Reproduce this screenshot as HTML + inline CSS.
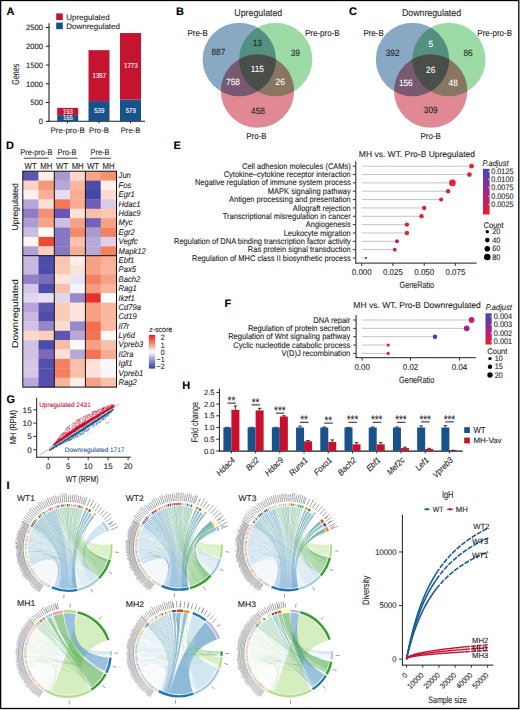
<!DOCTYPE html>
<html><head><meta charset="utf-8"><style>
html,body{margin:0;padding:0;background:#fff;}
svg{display:block;}
text{font-family:"Liberation Sans",sans-serif;text-rendering:geometricPrecision;stroke:currentColor;stroke-width:0.1px;}
</style></head><body>
<svg width="520" height="710" viewBox="0 0 520 710" font-family="Liberation Sans, sans-serif" fill="#1e1e1e" color="#1e1e1e">
<rect x="0" y="0" width="520" height="710" fill="#fff"/>
<text x="6.60" y="14.80" font-size="11" fill="#000" color="#000" font-weight="bold">A</text>
<rect x="56.20" y="13.40" width="6.60" height="6.60" fill="#c41430"/>
<rect x="56.20" y="22.60" width="6.60" height="6.60" fill="#17528a"/>
<text x="66.20" y="19.50" font-size="8" textLength="43.50" lengthAdjust="spacingAndGlyphs">Upregulated</text>
<text x="66.20" y="28.80" font-size="8" textLength="53.80" lengthAdjust="spacingAndGlyphs">Downregulated</text>
<line x1="49.00" y1="23.20" x2="49.00" y2="121.80" stroke="#1e1e1e" stroke-width="1.1"/>
<line x1="48.50" y1="121.30" x2="145.00" y2="121.30" stroke="#1e1e1e" stroke-width="1.1"/>
<line x1="45.80" y1="121.30" x2="49.00" y2="121.30" stroke="#1e1e1e" stroke-width="1"/>
<text x="43.00" y="124.05" font-size="7.8" text-anchor="end" textLength="4.28" lengthAdjust="spacingAndGlyphs">0</text>
<line x1="45.80" y1="102.54" x2="49.00" y2="102.54" stroke="#1e1e1e" stroke-width="1"/>
<text x="43.00" y="105.29" font-size="7.8" text-anchor="end" textLength="12.84" lengthAdjust="spacingAndGlyphs">500</text>
<line x1="45.80" y1="83.78" x2="49.00" y2="83.78" stroke="#1e1e1e" stroke-width="1"/>
<text x="43.00" y="86.53" font-size="7.8" text-anchor="end" textLength="17.12" lengthAdjust="spacingAndGlyphs">1000</text>
<line x1="45.80" y1="65.02" x2="49.00" y2="65.02" stroke="#1e1e1e" stroke-width="1"/>
<text x="43.00" y="67.77" font-size="7.8" text-anchor="end" textLength="17.12" lengthAdjust="spacingAndGlyphs">1500</text>
<line x1="45.80" y1="46.26" x2="49.00" y2="46.26" stroke="#1e1e1e" stroke-width="1"/>
<text x="43.00" y="49.01" font-size="7.8" text-anchor="end" textLength="17.12" lengthAdjust="spacingAndGlyphs">2000</text>
<line x1="45.80" y1="27.50" x2="49.00" y2="27.50" stroke="#1e1e1e" stroke-width="1"/>
<text x="43.00" y="30.25" font-size="7.8" text-anchor="end" textLength="17.12" lengthAdjust="spacingAndGlyphs">2500</text>
<text x="18.90" y="74.30" font-size="10" text-anchor="middle" textLength="21.00" lengthAdjust="spacingAndGlyphs" transform="rotate(-90 18.90 74.30)">Genes</text>
<rect x="57.20" y="115.11" width="21.00" height="6.19" fill="#17528a"/>
<rect x="57.20" y="107.87" width="21.00" height="7.24" fill="#c41430"/>
<line x1="67.60" y1="121.30" x2="67.60" y2="123.30" stroke="#1e1e1e" stroke-width="1"/>
<text x="67.60" y="133.00" font-size="8" text-anchor="middle" textLength="34.10" lengthAdjust="spacingAndGlyphs">Pre-pro-B</text>
<rect x="88.50" y="101.08" width="21.00" height="20.22" fill="#17528a"/>
<rect x="88.50" y="50.16" width="21.00" height="50.91" fill="#c41430"/>
<line x1="99.00" y1="121.30" x2="99.00" y2="123.30" stroke="#1e1e1e" stroke-width="1"/>
<text x="99.00" y="133.00" font-size="8" text-anchor="middle" textLength="19.80" lengthAdjust="spacingAndGlyphs">Pro-B</text>
<rect x="120.00" y="99.58" width="21.00" height="21.72" fill="#17528a"/>
<rect x="120.00" y="33.05" width="21.00" height="66.52" fill="#c41430"/>
<line x1="130.50" y1="121.30" x2="130.50" y2="123.30" stroke="#1e1e1e" stroke-width="1"/>
<text x="130.50" y="133.00" font-size="8" text-anchor="middle" textLength="19.40" lengthAdjust="spacingAndGlyphs">Pre-B</text>
<text x="67.90" y="113.80" font-size="7.2" text-anchor="middle" fill="#fff" color="#fff" textLength="9.80" lengthAdjust="spacingAndGlyphs">193</text>
<text x="67.90" y="120.20" font-size="7.2" text-anchor="middle" fill="#fff" color="#fff" textLength="9.80" lengthAdjust="spacingAndGlyphs">165</text>
<text x="99.30" y="77.50" font-size="7.2" text-anchor="middle" fill="#fff" color="#fff" textLength="13.60" lengthAdjust="spacingAndGlyphs">1357</text>
<text x="99.30" y="112.60" font-size="7.2" text-anchor="middle" fill="#fff" color="#fff" textLength="10.20" lengthAdjust="spacingAndGlyphs">539</text>
<text x="130.80" y="68.30" font-size="7.2" text-anchor="middle" fill="#fff" color="#fff" textLength="13.60" lengthAdjust="spacingAndGlyphs">1773</text>
<text x="130.80" y="112.60" font-size="7.2" text-anchor="middle" fill="#fff" color="#fff" textLength="10.20" lengthAdjust="spacingAndGlyphs">579</text>
<text x="176.00" y="14.50" font-size="11" fill="#000" color="#000" font-weight="bold">B</text>
<g style="isolation:isolate">
<circle cx="239.30" cy="59.50" r="36.70" fill="#88a8c4"/>
<circle cx="275.70" cy="59.50" r="36.70" fill="#9cdba6" style="mix-blend-mode:multiply"/>
<circle cx="257.50" cy="91.00" r="36.70" fill="#e08994" style="mix-blend-mode:multiply"/>
</g>
<text x="258.30" y="16.20" font-size="9.68" text-anchor="middle" textLength="47.95" lengthAdjust="spacingAndGlyphs">Upregulated</text>
<text x="197.70" y="35.80" font-size="8.8" text-anchor="middle" textLength="20.45" lengthAdjust="spacingAndGlyphs">Pre-B</text>
<text x="322.30" y="35.80" font-size="8.8" text-anchor="middle" textLength="34.68" lengthAdjust="spacingAndGlyphs">Pre-pro-B</text>
<text x="256.50" y="139.30" font-size="8.8" text-anchor="middle" textLength="20.45" lengthAdjust="spacingAndGlyphs">Pro-B</text>
<text x="218.40" y="54.80" font-size="9.13" text-anchor="middle" textLength="13.85" lengthAdjust="spacingAndGlyphs">887</text>
<text x="257.30" y="45.60" font-size="9.13" text-anchor="middle" textLength="9.23" lengthAdjust="spacingAndGlyphs">13</text>
<text x="295.30" y="55.50" font-size="9.13" text-anchor="middle" textLength="9.23" lengthAdjust="spacingAndGlyphs">39</text>
<text x="257.30" y="71.60" font-size="9.13" text-anchor="middle" fill="#fff" color="#fff" textLength="13.23" lengthAdjust="spacingAndGlyphs">115</text>
<text x="233.00" y="84.90" font-size="9.13" text-anchor="middle" fill="#fff" color="#fff" textLength="13.85" lengthAdjust="spacingAndGlyphs">758</text>
<text x="280.20" y="84.90" font-size="9.13" text-anchor="middle" fill="#fff" color="#fff" textLength="9.23" lengthAdjust="spacingAndGlyphs">26</text>
<text x="258.00" y="114.40" font-size="9.13" text-anchor="middle" textLength="13.85" lengthAdjust="spacingAndGlyphs">458</text>
<text x="349.00" y="14.50" font-size="11" fill="#000" color="#000" font-weight="bold">C</text>
<g style="isolation:isolate">
<circle cx="412.50" cy="59.50" r="36.70" fill="#88a8c4"/>
<circle cx="448.90" cy="59.50" r="36.70" fill="#9cdba6" style="mix-blend-mode:multiply"/>
<circle cx="430.70" cy="91.00" r="36.70" fill="#e08994" style="mix-blend-mode:multiply"/>
</g>
<text x="431.50" y="16.20" font-size="9.68" text-anchor="middle" textLength="59.20" lengthAdjust="spacingAndGlyphs">Downregulated</text>
<text x="373.60" y="35.80" font-size="8.8" text-anchor="middle" textLength="20.45" lengthAdjust="spacingAndGlyphs">Pre-B</text>
<text x="494.70" y="35.80" font-size="8.8" text-anchor="middle" textLength="34.68" lengthAdjust="spacingAndGlyphs">Pre-pro-B</text>
<text x="430.70" y="139.30" font-size="8.8" text-anchor="middle" textLength="20.45" lengthAdjust="spacingAndGlyphs">Pro-B</text>
<text x="392.60" y="55.50" font-size="9.13" text-anchor="middle" textLength="13.85" lengthAdjust="spacingAndGlyphs">392</text>
<text x="430.70" y="47.20" font-size="9.13" text-anchor="middle" fill="#fff" color="#fff" textLength="4.62" lengthAdjust="spacingAndGlyphs">5</text>
<text x="468.00" y="55.50" font-size="9.13" text-anchor="middle" textLength="9.23" lengthAdjust="spacingAndGlyphs">86</text>
<text x="430.70" y="73.20" font-size="9.13" text-anchor="middle" fill="#fff" color="#fff" textLength="9.23" lengthAdjust="spacingAndGlyphs">26</text>
<text x="405.80" y="85.90" font-size="9.13" text-anchor="middle" fill="#fff" color="#fff" textLength="13.85" lengthAdjust="spacingAndGlyphs">156</text>
<text x="453.20" y="85.90" font-size="9.13" text-anchor="middle" fill="#fff" color="#fff" textLength="9.23" lengthAdjust="spacingAndGlyphs">48</text>
<text x="430.70" y="112.90" font-size="9.13" text-anchor="middle" textLength="13.85" lengthAdjust="spacingAndGlyphs">309</text>
<text x="6.10" y="149.00" font-size="11" fill="#000" color="#000" font-weight="bold">D</text>
<rect x="22.80" y="171.20" width="16.00" height="9.69" fill="#5a55b0"/>
<rect x="38.50" y="171.20" width="16.10" height="9.69" fill="#fdeee8"/>
<rect x="54.30" y="171.20" width="16.00" height="9.69" fill="#a89ad0"/>
<rect x="70.00" y="171.20" width="15.70" height="9.69" fill="#fcd9cc"/>
<rect x="85.40" y="171.20" width="15.60" height="9.69" fill="#f8a68a"/>
<rect x="100.70" y="171.20" width="16.10" height="9.69" fill="#f59072"/>
<rect x="22.80" y="180.59" width="16.00" height="9.69" fill="#fbd3c5"/>
<rect x="38.50" y="180.59" width="16.10" height="9.69" fill="#f59878"/>
<rect x="54.30" y="180.59" width="16.00" height="9.69" fill="#b7a8d8"/>
<rect x="70.00" y="180.59" width="15.70" height="9.69" fill="#f9b6a0"/>
<rect x="85.40" y="180.59" width="15.60" height="9.69" fill="#4d4ca8"/>
<rect x="100.70" y="180.59" width="16.10" height="9.69" fill="#fdf0ea"/>
<rect x="22.80" y="189.97" width="16.00" height="9.69" fill="#fdf0ea"/>
<rect x="38.50" y="189.97" width="16.10" height="9.69" fill="#f8ae98"/>
<rect x="54.30" y="189.97" width="16.00" height="9.69" fill="#e4dcf0"/>
<rect x="70.00" y="189.97" width="15.70" height="9.69" fill="#f8ac92"/>
<rect x="85.40" y="189.97" width="15.60" height="9.69" fill="#4048a8"/>
<rect x="100.70" y="189.97" width="16.10" height="9.69" fill="#fcdcd0"/>
<rect x="22.80" y="199.36" width="16.00" height="9.69" fill="#b9a6d8"/>
<rect x="38.50" y="199.36" width="16.10" height="9.69" fill="#fde0d4"/>
<rect x="54.30" y="199.36" width="16.00" height="9.69" fill="#f27858"/>
<rect x="70.00" y="199.36" width="15.70" height="9.69" fill="#f8ac92"/>
<rect x="85.40" y="199.36" width="15.60" height="9.69" fill="#6e5cb8"/>
<rect x="100.70" y="199.36" width="16.10" height="9.69" fill="#d8cce8"/>
<rect x="22.80" y="208.75" width="16.00" height="9.69" fill="#8e7cc4"/>
<rect x="38.50" y="208.75" width="16.10" height="9.69" fill="#f59072"/>
<rect x="54.30" y="208.75" width="16.00" height="9.69" fill="#6858b4"/>
<rect x="70.00" y="208.75" width="15.70" height="9.69" fill="#fde2d6"/>
<rect x="85.40" y="208.75" width="15.60" height="9.69" fill="#f9c0a8"/>
<rect x="100.70" y="208.75" width="16.10" height="9.69" fill="#fcc8b4"/>
<rect x="22.80" y="218.13" width="16.00" height="9.69" fill="#ae9cd4"/>
<rect x="38.50" y="218.13" width="16.10" height="9.69" fill="#f6a488"/>
<rect x="54.30" y="218.13" width="16.00" height="9.69" fill="#cdbfe2"/>
<rect x="70.00" y="218.13" width="15.70" height="9.69" fill="#f6a084"/>
<rect x="85.40" y="218.13" width="15.60" height="9.69" fill="#7460b8"/>
<rect x="100.70" y="218.13" width="16.10" height="9.69" fill="#f6a084"/>
<rect x="22.80" y="227.52" width="16.00" height="9.69" fill="#cabde4"/>
<rect x="38.50" y="227.52" width="16.10" height="9.69" fill="#fff8f4"/>
<rect x="54.30" y="227.52" width="16.00" height="9.69" fill="#8878c4"/>
<rect x="70.00" y="227.52" width="15.70" height="9.69" fill="#f48a6c"/>
<rect x="85.40" y="227.52" width="15.60" height="9.69" fill="#ab9ad0"/>
<rect x="100.70" y="227.52" width="16.10" height="9.69" fill="#f4825e"/>
<rect x="22.80" y="236.91" width="16.00" height="9.69" fill="#fff6f2"/>
<rect x="38.50" y="236.91" width="16.10" height="9.69" fill="#ee4a30"/>
<rect x="54.30" y="236.91" width="16.00" height="9.69" fill="#8878c4"/>
<rect x="70.00" y="236.91" width="15.70" height="9.69" fill="#f9c2ac"/>
<rect x="85.40" y="236.91" width="15.60" height="9.69" fill="#b8a8d8"/>
<rect x="100.70" y="236.91" width="16.10" height="9.69" fill="#dcd0ec"/>
<rect x="22.80" y="246.30" width="16.00" height="9.69" fill="#b0a0d4"/>
<rect x="38.50" y="246.30" width="16.10" height="9.69" fill="#fcd0bc"/>
<rect x="54.30" y="246.30" width="16.00" height="9.69" fill="#8878c4"/>
<rect x="70.00" y="246.30" width="15.70" height="9.69" fill="#f8ae94"/>
<rect x="85.40" y="246.30" width="15.60" height="9.69" fill="#b8a8d8"/>
<rect x="100.70" y="246.30" width="16.10" height="9.69" fill="#f4805c"/>
<rect x="22.80" y="255.68" width="16.00" height="9.69" fill="#c8b8e0"/>
<rect x="38.50" y="255.68" width="16.10" height="9.69" fill="#4a4eaa"/>
<rect x="54.30" y="255.68" width="16.00" height="9.69" fill="#f9c4b0"/>
<rect x="70.00" y="255.68" width="15.70" height="9.69" fill="#fdf0ea"/>
<rect x="85.40" y="255.68" width="15.60" height="9.69" fill="#f6a084"/>
<rect x="100.70" y="255.68" width="16.10" height="9.69" fill="#f8b098"/>
<rect x="22.80" y="265.07" width="16.00" height="9.69" fill="#c8b8e0"/>
<rect x="38.50" y="265.07" width="16.10" height="9.69" fill="#4a4eaa"/>
<rect x="54.30" y="265.07" width="16.00" height="9.69" fill="#fbcab6"/>
<rect x="70.00" y="265.07" width="15.70" height="9.69" fill="#fde2d8"/>
<rect x="85.40" y="265.07" width="15.60" height="9.69" fill="#f6a084"/>
<rect x="100.70" y="265.07" width="16.10" height="9.69" fill="#f9b49c"/>
<rect x="22.80" y="274.46" width="16.00" height="9.69" fill="#9480c8"/>
<rect x="38.50" y="274.46" width="16.10" height="9.69" fill="#7c6cbc"/>
<rect x="54.30" y="274.46" width="16.00" height="9.69" fill="#fde4dc"/>
<rect x="70.00" y="274.46" width="15.70" height="9.69" fill="#e8e4f4"/>
<rect x="85.40" y="274.46" width="15.60" height="9.69" fill="#f48060"/>
<rect x="100.70" y="274.46" width="16.10" height="9.69" fill="#f6a084"/>
<rect x="22.80" y="283.84" width="16.00" height="9.69" fill="#d4c8e8"/>
<rect x="38.50" y="283.84" width="16.10" height="9.69" fill="#4e4eaa"/>
<rect x="54.30" y="283.84" width="16.00" height="9.69" fill="#f9c0aa"/>
<rect x="70.00" y="283.84" width="15.70" height="9.69" fill="#f6f4fb"/>
<rect x="85.40" y="283.84" width="15.60" height="9.69" fill="#f59c80"/>
<rect x="100.70" y="283.84" width="16.10" height="9.69" fill="#f8b49c"/>
<rect x="22.80" y="293.23" width="16.00" height="9.69" fill="#e0d6ee"/>
<rect x="38.50" y="293.23" width="16.10" height="9.69" fill="#eadff0"/>
<rect x="54.30" y="293.23" width="16.00" height="9.69" fill="#e0d6ee"/>
<rect x="70.00" y="293.23" width="15.70" height="9.69" fill="#9888cc"/>
<rect x="85.40" y="293.23" width="15.60" height="9.69" fill="#e8302a"/>
<rect x="100.70" y="293.23" width="16.10" height="9.69" fill="#ffffff"/>
<rect x="22.80" y="302.62" width="16.00" height="9.69" fill="#b8a4d8"/>
<rect x="38.50" y="302.62" width="16.10" height="9.69" fill="#5a55b0"/>
<rect x="54.30" y="302.62" width="16.00" height="9.69" fill="#fbccb8"/>
<rect x="70.00" y="302.62" width="15.70" height="9.69" fill="#fde4da"/>
<rect x="85.40" y="302.62" width="15.60" height="9.69" fill="#f6a084"/>
<rect x="100.70" y="302.62" width="16.10" height="9.69" fill="#f9b8a0"/>
<rect x="22.80" y="312.00" width="16.00" height="9.69" fill="#c8b8e0"/>
<rect x="38.50" y="312.00" width="16.10" height="9.69" fill="#4e4eaa"/>
<rect x="54.30" y="312.00" width="16.00" height="9.69" fill="#fbccb8"/>
<rect x="70.00" y="312.00" width="15.70" height="9.69" fill="#fde4da"/>
<rect x="85.40" y="312.00" width="15.60" height="9.69" fill="#f6a084"/>
<rect x="100.70" y="312.00" width="16.10" height="9.69" fill="#f9b8a0"/>
<rect x="22.80" y="321.39" width="16.00" height="9.69" fill="#d0c4e6"/>
<rect x="38.50" y="321.39" width="16.10" height="9.69" fill="#9484c8"/>
<rect x="54.30" y="321.39" width="16.00" height="9.69" fill="#fcdcd0"/>
<rect x="70.00" y="321.39" width="15.70" height="9.69" fill="#9888cc"/>
<rect x="85.40" y="321.39" width="15.60" height="9.69" fill="#f27050"/>
<rect x="100.70" y="321.39" width="16.10" height="9.69" fill="#f9b8a0"/>
<rect x="22.80" y="330.78" width="16.00" height="9.69" fill="#fcd8c8"/>
<rect x="38.50" y="330.78" width="16.10" height="9.69" fill="#fcd0bc"/>
<rect x="54.30" y="330.78" width="16.00" height="9.69" fill="#5e56b0"/>
<rect x="70.00" y="330.78" width="15.70" height="9.69" fill="#b8a8d8"/>
<rect x="85.40" y="330.78" width="15.60" height="9.69" fill="#f27456"/>
<rect x="100.70" y="330.78" width="16.10" height="9.69" fill="#fff8f4"/>
<rect x="22.80" y="340.17" width="16.00" height="9.69" fill="#d0c4e6"/>
<rect x="38.50" y="340.17" width="16.10" height="9.69" fill="#4a4eaa"/>
<rect x="54.30" y="340.17" width="16.00" height="9.69" fill="#f9bca6"/>
<rect x="70.00" y="340.17" width="15.70" height="9.69" fill="#fffaf6"/>
<rect x="85.40" y="340.17" width="15.60" height="9.69" fill="#f6a084"/>
<rect x="100.70" y="340.17" width="16.10" height="9.69" fill="#f9c0ac"/>
<rect x="22.80" y="349.55" width="16.00" height="9.69" fill="#d0c4e6"/>
<rect x="38.50" y="349.55" width="16.10" height="9.69" fill="#7c68bc"/>
<rect x="54.30" y="349.55" width="16.00" height="9.69" fill="#fde0d4"/>
<rect x="70.00" y="349.55" width="15.70" height="9.69" fill="#b8a8d8"/>
<rect x="85.40" y="349.55" width="15.60" height="9.69" fill="#f27456"/>
<rect x="100.70" y="349.55" width="16.10" height="9.69" fill="#f8ac92"/>
<rect x="22.80" y="358.94" width="16.00" height="9.69" fill="#d4c8e8"/>
<rect x="38.50" y="358.94" width="16.10" height="9.69" fill="#5650ac"/>
<rect x="54.30" y="358.94" width="16.00" height="9.69" fill="#f48060"/>
<rect x="70.00" y="358.94" width="15.70" height="9.69" fill="#f9c0a8"/>
<rect x="85.40" y="358.94" width="15.60" height="9.69" fill="#fde2d8"/>
<rect x="100.70" y="358.94" width="16.10" height="9.69" fill="#fbf8fc"/>
<rect x="22.80" y="368.33" width="16.00" height="9.69" fill="#d4c8e8"/>
<rect x="38.50" y="368.33" width="16.10" height="9.69" fill="#5650ac"/>
<rect x="54.30" y="368.33" width="16.00" height="9.69" fill="#f48060"/>
<rect x="70.00" y="368.33" width="15.70" height="9.69" fill="#f9c0a8"/>
<rect x="85.40" y="368.33" width="15.60" height="9.69" fill="#fde2d8"/>
<rect x="100.70" y="368.33" width="16.10" height="9.69" fill="#f8f6fc"/>
<rect x="22.80" y="377.71" width="16.00" height="9.69" fill="#bca8d8"/>
<rect x="38.50" y="377.71" width="16.10" height="9.69" fill="#5650ac"/>
<rect x="54.30" y="377.71" width="16.00" height="9.69" fill="#f8b49c"/>
<rect x="70.00" y="377.71" width="15.70" height="9.69" fill="#fdeee8"/>
<rect x="85.40" y="377.71" width="15.60" height="9.69" fill="#f6a084"/>
<rect x="100.70" y="377.71" width="16.10" height="9.69" fill="#f9c0a8"/>
<rect x="22.80" y="171.20" width="93.70" height="215.90" fill="none" stroke="#111" stroke-width="1"/>
<line x1="54.30" y1="171.20" x2="54.30" y2="387.10" stroke="#111" stroke-width="1"/>
<line x1="85.40" y1="171.20" x2="85.40" y2="387.10" stroke="#111" stroke-width="1"/>
<line x1="22.80" y1="255.68" x2="116.50" y2="255.68" stroke="#111" stroke-width="1"/>
<text x="118.60" y="178.49" font-size="8.36" font-style="italic" textLength="12.25" lengthAdjust="spacingAndGlyphs">Jun</text>
<text x="118.60" y="187.88" font-size="8.36" font-style="italic" textLength="12.67" lengthAdjust="spacingAndGlyphs">Fos</text>
<text x="118.60" y="197.27" font-size="8.36" font-style="italic" textLength="16.05" lengthAdjust="spacingAndGlyphs">Egr1</text>
<text x="118.60" y="206.65" font-size="8.36" font-style="italic" textLength="21.97" lengthAdjust="spacingAndGlyphs">Hdac1</text>
<text x="118.60" y="216.04" font-size="8.36" font-style="italic" textLength="21.97" lengthAdjust="spacingAndGlyphs">Hdac9</text>
<text x="118.60" y="225.43" font-size="8.36" font-style="italic" textLength="13.93" lengthAdjust="spacingAndGlyphs">Myc</text>
<text x="118.60" y="234.82" font-size="8.36" font-style="italic" textLength="16.05" lengthAdjust="spacingAndGlyphs">Egr2</text>
<text x="118.60" y="244.20" font-size="8.36" font-style="italic" textLength="19.15" lengthAdjust="spacingAndGlyphs">Vegfc</text>
<text x="118.60" y="253.59" font-size="8.36" font-style="italic" textLength="27.04" lengthAdjust="spacingAndGlyphs">Mapk12</text>
<text x="118.60" y="262.98" font-size="8.36" font-style="italic" textLength="15.63" lengthAdjust="spacingAndGlyphs">Ebf1</text>
<text x="118.60" y="272.36" font-size="8.36" font-style="italic" textLength="17.32" lengthAdjust="spacingAndGlyphs">Pax5</text>
<text x="118.60" y="281.75" font-size="8.36" font-style="italic" textLength="21.55" lengthAdjust="spacingAndGlyphs">Bach2</text>
<text x="118.60" y="291.14" font-size="8.36" font-style="italic" textLength="18.17" lengthAdjust="spacingAndGlyphs">Rag1</text>
<text x="118.60" y="300.52" font-size="8.36" font-style="italic" textLength="16.05" lengthAdjust="spacingAndGlyphs">Ikzf1</text>
<text x="118.60" y="309.91" font-size="8.36" font-style="italic" textLength="22.40" lengthAdjust="spacingAndGlyphs">Cd79a</text>
<text x="118.60" y="319.30" font-size="8.36" font-style="italic" textLength="18.17" lengthAdjust="spacingAndGlyphs">Cd19</text>
<text x="118.60" y="328.68" font-size="8.36" font-style="italic" textLength="10.56" lengthAdjust="spacingAndGlyphs">Il7r</text>
<text x="118.60" y="338.07" font-size="8.36" font-style="italic" textLength="16.34" lengthAdjust="spacingAndGlyphs">Ly6d</text>
<text x="118.60" y="347.46" font-size="8.36" font-style="italic" textLength="24.51" lengthAdjust="spacingAndGlyphs">Vpreb3</text>
<text x="118.60" y="356.85" font-size="8.36" font-style="italic" textLength="14.78" lengthAdjust="spacingAndGlyphs">Il2ra</text>
<text x="118.60" y="366.23" font-size="8.36" font-style="italic" textLength="13.94" lengthAdjust="spacingAndGlyphs">Igll1</text>
<text x="118.60" y="375.62" font-size="8.36" font-style="italic" textLength="24.51" lengthAdjust="spacingAndGlyphs">Vpreb1</text>
<text x="118.60" y="385.01" font-size="8.36" font-style="italic" textLength="18.17" lengthAdjust="spacingAndGlyphs">Rag2</text>
<text x="36.30" y="155.20" font-size="8.14" text-anchor="middle" textLength="32.08" lengthAdjust="spacingAndGlyphs">Pre-pro-B</text>
<text x="67.00" y="155.20" font-size="8.14" text-anchor="middle" textLength="18.92" lengthAdjust="spacingAndGlyphs">Pro-B</text>
<text x="100.00" y="155.20" font-size="8.14" text-anchor="middle" textLength="18.92" lengthAdjust="spacingAndGlyphs">Pre-B</text>
<line x1="23.80" y1="158.20" x2="48.80" y2="158.20" stroke="#555" stroke-width="1.1"/>
<line x1="56.30" y1="158.20" x2="77.50" y2="158.20" stroke="#555" stroke-width="1.1"/>
<line x1="90.00" y1="158.20" x2="111.30" y2="158.20" stroke="#555" stroke-width="1.1"/>
<text x="30.65" y="168.90" font-size="8.58" text-anchor="middle" textLength="12.13" lengthAdjust="spacingAndGlyphs">WT</text>
<text x="46.40" y="168.90" font-size="8.58" text-anchor="middle" textLength="12.13" lengthAdjust="spacingAndGlyphs">MH</text>
<text x="62.15" y="168.90" font-size="8.58" text-anchor="middle" textLength="12.13" lengthAdjust="spacingAndGlyphs">WT</text>
<text x="77.70" y="168.90" font-size="8.58" text-anchor="middle" textLength="12.13" lengthAdjust="spacingAndGlyphs">MH</text>
<text x="93.05" y="168.90" font-size="8.58" text-anchor="middle" textLength="12.13" lengthAdjust="spacingAndGlyphs">WT</text>
<text x="108.60" y="168.90" font-size="8.58" text-anchor="middle" textLength="12.13" lengthAdjust="spacingAndGlyphs">MH</text>
<text x="18.40" y="206.80" font-size="8.5" text-anchor="middle" textLength="47.40" lengthAdjust="spacingAndGlyphs" transform="rotate(-90 18.40 206.80)">Upregulated</text>
<text x="18.40" y="313.50" font-size="8.5" text-anchor="middle" textLength="69.00" lengthAdjust="spacingAndGlyphs" transform="rotate(-90 18.40 313.50)">Downregulated</text>
<defs><linearGradient id="zs" x1="0" y1="0" x2="0" y2="1"><stop offset="0" stop-color="#e8202a"/><stop offset="0.25" stop-color="#f4876a"/><stop offset="0.5" stop-color="#ffffff"/><stop offset="0.75" stop-color="#9b8fcf"/><stop offset="1" stop-color="#2f3f9f"/></linearGradient></defs>
<rect x="148.90" y="335.00" width="6.30" height="33.60" fill="url(#zs)"/>
<text x="160.70" y="332.30" font-size="7.7" text-anchor="middle" textLength="22.95" lengthAdjust="spacingAndGlyphs">z-score</text>
<text x="164.60" y="340.40" font-size="7.7" text-anchor="end" textLength="3.89" lengthAdjust="spacingAndGlyphs">2</text>
<text x="164.60" y="347.50" font-size="7.7" text-anchor="end" textLength="3.89" lengthAdjust="spacingAndGlyphs">1</text>
<text x="164.60" y="354.50" font-size="7.7" text-anchor="end" textLength="3.89" lengthAdjust="spacingAndGlyphs">0</text>
<text x="164.60" y="361.50" font-size="7.7" text-anchor="end" textLength="7.98" lengthAdjust="spacingAndGlyphs">−1</text>
<text x="164.60" y="368.80" font-size="7.7" text-anchor="end" textLength="7.98" lengthAdjust="spacingAndGlyphs">−2</text>
<text x="173.60" y="148.80" font-size="11" fill="#000" color="#000" font-weight="bold">E</text>
<line x1="361.70" y1="166.20" x2="471.50" y2="166.20" stroke="#c4c4c4" stroke-width="1"/>
<circle cx="471.50" cy="166.20" r="2.40" fill="#e8202c"/>
<line x1="352.80" y1="166.20" x2="355.80" y2="166.20" stroke="#1e1e1e" stroke-width="0.9"/>
<text x="350.80" y="168.80" font-size="8.25" text-anchor="end" textLength="108.79" lengthAdjust="spacingAndGlyphs">Cell adhesion molecules (CAMs)</text>
<line x1="361.70" y1="174.55" x2="469.40" y2="174.55" stroke="#c4c4c4" stroke-width="1"/>
<circle cx="469.40" cy="174.55" r="2.40" fill="#e8202c"/>
<line x1="352.80" y1="174.55" x2="355.80" y2="174.55" stroke="#1e1e1e" stroke-width="0.9"/>
<text x="350.80" y="177.15" font-size="8.25" text-anchor="end" textLength="127.15" lengthAdjust="spacingAndGlyphs">Cytokine–cytokine receptor interaction</text>
<line x1="361.70" y1="182.89" x2="452.40" y2="182.89" stroke="#c4c4c4" stroke-width="1"/>
<circle cx="452.40" cy="182.89" r="3.30" fill="#e8202c"/>
<line x1="352.80" y1="182.89" x2="355.80" y2="182.89" stroke="#1e1e1e" stroke-width="0.9"/>
<text x="350.80" y="185.49" font-size="8.25" text-anchor="end" textLength="155.91" lengthAdjust="spacingAndGlyphs">Negative regulation of immune system process</text>
<line x1="361.70" y1="191.24" x2="448.10" y2="191.24" stroke="#c4c4c4" stroke-width="1"/>
<circle cx="448.10" cy="191.24" r="2.20" fill="#e8202c"/>
<line x1="352.80" y1="191.24" x2="355.80" y2="191.24" stroke="#1e1e1e" stroke-width="0.9"/>
<text x="350.80" y="193.84" font-size="8.25" text-anchor="end" textLength="82.96" lengthAdjust="spacingAndGlyphs">MAPK signaling pathway</text>
<line x1="361.70" y1="199.58" x2="441.10" y2="199.58" stroke="#c4c4c4" stroke-width="1"/>
<circle cx="441.10" cy="199.58" r="2.10" fill="#e8202c"/>
<line x1="352.80" y1="199.58" x2="355.80" y2="199.58" stroke="#1e1e1e" stroke-width="0.9"/>
<text x="350.80" y="202.18" font-size="8.25" text-anchor="end" textLength="121.75" lengthAdjust="spacingAndGlyphs">Antigen processing and presentation</text>
<line x1="361.70" y1="207.93" x2="424.20" y2="207.93" stroke="#c4c4c4" stroke-width="1"/>
<circle cx="424.20" cy="207.93" r="2.20" fill="#e8202c"/>
<line x1="352.80" y1="207.93" x2="355.80" y2="207.93" stroke="#1e1e1e" stroke-width="0.9"/>
<text x="350.80" y="210.53" font-size="8.25" text-anchor="end" textLength="57.95" lengthAdjust="spacingAndGlyphs">Allograft rejection</text>
<line x1="361.70" y1="216.27" x2="421.50" y2="216.27" stroke="#c4c4c4" stroke-width="1"/>
<circle cx="421.50" cy="216.27" r="2.20" fill="#e02238"/>
<line x1="352.80" y1="216.27" x2="355.80" y2="216.27" stroke="#1e1e1e" stroke-width="0.9"/>
<text x="350.80" y="218.87" font-size="8.25" text-anchor="end" textLength="128.12" lengthAdjust="spacingAndGlyphs">Transcriptional misregulation in cancer</text>
<line x1="361.70" y1="224.62" x2="406.90" y2="224.62" stroke="#c4c4c4" stroke-width="1"/>
<circle cx="406.90" cy="224.62" r="2.20" fill="#e8202c"/>
<line x1="352.80" y1="224.62" x2="355.80" y2="224.62" stroke="#1e1e1e" stroke-width="0.9"/>
<text x="350.80" y="227.22" font-size="8.25" text-anchor="end" textLength="45.03" lengthAdjust="spacingAndGlyphs">Angiogenesis</text>
<line x1="361.70" y1="232.96" x2="406.90" y2="232.96" stroke="#c4c4c4" stroke-width="1"/>
<circle cx="406.90" cy="232.96" r="2.20" fill="#e8202c"/>
<line x1="352.80" y1="232.96" x2="355.80" y2="232.96" stroke="#1e1e1e" stroke-width="0.9"/>
<text x="350.80" y="235.56" font-size="8.25" text-anchor="end" textLength="67.12" lengthAdjust="spacingAndGlyphs">Leukocyte migration</text>
<line x1="361.70" y1="241.31" x2="397.00" y2="241.31" stroke="#c4c4c4" stroke-width="1"/>
<circle cx="397.00" cy="241.31" r="2.00" fill="#b8207a"/>
<line x1="352.80" y1="241.31" x2="355.80" y2="241.31" stroke="#1e1e1e" stroke-width="0.9"/>
<text x="350.80" y="243.91" font-size="8.25" text-anchor="end" textLength="176.76" lengthAdjust="spacingAndGlyphs">Regulation of DNA binding transcription factor activity</text>
<line x1="361.70" y1="249.65" x2="394.80" y2="249.65" stroke="#c4c4c4" stroke-width="1"/>
<circle cx="394.80" cy="249.65" r="1.90" fill="#d41d4a"/>
<line x1="352.80" y1="249.65" x2="355.80" y2="249.65" stroke="#1e1e1e" stroke-width="0.9"/>
<text x="350.80" y="252.25" font-size="8.25" text-anchor="end" textLength="102.98" lengthAdjust="spacingAndGlyphs">Ras protein signal transduction</text>
<line x1="361.70" y1="258.00" x2="366.00" y2="258.00" stroke="#c4c4c4" stroke-width="1"/>
<circle cx="366.00" cy="258.00" r="1.10" fill="#2a3fa8"/>
<line x1="352.80" y1="258.00" x2="355.80" y2="258.00" stroke="#1e1e1e" stroke-width="0.9"/>
<text x="350.80" y="260.60" font-size="8.25" text-anchor="end" textLength="158.82" lengthAdjust="spacingAndGlyphs">Regulation of MHC class II biosynthetic process</text>
<line x1="355.80" y1="161.30" x2="355.80" y2="263.60" stroke="#1e1e1e" stroke-width="1"/>
<line x1="355.30" y1="263.10" x2="476.70" y2="263.10" stroke="#1e1e1e" stroke-width="1"/>
<line x1="361.70" y1="263.10" x2="361.70" y2="266.00" stroke="#1e1e1e" stroke-width="0.9"/>
<text x="361.70" y="275.20" font-size="8.69" text-anchor="middle" textLength="19.77" lengthAdjust="spacingAndGlyphs">0.000</text>
<line x1="392.90" y1="263.10" x2="392.90" y2="266.00" stroke="#1e1e1e" stroke-width="0.9"/>
<text x="392.90" y="275.20" font-size="8.69" text-anchor="middle" textLength="19.77" lengthAdjust="spacingAndGlyphs">0.025</text>
<line x1="424.20" y1="263.10" x2="424.20" y2="266.00" stroke="#1e1e1e" stroke-width="0.9"/>
<text x="424.20" y="275.20" font-size="8.69" text-anchor="middle" textLength="19.77" lengthAdjust="spacingAndGlyphs">0.050</text>
<line x1="455.40" y1="263.10" x2="455.40" y2="266.00" stroke="#1e1e1e" stroke-width="0.9"/>
<text x="455.40" y="275.20" font-size="8.69" text-anchor="middle" textLength="19.77" lengthAdjust="spacingAndGlyphs">0.075</text>
<text x="416.80" y="287.60" font-size="9.4" text-anchor="middle" textLength="34.60" lengthAdjust="spacingAndGlyphs">GeneRatio</text>
<text x="416.90" y="156.80" font-size="8.5" text-anchor="middle" textLength="116.10" lengthAdjust="spacingAndGlyphs">MH vs. WT. Pro-B Upregulated</text>
<defs><linearGradient id="pa" x1="0" y1="0" x2="0" y2="1"><stop offset="0" stop-color="#3a4ab8"/><stop offset="0.5" stop-color="#a0248e"/><stop offset="1" stop-color="#ee1c25"/></linearGradient></defs>
<text x="482.40" y="165.50" font-size="8.25" font-style="italic" textLength="26.13" lengthAdjust="spacingAndGlyphs">P.adjust</text>
<rect x="483.00" y="168.80" width="6.60" height="45.70" fill="url(#pa)"/>
<line x1="488.20" y1="171.40" x2="489.60" y2="171.40" stroke="#fff" stroke-width="0.8"/>
<text x="491.20" y="174.00" font-size="8.03" textLength="22.33" lengthAdjust="spacingAndGlyphs">0.0125</text>
<line x1="488.20" y1="179.40" x2="489.60" y2="179.40" stroke="#fff" stroke-width="0.8"/>
<text x="491.20" y="182.00" font-size="8.03" textLength="22.33" lengthAdjust="spacingAndGlyphs">0.0100</text>
<line x1="488.20" y1="187.80" x2="489.60" y2="187.80" stroke="#fff" stroke-width="0.8"/>
<text x="491.20" y="190.40" font-size="8.03" textLength="22.33" lengthAdjust="spacingAndGlyphs">0.0075</text>
<line x1="488.20" y1="196.20" x2="489.60" y2="196.20" stroke="#fff" stroke-width="0.8"/>
<text x="491.20" y="198.80" font-size="8.03" textLength="22.33" lengthAdjust="spacingAndGlyphs">0.0050</text>
<line x1="488.20" y1="204.40" x2="489.60" y2="204.40" stroke="#fff" stroke-width="0.8"/>
<text x="491.20" y="207.00" font-size="8.03" textLength="22.33" lengthAdjust="spacingAndGlyphs">0.0025</text>
<text x="483.60" y="228.20" font-size="8.25" textLength="20.01" lengthAdjust="spacingAndGlyphs">Count</text>
<circle cx="487.30" cy="231.80" r="1.70" fill="#000"/>
<text x="492.30" y="234.40" font-size="8.03" textLength="8.12" lengthAdjust="spacingAndGlyphs">20</text>
<circle cx="487.30" cy="240.10" r="2.30" fill="#000"/>
<text x="492.30" y="242.70" font-size="8.03" textLength="8.12" lengthAdjust="spacingAndGlyphs">40</text>
<circle cx="487.30" cy="248.80" r="2.80" fill="#000"/>
<text x="492.30" y="251.40" font-size="8.03" textLength="8.12" lengthAdjust="spacingAndGlyphs">60</text>
<circle cx="487.30" cy="257.00" r="3.30" fill="#000"/>
<text x="492.30" y="259.60" font-size="8.03" textLength="8.12" lengthAdjust="spacingAndGlyphs">80</text>
<text x="224.60" y="307.30" font-size="11" fill="#000" color="#000" font-weight="bold">F</text>
<line x1="362.10" y1="320.00" x2="471.60" y2="320.00" stroke="#c4c4c4" stroke-width="1"/>
<circle cx="471.60" cy="320.00" r="2.90" fill="#c81e78"/>
<line x1="353.20" y1="320.00" x2="356.10" y2="320.00" stroke="#1e1e1e" stroke-width="0.9"/>
<text x="350.30" y="322.60" font-size="8.3" text-anchor="end" textLength="36.93" lengthAdjust="spacingAndGlyphs">DNA repair</text>
<line x1="362.10" y1="328.35" x2="466.70" y2="328.35" stroke="#c4c4c4" stroke-width="1"/>
<circle cx="466.70" cy="328.35" r="2.90" fill="#a02688"/>
<line x1="353.20" y1="328.35" x2="356.10" y2="328.35" stroke="#1e1e1e" stroke-width="0.9"/>
<text x="350.30" y="330.95" font-size="8.3" text-anchor="end" textLength="102.41" lengthAdjust="spacingAndGlyphs">Regulation of protein secretion</text>
<line x1="362.10" y1="336.70" x2="435.00" y2="336.70" stroke="#c4c4c4" stroke-width="1"/>
<circle cx="435.00" cy="336.70" r="2.20" fill="#2f44b0"/>
<line x1="353.20" y1="336.70" x2="356.10" y2="336.70" stroke="#1e1e1e" stroke-width="0.9"/>
<text x="350.30" y="339.30" font-size="8.3" text-anchor="end" textLength="122.13" lengthAdjust="spacingAndGlyphs">Regulation of Wnt signaling pathway</text>
<line x1="362.10" y1="345.05" x2="388.20" y2="345.05" stroke="#c4c4c4" stroke-width="1"/>
<circle cx="388.20" cy="345.05" r="1.60" fill="#ee1c25"/>
<line x1="353.20" y1="345.05" x2="356.10" y2="345.05" stroke="#1e1e1e" stroke-width="0.9"/>
<text x="350.30" y="347.65" font-size="8.3" text-anchor="end" textLength="117.08" lengthAdjust="spacingAndGlyphs">Cyclic nucleotide catabolic process</text>
<line x1="362.10" y1="353.40" x2="388.20" y2="353.40" stroke="#c4c4c4" stroke-width="1"/>
<circle cx="388.20" cy="353.40" r="1.60" fill="#ee1c25"/>
<line x1="353.20" y1="353.40" x2="356.10" y2="353.40" stroke="#1e1e1e" stroke-width="0.9"/>
<text x="350.30" y="356.00" font-size="8.3" text-anchor="end" textLength="68.82" lengthAdjust="spacingAndGlyphs">V(D)J recombination</text>
<line x1="356.10" y1="315.00" x2="356.10" y2="358.20" stroke="#1e1e1e" stroke-width="1"/>
<line x1="355.60" y1="357.70" x2="475.90" y2="357.70" stroke="#1e1e1e" stroke-width="1"/>
<line x1="362.10" y1="357.70" x2="362.10" y2="360.60" stroke="#1e1e1e" stroke-width="0.9"/>
<text x="362.10" y="370.20" font-size="8.69" text-anchor="middle" textLength="15.38" lengthAdjust="spacingAndGlyphs">0.00</text>
<line x1="410.50" y1="357.70" x2="410.50" y2="360.60" stroke="#1e1e1e" stroke-width="0.9"/>
<text x="410.50" y="370.20" font-size="8.69" text-anchor="middle" textLength="15.38" lengthAdjust="spacingAndGlyphs">0.02</text>
<line x1="459.50" y1="357.70" x2="459.50" y2="360.60" stroke="#1e1e1e" stroke-width="0.9"/>
<text x="459.50" y="370.20" font-size="8.69" text-anchor="middle" textLength="15.38" lengthAdjust="spacingAndGlyphs">0.04</text>
<text x="416.70" y="382.80" font-size="9.4" text-anchor="middle" textLength="35.30" lengthAdjust="spacingAndGlyphs">GeneRatio</text>
<text x="417.05" y="307.60" font-size="8.5" text-anchor="middle" textLength="127.50" lengthAdjust="spacingAndGlyphs">MH vs. WT. Pro-B Downregulated</text>
<defs><linearGradient id="pb" x1="0" y1="0" x2="0" y2="1"><stop offset="0" stop-color="#3a4ab8"/><stop offset="0.5" stop-color="#a0248e"/><stop offset="1" stop-color="#ee1c25"/></linearGradient></defs>
<text x="485.70" y="309.80" font-size="8.25" font-style="italic" textLength="26.13" lengthAdjust="spacingAndGlyphs">P.adjust</text>
<rect x="485.50" y="313.30" width="6.20" height="31.20" fill="url(#pb)"/>
<line x1="490.40" y1="316.40" x2="491.70" y2="316.40" stroke="#fff" stroke-width="0.8"/>
<text x="493.80" y="319.00" font-size="8.03" textLength="18.27" lengthAdjust="spacingAndGlyphs">0.004</text>
<line x1="490.40" y1="324.80" x2="491.70" y2="324.80" stroke="#fff" stroke-width="0.8"/>
<text x="493.80" y="327.40" font-size="8.03" textLength="18.27" lengthAdjust="spacingAndGlyphs">0.003</text>
<line x1="490.40" y1="333.00" x2="491.70" y2="333.00" stroke="#fff" stroke-width="0.8"/>
<text x="493.80" y="335.60" font-size="8.03" textLength="18.27" lengthAdjust="spacingAndGlyphs">0.002</text>
<line x1="490.40" y1="341.30" x2="491.70" y2="341.30" stroke="#fff" stroke-width="0.8"/>
<text x="493.80" y="343.90" font-size="8.03" textLength="18.27" lengthAdjust="spacingAndGlyphs">0.001</text>
<text x="487.30" y="353.70" font-size="8.25" textLength="20.01" lengthAdjust="spacingAndGlyphs">Count</text>
<circle cx="490.00" cy="358.60" r="1.70" fill="#000"/>
<text x="494.80" y="361.20" font-size="8.03" textLength="8.12" lengthAdjust="spacingAndGlyphs">10</text>
<circle cx="490.00" cy="366.80" r="2.20" fill="#000"/>
<text x="494.80" y="369.40" font-size="8.03" textLength="8.12" lengthAdjust="spacingAndGlyphs">15</text>
<circle cx="490.00" cy="375.00" r="2.70" fill="#000"/>
<text x="494.80" y="377.60" font-size="8.03" textLength="8.12" lengthAdjust="spacingAndGlyphs">20</text>
<text x="6.60" y="403.00" font-size="11" fill="#000" color="#000" font-weight="bold">G</text>
<line x1="39.5" y1="455.1" x2="119.1" y2="404.1" stroke="#bdbdbd" stroke-width="1.0"/>
<line x1="50" y1="448.37" x2="113" y2="408.01" stroke="#c4c4c4" stroke-width="2.4"/>
<polygon points="53.5,445.0 55.0,444.1 56.5,443.1 58.0,442.1 59.5,441.2 61.0,440.2 62.5,439.3 64.0,438.3 65.5,437.3 67.0,436.4 68.5,435.4 70.0,434.5 71.5,433.5 73.0,432.5 74.5,431.6 76.0,430.6 77.5,429.7 79.0,428.7 80.5,427.7 82.0,426.8 83.5,425.8 85.0,424.8 86.5,423.9 88.0,422.9 89.5,422.0 91.0,421.0 92.5,420.0 94.0,419.1 95.5,418.1 97.0,417.2 98.5,416.2 100.0,415.2 101.5,414.3 103.0,413.3 104.5,412.4 106.0,411.4 107.5,410.4 109.0,409.5 110.5,408.5 112.0,407.5 113.5,406.6 113.5,406.1 112.0,406.7 110.5,407.4 109.0,408.2 107.5,409.0 106.0,409.9 104.5,410.7 103.0,411.6 101.5,412.4 100.0,413.2 98.5,414.1 97.0,414.9 95.5,415.8 94.0,416.6 92.5,417.5 91.0,418.4 89.5,419.2 88.0,420.1 86.5,421.0 85.0,421.9 83.5,422.8 82.0,423.7 80.5,424.6 79.0,425.5 77.5,426.4 76.0,427.3 74.5,428.3 73.0,429.4 71.5,430.4 70.0,431.4 68.5,432.5 67.0,433.6 65.5,434.8 64.0,436.0 62.5,437.3 61.0,438.5 59.5,439.7 58.0,441.0 56.5,442.3 55.0,443.5 53.5,444.8" fill="#c8102e"/>
<polygon points="49.5,449.8 51.1,448.8 52.6,447.8 54.2,446.8 55.8,445.8 57.4,444.7 59.0,443.7 60.5,442.7 62.1,441.7 63.7,440.7 65.2,439.7 66.8,438.7 68.4,437.7 70.0,436.7 71.5,435.7 73.1,434.7 74.7,433.6 76.3,432.6 77.8,431.6 79.4,430.6 81.0,429.6 82.6,428.6 84.2,427.6 85.7,426.6 87.3,425.6 88.9,424.6 90.5,423.6 92.0,422.5 93.6,421.5 95.2,420.5 96.8,419.5 98.3,418.5 99.9,417.5 101.5,416.5 103.0,415.5 104.6,414.5 106.2,413.5 107.8,412.5 109.3,411.4 110.9,410.4 112.5,409.4 112.5,410.0 110.9,411.4 109.3,412.7 107.8,413.9 106.2,415.0 104.6,416.1 103.0,417.2 101.5,418.3 99.9,419.3 98.3,420.4 96.8,421.4 95.2,422.4 93.6,423.4 92.0,424.4 90.5,425.4 88.9,426.5 87.3,427.5 85.7,428.6 84.2,429.6 82.6,430.6 81.0,431.6 79.4,432.5 77.8,433.5 76.3,434.5 74.7,435.4 73.1,436.2 71.5,437.1 70.0,438.0 68.4,438.9 66.8,439.8 65.2,440.6 63.7,441.5 62.1,442.5 60.5,443.4 59.0,444.3 57.4,445.3 55.8,446.2 54.2,447.2 52.6,448.1 51.1,449.1 49.5,450.0" fill="#1d5a93"/>
<path d="M73.1 432.1h.8M92.9 419.7h.8M85.9 422.5h.8M57.0 441.8h.8M55.8 443.0h.8M57.7 442.3h.8M79.2 420.9h.8M61.0 439.8h.8M91.5 412.7h.8M88.4 420.7h.8M112.6 407.2h.8M105.4 411.1h.8M62.2 439.3h.8M72.2 425.7h.8M64.4 434.9h.8M92.2 418.7h.8M86.6 423.7h.8M57.1 442.5h.8M94.7 416.8h.8M72.5 428.6h.8M80.9 426.1h.8M101.6 410.8h.8M68.3 431.7h.8M85.3 416.9h.8M97.6 415.9h.8M112.8 407.0h.8M78.8 422.2h.8M62.7 437.1h.8M55.9 442.3h.8M99.8 412.8h.8M106.5 410.4h.8M95.6 414.9h.8M88.6 420.1h.8M104.3 407.5h.8M82.2 421.6h.8M57.2 440.9h.8M92.7 411.6h.8M103.2 412.5h.8M76.8 424.6h.8M54.9 443.7h.8M63.7 438.3h.8M57.1 440.7h.8M61.3 439.5h.8M77.2 421.3h.8M58.4 440.8h.8M86.7 416.0h.8M103.1 408.7h.8M70.3 432.0h.8M75.2 422.3h.8M111.4 407.8h.8M64.2 437.6h.8M67.6 433.2h.8M89.1 421.3h.8M53.7 444.7h.8M75.8 426.5h.8M111.2 406.2h.8M84.7 420.7h.8M94.4 418.8h.8M107.9 407.2h.8M106.4 407.8h.8M77.2 427.6h.8M59.8 438.7h.8M57.3 442.6h.8M66.1 436.5h.8M74.1 431.8h.8M53.5 445.0h.8M59.6 440.2h.8M55.0 442.6h.8M90.7 420.9h.8M68.8 433.6h.8M75.5 430.6h.8M104.9 406.8h.8M81.7 424.0h.8M58.7 441.6h.8M74.2 430.6h.8M103.6 412.6h.8M54.9 442.5h.8M85.5 424.2h.8M86.4 424.0h.8M85.5 415.2h.8M105.7 408.8h.8M69.3 433.1h.8M63.6 433.9h.8M85.7 418.1h.8M73.4 431.4h.8M102.6 407.8h.8M105.1 408.3h.8M103.0 409.8h.8M67.2 433.2h.8M75.0 431.2h.8M55.2 443.7h.8M69.2 429.6h.8M111.4 407.1h.8M110.2 404.9h.8M111.3 407.4h.8M66.8 435.8h.8M65.4 436.8h.8M91.3 413.5h.8M104.3 410.9h.8M93.0 414.0h.8M58.6 439.6h.8M108.5 406.9h.8M98.9 414.0h.8M64.3 433.0h.8M73.6 424.8h.8M112.3 406.8h.8M77.8 419.7h.8M97.4 416.6h.8M61.2 439.9h.8M108.2 406.9h.8M62.3 434.6h.8M112.8 405.9h.8M74.7 427.5h.8M61.4 439.9h.8M112.2 406.1h.8M85.4 416.0h.8M79.7 419.9h.8M103.5 412.6h.8M68.7 434.0h.8M68.1 431.8h.8M69.2 432.7h.8M61.4 434.8h.8M74.9 428.4h.8M88.8 414.7h.8M78.9 419.6h.8M83.8 422.2h.8M85.2 424.7h.8M80.1 427.4h.8M53.7 444.2h.8M63.9 436.3h.8M97.4 414.2h.8M73.2 428.9h.8M87.1 417.3h.8M59.9 439.0h.8M68.5 434.3h.8M100.2 413.0h.8M87.5 417.4h.8M108.7 408.6h.8M90.6 418.5h.8M84.5 419.9h.8M80.9 423.9h.8M82.4 417.3h.8M95.8 411.8h.8M110.5 408.1h.8M87.4 414.8h.8M104.3 412.3h.8M60.9 438.9h.8M57.9 441.9h.8M57.9 440.3h.8M100.9 409.3h.8M62.8 435.2h.8M93.4 419.1h.8M106.9 406.3h.8M66.8 428.2h.8M77.6 426.4h.8M113.4 405.3h.8M63.3 437.1h.8M84.7 423.5h.8M65.3 436.3h.8M97.2 417.0h.8M87.0 421.2h.8M54.6 444.1h.8M91.2 418.0h.8M57.4 439.2h.8M101.2 408.4h.8M59.8 440.4h.8M55.9 441.9h.8M69.9 434.2h.8M79.0 419.6h.8M103.0 412.7h.8M62.5 433.4h.8M88.0 417.8h.8M58.9 441.5h.8M95.1 416.5h.8M57.9 438.8h.8M91.9 414.5h.8M58.6 438.5h.8M57.5 439.7h.8M81.0 425.8h.8M87.0 415.3h.8M69.7 434.3h.8M85.4 423.8h.8M60.1 440.5h.8M56.5 442.9h.8M72.4 431.5h.8M99.4 414.8h.8M83.8 425.1h.8M74.5 431.6h.8M68.7 435.3h.8M97.9 414.0h.8M65.0 435.4h.8M110.0 408.7h.8M103.0 411.9h.8M83.4 418.5h.8M77.3 426.4h.8M95.1 410.7h.8M74.2 423.9h.8M96.3 414.1h.8M78.0 427.6h.8M56.8 442.8h.8M57.8 440.1h.8M69.0 434.7h.8M58.6 438.6h.8M106.2 408.8h.8M70.6 433.2h.8M71.2 430.9h.8M63.0 437.2h.8M69.4 425.5h.8M112.3 406.4h.8M68.3 426.3h.8M72.2 431.2h.8M53.6 444.8h.8M82.2 423.5h.8M65.7 434.6h.8M53.8 444.7h.8M58.9 440.6h.8M56.0 443.4h.8M71.9 432.4h.8M88.9 419.2h.8M98.9 412.5h.8M96.8 411.3h.8M77.1 428.3h.8M113.1 406.8h.8M97.3 413.5h.8M56.1 441.4h.8M107.5 408.4h.8M97.9 411.5h.8M61.9 437.5h.8M84.0 418.2h.8M102.2 409.4h.8M88.8 414.8h.8M94.8 414.3h.8M67.4 436.1h.8M61.6 438.8h.8M59.8 437.2h.8M87.3 419.1h.8M91.4 416.2h.8M83.1 426.1h.8M101.8 410.3h.8M83.9 422.1h.8M93.4 419.4h.8M98.1 415.8h.8M58.0 441.7h.8M97.6 416.3h.8M98.3 409.5h.8M83.4 423.9h.8M82.5 421.2h.8M99.9 412.4h.8M92.4 420.0h.8M62.4 438.7h.8M98.5 415.3h.8M87.8 423.0h.8M57.2 442.3h.8M94.2 414.6h.8M94.4 417.9h.8M84.8 422.3h.8M81.7 426.7h.8M107.6 410.1h.8M112.7 404.9h.8M54.6 443.9h.8M103.1 407.7h.8M80.7 426.5h.8M66.2 429.0h.8M66.2 433.4h.8M62.1 437.4h.8M111.1 408.0h.8M103.1 411.4h.8M107.2 408.1h.8M67.5 428.2h.8M82.9 426.2h.8M53.7 444.6h.8M80.8 426.2h.8M62.0 438.5h.8M72.6 425.0h.8M53.6 444.4h.8M104.3 412.4h.8M109.5 406.8h.8M108.0 409.5h.8M76.0 428.4h.8M113.9 405.7h.8M75.3 428.5h.8M70.1 434.3h.8M59.7 437.4h.8M70.8 424.8h.8M68.6 434.3h.8M84.4 424.6h.8M76.1 420.4h.8M107.0 407.4h.8M91.7 413.1h.8M110.4 407.2h.8M97.0 417.1h.8M97.8 414.8h.8M99.0 412.6h.8M70.8 433.9h.8M109.6 409.0h.8M82.1 425.1h.8M71.5 427.3h.8M112.6 406.9h.8M93.2 418.5h.8M87.2 421.5h.8M63.6 438.2h.8M66.1 429.6h.8M83.6 425.0h.8M108.3 405.5h.8M80.7 427.2h.8M65.1 437.4h.8M74.2 431.6h.8M68.0 434.8h.8M88.0 415.4h.8M98.9 414.4h.8M78.5 425.4h.8M76.3 428.7h.8M57.3 442.2h.8M112.0 407.4h.8M84.0 421.0h.8M105.7 411.2h.8M69.9 433.6h.8M77.7 426.8h.8M111.2 405.3h.8M106.3 411.2h.8M55.5 442.6h.8M107.7 409.0h.8M89.0 422.3h.8M77.2 420.3h.8M103.4 408.6h.8M112.3 407.1h.8M60.1 440.6h.8M85.1 419.7h.8M110.5 406.4h.8M92.7 414.6h.8M81.2 423.6h.8M55.9 441.9h.8M67.6 427.8h.8M92.6 418.9h.8M61.2 439.5h.8M92.0 415.7h.8M60.3 440.6h.8M85.2 420.8h.8M77.0 429.1h.8M89.9 421.7h.8M71.7 430.6h.8M111.5 406.3h.8M107.0 409.4h.8M67.7 435.0h.8M111.6 406.0h.8M72.1 433.1h.8M83.6 420.6h.8M78.9 427.7h.8M93.9 412.0h.8M67.2 436.2h.8M74.0 429.5h.8M94.8 418.1h.8M101.7 410.4h.8M84.0 424.8h.8M112.2 407.0h.8M103.1 412.8h.8M66.9 430.7h.8M71.3 424.1h.8M83.5 425.2h.8M67.0 434.3h.8M93.8 411.7h.8M62.4 438.0h.8M66.4 428.3h.8M62.1 439.5h.8M57.1 442.0h.8M107.8 406.5h.8M97.8 409.4h.8M109.9 408.3h.8M64.7 430.8h.8M98.7 416.1h.8M93.7 417.7h.8M76.1 428.9h.8M63.7 438.5h.8M70.4 432.5h.8M111.3 407.9h.8M111.8 407.4h.8M75.1 423.4h.8M103.2 411.8h.8M56.5 442.3h.8M76.0 421.1h.8M65.2 436.1h.8M107.8 410.2h.8M78.4 421.6h.8M99.9 415.3h.8M55.6 443.7h.8M109.2 409.0h.8M98.7 410.2h.8M74.0 430.7h.8M111.4 406.4h.8M69.4 429.2h.8M72.6 431.6h.8M53.7 444.3h.8M108.9 407.6h.8M110.6 408.5h.8M67.6 433.3h.8M111.4 404.8h.8M76.9 429.0h.8M79.5 425.2h.8M109.7 408.8h.8M102.1 410.3h.8M103.3 409.4h.8M90.2 420.1h.8M72.8 430.8h.8M100.8 414.6h.8M65.4 432.3h.8M68.5 435.4h.8M55.5 442.9h.8M73.2 422.2h.8M107.0 406.1h.8M69.5 434.6h.8M59.3 439.8h.8M96.4 415.6h.8M67.7 433.8h.8M91.0 416.5h.8M98.8 410.8h.8M93.7 419.0h.8M104.4 411.8h.8M87.8 421.3h.8M98.2 416.0h.8M68.5 434.5h.8M62.8 433.5h.8M88.5 421.2h.8M77.5 419.0h.8M84.2 424.5h.8M102.4 410.8h.8M113.5 406.6h.8M82.2 419.4h.8M104.4 407.7h.8M55.9 443.2h.8M60.7 440.1h.8M112.4 406.2h.8M109.8 408.2h.8M105.9 410.2h.8M69.2 428.4h.8M110.7 408.3h.8M89.6 417.9h.8M66.7 434.9h.8M62.1 439.1h.8M68.9 431.0h.8M92.9 419.2h.8M54.2 444.4h.8M94.5 418.3h.8M72.4 432.2h.8M101.6 412.0h.8M57.3 442.5h.8M77.4 425.8h.8M92.2 420.1h.8M63.4 434.8h.8M78.3 427.9h.8M72.1 423.5h.8M72.4 428.9h.8M75.1 428.7h.8M105.8 406.5h.8M75.5 430.2h.8M97.5 416.3h.8M53.9 443.9h.8M79.1 421.1h.8M78.1 420.6h.8M81.4 426.7h.8M54.4 443.9h.8M92.3 412.9h.8M58.9 439.6h.8M75.9 427.2h.8M62.3 438.6h.8M85.0 416.3h.8M60.1 439.2h.8M102.2 408.1h.8M65.4 437.1h.8M110.6 404.9h.8M82.7 426.2h.8M109.5 408.3h.8M108.2 408.0h.8M103.4 412.8h.8M101.0 414.1h.8M78.0 421.3h.8M103.7 412.6h.8M66.7 434.7h.8M84.8 423.0h.8M60.9 439.7h.8M97.4 410.8h.8M56.0 442.5h.8M99.3 415.6h.8M104.2 412.4h.8M89.8 418.5h.8M91.4 419.6h.8M78.9 424.5h.8M79.3 423.3h.8M80.5 425.2h.8M54.9 443.3h.8M83.1 425.2h.8M99.7 411.0h.8M81.2 426.7h.8M82.1 426.5h.8M61.3 438.6h.8M59.0 440.3h.8M84.4 425.2h.8M92.0 420.2h.8M97.9 411.9h.8M84.4 425.1h.8M84.0 423.6h.8M111.0 408.0h.8M105.4 406.6h.8M97.8 411.5h.8M65.2 429.6h.8M83.3 416.7h.8M108.9 409.3h.8M101.2 408.9h.8M57.5 441.9h.8M99.2 415.4h.8M107.7 409.8h.8M102.8 413.2h.8M83.9 416.9h.8M66.1 436.1h.8M84.1 424.0h.8M55.7 443.5h.8M63.3 432.4h.8M94.6 412.1h.8M63.7 433.6h.8M60.5 438.7h.8M92.0 418.9h.8M106.3 409.4h.8M88.6 415.1h.8M59.8 435.9h.8M91.6 418.8h.8M101.8 413.5h.8M113.4 405.9h.8M75.3 424.1h.8M80.3 427.3h.8M98.5 416.2h.8M103.1 412.7h.8M92.2 411.9h.8M88.9 417.8h.8M72.4 432.9h.8M55.5 443.6h.8M90.8 419.0h.8M84.5 417.0h.8M61.5 439.4h.8M93.0 419.7h.8M53.7 444.8h.8M59.9 440.0h.8M67.1 432.6h.8M89.1 421.6h.8M91.2 418.4h.8M61.7 434.3h.8M68.2 435.2h.8M59.3 439.1h.8M106.2 408.0h.8M77.8 428.3h.8M54.2 444.0h.8M87.5 421.7h.8M92.6 417.9h.8M110.2 406.4h.8M68.5 427.1h.8M56.2 442.4h.8M78.1 428.4h.8M57.0 440.7h.8M54.2 444.1h.8M110.4 408.4h.8M65.6 433.7h.8M84.2 420.7h.8M102.7 413.2h.8M72.2 431.7h.8M56.4 440.9h.8M100.9 411.0h.8M53.9 444.0h.8M98.6 414.2h.8M98.4 414.4h.8M67.2 436.1h.8M67.6 436.0h.8M73.8 425.5h.8M95.6 412.2h.8M96.6 416.7h.8M87.0 421.3h.8M101.2 412.4h.8M69.6 430.0h.8M111.9 407.4h.8M106.7 410.9h.8M69.3 434.1h.8M98.5 409.8h.8M98.6 415.1h.8M106.7 410.2h.8M68.0 427.5h.8M91.7 415.9h.8M93.7 411.3h.8M81.9 419.2h.8M95.7 412.0h.8M80.0 422.0h.8M88.0 421.7h.8M66.3 432.9h.8M58.2 438.6h.8M62.2 439.4h.8M60.0 436.3h.8M74.4 431.3h.8M55.2 443.9h.8M95.4 414.6h.8M95.7 413.4h.8M57.5 441.0h.8M75.5 423.2h.8M103.1 408.5h.8M57.5 439.7h.8M108.8 405.7h.8M60.0 440.5h.8M60.3 440.7h.8M104.8 408.4h.8M91.9 414.2h.8M91.7 419.5h.8M59.5 441.1h.8M99.3 415.2h.8M72.8 430.2h.8M54.8 444.1h.8M70.6 428.3h.8M75.8 429.2h.8M111.8 406.7h.8M105.0 409.7h.8M55.4 443.4h.8M79.9 421.4h.8M74.5 425.6h.8M86.0 423.5h.8M105.7 411.5h.8M103.1 413.0h.8M53.6 444.9h.8M99.6 409.0h.8M53.8 444.6h.8M83.2 419.2h.8M64.7 435.5h.8M74.5 423.7h.8M69.3 425.9h.8M70.7 433.3h.8M95.8 415.6h.8M60.2 438.3h.8M58.4 439.1h.8M95.7 412.9h.8M91.5 419.2h.8M77.8 427.3h.8M107.4 410.4h.8M107.3 410.6h.8M66.0 436.2h.8M108.0 408.7h.8M76.4 421.5h.8M67.6 433.4h.8M85.7 418.4h.8M99.1 412.5h.8M74.6 429.9h.8M62.9 433.9h.8M93.6 414.4h.8M63.8 436.6h.8M100.3 412.4h.8M61.1 438.6h.8M107.1 410.3h.8M65.1 436.5h.8M96.0 412.0h.8M62.9 438.7h.8M68.5 434.0h.8M85.1 424.4h.8M73.3 431.7h.8M112.5 405.7h.8M59.7 436.4h.8M59.6 440.1h.8M113.0 405.4h.8M97.9 414.9h.8M65.4 433.6h.8M60.0 440.5h.8M77.0 429.9h.8M77.6 422.3h.8M95.5 415.7h.8M91.8 418.2h.8M62.1 436.8h.8M78.0 422.9h.8M108.4 408.8h.8M88.2 417.1h.8M79.0 427.8h.8M97.2 411.1h.8M100.3 411.4h.8M105.1 409.2h.8M92.3 417.9h.8M72.4 428.1h.8M59.4 440.1h.8M100.8 411.1h.8M91.6 419.8h.8M79.1 425.8h.8M91.1 419.0h.8M94.4 411.7h.8M64.6 434.1h.8M100.6 413.6h.8M83.1 416.4h.8M55.8 442.7h.8M63.2 434.1h.8M110.4 407.3h.8M59.6 439.2h.8M86.2 418.6h.8M84.5 420.6h.8M103.7 411.0h.8M78.3 419.4h.8M66.2 432.3h.8M77.2 423.0h.8M60.9 434.7h.8M75.0 431.2h.8M70.1 432.3h.8M54.3 444.2h.8M78.9 423.0h.8M74.8 430.2h.8M67.1 430.8h.8M110.4 407.3h.8M66.7 430.3h.8M77.2 429.1h.8M61.3 436.1h.8M102.5 410.9h.8M81.9 423.0h.8M67.2 427.6h.8M74.9 426.3h.8M103.0 409.2h.8M81.8 425.6h.8M86.7 423.5h.8M103.9 411.8h.8M105.0 411.5h.8M76.3 429.4h.8M79.3 427.9h.8M53.7 444.4h.8M70.5 433.2h.8M71.8 430.4h.8M79.4 423.5h.8M93.4 418.0h.8M109.7 406.0h.8M57.0 440.5h.8M108.3 407.0h.8M62.0 434.9h.8M91.8 420.5h.8M54.2 443.4h.8M93.2 418.8h.8M59.6 440.9h.8M67.6 429.8h.8M74.5 431.2h.8M108.2 407.0h.8M63.7 432.5h.8M90.3 415.6h.8M93.9 412.4h.8M101.2 409.8h.8M65.4 432.9h.8M85.6 418.6h.8M80.0 419.6h.8M87.1 422.5h.8M67.7 435.6h.8M83.3 425.8h.8M81.8 426.5h.8M83.2 422.9h.8M86.1 416.7h.8M53.9 444.0h.8M81.8 423.0h.8M93.8 413.1h.8M76.2 428.0h.8M111.6 407.8h.8M92.0 416.4h.8M55.2 443.1h.8M94.8 411.5h.8M73.5 421.9h.8M84.4 422.4h.8M107.8 410.2h.8M97.0 413.8h.8M74.0 423.6h.8M75.7 427.7h.8M85.3 418.4h.8M66.2 434.7h.8M79.1 424.8h.8M103.5 412.3h.8M103.6 411.7h.8M84.0 424.4h.8M84.1 415.9h.8M93.1 414.0h.8M73.5 430.7h.8M71.6 429.3h.8M91.9 414.7h.8M55.9 442.1h.8M107.1 409.0h.8M56.5 442.7h.8M53.9 444.7h.8M109.2 407.5h.8M93.3 414.0h.8M108.5 407.9h.8M90.8 417.1h.8M95.6 414.8h.8M94.7 418.1h.8M93.9 417.0h.8M99.6 415.3h.8M64.5 438.0h.8M100.4 409.4h.8M93.2 418.1h.8M103.3 409.3h.8M87.5 422.3h.8M71.8 430.9h.8M72.8 430.2h.8M92.3 412.6h.8M56.8 441.7h.8M55.9 443.4h.8M102.5 411.3h.8M109.1 408.4h.8M54.4 444.2h.8M89.3 413.9h.8M112.8 406.4h.8M78.5 428.8h.8M92.5 419.4h.8M62.7 439.1h.8M53.8 444.3h.8M60.9 434.9h.8M58.8 438.1h.8M61.3 440.0h.8M97.0 416.5h.8M97.9 416.2h.8M56.5 441.2h.8M96.7 411.6h.8M97.6 416.6h.8M91.5 415.8h.8M81.4 418.1h.8M68.9 425.9h.8M96.9 417.2h.8M54.4 443.8h.8M102.9 413.3h.8M72.3 426.9h.8M63.5 433.0h.8M82.9 426.1h.8M75.7 426.5h.8M80.0 422.6h.8M62.3 435.0h.8M75.5 425.8h.8M91.6 418.6h.8M76.8 422.9h.8M110.7 405.9h.8M87.8 421.9h.8M57.2 439.5h.8M96.0 412.2h.8M73.6 427.6h.8M112.6 405.3h.8M89.9 420.5h.8M79.4 419.8h.8M76.3 424.7h.8M89.9 414.2h.8M102.4 413.0h.8M53.6 444.9h.8M79.1 424.4h.8M102.9 408.6h.8M56.1 441.5h.8M102.6 408.9h.8M88.1 421.8h.8M105.0 408.3h.8M94.9 411.7h.8M74.5 431.4h.8M87.0 417.1h.8M65.6 432.1h.8M109.9 408.6h.8M90.2 416.9h.8M81.7 426.3h.8M68.9 429.1h.8M101.4 412.7h.8M58.8 438.6h.8M100.2 414.5h.8M88.6 414.9h.8M107.0 409.2h.8M82.3 422.4h.8M64.9 437.2h.8M64.4 433.8h.8M75.5 426.8h.8M77.9 425.9h.8M62.5 439.2h.8M113.8 406.1h.8M59.9 438.5h.8M101.1 414.2h.8M89.6 420.4h.8M84.9 424.9h.8M55.5 441.6h.8M105.9 410.0h.8M87.8 422.1h.8M100.6 413.3h.8M110.8 406.0h.8M103.0 407.8h.8M68.9 435.1h.8M65.7 436.8h.8M58.6 441.8h.8M87.2 416.0h.8M81.2 417.9h.8M108.6 409.7h.8M89.7 420.0h.8M60.8 435.1h.8M69.1 431.3h.8M92.3 412.3h.8M94.0 417.4h.8M80.6 427.2h.8M111.9 404.6h.8M66.9 436.4h.8M69.0 433.4h.8M108.1 406.3h.8M104.2 412.5h.8M101.1 411.0h.8M92.6 411.7h.8M56.9 442.8h.8M99.2 409.6h.8M94.5 417.8h.8M89.3 416.4h.8M59.9 440.2h.8M69.0 434.8h.8M82.6 425.9h.8M67.9 435.4h.8M94.5 418.8h.8M96.9 416.8h.8M55.7 441.6h.8M66.8 428.4h.8M105.9 407.3h.8M62.0 438.0h.8M59.4 437.0h.8M104.5 409.9h.8M80.9 425.8h.8M103.3 411.5h.8M91.5 420.4h.8M66.9 436.4h.8M96.7 414.6h.8M62.3 434.3h.8M69.6 432.5h.8M62.9 438.2h.8M104.3 411.6h.8M63.7 436.3h.8M72.7 423.9h.8M60.4 435.3h.8M56.9 440.2h.8M93.9 418.5h.8M82.4 425.3h.8M69.1 434.4h.8M75.5 420.1h.8M113.9 405.0h.8M59.4 440.7h.8M107.7 410.3h.8M97.5 416.0h.8M112.7 407.1h.8M102.3 412.8h.8M62.0 439.6h.8M103.9 410.9h.8M64.7 435.9h.8M108.7 409.4h.8M88.1 422.6h.8M64.4 433.1h.8M96.6 417.0h.8M58.3 441.9h.8M90.3 418.7h.8M70.1 433.7h.8M90.6 416.3h.8M102.6 411.2h.8M65.7 437.1h.8M97.8 415.1h.8M97.2 417.0h.8M102.5 412.7h.8M104.4 408.1h.8M83.3 425.9h.8M108.6 408.5h.8M106.3 410.7h.8M64.8 432.0h.8M75.7 430.3h.8M76.0 426.1h.8M53.8 444.5h.8M80.5 424.4h.8M60.8 437.1h.8M102.9 408.8h.8M72.9 426.7h.8M76.6 423.5h.8M57.2 440.0h.8M111.2 407.0h.8M84.6 421.8h.8M86.0 424.2h.8M112.0 407.3h.8M64.5 437.8h.8M68.7 428.3h.8M55.3 443.8h.8M95.8 417.5h.8M54.6 443.7h.8M88.4 419.6h.8M96.0 417.6h.8M106.1 408.5h.8M56.2 443.2h.8M83.4 422.8h.8M70.4 433.9h.8M78.0 428.9h.8M89.3 415.0h.8M62.4 436.8h.8M98.7 415.8h.8M103.5 407.9h.8M77.0 427.5h.8M104.3 410.6h.8M77.4 420.0h.8M100.5 413.9h.8M68.0 434.2h.8M79.9 418.0h.8M102.2 408.6h.8M102.8 409.0h.8M56.7 442.0h.8M111.5 404.9h.8M68.6 433.1h.8M91.8 418.9h.8M85.6 424.4h.8M79.7 425.0h.8M54.8 444.2h.8M112.2 405.6h.8M110.2 406.9h.8M102.5 408.8h.8M107.0 410.7h.8" stroke="#c8102e" stroke-width=".8" stroke-opacity=".6" fill="none"/>
<path d="M90.1 424.4h.8M92.4 422.9h.8M83.7 432.8h.8M88.8 425.2h.8M82.3 430.2h.8M109.9 411.6h.8M68.5 439.3h.8M56.7 445.8h.8M110.2 411.9h.8M66.2 439.9h.8M83.2 428.5h.8M56.9 445.1h.8M67.8 438.8h.8M67.5 438.6h.8M54.6 447.0h.8M102.7 417.9h.8M85.5 429.5h.8M61.9 443.0h.8M78.5 433.2h.8M88.2 426.6h.8M68.9 437.7h.8M63.2 441.8h.8M73.5 436.3h.8M49.8 449.8h.8M104.2 415.2h.8M84.6 429.1h.8M67.2 441.4h.8M67.9 440.1h.8M59.1 443.6h.8M104.8 415.6h.8M53.0 447.8h.8M77.2 435.2h.8M56.0 445.8h.8M110.4 412.6h.8M58.9 444.1h.8M71.6 437.8h.8M88.4 429.0h.8M101.6 418.2h.8M96.3 423.1h.8M97.6 420.5h.8M99.2 420.9h.8M107.5 412.8h.8M104.7 414.4h.8M98.0 420.9h.8M80.9 434.8h.8M85.6 428.0h.8M99.2 422.1h.8M87.9 426.4h.8M77.9 433.0h.8M95.3 421.2h.8M74.0 435.9h.8M73.6 435.1h.8M99.4 421.8h.8M81.0 431.1h.8M60.8 442.8h.8M58.3 444.8h.8M86.2 426.4h.8M107.9 413.0h.8M103.0 419.1h.8M110.4 411.0h.8M76.3 437.0h.8M49.7 449.7h.8M85.2 428.8h.8M107.9 414.9h.8M83.5 433.6h.8M82.1 430.8h.8M92.9 423.2h.8M71.9 437.2h.8M71.5 439.4h.8M92.3 424.2h.8M55.3 446.3h.8M74.7 435.6h.8M85.7 431.0h.8M110.7 411.4h.8M77.2 434.5h.8M112.8 409.5h.8M82.9 432.4h.8M59.9 443.4h.8M111.6 411.5h.8M81.8 429.3h.8M106.2 415.8h.8M101.5 421.3h.8M105.8 414.8h.8M59.0 443.9h.8M81.7 431.0h.8M61.0 442.5h.8M89.3 426.6h.8M71.6 439.6h.8M89.7 424.0h.8M75.3 436.6h.8M68.6 439.4h.8M49.3 450.0h.8M102.9 417.6h.8M91.8 423.1h.8M80.9 431.8h.8M66.0 440.6h.8M83.0 433.9h.8M85.8 427.9h.8M56.8 445.2h.8M97.6 419.1h.8M55.4 446.1h.8M82.4 432.7h.8M88.2 428.8h.8M53.0 447.6h.8M98.3 419.4h.8M94.8 421.8h.8M59.8 443.4h.8M55.4 447.1h.8M86.3 427.3h.8M77.8 432.8h.8M52.5 448.7h.8M86.3 431.3h.8M77.1 434.5h.8M65.0 439.9h.8M108.6 414.8h.8M69.1 440.1h.8M101.2 417.4h.8M87.6 430.5h.8M80.7 434.7h.8M64.5 440.7h.8M95.0 421.1h.8M68.8 440.2h.8M80.0 433.9h.8M64.6 440.3h.8M71.9 435.7h.8M111.2 410.6h.8M84.9 427.3h.8M83.2 429.4h.8M74.8 433.6h.8M56.9 446.1h.8M71.5 436.1h.8M61.2 442.5h.8M64.2 440.4h.8M91.5 423.8h.8M59.0 444.7h.8M54.9 446.5h.8M102.4 416.1h.8M77.4 435.8h.8M100.5 417.4h.8M71.6 438.0h.8M73.1 438.8h.8M62.3 443.5h.8M81.3 429.9h.8M78.0 431.8h.8M94.2 421.7h.8M106.6 415.0h.8M72.6 435.5h.8M87.9 425.6h.8M104.8 414.5h.8M81.8 431.1h.8M66.3 440.9h.8M73.6 436.6h.8M85.3 427.7h.8M74.0 434.2h.8M60.3 444.3h.8M69.5 438.8h.8M56.0 446.2h.8M72.1 436.7h.8M68.0 438.0h.8M68.9 437.7h.8M57.1 445.8h.8M67.1 439.2h.8M107.2 415.5h.8M105.5 417.4h.8M57.5 444.9h.8M50.9 449.3h.8M91.5 423.9h.8M75.4 435.7h.8M93.8 422.0h.8M103.2 416.3h.8M89.2 424.7h.8M56.4 446.6h.8M96.0 423.0h.8M51.6 448.5h.8M59.4 443.6h.8M68.4 438.4h.8M51.5 448.6h.8M89.9 424.3h.8M102.7 417.7h.8M94.9 421.3h.8M76.8 435.0h.8M71.3 435.8h.8M102.4 419.1h.8M67.3 438.4h.8M103.7 417.2h.8M52.0 448.3h.8M56.1 446.5h.8M62.4 443.3h.8M97.0 419.5h.8M93.5 422.8h.8M96.8 423.3h.8M67.0 438.6h.8M109.6 412.2h.8M108.5 414.0h.8M96.3 423.7h.8M89.2 425.9h.8M52.5 448.4h.8M76.4 434.3h.8M108.4 412.2h.8M97.8 418.9h.8M94.0 425.0h.8M65.7 440.4h.8M111.0 411.6h.8M83.8 428.4h.8M52.8 447.9h.8M75.3 433.6h.8M68.9 437.5h.8M94.2 423.9h.8M64.2 440.6h.8M82.0 430.5h.8M108.9 412.4h.8M68.2 440.5h.8M58.1 444.9h.8M70.3 439.1h.8M84.1 431.2h.8M59.8 444.1h.8M87.3 427.1h.8M98.0 422.6h.8M56.3 445.6h.8M72.1 435.7h.8M52.9 447.8h.8M61.6 443.2h.8M77.7 431.9h.8M69.8 437.9h.8M72.2 435.5h.8M53.6 447.2h.8M112.5 410.4h.8M54.4 447.3h.8M111.7 410.7h.8M56.0 446.1h.8M76.8 432.7h.8M83.8 427.8h.8M107.9 414.3h.8M89.2 429.1h.8M90.8 423.9h.8M64.7 440.1h.8M50.8 449.5h.8M102.7 416.4h.8M60.9 443.4h.8M103.1 419.7h.8M59.8 444.4h.8M102.1 419.1h.8M69.9 437.0h.8M101.8 417.1h.8M72.6 436.6h.8M72.6 438.2h.8M64.3 440.3h.8M85.3 429.5h.8M101.5 419.3h.8M106.9 416.7h.8M80.6 431.6h.8M59.1 443.9h.8M86.2 426.4h.8M93.0 422.2h.8M77.4 436.8h.8M54.7 446.4h.8M77.1 432.5h.8M95.3 420.5h.8M102.8 419.4h.8M99.4 419.2h.8M67.1 440.1h.8M81.9 430.4h.8M70.7 437.3h.8M91.6 426.6h.8M106.9 413.3h.8M67.9 438.9h.8M85.1 428.0h.8M61.5 442.1h.8M69.7 437.9h.8M111.2 412.3h.8M104.4 419.1h.8M110.6 412.0h.8M100.9 416.9h.8M92.3 424.7h.8M68.0 439.3h.8M110.0 412.0h.8M90.4 424.3h.8M71.0 439.2h.8M50.8 449.0h.8M92.4 423.7h.8M54.5 447.2h.8M72.8 436.7h.8M75.6 434.8h.8M85.1 428.2h.8M56.3 445.5h.8M106.0 415.3h.8M56.2 446.6h.8M65.2 439.8h.8M83.0 429.0h.8M80.3 432.1h.8M63.5 441.7h.8M56.2 445.9h.8M86.7 426.1h.8M75.1 433.5h.8M77.1 436.1h.8M84.2 430.8h.8M97.4 419.2h.8M112.4 410.4h.8M55.5 446.9h.8M74.1 434.3h.8M110.4 411.9h.8M98.6 418.6h.8M98.7 418.3h.8M64.2 440.9h.8M50.0 449.8h.8M62.6 441.7h.8M94.3 422.4h.8M105.9 415.7h.8M104.8 416.2h.8M107.7 415.6h.8M59.8 444.3h.8M70.8 438.6h.8M92.6 426.0h.8M56.9 445.4h.8M96.2 424.7h.8M95.2 420.6h.8M87.6 425.5h.8M84.1 431.5h.8M56.2 446.7h.8M92.2 423.0h.8M61.4 442.7h.8M102.6 417.8h.8M56.3 445.5h.8M56.1 446.5h.8M60.9 443.3h.8M67.6 439.9h.8M73.4 434.7h.8M105.0 415.9h.8M93.1 425.5h.8M109.7 411.2h.8M70.9 436.3h.8M81.1 433.9h.8M100.2 417.3h.8M60.7 444.0h.8M92.5 423.4h.8M79.4 430.9h.8M103.1 416.5h.8M104.9 416.4h.8M53.9 447.2h.8M62.8 443.0h.8M86.7 426.0h.8M59.9 443.5h.8M78.9 433.1h.8M73.8 435.1h.8M49.4 450.1h.8M70.4 436.4h.8M78.4 436.4h.8M51.9 448.3h.8M91.9 423.3h.8M66.5 439.9h.8M65.8 440.5h.8M82.8 433.6h.8M112.5 409.4h.8M84.9 430.8h.8M104.8 417.4h.8M89.5 426.7h.8M72.2 435.8h.8M99.9 421.6h.8M109.1 413.5h.8M68.5 439.8h.8M96.3 421.6h.8M89.7 425.1h.8M84.2 428.8h.8M52.9 447.8h.8M69.7 440.4h.8M79.8 431.4h.8M64.6 440.4h.8M71.4 436.0h.8M49.5 450.3h.8M78.0 433.0h.8M85.4 427.6h.8M59.8 443.2h.8M68.3 438.3h.8M95.5 422.3h.8M109.0 412.3h.8M108.0 414.0h.8M54.1 446.9h.8M86.2 431.7h.8M71.8 438.2h.8M76.4 436.6h.8M53.3 447.7h.8M106.5 413.8h.8M65.5 439.6h.8M59.5 443.6h.8M94.1 421.7h.8M74.6 434.1h.8M87.6 429.7h.8M90.5 423.9h.8M96.0 424.9h.8M87.5 425.6h.8M100.8 421.0h.8M70.8 436.3h.8M61.0 443.1h.8M105.0 416.5h.8M108.1 412.6h.8M69.9 439.0h.8M90.5 424.7h.8M92.5 423.2h.8M52.7 448.0h.8M51.9 448.7h.8M70.4 437.6h.8M87.3 426.2h.8M78.7 431.1h.8M108.2 413.7h.8M112.2 409.6h.8M88.3 428.1h.8M70.1 436.7h.8M59.0 443.8h.8M98.1 418.8h.8M101.1 418.0h.8M83.5 430.4h.8M84.5 430.2h.8M87.5 426.4h.8M96.4 420.3h.8M94.5 424.3h.8M98.7 419.1h.8M98.4 423.4h.8M78.0 432.2h.8M82.5 433.7h.8M57.4 444.7h.8M79.4 433.3h.8M98.5 419.4h.8M112.3 409.7h.8M97.4 419.2h.8M50.8 449.0h.8M52.9 448.0h.8M84.5 427.7h.8M109.1 412.3h.8M58.6 444.1h.8M96.2 424.4h.8M59.4 443.5h.8M98.8 418.7h.8M111.9 410.5h.8M89.7 425.0h.8M100.2 418.7h.8M69.7 439.9h.8M55.9 446.5h.8M53.2 447.9h.8M74.7 437.4h.8M52.8 448.0h.8M75.2 437.6h.8M109.5 413.0h.8M63.3 441.2h.8M65.8 440.1h.8M63.8 440.8h.8M97.6 421.5h.8M68.1 441.1h.8M62.9 442.1h.8M59.0 445.0h.8M104.6 415.0h.8M97.1 423.1h.8M67.1 439.0h.8M80.1 434.6h.8M59.3 444.4h.8M87.2 427.1h.8M86.1 430.8h.8M62.4 443.2h.8M72.1 438.1h.8M104.3 415.0h.8M104.3 419.3h.8M68.0 437.9h.8M56.1 446.8h.8M49.6 450.3h.8M58.7 444.9h.8M55.2 446.2h.8M92.7 422.2h.8M70.7 439.5h.8M94.8 425.0h.8M111.7 410.0h.8M64.0 442.1h.8M93.1 421.9h.8M81.3 429.9h.8M76.6 432.6h.8M50.3 450.0h.8M69.3 440.0h.8M56.7 445.6h.8M57.7 444.9h.8M60.5 443.8h.8M58.5 445.0h.8M81.0 429.7h.8M71.6 436.9h.8M107.8 413.2h.8M62.8 443.3h.8M105.5 416.6h.8M66.5 439.1h.8M65.9 439.3h.8M51.8 448.6h.8M75.1 435.3h.8M72.2 435.2h.8M93.0 424.5h.8M83.8 429.9h.8M93.2 426.9h.8M104.9 417.0h.8M74.6 434.5h.8M75.8 437.7h.8M73.8 435.2h.8M75.2 433.5h.8M112.9 409.2h.8M87.9 429.9h.8M65.3 440.9h.8M73.1 435.1h.8M61.7 442.0h.8M103.0 418.8h.8M107.1 412.9h.8M93.4 422.5h.8M90.4 425.6h.8M69.2 440.5h.8M49.1 450.5h.8M103.6 416.7h.8M86.9 431.2h.8M64.0 441.6h.8M96.6 420.7h.8M94.6 422.1h.8M82.7 431.1h.8M92.3 423.2h.8M89.2 426.3h.8M63.3 442.0h.8M66.0 441.6h.8M79.3 433.8h.8M82.4 430.4h.8M63.2 441.1h.8M108.3 413.4h.8M82.5 430.6h.8M101.1 417.3h.8M60.0 444.4h.8M78.5 433.8h.8M102.0 420.3h.8M104.5 414.6h.8M73.4 437.8h.8M101.3 416.8h.8M58.8 444.0h.8M55.6 446.1h.8M100.4 419.0h.8M78.0 431.7h.8M74.3 438.5h.8M93.5 423.1h.8M79.6 434.2h.8M97.6 419.2h.8M92.5 423.3h.8M82.3 429.3h.8M72.7 435.7h.8M73.4 434.5h.8M61.9 442.7h.8M52.7 447.8h.8M95.0 421.3h.8M69.7 437.2h.8M102.4 416.0h.8M89.7 428.2h.8M61.9 442.4h.8M99.7 420.0h.8M72.8 434.9h.8M77.3 433.0h.8M94.6 421.6h.8M75.1 435.8h.8M100.9 417.8h.8M73.7 436.2h.8M108.2 412.5h.8M111.2 411.7h.8M72.8 437.1h.8M70.1 436.7h.8M97.4 420.2h.8M82.7 430.4h.8M106.7 415.8h.8M50.6 449.4h.8M78.6 432.7h.8M102.7 416.9h.8M79.3 435.1h.8M77.1 433.7h.8M81.8 433.1h.8M91.9 425.8h.8M74.7 433.7h.8M92.5 424.3h.8M98.2 422.0h.8M56.6 445.4h.8M53.9 447.7h.8M55.5 446.0h.8M97.2 421.3h.8M52.5 448.4h.8M94.5 422.6h.8M52.5 448.4h.8M75.7 435.1h.8M112.9 410.1h.8M104.8 414.6h.8M70.4 437.7h.8M49.4 450.5h.8M66.6 439.2h.8M69.0 437.7h.8M104.0 416.7h.8M81.7 430.5h.8M52.3 448.2h.8M104.5 417.8h.8M103.8 415.5h.8M61.9 441.8h.8M83.4 429.3h.8M78.7 432.7h.8M86.4 427.3h.8M100.3 417.6h.8M107.8 413.9h.8M52.3 448.2h.8M83.1 429.6h.8M85.2 427.9h.8M66.5 440.9h.8M67.7 440.0h.8M100.4 419.4h.8M78.1 436.1h.8M77.5 436.0h.8M52.7 448.0h.8M89.9 423.9h.8M104.2 414.8h.8M87.2 426.0h.8M108.0 413.8h.8M100.2 418.9h.8M92.1 425.3h.8M67.9 438.3h.8M102.7 416.0h.8M107.7 412.8h.8M55.5 446.0h.8M99.2 422.7h.8M75.5 435.6h.8M65.5 441.8h.8M92.9 422.3h.8M52.6 448.3h.8M51.7 449.1h.8M67.8 438.4h.8M86.3 427.1h.8M84.9 427.4h.8M107.4 413.4h.8M102.8 415.9h.8M100.2 422.2h.8M74.1 434.1h.8M73.3 436.7h.8M63.3 441.8h.8M55.0 446.6h.8M95.6 421.6h.8M92.5 422.4h.8M102.0 416.3h.8M108.1 416.0h.8M109.1 412.9h.8M67.6 438.8h.8M97.0 421.0h.8M108.5 412.1h.8M80.0 434.5h.8M87.3 427.6h.8M54.7 446.5h.8M66.4 441.4h.8M103.1 415.9h.8M108.2 412.2h.8M87.3 430.7h.8M71.0 439.6h.8M91.0 423.2h.8M70.3 437.5h.8M64.8 441.5h.8M60.4 444.0h.8M68.1 437.9h.8M84.8 427.3h.8M84.3 431.3h.8M87.1 427.3h.8M51.2 449.0h.8M55.2 446.7h.8M57.4 445.3h.8M71.6 436.5h.8M91.4 423.2h.8M59.9 444.8h.8M70.2 439.3h.8M104.9 415.7h.8M58.5 444.0h.8M105.3 414.2h.8M80.8 431.8h.8M56.5 445.7h.8M59.5 444.0h.8M81.4 430.4h.8M61.7 442.5h.8M62.0 441.8h.8M64.4 442.2h.8M81.1 434.0h.8M50.0 450.1h.8M80.3 433.8h.8M85.5 429.8h.8M63.7 442.1h.8M58.8 444.0h.8M51.0 449.0h.8M82.2 429.6h.8M106.0 413.7h.8M86.0 426.9h.8M87.1 429.4h.8M94.5 421.0h.8M64.7 441.1h.8M111.9 409.8h.8M88.6 427.7h.8M101.1 417.6h.8M100.9 418.3h.8M107.9 412.4h.8M109.2 412.4h.8M75.1 433.5h.8M64.7 441.6h.8M92.4 422.5h.8M71.0 436.2h.8M61.7 442.2h.8M70.2 440.1h.8M112.8 410.1h.8M98.0 426.6h.8M106.0 423.9h.8M105.3 422.8h.8M90.4 432.3h.8M107.8 422.0h.8M87.5 434.7h.8M94.4 426.9h.8M111.1 419.3h.8M105.1 419.9h.8M107.4 423.2h.8M109.4 420.8h.8M107.5 422.4h.8" stroke="#1d5a93" stroke-width=".8" stroke-opacity=".6" fill="none"/>
<line x1="36.70" y1="397.80" x2="36.70" y2="457.70" stroke="#1e1e1e" stroke-width="1"/>
<line x1="36.20" y1="457.20" x2="130.80" y2="457.20" stroke="#1e1e1e" stroke-width="1"/>
<line x1="33.20" y1="449.70" x2="36.70" y2="449.70" stroke="#1e1e1e" stroke-width="0.9"/>
<text x="31.80" y="452.50" font-size="8.0" text-anchor="end" textLength="4.60" lengthAdjust="spacingAndGlyphs">0</text>
<line x1="33.20" y1="436.40" x2="36.70" y2="436.40" stroke="#1e1e1e" stroke-width="0.9"/>
<text x="31.80" y="439.20" font-size="8.0" text-anchor="end" textLength="4.60" lengthAdjust="spacingAndGlyphs">5</text>
<line x1="33.20" y1="423.10" x2="36.70" y2="423.10" stroke="#1e1e1e" stroke-width="0.9"/>
<text x="31.80" y="425.90" font-size="8.0" text-anchor="end" textLength="9.20" lengthAdjust="spacingAndGlyphs">10</text>
<line x1="33.20" y1="409.80" x2="36.70" y2="409.80" stroke="#1e1e1e" stroke-width="0.9"/>
<text x="31.80" y="412.60" font-size="8.0" text-anchor="end" textLength="9.20" lengthAdjust="spacingAndGlyphs">15</text>
<line x1="48.30" y1="457.20" x2="48.30" y2="460.20" stroke="#1e1e1e" stroke-width="0.9"/>
<text x="48.30" y="469.20" font-size="8.0" text-anchor="middle" textLength="4.40" lengthAdjust="spacingAndGlyphs">0</text>
<line x1="68.25" y1="457.20" x2="68.25" y2="460.20" stroke="#1e1e1e" stroke-width="0.9"/>
<text x="68.25" y="469.20" font-size="8.0" text-anchor="middle" textLength="4.40" lengthAdjust="spacingAndGlyphs">5</text>
<line x1="88.20" y1="457.20" x2="88.20" y2="460.20" stroke="#1e1e1e" stroke-width="0.9"/>
<text x="88.20" y="469.20" font-size="8.0" text-anchor="middle" textLength="8.80" lengthAdjust="spacingAndGlyphs">10</text>
<line x1="108.15" y1="457.20" x2="108.15" y2="460.20" stroke="#1e1e1e" stroke-width="0.9"/>
<text x="108.15" y="469.20" font-size="8.0" text-anchor="middle" textLength="8.80" lengthAdjust="spacingAndGlyphs">15</text>
<line x1="128.10" y1="457.20" x2="128.10" y2="460.20" stroke="#1e1e1e" stroke-width="0.9"/>
<text x="128.10" y="469.20" font-size="8.0" text-anchor="middle" textLength="8.80" lengthAdjust="spacingAndGlyphs">20</text>
<text x="15.80" y="427.00" font-size="8.8" text-anchor="middle" textLength="34.00" lengthAdjust="spacingAndGlyphs" transform="rotate(-90 15.80 427.00)">MH (RPM)</text>
<text x="82.20" y="481.60" font-size="8.8" text-anchor="middle" textLength="32.80" lengthAdjust="spacingAndGlyphs">WT (RPM)</text>
<text x="39.20" y="406.60" font-size="6.6" fill="#c8102e" color="#c8102e" textLength="51.60" lengthAdjust="spacingAndGlyphs">Upregulated 2431</text>
<text x="64.80" y="452.40" font-size="6.6" fill="#1d5a93" color="#1d5a93" textLength="59.60" lengthAdjust="spacingAndGlyphs">Downregulated 1717</text>
<text x="182.30" y="389.10" font-size="11" fill="#000" color="#000" font-weight="bold">H</text>
<line x1="219.40" y1="388.50" x2="219.40" y2="451.50" stroke="#1e1e1e" stroke-width="1"/>
<line x1="218.90" y1="451.10" x2="462.80" y2="451.10" stroke="#1e1e1e" stroke-width="1.1"/>
<line x1="216.20" y1="450.90" x2="219.40" y2="450.90" stroke="#1e1e1e" stroke-width="0.9"/>
<text x="214.60" y="453.50" font-size="7.5" text-anchor="end" textLength="10.60" lengthAdjust="spacingAndGlyphs">0.0</text>
<line x1="216.20" y1="439.20" x2="219.40" y2="439.20" stroke="#1e1e1e" stroke-width="0.9"/>
<text x="214.60" y="441.80" font-size="7.5" text-anchor="end" textLength="10.60" lengthAdjust="spacingAndGlyphs">0.5</text>
<line x1="216.20" y1="427.50" x2="219.40" y2="427.50" stroke="#1e1e1e" stroke-width="0.9"/>
<text x="214.60" y="430.10" font-size="7.5" text-anchor="end" textLength="10.60" lengthAdjust="spacingAndGlyphs">1.0</text>
<line x1="216.20" y1="415.80" x2="219.40" y2="415.80" stroke="#1e1e1e" stroke-width="0.9"/>
<text x="214.60" y="418.40" font-size="7.5" text-anchor="end" textLength="10.60" lengthAdjust="spacingAndGlyphs">1.5</text>
<line x1="216.20" y1="404.10" x2="219.40" y2="404.10" stroke="#1e1e1e" stroke-width="0.9"/>
<text x="214.60" y="406.70" font-size="7.5" text-anchor="end" textLength="10.60" lengthAdjust="spacingAndGlyphs">2.0</text>
<line x1="216.20" y1="392.40" x2="219.40" y2="392.40" stroke="#1e1e1e" stroke-width="0.9"/>
<text x="214.60" y="395.00" font-size="7.5" text-anchor="end" textLength="10.60" lengthAdjust="spacingAndGlyphs">2.5</text>
<text x="198.40" y="422.00" font-size="9.6" text-anchor="middle" textLength="40.40" lengthAdjust="spacingAndGlyphs" transform="rotate(-90 198.40 422.00)">Fold change</text>
<rect x="223.40" y="427.50" width="8.00" height="23.40" fill="#17528a"/>
<line x1="224.90" y1="427.30" x2="229.90" y2="427.30" stroke="#0d2f55" stroke-width="0.8"/>
<rect x="231.40" y="409.81" width="8.00" height="41.09" fill="#c8102e"/>
<line x1="235.40" y1="405.97" x2="235.40" y2="409.81" stroke="#1e1e1e" stroke-width="0.9"/>
<line x1="233.60" y1="405.97" x2="237.20" y2="405.97" stroke="#1e1e1e" stroke-width="0.9"/>
<line x1="231.40" y1="451.10" x2="231.40" y2="453.40" stroke="#1e1e1e" stroke-width="0.9"/>
<line x1="227.40" y1="403.10" x2="235.90" y2="403.10" stroke="#1e1e1e" stroke-width="1.0"/>
<text x="231.40" y="404.00" font-size="10.78" text-anchor="middle" textLength="7.63" lengthAdjust="spacingAndGlyphs">**</text>
<text x="235.70" y="460.60" font-size="8.58" text-anchor="end" font-style="italic" textLength="22.55" lengthAdjust="spacingAndGlyphs" transform="rotate(-45 235.70 460.60)">Hdac4</text>
<rect x="247.62" y="427.50" width="8.00" height="23.40" fill="#17528a"/>
<line x1="249.12" y1="427.30" x2="254.12" y2="427.30" stroke="#0d2f55" stroke-width="0.8"/>
<rect x="255.62" y="410.42" width="8.00" height="40.48" fill="#c8102e"/>
<line x1="259.62" y1="408.31" x2="259.62" y2="410.42" stroke="#1e1e1e" stroke-width="0.9"/>
<line x1="257.82" y1="408.31" x2="261.42" y2="408.31" stroke="#1e1e1e" stroke-width="0.9"/>
<line x1="255.62" y1="451.10" x2="255.62" y2="453.40" stroke="#1e1e1e" stroke-width="0.9"/>
<line x1="251.62" y1="404.90" x2="260.12" y2="404.90" stroke="#1e1e1e" stroke-width="1.0"/>
<text x="255.62" y="405.80" font-size="10.78" text-anchor="middle" textLength="7.63" lengthAdjust="spacingAndGlyphs">**</text>
<text x="259.92" y="460.60" font-size="8.58" text-anchor="end" font-style="italic" textLength="15.17" lengthAdjust="spacingAndGlyphs" transform="rotate(-45 259.92 460.60)">Bcl2</text>
<rect x="271.84" y="427.50" width="8.00" height="23.40" fill="#17528a"/>
<line x1="273.34" y1="427.30" x2="278.34" y2="427.30" stroke="#0d2f55" stroke-width="0.8"/>
<rect x="279.84" y="416.50" width="8.00" height="34.40" fill="#c8102e"/>
<line x1="283.84" y1="415.80" x2="283.84" y2="416.50" stroke="#1e1e1e" stroke-width="0.9"/>
<line x1="282.04" y1="415.80" x2="285.64" y2="415.80" stroke="#1e1e1e" stroke-width="0.9"/>
<line x1="279.84" y1="451.10" x2="279.84" y2="453.40" stroke="#1e1e1e" stroke-width="0.9"/>
<line x1="275.84" y1="413.10" x2="284.34" y2="413.10" stroke="#1e1e1e" stroke-width="1.0"/>
<text x="279.84" y="414.00" font-size="10.78" text-anchor="middle" textLength="11.44" lengthAdjust="spacingAndGlyphs">***</text>
<text x="284.14" y="460.60" font-size="8.58" text-anchor="end" font-style="italic" textLength="22.55" lengthAdjust="spacingAndGlyphs" transform="rotate(-45 284.14 460.60)">Hdac9</text>
<rect x="296.06" y="427.50" width="8.00" height="23.40" fill="#17528a"/>
<line x1="300.06" y1="426.10" x2="300.06" y2="427.50" stroke="#1e1e1e" stroke-width="0.9"/>
<line x1="298.26" y1="426.10" x2="301.86" y2="426.10" stroke="#1e1e1e" stroke-width="0.9"/>
<rect x="304.06" y="441.31" width="8.00" height="9.59" fill="#c8102e"/>
<line x1="308.06" y1="440.60" x2="308.06" y2="441.31" stroke="#1e1e1e" stroke-width="0.9"/>
<line x1="306.26" y1="440.60" x2="309.86" y2="440.60" stroke="#1e1e1e" stroke-width="0.9"/>
<line x1="304.06" y1="451.10" x2="304.06" y2="453.40" stroke="#1e1e1e" stroke-width="0.9"/>
<line x1="300.06" y1="422.30" x2="308.56" y2="422.30" stroke="#1e1e1e" stroke-width="1.0"/>
<text x="304.06" y="423.20" font-size="10.78" text-anchor="middle" textLength="7.63" lengthAdjust="spacingAndGlyphs">**</text>
<text x="308.36" y="460.60" font-size="8.58" text-anchor="end" font-style="italic" textLength="22.55" lengthAdjust="spacingAndGlyphs" transform="rotate(-45 308.36 460.60)">Runx1</text>
<rect x="320.28" y="427.50" width="8.00" height="23.40" fill="#17528a"/>
<line x1="324.28" y1="427.03" x2="324.28" y2="427.50" stroke="#1e1e1e" stroke-width="0.9"/>
<line x1="322.48" y1="427.03" x2="326.08" y2="427.03" stroke="#1e1e1e" stroke-width="0.9"/>
<rect x="328.28" y="442.01" width="8.00" height="8.89" fill="#c8102e"/>
<line x1="332.28" y1="439.90" x2="332.28" y2="442.01" stroke="#1e1e1e" stroke-width="0.9"/>
<line x1="330.48" y1="439.90" x2="334.08" y2="439.90" stroke="#1e1e1e" stroke-width="0.9"/>
<line x1="328.28" y1="451.10" x2="328.28" y2="453.40" stroke="#1e1e1e" stroke-width="0.9"/>
<line x1="324.28" y1="423.10" x2="332.78" y2="423.10" stroke="#1e1e1e" stroke-width="1.0"/>
<text x="328.28" y="424.00" font-size="10.78" text-anchor="middle" textLength="7.63" lengthAdjust="spacingAndGlyphs">**</text>
<text x="332.58" y="460.60" font-size="8.58" text-anchor="end" font-style="italic" textLength="21.68" lengthAdjust="spacingAndGlyphs" transform="rotate(-45 332.58 460.60)">Foxo1</text>
<rect x="344.50" y="427.50" width="8.00" height="23.40" fill="#17528a"/>
<line x1="346.00" y1="427.30" x2="351.00" y2="427.30" stroke="#0d2f55" stroke-width="0.8"/>
<rect x="352.50" y="444.35" width="8.00" height="6.55" fill="#c8102e"/>
<line x1="356.50" y1="442.71" x2="356.50" y2="444.35" stroke="#1e1e1e" stroke-width="0.9"/>
<line x1="354.70" y1="442.71" x2="358.30" y2="442.71" stroke="#1e1e1e" stroke-width="0.9"/>
<line x1="352.50" y1="451.10" x2="352.50" y2="453.40" stroke="#1e1e1e" stroke-width="0.9"/>
<line x1="348.50" y1="422.30" x2="357.00" y2="422.30" stroke="#1e1e1e" stroke-width="1.0"/>
<text x="352.50" y="423.20" font-size="10.78" text-anchor="middle" textLength="11.44" lengthAdjust="spacingAndGlyphs">***</text>
<text x="356.80" y="460.60" font-size="8.58" text-anchor="end" font-style="italic" textLength="22.12" lengthAdjust="spacingAndGlyphs" transform="rotate(-45 356.80 460.60)">Bach2</text>
<rect x="368.72" y="427.50" width="8.00" height="23.40" fill="#17528a"/>
<line x1="372.72" y1="427.03" x2="372.72" y2="427.50" stroke="#1e1e1e" stroke-width="0.9"/>
<line x1="370.92" y1="427.03" x2="374.52" y2="427.03" stroke="#1e1e1e" stroke-width="0.9"/>
<rect x="376.72" y="444.35" width="8.00" height="6.55" fill="#c8102e"/>
<line x1="380.72" y1="442.71" x2="380.72" y2="444.35" stroke="#1e1e1e" stroke-width="0.9"/>
<line x1="378.92" y1="442.71" x2="382.52" y2="442.71" stroke="#1e1e1e" stroke-width="0.9"/>
<line x1="376.72" y1="451.10" x2="376.72" y2="453.40" stroke="#1e1e1e" stroke-width="0.9"/>
<line x1="372.72" y1="422.30" x2="381.22" y2="422.30" stroke="#1e1e1e" stroke-width="1.0"/>
<text x="376.72" y="423.20" font-size="10.78" text-anchor="middle" textLength="11.44" lengthAdjust="spacingAndGlyphs">***</text>
<text x="381.02" y="460.60" font-size="8.58" text-anchor="end" font-style="italic" textLength="16.05" lengthAdjust="spacingAndGlyphs" transform="rotate(-45 381.02 460.60)">Ebf1</text>
<rect x="392.94" y="427.50" width="8.00" height="23.40" fill="#17528a"/>
<line x1="396.94" y1="427.03" x2="396.94" y2="427.50" stroke="#1e1e1e" stroke-width="0.9"/>
<line x1="395.14" y1="427.03" x2="398.74" y2="427.03" stroke="#1e1e1e" stroke-width="0.9"/>
<rect x="400.94" y="448.09" width="8.00" height="2.81" fill="#c8102e"/>
<line x1="404.94" y1="447.16" x2="404.94" y2="448.09" stroke="#1e1e1e" stroke-width="0.9"/>
<line x1="403.14" y1="447.16" x2="406.74" y2="447.16" stroke="#1e1e1e" stroke-width="0.9"/>
<line x1="400.94" y1="451.10" x2="400.94" y2="453.40" stroke="#1e1e1e" stroke-width="0.9"/>
<line x1="396.94" y1="422.30" x2="405.44" y2="422.30" stroke="#1e1e1e" stroke-width="1.0"/>
<text x="400.94" y="423.20" font-size="10.78" text-anchor="middle" textLength="11.44" lengthAdjust="spacingAndGlyphs">***</text>
<text x="405.24" y="460.60" font-size="8.58" text-anchor="end" font-style="italic" textLength="21.24" lengthAdjust="spacingAndGlyphs" transform="rotate(-45 405.24 460.60)">Mef2c</text>
<rect x="417.16" y="427.50" width="8.00" height="23.40" fill="#17528a"/>
<line x1="421.16" y1="425.86" x2="421.16" y2="427.50" stroke="#1e1e1e" stroke-width="0.9"/>
<line x1="419.36" y1="425.86" x2="422.96" y2="425.86" stroke="#1e1e1e" stroke-width="0.9"/>
<rect x="425.16" y="449.03" width="8.00" height="1.87" fill="#c8102e"/>
<line x1="429.16" y1="448.33" x2="429.16" y2="449.03" stroke="#1e1e1e" stroke-width="0.9"/>
<line x1="427.36" y1="448.33" x2="430.96" y2="448.33" stroke="#1e1e1e" stroke-width="0.9"/>
<line x1="425.16" y1="451.10" x2="425.16" y2="453.40" stroke="#1e1e1e" stroke-width="0.9"/>
<line x1="421.16" y1="421.90" x2="429.66" y2="421.90" stroke="#1e1e1e" stroke-width="1.0"/>
<text x="425.16" y="422.80" font-size="10.78" text-anchor="middle" textLength="11.44" lengthAdjust="spacingAndGlyphs">***</text>
<text x="429.46" y="460.60" font-size="8.58" text-anchor="end" font-style="italic" textLength="15.18" lengthAdjust="spacingAndGlyphs" transform="rotate(-45 429.46 460.60)">Lef1</text>
<rect x="441.38" y="427.50" width="8.00" height="23.40" fill="#17528a"/>
<line x1="445.38" y1="425.63" x2="445.38" y2="427.50" stroke="#1e1e1e" stroke-width="0.9"/>
<line x1="443.58" y1="425.63" x2="447.18" y2="425.63" stroke="#1e1e1e" stroke-width="0.9"/>
<rect x="449.38" y="450.43" width="8.00" height="0.47" fill="#c8102e"/>
<line x1="453.38" y1="450.20" x2="453.38" y2="450.43" stroke="#1e1e1e" stroke-width="0.9"/>
<line x1="451.58" y1="450.20" x2="455.18" y2="450.20" stroke="#1e1e1e" stroke-width="0.9"/>
<line x1="449.38" y1="451.10" x2="449.38" y2="453.40" stroke="#1e1e1e" stroke-width="0.9"/>
<line x1="445.38" y1="421.90" x2="453.88" y2="421.90" stroke="#1e1e1e" stroke-width="1.0"/>
<text x="449.38" y="422.80" font-size="10.78" text-anchor="middle" textLength="11.44" lengthAdjust="spacingAndGlyphs">***</text>
<text x="453.68" y="460.60" font-size="8.58" text-anchor="end" font-style="italic" textLength="25.15" lengthAdjust="spacingAndGlyphs" transform="rotate(-45 453.68 460.60)">Vpreb3</text>
<rect x="464.20" y="427.20" width="5.70" height="5.80" fill="#17528a"/>
<rect x="464.20" y="437.60" width="5.70" height="5.80" fill="#c8102e"/>
<text x="473.40" y="432.70" font-size="8.58" textLength="12.13" lengthAdjust="spacingAndGlyphs">WT</text>
<text x="473.40" y="443.10" font-size="7.8" textLength="28.10" lengthAdjust="spacingAndGlyphs">MH-Vav</text>
<text x="6.50" y="489.30" font-size="11" fill="#000" color="#000" font-weight="bold">I</text>
<line x1="402.40" y1="514.50" x2="402.40" y2="665.60" stroke="#1e1e1e" stroke-width="1"/>
<line x1="401.90" y1="665.10" x2="493.30" y2="665.10" stroke="#1e1e1e" stroke-width="1"/>
<line x1="399.00" y1="659.15" x2="402.40" y2="659.15" stroke="#1e1e1e" stroke-width="0.9"/>
<text x="396.60" y="662.05" font-size="8.3" text-anchor="end" textLength="4.28" lengthAdjust="spacingAndGlyphs">0</text>
<line x1="399.00" y1="605.55" x2="402.40" y2="605.55" stroke="#1e1e1e" stroke-width="0.9"/>
<text x="396.60" y="608.45" font-size="8.3" text-anchor="end" textLength="17.12" lengthAdjust="spacingAndGlyphs">5000</text>
<line x1="399.00" y1="551.95" x2="402.40" y2="551.95" stroke="#1e1e1e" stroke-width="0.9"/>
<text x="396.60" y="554.85" font-size="8.3" text-anchor="end" textLength="21.40" lengthAdjust="spacingAndGlyphs">10000</text>
<line x1="406.50" y1="665.10" x2="406.50" y2="667.70" stroke="#1e1e1e" stroke-width="0.9"/>
<text x="408.00" y="675.70" font-size="8.0" text-anchor="end" textLength="3.86" lengthAdjust="spacingAndGlyphs" transform="rotate(-45 408.00 675.70)">0</text>
<line x1="422.72" y1="665.10" x2="422.72" y2="667.70" stroke="#1e1e1e" stroke-width="0.9"/>
<text x="424.22" y="675.70" font-size="8.0" text-anchor="end" textLength="19.30" lengthAdjust="spacingAndGlyphs" transform="rotate(-45 424.22 675.70)">10000</text>
<line x1="438.94" y1="665.10" x2="438.94" y2="667.70" stroke="#1e1e1e" stroke-width="0.9"/>
<text x="440.44" y="675.70" font-size="8.0" text-anchor="end" textLength="19.30" lengthAdjust="spacingAndGlyphs" transform="rotate(-45 440.44 675.70)">20000</text>
<line x1="455.16" y1="665.10" x2="455.16" y2="667.70" stroke="#1e1e1e" stroke-width="0.9"/>
<text x="456.66" y="675.70" font-size="8.0" text-anchor="end" textLength="19.30" lengthAdjust="spacingAndGlyphs" transform="rotate(-45 456.66 675.70)">30000</text>
<line x1="471.38" y1="665.10" x2="471.38" y2="667.70" stroke="#1e1e1e" stroke-width="0.9"/>
<text x="472.88" y="675.70" font-size="8.0" text-anchor="end" textLength="19.30" lengthAdjust="spacingAndGlyphs" transform="rotate(-45 472.88 675.70)">40000</text>
<line x1="487.60" y1="665.10" x2="487.60" y2="667.70" stroke="#1e1e1e" stroke-width="0.9"/>
<text x="489.10" y="675.70" font-size="8.0" text-anchor="end" textLength="19.30" lengthAdjust="spacingAndGlyphs" transform="rotate(-45 489.10 675.70)">50000</text>
<text x="447.50" y="702.90" font-size="9.4" text-anchor="middle" textLength="38.40" lengthAdjust="spacingAndGlyphs">Sample size</text>
<text x="369.30" y="590.40" font-size="9.4" text-anchor="middle" textLength="29.40" lengthAdjust="spacingAndGlyphs" transform="rotate(-90 369.30 590.40)">Diversity</text>
<text x="447.70" y="498.00" font-size="10.2" text-anchor="middle" textLength="11.60" lengthAdjust="spacingAndGlyphs">IgH</text>
<line x1="424.20" y1="509.30" x2="429.70" y2="509.30" stroke="#1a5a96" stroke-width="1.2"/>
<circle cx="427.00" cy="509.30" r="1.20" fill="#1a5a96"/>
<text x="432.70" y="511.80" font-size="7.7" textLength="10.80" lengthAdjust="spacingAndGlyphs">WT</text>
<line x1="447.20" y1="509.30" x2="452.80" y2="509.30" stroke="#c8102e" stroke-width="1.2"/>
<circle cx="450.00" cy="509.30" r="1.20" fill="#c8102e"/>
<text x="455.80" y="511.80" font-size="7.7" textLength="12.00" lengthAdjust="spacingAndGlyphs">MH</text>
<path d="M406.50,659.15 L407.00,656.53 L407.50,653.99 L408.00,651.52 L408.50,649.11 L409.00,646.76 L409.50,644.48 L410.00,642.26 L410.50,640.09 L411.00,637.97 L411.50,635.91 L412.00,633.90 L412.50,631.94 L413.00,630.02 L413.50,628.15 L414.00,626.32 L414.50,624.54 L415.00,622.79 L415.50,621.09 L416.00,619.42 L416.50,617.79 L417.00,616.20 L417.50,614.64 L418.00,613.11 L418.50,611.61 L419.00,610.15 L419.50,608.72 L420.00,607.31 L420.50,605.94 L421.00,604.59 L421.50,603.27 L422.00,601.97 L422.50,600.70 L423.00,599.45 L423.50,598.23 L424.00,597.03 L424.50,595.86 L425.00,594.70 L425.50,593.57 L426.00,592.46 L426.50,591.36 L427.00,590.29 L427.50,589.24 L428.01,588.20 L428.51,587.18 L429.01,586.18 L429.51,585.20 L430.01,584.23 L430.51,583.28 L431.01,582.35 L431.51,581.43 L432.01,580.53 L432.51,579.64 L433.01,578.76 L433.51,577.90 L434.01,577.06 L434.51,576.22 L435.01,575.40 L435.51,574.59 L436.01,573.80 L436.51,573.02" fill="none" stroke="#1a5a96" stroke-width="1.6"/>
<path d="M436.51,573.02 L437.37,571.69 L438.23,570.40 L439.10,569.15 L439.96,567.92 L440.82,566.73 L441.69,565.56 L442.55,564.42 L443.41,563.31 L444.28,562.23 L445.14,561.17 L446.00,560.13 L446.87,559.12 L447.73,558.13 L448.59,557.17 L449.45,556.22 L450.32,555.30 L451.18,554.39 L452.04,553.51 L452.91,552.64 L453.77,551.79 L454.63,550.96 L455.50,550.15 L456.36,549.35 L457.22,548.57 L458.09,547.80 L458.95,547.05 L459.81,546.32 L460.68,545.60 L461.54,544.89 L462.40,544.19 L463.27,543.51 L464.13,542.84 L464.99,542.18 L465.85,541.54 L466.72,540.91 L467.58,540.28 L468.44,539.67 L469.31,539.07 L470.17,538.48 L471.03,537.90 L471.90,537.33 L472.76,536.77 L473.62,536.22 L474.49,535.68 L475.35,535.15 L476.21,534.63 L477.08,534.11 L477.94,533.60 L478.80,533.11 L479.67,532.61 L480.53,532.13 L481.39,531.66 L482.26,531.19 L483.12,530.73 L483.98,530.27 L484.84,529.83 L485.71,529.39 L486.57,528.95 L487.43,528.53 L488.30,528.10" fill="none" stroke="#1a5a96" stroke-width="1.6" stroke-dasharray="5 1.3"/>
<path d="M406.50,659.15 L407.00,656.73 L407.50,654.38 L408.00,652.09 L408.50,649.86 L409.00,647.69 L409.50,645.57 L410.00,643.52 L410.50,641.51 L411.00,639.55 L411.50,637.64 L412.00,635.78 L412.50,633.97 L413.00,632.19 L413.50,630.46 L414.00,628.77 L414.50,627.12 L415.00,625.50 L415.50,623.93 L416.00,622.38 L416.50,620.87 L417.00,619.40 L417.50,617.95 L418.00,616.54 L418.50,615.16 L419.00,613.80 L419.50,612.48 L420.00,611.18 L420.50,609.90 L421.00,608.66 L421.50,607.43 L422.00,606.23 L422.50,605.06 L423.00,603.90 L423.50,602.77 L424.00,601.66 L424.50,600.58 L425.00,599.51 L425.50,598.46 L426.00,597.43 L426.50,596.42 L427.00,595.42 L427.50,594.45 L428.01,593.49 L428.51,592.55 L429.01,591.62 L429.51,590.71 L430.01,589.82 L430.51,588.94 L431.01,588.07 L431.51,587.22 L432.01,586.39 L432.51,585.57 L433.01,584.76 L433.51,583.96 L434.01,583.18 L434.51,582.41 L435.01,581.65 L435.51,580.90 L436.01,580.16 L436.51,579.44" fill="none" stroke="#1a5a96" stroke-width="1.6"/>
<path d="M436.51,579.44 L437.37,578.21 L438.23,577.02 L439.10,575.86 L439.96,574.72 L440.82,573.62 L441.69,572.54 L442.55,571.49 L443.41,570.46 L444.28,569.45 L445.14,568.47 L446.00,567.52 L446.87,566.58 L447.73,565.67 L448.59,564.77 L449.45,563.90 L450.32,563.04 L451.18,562.20 L452.04,561.39 L452.91,560.58 L453.77,559.80 L454.63,559.03 L455.50,558.28 L456.36,557.54 L457.22,556.82 L458.09,556.11 L458.95,555.41 L459.81,554.73 L460.68,554.06 L461.54,553.41 L462.40,552.76 L463.27,552.13 L464.13,551.51 L464.99,550.91 L465.85,550.31 L466.72,549.72 L467.58,549.15 L468.44,548.58 L469.31,548.03 L470.17,547.48 L471.03,546.94 L471.90,546.42 L472.76,545.90 L473.62,545.39 L474.49,544.89 L475.35,544.40 L476.21,543.91 L477.08,543.43 L477.94,542.96 L478.80,542.50 L479.67,542.05 L480.53,541.60 L481.39,541.16 L482.26,540.73 L483.12,540.30 L483.98,539.88 L484.84,539.47 L485.71,539.06 L486.57,538.66 L487.43,538.27 L488.30,537.88" fill="none" stroke="#1a5a96" stroke-width="1.6" stroke-dasharray="5 1.3"/>
<path d="M406.50,659.15 L407.00,657.01 L407.50,654.92 L408.00,652.90 L408.50,650.92 L409.00,649.00 L409.50,647.13 L410.00,645.31 L410.50,643.53 L411.00,641.80 L411.50,640.11 L412.00,638.46 L412.50,636.86 L413.00,635.29 L413.50,633.75 L414.00,632.26 L414.50,630.79 L415.00,629.36 L415.50,627.97 L416.00,626.60 L416.50,625.27 L417.00,623.96 L417.50,622.68 L418.00,621.43 L418.50,620.21 L419.00,619.01 L419.50,617.83 L420.00,616.68 L420.50,615.55 L421.00,614.45 L421.50,613.37 L422.00,612.31 L422.50,611.26 L423.00,610.24 L423.50,609.24 L424.00,608.26 L424.50,607.30 L425.00,606.35 L425.50,605.42 L426.00,604.51 L426.50,603.61 L427.00,602.74 L427.50,601.87 L428.01,601.02 L428.51,600.19 L429.01,599.37 L429.51,598.57 L430.01,597.77 L430.51,597.00 L431.01,596.23 L431.51,595.48 L432.01,594.74 L432.51,594.01 L433.01,593.29 L433.51,592.59 L434.01,591.89 L434.51,591.21 L435.01,590.54 L435.51,589.88 L436.01,589.23 L436.51,588.58" fill="none" stroke="#1a5a96" stroke-width="1.6"/>
<path d="M436.51,588.58 L437.37,587.50 L438.23,586.44 L439.10,585.41 L439.96,584.41 L440.82,583.43 L441.69,582.48 L442.55,581.54 L443.41,580.63 L444.28,579.75 L445.14,578.88 L446.00,578.03 L446.87,577.20 L447.73,576.39 L448.59,575.60 L449.45,574.83 L450.32,574.07 L451.18,573.33 L452.04,572.60 L452.91,571.89 L453.77,571.20 L454.63,570.52 L455.50,569.85 L456.36,569.20 L457.22,568.56 L458.09,567.93 L458.95,567.32 L459.81,566.71 L460.68,566.12 L461.54,565.54 L462.40,564.97 L463.27,564.41 L464.13,563.86 L464.99,563.33 L465.85,562.80 L466.72,562.28 L467.58,561.77 L468.44,561.27 L469.31,560.78 L470.17,560.29 L471.03,559.82 L471.90,559.35 L472.76,558.89 L473.62,558.44 L474.49,558.00 L475.35,557.56 L476.21,557.13 L477.08,556.71 L477.94,556.30 L478.80,555.89 L479.67,555.49 L480.53,555.09 L481.39,554.70 L482.26,554.32 L483.12,553.94 L483.98,553.57 L484.84,553.20 L485.71,552.84 L486.57,552.49 L487.43,552.14 L488.30,551.79" fill="none" stroke="#1a5a96" stroke-width="1.6" stroke-dasharray="5 1.3"/>
<path d="M406.50,659.15 L407.47,657.43 L408.45,656.75 L409.42,656.24 L410.39,655.80 L411.37,655.43 L412.34,655.09 L413.31,654.77 L414.29,654.48 L415.26,654.21 L416.23,653.96 L417.21,653.71 L418.18,653.48 L419.15,653.26 L420.12,653.05 L421.10,652.84 L422.07,652.64 L423.04,652.45 L424.02,652.26 L424.99,652.08 L425.96,651.91 L426.94,651.73 L427.91,651.57 L428.88,651.40 L429.86,651.24 L430.83,651.09 L431.80,650.93 L432.78,650.78 L433.75,650.64 L434.72,650.49 L435.70,650.35 L436.67,650.21 L437.64,650.07 L438.62,649.94 L439.59,649.81 L440.56,649.67 L441.54,649.55 L442.51,649.42 L443.48,649.29 L444.45,649.17 L445.43,649.05 L446.40,648.93 L447.37,648.81 L448.35,648.69 L449.32,648.57 L450.29,648.46 L451.27,648.35 L452.24,648.23 L453.21,648.12 L454.19,648.01 L455.16,647.90 L456.13,647.80 L457.11,647.69 L458.08,647.59 L459.05,647.48 L460.03,647.38 L461.00,647.28 L461.97,647.17 L462.95,647.07 L463.92,646.97 L464.89,646.88" fill="none" stroke="#c8102e" stroke-width="1.4"/>
<path d="M464.89,646.88 L465.28,646.84 L465.67,646.80 L466.06,646.76 L466.45,646.72 L466.84,646.68 L467.23,646.64 L467.62,646.60 L468.01,646.57 L468.40,646.53 L468.79,646.49 L469.18,646.45 L469.57,646.41 L469.96,646.38 L470.35,646.34 L470.74,646.30 L471.13,646.26 L471.52,646.23 L471.91,646.19 L472.30,646.15 L472.69,646.11 L473.08,646.08 L473.47,646.04 L473.86,646.00 L474.25,645.97 L474.64,645.93 L475.03,645.90 L475.42,645.86 L475.81,645.82 L476.20,645.79 L476.59,645.75 L476.98,645.72 L477.37,645.68 L477.77,645.64 L478.16,645.61 L478.55,645.57 L478.94,645.54 L479.33,645.50 L479.72,645.47 L480.11,645.43 L480.50,645.40 L480.89,645.36 L481.28,645.33 L481.67,645.29 L482.06,645.26 L482.45,645.23 L482.84,645.19 L483.23,645.16 L483.62,645.12 L484.01,645.09 L484.40,645.06 L484.79,645.02 L485.18,644.99 L485.57,644.95 L485.96,644.92 L486.35,644.89 L486.74,644.85 L487.13,644.82 L487.52,644.79 L487.91,644.75 L488.30,644.72" fill="none" stroke="#c8102e" stroke-width="1.4" stroke-dasharray="5 1.0"/>
<path d="M406.50,659.15 L407.47,657.78 L408.45,657.23 L409.42,656.82 L410.39,656.48 L411.37,656.18 L412.34,655.90 L413.31,655.65 L414.29,655.42 L415.26,655.21 L416.23,655.00 L417.21,654.81 L418.18,654.62 L419.15,654.45 L420.12,654.28 L421.10,654.11 L422.07,653.95 L423.04,653.80 L424.02,653.65 L424.99,653.51 L425.96,653.36 L426.94,653.23 L427.91,653.09 L428.88,652.96 L429.86,652.84 L430.83,652.71 L431.80,652.59 L432.78,652.47 L433.75,652.35 L434.72,652.24 L435.70,652.12 L436.67,652.01 L437.64,651.90 L438.62,651.79 L439.59,651.69 L440.56,651.58 L441.54,651.48 L442.51,651.38 L443.48,651.28 L444.45,651.18 L445.43,651.08 L446.40,650.98 L447.37,650.89 L448.35,650.80 L449.32,650.70 L450.29,650.61 L451.27,650.52 L452.24,650.43 L453.21,650.34 L454.19,650.26 L455.16,650.17 L456.13,650.08 L457.11,650.00 L458.08,649.91 L459.05,649.83 L460.03,649.75 L461.00,649.67 L461.97,649.59 L462.95,649.51 L463.92,649.43 L464.89,649.35" fill="none" stroke="#c8102e" stroke-width="1.4"/>
<path d="M464.89,649.35 L465.28,649.32 L465.67,649.28 L466.06,649.25 L466.45,649.22 L466.84,649.19 L467.23,649.16 L467.62,649.13 L468.01,649.10 L468.40,649.07 L468.79,649.04 L469.18,649.01 L469.57,648.98 L469.96,648.95 L470.35,648.92 L470.74,648.89 L471.13,648.86 L471.52,648.83 L471.91,648.80 L472.30,648.77 L472.69,648.74 L473.08,648.71 L473.47,648.68 L473.86,648.65 L474.25,648.62 L474.64,648.59 L475.03,648.56 L475.42,648.54 L475.81,648.51 L476.20,648.48 L476.59,648.45 L476.98,648.42 L477.37,648.39 L477.77,648.36 L478.16,648.34 L478.55,648.31 L478.94,648.28 L479.33,648.25 L479.72,648.22 L480.11,648.20 L480.50,648.17 L480.89,648.14 L481.28,648.11 L481.67,648.08 L482.06,648.06 L482.45,648.03 L482.84,648.00 L483.23,647.97 L483.62,647.95 L484.01,647.92 L484.40,647.89 L484.79,647.87 L485.18,647.84 L485.57,647.81 L485.96,647.79 L486.35,647.76 L486.74,647.73 L487.13,647.71 L487.52,647.68 L487.91,647.65 L488.30,647.63" fill="none" stroke="#c8102e" stroke-width="1.4" stroke-dasharray="5 1.0"/>
<path d="M406.50,659.15 L407.47,658.13 L408.45,657.72 L409.42,657.42 L410.39,657.16 L411.37,656.94 L412.34,656.73 L413.31,656.55 L414.29,656.38 L415.26,656.22 L416.23,656.06 L417.21,655.92 L418.18,655.78 L419.15,655.65 L420.12,655.52 L421.10,655.40 L422.07,655.28 L423.04,655.17 L424.02,655.06 L424.99,654.95 L425.96,654.84 L426.94,654.74 L427.91,654.64 L428.88,654.55 L429.86,654.45 L430.83,654.36 L431.80,654.27 L432.78,654.18 L433.75,654.09 L434.72,654.00 L435.70,653.92 L436.67,653.84 L437.64,653.76 L438.62,653.67 L439.59,653.60 L440.56,653.52 L441.54,653.44 L442.51,653.37 L443.48,653.29 L444.45,653.22 L445.43,653.15 L446.40,653.07 L447.37,653.00 L448.35,652.93 L449.32,652.86 L450.29,652.80 L451.27,652.73 L452.24,652.66 L453.21,652.60 L454.19,652.53 L455.16,652.47 L456.13,652.40 L457.11,652.34 L458.08,652.28 L459.05,652.21 L460.03,652.15 L461.00,652.09 L461.97,652.03 L462.95,651.97 L463.92,651.91 L464.89,651.86" fill="none" stroke="#c8102e" stroke-width="1.4"/>
<path d="M464.89,651.86 L465.28,651.83 L465.67,651.81 L466.06,651.79 L466.45,651.76 L466.84,651.74 L467.23,651.72 L467.62,651.69 L468.01,651.67 L468.40,651.65 L468.79,651.63 L469.18,651.60 L469.57,651.58 L469.96,651.56 L470.35,651.54 L470.74,651.51 L471.13,651.49 L471.52,651.47 L471.91,651.45 L472.30,651.42 L472.69,651.40 L473.08,651.38 L473.47,651.36 L473.86,651.34 L474.25,651.32 L474.64,651.29 L475.03,651.27 L475.42,651.25 L475.81,651.23 L476.20,651.21 L476.59,651.19 L476.98,651.17 L477.37,651.14 L477.77,651.12 L478.16,651.10 L478.55,651.08 L478.94,651.06 L479.33,651.04 L479.72,651.02 L480.11,651.00 L480.50,650.98 L480.89,650.96 L481.28,650.94 L481.67,650.92 L482.06,650.89 L482.45,650.87 L482.84,650.85 L483.23,650.83 L483.62,650.81 L484.01,650.79 L484.40,650.77 L484.79,650.75 L485.18,650.73 L485.57,650.71 L485.96,650.69 L486.35,650.67 L486.74,650.65 L487.13,650.63 L487.52,650.61 L487.91,650.59 L488.30,650.57" fill="none" stroke="#c8102e" stroke-width="1.4" stroke-dasharray="5 1.0"/>
<text x="489.50" y="529.00" font-size="7.6" text-anchor="end" textLength="16.20" lengthAdjust="spacingAndGlyphs">WT2</text>
<text x="488.20" y="543.50" font-size="7.6" text-anchor="end" textLength="16.20" lengthAdjust="spacingAndGlyphs">WT3</text>
<text x="488.20" y="557.90" font-size="7.6" text-anchor="end" textLength="16.20" lengthAdjust="spacingAndGlyphs">WT1</text>
<text x="488.20" y="642.50" font-size="7.6" text-anchor="end" textLength="16.20" lengthAdjust="spacingAndGlyphs">MH2</text>
<text x="488.20" y="651.20" font-size="7.6" text-anchor="end" textLength="16.20" lengthAdjust="spacingAndGlyphs">MH1</text>
<text x="488.20" y="658.30" font-size="7.6" text-anchor="end" textLength="16.20" lengthAdjust="spacingAndGlyphs">MH3</text>
<path d="M43.4,585.3L38.9,592M42.7,584.8L38.2,591.3M42,584.4L37.5,590.6M41.4,583.9L36.9,589.8M40.7,583.4L35.3,590.3M40.1,582.8L35,589.1M39.4,582.3L34.2,588.5M38.8,581.8L33.4,588M38.2,581.2L32.3,587.7M37.6,580.7L33,585.5M37,580.1L31.4,585.8M36.4,579.5L30.6,585.3M35.9,578.9L30.6,583.8M35.3,578.3L29.8,583.4M34.7,577.7L29.7,582.1M34.2,577.1L28.8,581.6M33.7,576.4L27.9,581.1M33.2,575.8L27.8,580M32.7,575.1L27,579.5M32.2,574.5L25.2,579.5M31.7,573.8L25.3,578.3M31.2,573.1L24.8,577.4M30.8,572.4L23.4,577.2M30.3,571.7L23.7,575.9M29.9,571L22.3,575.5M29.5,570.3L22.5,574.3M29.1,569.6L21.7,573.6M28.7,568.9L22.7,572M28.3,568.1L21.2,571.7M28,567.4L20.5,571M27.6,566.7L21.5,569.4M27.3,565.9L19.3,569.3M26.9,565.1L20.5,567.8M26.6,564.4L19.5,567.2M26.3,563.6L19.8,566M26.1,562.8L18.8,565.4M25.8,562.1L18.3,564.5M25.6,561.3L19.1,563.3M25.3,560.5L17,562.9M25.1,559.7L17.8,561.6M24.9,558.9L17.4,560.8M24.7,558.1L17,559.9M24.5,557.3L17.3,558.8M24.4,556.5L17.3,557.8M24.2,555.7L16.3,557M24.1,554.8L16.3,556M24,554L16.8,555M23.9,553.2L15.7,554.2M23.8,552.4L16.5,553.1M23.7,551.6L17.1,552.1M23.6,550.7L16.5,551.2M23.6,549.9L16.9,550.2M23.6,549.1L16.6,549.3M23.6,548.3L15.3,548.3M23.6,547.5L16.1,547.4M23.6,546.6L15,546.4M23.6,545.8L15.4,545.4M23.7,545L17,544.5M23.7,544.2L15,543.4M23.8,543.3L15.2,542.4M23.9,542.5L17.2,541.7M24,541.7L15.5,540.5M24.1,540.9L16.7,539.7M24.3,540.1L16.7,538.7M24.4,539.3L15.8,537.6M24.6,538.5L17.6,536.9M24.8,537.6L17.2,535.9M25,536.8L16.6,534.7M25.2,536L17.3,533.9M25.4,535.3L18.1,533.1M25.6,534.5L17.3,531.8M25.9,533.7L17.9,531M26.2,532.9L18.7,530.2M26.4,532.1L20,529.7M26.7,531.4L19.3,528.4M27.1,530.6L20,527.7M27.4,529.8L20.9,527M27.7,529.1L21.6,526.3M28.1,528.3L21.1,525M28.4,527.6L22.3,524.5M28.8,526.9L22.1,523.3M29.2,526.1L22.2,522.2" stroke="#636363" stroke-width="0.6" stroke-dasharray="1.3 0.35 0.7 0.3 1.0 0.4" fill="none"/>
<path d="M28.7,525L22,521.1M29.7,523.4L23.5,519.5M30.7,521.9L24.1,517.3M31.8,520.4L25.6,515.8M32.9,518.9L26.3,513.6M34.1,517.5L28.1,512.3M35.3,516.2L28.9,509.9M36.7,514.9L30.5,508.4M38,513.6L32.4,507.3M39.4,512.4L34.8,506.8M40.9,511.3L36.7,505.7M42.4,510.2L37.4,503M43.9,509.2L39.3,502M45.5,508.2L41.4,501.1M47.1,507.3L43.6,500.6M48.7,506.5L45.6,499.8M50.4,505.7L47.2,498.1M52.1,505L49.3,497.5M53.9,504.4L51.3,496.7M55.6,503.8L53.3,496M57.4,503.4L55.4,495.2M59.2,503L57.8,495.9M61,502.6L59.8,495.4M62.9,502.4L61.8,493.5M64.7,502.2L64,493.4M66.5,502L66.2,493.3M68.4,502L68.4,495.2M70.2,502L70.5,495.1M72.1,502.1L72.6,494.8M73.9,502.3L74.8,494.7M75.7,502.6L77,494.5M77.6,502.9L78.9,496M79.4,503.3L81.2,495.5M81.2,503.8L83,497.1M82.9,504.3L85.1,497.7M84.3,504.8L87,497.4M87.2,505.9L90.2,499M90,507.3L93.6,500.5M92.7,508.9L96.5,502.8M95.3,510.6L99.6,504.6M97.8,512.5L102.1,507.2M100.2,514.6L105,509.4M102.4,516.8L108.2,511.4M104.4,519.2L110.8,514.1M106.3,521.7L111.6,517.9M108,524.3L113.7,520.9M109.5,527L116.7,523.4M110.8,529.9L117.9,526.8" stroke="#444" stroke-width="0.6" stroke-dasharray="1.1 0.25" fill="none"/>
<g fill="#1f78b4" fill-opacity="0.6"><path d="M92.8,515.2L93.8,515.9Q68.5,548 77,587.9L76,588.1Q68.5,548 92.8,515.2Z"/><path d="M90.2,513.4L91.3,514.1Q68.5,548 76,588.1L75,588.3Q68.5,548 90.2,513.4Z"/><path d="M87.6,511.9L88.7,512.5Q68.5,548 75,588.3L74,588.4Q68.5,548 87.6,511.9Z"/><path d="M84.8,510.6L86,511.1Q68.5,548 74,588.4L73,588.6Q68.5,548 84.8,510.6Z"/></g>
<g fill="#1f78b4" fill-opacity="0.48"><path d="M81.4,509.3L81.8,509.4Q68.5,548 73,588.6L72.8,588.6Q68.5,548 81.4,509.3Z"/><path d="M79.7,508.7L80,508.8Q68.5,548 72.8,588.6L72.6,588.6Q68.5,548 79.7,508.7Z"/><path d="M77.9,508.3L78.4,508.4Q68.5,548 72.6,588.6L72.3,588.6Q68.5,548 77.9,508.3Z"/><path d="M76.1,507.9L76.6,508Q68.5,548 72.3,588.6L72,588.7Q68.5,548 76.1,507.9Z"/><path d="M74.2,507.6L74.7,507.7Q68.5,548 72,588.7L71.7,588.7Q68.5,548 74.2,507.6Z"/><path d="M72.4,507.4L72.9,507.4Q68.5,548 71.7,588.7L71.4,588.7Q68.5,548 72.4,507.4Z"/><path d="M70.5,507.2L71.1,507.3Q68.5,548 71.4,588.7L71,588.7Q68.5,548 70.5,507.2Z"/><path d="M68.7,507.2L69.1,507.2Q68.5,548 71,588.7L70.8,588.7Q68.5,548 68.7,507.2Z"/><path d="M66.8,507.2L67.4,507.2Q68.5,548 70.8,588.7L70.4,588.8Q68.5,548 66.8,507.2Z"/><path d="M65,507.4L65.5,507.3Q68.5,548 70.4,588.8L70.1,588.8Q68.5,548 65,507.4Z"/><path d="M63.2,507.6L63.5,507.5Q68.5,548 70.1,588.8L69.9,588.8Q68.5,548 63.2,507.6Z"/><path d="M61.3,507.8L61.8,507.8Q68.5,548 69.9,588.8L69.7,588.8Q68.5,548 61.3,507.8Z"/><path d="M59.5,508.2L59.8,508.1Q68.5,548 69.7,588.8L69.5,588.8Q68.5,548 59.5,508.2Z"/><path d="M57.7,508.7L58.1,508.6Q68.5,548 69.5,588.8L69.2,588.8Q68.5,548 57.7,508.7Z"/><path d="M55.9,509.2L56.6,509Q68.5,548 69.2,588.8L68.9,588.8Q68.5,548 55.9,509.2Z"/><path d="M53.9,509.9L55,509.5Q68.5,548 68.9,588.8L68.2,588.8Q68.5,548 53.9,509.9Z"/><path d="M52.2,510.6L53.2,510.2Q68.5,548 68.2,588.8L67.5,588.8Q68.5,548 52.2,510.6Z"/><path d="M50.5,511.4L51.5,511Q68.5,548 67.5,588.8L66.9,588.8Q68.5,548 50.5,511.4Z"/><path d="M48.9,512.2L49.8,511.8Q68.5,548 66.9,588.8L66.3,588.7Q68.5,548 48.9,512.2Z"/><path d="M47.3,513.2L48.3,512.6Q68.5,548 66.3,588.7L65.6,588.7Q68.5,548 47.3,513.2Z"/><path d="M45.7,514.2L46.5,513.7Q68.5,548 65.6,588.7L65.1,588.7Q68.5,548 45.7,514.2Z"/><path d="M44.2,515.2L45.2,514.5Q68.5,548 65.1,588.7L64.4,588.6Q68.5,548 44.2,515.2Z"/><path d="M42.8,516.4L43.5,515.8Q68.5,548 64.4,588.6L63.8,588.5Q68.5,548 42.8,516.4Z"/><path d="M41.4,517.6L41.9,517.1Q68.5,548 63.8,588.5L63.4,588.5Q68.5,548 41.4,517.6Z"/><path d="M40,518.8L40.9,518Q68.5,548 63.4,588.5L62.7,588.4Q68.5,548 40,518.8Z"/><path d="M38.7,520.2L39.4,519.4Q68.5,548 62.7,588.4L62.1,588.3Q68.5,548 38.7,520.2Z"/><path d="M37.5,521.6L38.1,520.8Q68.5,548 62.1,588.3L61.5,588.2Q68.5,548 37.5,521.6Z"/><path d="M36.3,523L36.9,522.3Q68.5,548 61.5,588.2L61,588.1Q68.5,548 36.3,523Z"/><path d="M35.2,524.5L35.9,523.6Q68.5,548 61,588.1L60.3,588Q68.5,548 35.2,524.5Z"/><path d="M34.2,526L34.8,525.1Q68.5,548 60.3,588L59.7,587.8Q68.5,548 34.2,526Z"/><path d="M33.2,527.6L33.7,526.8Q68.5,548 59.7,587.8L59.1,587.7Q68.5,548 33.2,527.6Z"/></g>
<g fill="#1f78b4" fill-opacity="0.27"><path d="M32.9,528.2L33.3,527.5Q68.5,548 59.1,587.7L58.9,587.7Q68.5,548 32.9,528.2Z"/><path d="M32.3,529.4L32.6,528.6Q68.5,548 58.9,587.7L58.7,587.6Q68.5,548 32.3,529.4Z"/><path d="M31.7,530.5L32,529.9Q68.5,548 58.7,587.6L58.6,587.6Q68.5,548 31.7,530.5Z"/><path d="M31.2,531.7L31.5,531Q68.5,548 58.6,587.6L58.4,587.5Q68.5,548 31.2,531.7Z"/><path d="M30.7,532.8L30.9,532.2Q68.5,548 58.4,587.5L58.2,587.5Q68.5,548 30.7,532.8Z"/><path d="M30.2,534L30.4,533.5Q68.5,548 58.2,587.5L58.1,587.4Q68.5,548 30.2,534Z"/><path d="M29.8,535.3L30.1,534.5Q68.5,548 58.1,587.4L57.9,587.4Q68.5,548 29.8,535.3Z"/><path d="M29.4,536.5L29.6,535.9Q68.5,548 57.9,587.4L57.8,587.4Q68.5,548 29.4,536.5Z"/><path d="M29.1,537.7L29.3,537Q68.5,548 57.8,587.4L57.6,587.3Q68.5,548 29.1,537.7Z"/><path d="M28.8,539L28.9,538.3Q68.5,548 57.6,587.3L57.5,587.3Q68.5,548 28.8,539Z"/><path d="M28.5,540.2L28.6,539.5Q68.5,548 57.5,587.3L57.3,587.2Q68.5,548 28.5,540.2Z"/><path d="M28.3,541.5L28.4,540.7Q68.5,548 57.3,587.2L57.1,587.2Q68.5,548 28.3,541.5Z"/><path d="M28.1,542.7L28.2,542.3Q68.5,548 57.1,587.2L57,587.1Q68.5,548 28.1,542.7Z"/><path d="M27.9,544L28,543.3Q68.5,548 57,587.1L56.8,587.1Q68.5,548 27.9,544Z"/><path d="M27.8,545.3L27.9,544.5Q68.5,548 56.8,587.1L56.7,587Q68.5,548 27.8,545.3Z"/><path d="M27.8,546.6L27.8,545.8Q68.5,548 56.7,587L56.5,587Q68.5,548 27.8,546.6Z"/><path d="M27.8,547.9L27.8,547Q68.5,548 56.5,587L56.3,586.9Q68.5,548 27.8,547.9Z"/><path d="M27.8,549.1L27.8,548.5Q68.5,548 56.3,586.9L56.2,586.9Q68.5,548 27.8,549.1Z"/><path d="M27.8,550.4L27.8,549.6Q68.5,548 56.2,586.9L56,586.8Q68.5,548 27.8,550.4Z"/><path d="M27.9,551.7L27.9,551Q68.5,548 56,586.8L55.8,586.8Q68.5,548 27.9,551.7Z"/><path d="M28.1,553L28,552.5Q68.5,548 55.8,586.8L55.7,586.7Q68.5,548 28.1,553Z"/><path d="M28.2,554.2L28.1,553.5Q68.5,548 55.7,586.7L55.5,586.7Q68.5,548 28.2,554.2Z"/><path d="M28.4,555.5L28.3,554.9Q68.5,548 55.5,586.7L55.4,586.6Q68.5,548 28.4,555.5Z"/><path d="M28.7,556.8L28.6,556.1Q68.5,548 55.4,586.6L55.2,586.6Q68.5,548 28.7,556.8Z"/><path d="M29,558L28.8,557.3Q68.5,548 55.2,586.6L55.1,586.5Q68.5,548 29,558Z"/><path d="M29.3,559.2L29.2,558.6Q68.5,548 55.1,586.5L54.9,586.5Q68.5,548 29.3,559.2Z"/><path d="M29.7,560.5L29.5,559.8Q68.5,548 54.9,586.5L54.8,586.4Q68.5,548 29.7,560.5Z"/><path d="M30.1,561.7L29.9,561.1Q68.5,548 54.8,586.4L54.6,586.3Q68.5,548 30.1,561.7Z"/><path d="M30.6,562.9L30.3,562.1Q68.5,548 54.6,586.3L54.4,586.3Q68.5,548 30.6,562.9Z"/><path d="M31,564.1L30.7,563.3Q68.5,548 54.4,586.3L54.3,586.2Q68.5,548 31,564.1Z"/><path d="M31.6,565.2L31.2,564.5Q68.5,548 54.3,586.2L54.1,586.1Q68.5,548 31.6,565.2Z"/></g>
<g fill="#1f78b4" fill-opacity="0.07"><path d="M32.1,566.3L31.8,565.8Q68.5,548 54.1,586.1L54,586.1Q68.5,548 32.1,566.3Z"/><path d="M32.6,567.3L32.3,566.6Q68.5,548 54,586.1L54,586.1Q68.5,548 32.6,567.3Z"/><path d="M33.1,568.3L32.8,567.7Q68.5,548 54,586.1L53.9,586.1Q68.5,548 33.1,568.3Z"/><path d="M33.7,569.3L33.4,568.8Q68.5,548 53.9,586.1L53.9,586.1Q68.5,548 33.7,569.3Z"/><path d="M34.3,570.2L33.9,569.6Q68.5,548 53.9,586.1L53.8,586Q68.5,548 34.3,570.2Z"/><path d="M35,571.2L34.6,570.6Q68.5,548 53.8,586L53.7,586Q68.5,548 35,571.2Z"/><path d="M35.6,572.1L35.3,571.6Q68.5,548 53.7,586L53.7,586Q68.5,548 35.6,572.1Z"/><path d="M36.3,573L36,572.6Q68.5,548 53.7,586L53.6,586Q68.5,548 36.3,573Z"/><path d="M37,573.9L36.6,573.4Q68.5,548 53.6,586L53.6,586Q68.5,548 37,573.9Z"/><path d="M37.8,574.8L37.2,574.1Q68.5,548 53.6,586L53.5,585.9Q68.5,548 37.8,574.8Z"/><path d="M38.5,575.6L38.1,575.2Q68.5,548 53.5,585.9L53.4,585.9Q68.5,548 38.5,575.6Z"/><path d="M39.3,576.4L38.9,576Q68.5,548 53.4,585.9L53.4,585.9Q68.5,548 39.3,576.4Z"/><path d="M40.1,577.2L39.6,576.8Q68.5,548 53.4,585.9L53.3,585.9Q68.5,548 40.1,577.2Z"/><path d="M40.9,578L40.5,577.7Q68.5,548 53.3,585.9L53.3,585.8Q68.5,548 40.9,578Z"/><path d="M41.8,578.8L41.3,578.3Q68.5,548 53.3,585.8L53.2,585.8Q68.5,548 41.8,578.8Z"/><path d="M42.7,579.5L42.2,579.2Q68.5,548 53.2,585.8L53.2,585.8Q68.5,548 42.7,579.5Z"/><path d="M43.5,580.2L43.1,579.9Q68.5,548 53.2,585.8L53.1,585.8Q68.5,548 43.5,580.2Z"/><path d="M44.5,580.9L43.8,580.5Q68.5,548 53.1,585.8L53,585.7Q68.5,548 44.5,580.9Z"/><path d="M45.4,581.6L44.9,581.2Q68.5,548 53,585.7L53,585.7Q68.5,548 45.4,581.6Z"/><path d="M46.3,582.2L45.8,581.9Q68.5,548 53,585.7L52.9,585.7Q68.5,548 46.3,582.2Z"/><path d="M47.3,582.8L46.8,582.5Q68.5,548 52.9,585.7L52.9,585.7Q68.5,548 47.3,582.8Z"/><path d="M48.3,583.4L47.6,583Q68.5,548 52.9,585.7L52.8,585.6Q68.5,548 48.3,583.4Z"/><path d="M49.3,584L48.7,583.6Q68.5,548 52.8,585.6L52.7,585.6Q68.5,548 49.3,584Z"/><path d="M50.3,584.5L49.7,584.2Q68.5,548 52.7,585.6L52.7,585.6Q68.5,548 50.3,584.5Z"/><path d="M51.3,585L50.7,584.7Q68.5,548 52.7,585.6L52.6,585.6Q68.5,548 51.3,585Z"/></g>
<g fill="#a6cee3" fill-opacity="0.5"><path d="M101.1,523.4A40.8,40.8 0 0 1 106.1,532.1Q68.5,548 96.9,577.3A40.8,40.8 0 0 1 92.2,581.3Q68.5,548 101.1,523.4Z"/><path d="M93.8,515.9L94.1,516.2Q68.5,548 92.2,581.3L91.8,581.6Q68.5,548 93.8,515.9Z"/><path d="M91.3,514.1L91.7,514.4Q68.5,548 91.8,581.6L91.3,581.9Q68.5,548 91.3,514.1Z"/><path d="M88.7,512.5L89.1,512.7Q68.5,548 91.3,581.9L90.9,582.1Q68.5,548 88.7,512.5Z"/><path d="M86,511.1L86.4,511.3Q68.5,548 90.9,582.1L90.4,582.4Q68.5,548 86,511.1Z"/></g>
<g fill="#a6cee3" fill-opacity="0.4"><path d="M81.8,509.4L82.1,509.5Q68.5,548 90.4,582.4L90.2,582.6Q68.5,548 81.8,509.4Z"/><path d="M80,508.8L80.3,508.9Q68.5,548 90.2,582.6L90,582.7Q68.5,548 80,508.8Z"/><path d="M78.4,508.4L78.6,508.5Q68.5,548 90,582.7L89.8,582.8Q68.5,548 78.4,508.4Z"/><path d="M76.6,508L76.8,508Q68.5,548 89.8,582.8L89.6,583Q68.5,548 76.6,508Z"/><path d="M74.7,507.7L74.9,507.7Q68.5,548 89.6,583L89.5,583Q68.5,548 74.7,507.7Z"/><path d="M72.9,507.4L73,507.4Q68.5,548 89.5,583L89.4,583.1Q68.5,548 72.9,507.4Z"/><path d="M71.1,507.3L71.3,507.3Q68.5,548 89.4,583.1L89.2,583.2Q68.5,548 71.1,507.3Z"/><path d="M69.1,507.2L69.4,507.2Q68.5,548 89.2,583.2L89,583.3Q68.5,548 69.1,507.2Z"/><path d="M67.4,507.2L67.6,507.2Q68.5,548 89,583.3L88.9,583.4Q68.5,548 67.4,507.2Z"/><path d="M65.5,507.3L65.7,507.3Q68.5,548 88.9,583.4L88.7,583.5Q68.5,548 65.5,507.3Z"/><path d="M63.5,507.5L63.7,507.5Q68.5,548 88.7,583.5L88.6,583.5Q68.5,548 63.5,507.5Z"/><path d="M61.8,507.8L61.9,507.7Q68.5,548 88.6,583.5L88.5,583.6Q68.5,548 61.8,507.8Z"/><path d="M59.8,508.1L60.1,508.1Q68.5,548 88.5,583.6L88.3,583.7Q68.5,548 59.8,508.1Z"/><path d="M58.1,508.6L58.4,508.5Q68.5,548 88.3,583.7L88,583.9Q68.5,548 58.1,508.6Z"/><path d="M56.6,509L56.7,509Q68.5,548 88,583.9L87.9,583.9Q68.5,548 56.6,509Z"/><path d="M55,509.5L55.3,509.4Q68.5,548 87.9,583.9L87.6,584.1Q68.5,548 55,509.5Z"/><path d="M53.2,510.2L53.5,510.1Q68.5,548 87.6,584.1L87.4,584.2Q68.5,548 53.2,510.2Z"/><path d="M51.5,511L51.8,510.8Q68.5,548 87.4,584.2L87,584.4Q68.5,548 51.5,511Z"/><path d="M49.8,511.8L50.2,511.6Q68.5,548 87,584.4L86.7,584.5Q68.5,548 49.8,511.8Z"/><path d="M48.3,512.6L48.5,512.4Q68.5,548 86.7,584.5L86.5,584.7Q68.5,548 48.3,512.6Z"/><path d="M46.5,513.7L46.9,513.4Q68.5,548 86.5,584.7L86.1,584.8Q68.5,548 46.5,513.7Z"/><path d="M45.2,514.5L45.5,514.4Q68.5,548 86.1,584.8L85.8,585Q68.5,548 45.2,514.5Z"/><path d="M43.5,515.8L43.9,515.5Q68.5,548 85.8,585L85.4,585.2Q68.5,548 43.5,515.8Z"/><path d="M41.9,517.1L42.3,516.8Q68.5,548 85.4,585.2L85,585.4Q68.5,548 41.9,517.1Z"/><path d="M40.9,518L41.1,517.8Q68.5,548 85,585.4L84.7,585.5Q68.5,548 40.9,518Z"/><path d="M39.4,519.4L39.7,519.1Q68.5,548 84.7,585.5L84.3,585.6Q68.5,548 39.4,519.4Z"/><path d="M38.1,520.8L38.4,520.5Q68.5,548 84.3,585.6L84,585.8Q68.5,548 38.1,520.8Z"/><path d="M36.9,522.3L37.2,521.9Q68.5,548 84,585.8L83.6,585.9Q68.5,548 36.9,522.3Z"/><path d="M35.9,523.6L36.1,523.3Q68.5,548 83.6,585.9L83.3,586.1Q68.5,548 35.9,523.6Z"/><path d="M34.8,525.1L35,524.8Q68.5,548 83.3,586.1L82.9,586.2Q68.5,548 34.8,525.1Z"/><path d="M33.7,526.8L34,526.4Q68.5,548 82.9,586.2L82.5,586.3Q68.5,548 33.7,526.8Z"/></g>
<g fill="#a6cee3" fill-opacity="0.23"><path d="M33.3,527.5L33.4,527.3Q68.5,548 82.5,586.3L82.5,586.4Q68.5,548 33.3,527.5Z"/><path d="M32.6,528.6L32.8,528.4Q68.5,548 82.5,586.4L82.4,586.4Q68.5,548 32.6,528.6Z"/><path d="M32,529.9L32.2,529.6Q68.5,548 82.4,586.4L82.3,586.4Q68.5,548 32,529.9Z"/><path d="M31.5,531L31.6,530.7Q68.5,548 82.3,586.4L82.1,586.5Q68.5,548 31.5,531Z"/><path d="M30.9,532.2L31.1,531.8Q68.5,548 82.1,586.5L82,586.5Q68.5,548 30.9,532.2Z"/><path d="M30.4,533.5L30.6,533.1Q68.5,548 82,586.5L81.9,586.6Q68.5,548 30.4,533.5Z"/><path d="M30.1,534.5L30.1,534.3Q68.5,548 81.9,586.6L81.8,586.6Q68.5,548 30.1,534.5Z"/><path d="M29.6,535.9L29.7,535.5Q68.5,548 81.8,586.6L81.7,586.6Q68.5,548 29.6,535.9Z"/><path d="M29.3,537L29.4,536.7Q68.5,548 81.7,586.6L81.5,586.7Q68.5,548 29.3,537Z"/><path d="M28.9,538.3L29,537.9Q68.5,548 81.5,586.7L81.4,586.7Q68.5,548 28.9,538.3Z"/><path d="M28.6,539.5L28.7,539.2Q68.5,548 81.4,586.7L81.3,586.8Q68.5,548 28.6,539.5Z"/><path d="M28.4,540.7L28.5,540.4Q68.5,548 81.3,586.8L81.2,586.8Q68.5,548 28.4,540.7Z"/><path d="M28.2,542.3L28.2,541.8Q68.5,548 81.2,586.8L81,586.9Q68.5,548 28.2,542.3Z"/><path d="M28,543.3L28.1,542.9Q68.5,548 81,586.9L80.9,586.9Q68.5,548 28,543.3Z"/><path d="M27.9,544.5L27.9,544.2Q68.5,548 80.9,586.9L80.8,586.9Q68.5,548 27.9,544.5Z"/><path d="M27.8,545.8L27.8,545.4Q68.5,548 80.8,586.9L80.6,587Q68.5,548 27.8,545.8Z"/><path d="M27.8,547L27.8,546.8Q68.5,548 80.6,587L80.6,587Q68.5,548 27.8,547Z"/><path d="M27.8,548.5L27.8,548.1Q68.5,548 80.6,587L80.4,587Q68.5,548 27.8,548.5Z"/><path d="M27.8,549.6L27.8,549.3Q68.5,548 80.4,587L80.3,587.1Q68.5,548 27.8,549.6Z"/><path d="M27.9,551L27.8,550.6Q68.5,548 80.3,587.1L80.2,587.1Q68.5,548 27.9,551Z"/><path d="M28,552.5L27.9,552Q68.5,548 80.2,587.1L80,587.2Q68.5,548 28,552.5Z"/><path d="M28.1,553.5L28.1,553.1Q68.5,548 80,587.2L79.9,587.2Q68.5,548 28.1,553.5Z"/><path d="M28.3,554.9L28.3,554.5Q68.5,548 79.9,587.2L79.7,587.2Q68.5,548 28.3,554.9Z"/><path d="M28.6,556.1L28.5,555.7Q68.5,548 79.7,587.2L79.6,587.3Q68.5,548 28.6,556.1Z"/><path d="M28.8,557.3L28.8,557Q68.5,548 79.6,587.3L79.5,587.3Q68.5,548 28.8,557.3Z"/><path d="M29.2,558.6L29.1,558.2Q68.5,548 79.5,587.3L79.4,587.3Q68.5,548 29.2,558.6Z"/><path d="M29.5,559.8L29.4,559.5Q68.5,548 79.4,587.3L79.2,587.4Q68.5,548 29.5,559.8Z"/><path d="M29.9,561.1L29.8,560.7Q68.5,548 79.2,587.4L79.1,587.4Q68.5,548 29.9,561.1Z"/><path d="M30.3,562.1L30.2,561.8Q68.5,548 79.1,587.4L79,587.4Q68.5,548 30.3,562.1Z"/><path d="M30.7,563.3L30.6,563.1Q68.5,548 79,587.4L78.9,587.5Q68.5,548 30.7,563.3Z"/><path d="M31.2,564.5L31.2,564.3Q68.5,548 78.9,587.5L78.8,587.5Q68.5,548 31.2,564.5Z"/></g>
<g fill="#a6cee3" fill-opacity="0.06"><path d="M31.8,565.8L31.7,565.4Q68.5,548 78.8,587.5L78.8,587.5Q68.5,548 31.8,565.8Z"/><path d="M32.3,566.6L32.2,566.4Q68.5,548 78.8,587.5L78.7,587.5Q68.5,548 32.3,566.6Z"/><path d="M32.8,567.7L32.7,567.4Q68.5,548 78.7,587.5L78.7,587.5Q68.5,548 32.8,567.7Z"/><path d="M33.4,568.8L33.3,568.5Q68.5,548 78.7,587.5L78.6,587.5Q68.5,548 33.4,568.8Z"/><path d="M33.9,569.6L33.8,569.4Q68.5,548 78.6,587.5L78.6,587.5Q68.5,548 33.9,569.6Z"/><path d="M34.6,570.6L34.5,570.5Q68.5,548 78.6,587.5L78.5,587.6Q68.5,548 34.6,570.6Z"/><path d="M35.3,571.6L35.1,571.3Q68.5,548 78.5,587.6L78.5,587.6Q68.5,548 35.3,571.6Z"/><path d="M36,572.6L35.8,572.3Q68.5,548 78.5,587.6L78.4,587.6Q68.5,548 36,572.6Z"/><path d="M36.6,573.4L36.5,573.2Q68.5,548 78.4,587.6L78.4,587.6Q68.5,548 36.6,573.4Z"/><path d="M37.2,574.1L37.1,574Q68.5,548 78.4,587.6L78.4,587.6Q68.5,548 37.2,574.1Z"/><path d="M38.1,575.2L37.9,574.9Q68.5,548 78.4,587.6L78.3,587.6Q68.5,548 38.1,575.2Z"/><path d="M38.9,576L38.7,575.8Q68.5,548 78.3,587.6L78.3,587.6Q68.5,548 38.9,576Z"/><path d="M39.6,576.8L39.4,576.6Q68.5,548 78.3,587.6L78.2,587.6Q68.5,548 39.6,576.8Z"/><path d="M40.5,577.7L40.2,577.4Q68.5,548 78.2,587.6L78.2,587.6Q68.5,548 40.5,577.7Z"/><path d="M41.3,578.3L41.1,578.2Q68.5,548 78.2,587.6L78.1,587.7Q68.5,548 41.3,578.3Z"/><path d="M42.2,579.2L41.9,578.9Q68.5,548 78.1,587.7L78.1,587.7Q68.5,548 42.2,579.2Z"/><path d="M43.1,579.9L42.8,579.7Q68.5,548 78.1,587.7L78,587.7Q68.5,548 43.1,579.9Z"/><path d="M43.8,580.5L43.7,580.4Q68.5,548 78,587.7L78,587.7Q68.5,548 43.8,580.5Z"/><path d="M44.9,581.2L44.6,581Q68.5,548 78,587.7L78,587.7Q68.5,548 44.9,581.2Z"/><path d="M45.8,581.9L45.5,581.7Q68.5,548 78,587.7L77.9,587.7Q68.5,548 45.8,581.9Z"/><path d="M46.8,582.5L46.5,582.4Q68.5,548 77.9,587.7L77.9,587.7Q68.5,548 46.8,582.5Z"/><path d="M47.6,583L47.4,582.9Q68.5,548 77.9,587.7L77.8,587.7Q68.5,548 47.6,583Z"/><path d="M48.7,583.6L48.5,583.5Q68.5,548 77.8,587.7L77.8,587.7Q68.5,548 48.7,583.6Z"/><path d="M49.7,584.2L49.5,584.1Q68.5,548 77.8,587.7L77.8,587.7Q68.5,548 49.7,584.2Z"/><path d="M50.7,584.7L50.5,584.6Q68.5,548 77.8,587.7L77.7,587.8Q68.5,548 50.7,584.7Z"/></g>
<g fill="#33a02c" fill-opacity="0.55"><path d="M94.1,516.2L94.4,516.5Q68.5,548 107.8,559.2L107.5,560Q68.5,548 94.1,516.2Z"/><path d="M91.7,514.4L92,514.6Q68.5,548 107.5,560L107.3,560.8Q68.5,548 91.7,514.4Z"/><path d="M89.1,512.7L89.4,513Q68.5,548 107.3,560.8L107,561.6Q68.5,548 89.1,512.7Z"/><path d="M86.4,511.3L86.8,511.5Q68.5,548 107,561.6L106.7,562.4Q68.5,548 86.4,511.3Z"/></g>
<g fill="#33a02c" fill-opacity="0.44"><path d="M82.1,509.5L82.7,509.7Q68.5,548 106.7,562.4L106.4,563.2Q68.5,548 82.1,509.5Z"/><path d="M80.3,508.9L81,509.1Q68.5,548 106.4,563.2L106,564.2Q68.5,548 80.3,508.9Z"/><path d="M78.6,508.5L79.1,508.6Q68.5,548 106,564.2L105.7,564.9Q68.5,548 78.6,508.5Z"/><path d="M76.8,508L77.4,508.2Q68.5,548 105.7,564.9L105.3,565.7Q68.5,548 76.8,508Z"/><path d="M74.9,507.7L75.5,507.8Q68.5,548 105.3,565.7L104.9,566.5Q68.5,548 74.9,507.7Z"/><path d="M73,507.4L73.7,507.5Q68.5,548 104.9,566.5L104.5,567.4Q68.5,548 73,507.4Z"/><path d="M71.3,507.3L71.7,507.3Q68.5,548 104.5,567.4L104.1,568Q68.5,548 71.3,507.3Z"/><path d="M69.4,507.2L69.9,507.2Q68.5,548 104.1,568L103.8,568.6Q68.5,548 69.4,507.2Z"/><path d="M67.6,507.2L68.3,507.2Q68.5,548 103.8,568.6L103.2,569.5Q68.5,548 67.6,507.2Z"/><path d="M65.7,507.3L66.3,507.3Q68.5,548 103.2,569.5L102.8,570.2Q68.5,548 65.7,507.3Z"/><path d="M63.7,507.5L64.4,507.4Q68.5,548 102.8,570.2L102.2,571.1Q68.5,548 63.7,507.5Z"/><path d="M61.9,507.7L62.6,507.6Q68.5,548 102.2,571.1L101.7,571.9Q68.5,548 61.9,507.7Z"/><path d="M60.1,508.1L60.6,508Q68.5,548 101.7,571.9L101.2,572.5Q68.5,548 60.1,508.1Z"/><path d="M58.4,508.5L58.9,508.4Q68.5,548 101.2,572.5L100.8,573.1Q68.5,548 58.4,508.5Z"/><path d="M56.7,509L57.1,508.8Q68.5,548 100.8,573.1L100.4,573.5Q68.5,548 56.7,509Z"/><path d="M55.3,509.4L55.4,509.4Q68.5,548 100.4,573.5L100.3,573.6Q68.5,548 55.3,509.4Z"/><path d="M53.5,510.1L53.6,510Q68.5,548 100.3,573.6L100.2,573.8Q68.5,548 53.5,510.1Z"/><path d="M51.8,510.8L52,510.7Q68.5,548 100.2,573.8L100,574Q68.5,548 51.8,510.8Z"/><path d="M50.2,511.6L50.3,511.5Q68.5,548 100,574L99.9,574.1Q68.5,548 50.2,511.6Z"/><path d="M48.5,512.4L48.7,512.4Q68.5,548 99.9,574.1L99.7,574.3Q68.5,548 48.5,512.4Z"/><path d="M46.9,513.4L47,513.4Q68.5,548 99.7,574.3L99.6,574.4Q68.5,548 46.9,513.4Z"/><path d="M45.5,514.4L45.6,514.3Q68.5,548 99.6,574.4L99.5,574.6Q68.5,548 45.5,514.4Z"/><path d="M43.9,515.5L44,515.4Q68.5,548 99.5,574.6L99.4,574.8Q68.5,548 43.9,515.5Z"/><path d="M42.3,516.8L42.4,516.7Q68.5,548 99.4,574.8L99.2,574.9Q68.5,548 42.3,516.8Z"/><path d="M41.1,517.8L41.2,517.7Q68.5,548 99.2,574.9L99.1,575.1Q68.5,548 41.1,517.8Z"/><path d="M39.7,519.1L39.8,519Q68.5,548 99.1,575.1L98.9,575.2Q68.5,548 39.7,519.1Z"/><path d="M38.4,520.5L38.5,520.4Q68.5,548 98.9,575.2L98.7,575.4Q68.5,548 38.4,520.5Z"/><path d="M37.2,521.9L37.3,521.8Q68.5,548 98.7,575.4L98.6,575.6Q68.5,548 37.2,521.9Z"/><path d="M36.1,523.3L36.2,523.2Q68.5,548 98.6,575.6L98.5,575.7Q68.5,548 36.1,523.3Z"/><path d="M35,524.8L35.1,524.6Q68.5,548 98.5,575.7L98.3,575.9Q68.5,548 35,524.8Z"/><path d="M34,526.4L34.1,526.2Q68.5,548 98.3,575.9L98.2,576.1Q68.5,548 34,526.4Z"/></g>
<g fill="#33a02c" fill-opacity="0.25"><path d="M33.4,527.3L33.4,527.2Q68.5,548 98.2,576.1L98.1,576.1Q68.5,548 33.4,527.3Z"/><path d="M32.8,528.4L32.8,528.4Q68.5,548 98.1,576.1L98.1,576.1Q68.5,548 32.8,528.4Z"/><path d="M32.2,529.6L32.2,529.5Q68.5,548 98.1,576.1L98.1,576.1Q68.5,548 32.2,529.6Z"/><path d="M31.6,530.7L31.6,530.7Q68.5,548 98.1,576.1L98.1,576.1Q68.5,548 31.6,530.7Z"/><path d="M31.1,531.8L31.1,531.8Q68.5,548 98.1,576.1L98.1,576.2Q68.5,548 31.1,531.8Z"/><path d="M30.6,533.1L30.6,533.1Q68.5,548 98.1,576.2L98.1,576.2Q68.5,548 30.6,533.1Z"/><path d="M30.1,534.3L30.1,534.3Q68.5,548 98.1,576.2L98,576.2Q68.5,548 30.1,534.3Z"/><path d="M29.7,535.5L29.7,535.5Q68.5,548 98,576.2L98,576.2Q68.5,548 29.7,535.5Z"/><path d="M29.4,536.7L29.4,536.6Q68.5,548 98,576.2L98,576.2Q68.5,548 29.4,536.7Z"/><path d="M29,537.9L29,537.9Q68.5,548 98,576.2L98,576.3Q68.5,548 29,537.9Z"/><path d="M28.7,539.2L28.7,539.1Q68.5,548 98,576.3L98,576.3Q68.5,548 28.7,539.2Z"/><path d="M28.5,540.4L28.5,540.4Q68.5,548 98,576.3L98,576.3Q68.5,548 28.5,540.4Z"/><path d="M28.2,541.8L28.2,541.7Q68.5,548 98,576.3L97.9,576.3Q68.5,548 28.2,541.8Z"/><path d="M28.1,542.9L28.1,542.9Q68.5,548 97.9,576.3L97.9,576.3Q68.5,548 28.1,542.9Z"/><path d="M27.9,544.2L27.9,544.2Q68.5,548 97.9,576.3L97.9,576.3Q68.5,548 27.9,544.2Z"/><path d="M27.8,545.4L27.8,545.4Q68.5,548 97.9,576.3L97.9,576.4Q68.5,548 27.8,545.4Z"/><path d="M27.8,546.8L27.8,546.8Q68.5,548 97.9,576.4L97.9,576.4Q68.5,548 27.8,546.8Z"/><path d="M27.8,548.1L27.8,548.1Q68.5,548 97.9,576.4L97.9,576.4Q68.5,548 27.8,548.1Z"/><path d="M27.8,549.3L27.8,549.3Q68.5,548 97.9,576.4L97.8,576.4Q68.5,548 27.8,549.3Z"/><path d="M27.8,550.6L27.8,550.5Q68.5,548 97.8,576.4L97.8,576.4Q68.5,548 27.8,550.6Z"/><path d="M27.9,552L27.9,551.9Q68.5,548 97.8,576.4L97.8,576.5Q68.5,548 27.9,552Z"/><path d="M28.1,553.1L28.1,553.1Q68.5,548 97.8,576.5L97.8,576.5Q68.5,548 28.1,553.1Z"/><path d="M28.3,554.5L28.3,554.4Q68.5,548 97.8,576.5L97.8,576.5Q68.5,548 28.3,554.5Z"/><path d="M28.5,555.7L28.5,555.7Q68.5,548 97.8,576.5L97.7,576.5Q68.5,548 28.5,555.7Z"/><path d="M28.8,557L28.7,556.9Q68.5,548 97.7,576.5L97.7,576.5Q68.5,548 28.8,557Z"/><path d="M29.1,558.2L29,558.2Q68.5,548 97.7,576.5L97.7,576.6Q68.5,548 29.1,558.2Z"/><path d="M29.4,559.5L29.4,559.4Q68.5,548 97.7,576.6L97.7,576.6Q68.5,548 29.4,559.5Z"/><path d="M29.8,560.7L29.8,560.6Q68.5,548 97.7,576.6L97.6,576.6Q68.5,548 29.8,560.7Z"/><path d="M30.2,561.8L30.1,561.8Q68.5,548 97.6,576.6L97.6,576.6Q68.5,548 30.2,561.8Z"/><path d="M30.6,563.1L30.6,563Q68.5,548 97.6,576.6L97.6,576.7Q68.5,548 30.6,563.1Z"/><path d="M31.2,564.3L31.1,564.3Q68.5,548 97.6,576.7L97.6,576.7Q68.5,548 31.2,564.3Z"/></g>
<g fill="#33a02c" fill-opacity="0.07"><path d="M31.7,565.4L31.6,565.4Q68.5,548 97.6,576.7L97.6,576.7Q68.5,548 31.7,565.4Z"/><path d="M32.2,566.4L32.1,566.4Q68.5,548 97.6,576.7L97.6,576.7Q68.5,548 32.2,566.4Z"/><path d="M32.7,567.4L32.7,567.4Q68.5,548 97.6,576.7L97.5,576.7Q68.5,548 32.7,567.4Z"/><path d="M33.3,568.5L33.3,568.5Q68.5,548 97.5,576.7L97.5,576.7Q68.5,548 33.3,568.5Z"/><path d="M33.8,569.4L33.8,569.4Q68.5,548 97.5,576.7L97.5,576.7Q68.5,548 33.8,569.4Z"/><path d="M34.5,570.5L34.5,570.4Q68.5,548 97.5,576.7L97.5,576.7Q68.5,548 34.5,570.5Z"/><path d="M35.1,571.3L35.1,571.3Q68.5,548 97.5,576.7L97.5,576.7Q68.5,548 35.1,571.3Z"/><path d="M35.8,572.3L35.7,572.2Q68.5,548 97.5,576.7L97.5,576.7Q68.5,548 35.8,572.3Z"/><path d="M36.5,573.2L36.4,573.2Q68.5,548 97.5,576.7L97.5,576.7Q68.5,548 36.5,573.2Z"/><path d="M37.1,574L37.1,574Q68.5,548 97.5,576.7L97.5,576.8Q68.5,548 37.1,574Z"/><path d="M37.9,574.9L37.8,574.9Q68.5,548 97.5,576.8L97.5,576.8Q68.5,548 37.9,574.9Z"/><path d="M38.7,575.8L38.6,575.7Q68.5,548 97.5,576.8L97.5,576.8Q68.5,548 38.7,575.8Z"/><path d="M39.4,576.6L39.4,576.6Q68.5,548 97.5,576.8L97.5,576.8Q68.5,548 39.4,576.6Z"/><path d="M40.2,577.4L40.2,577.3Q68.5,548 97.5,576.8L97.5,576.8Q68.5,548 40.2,577.4Z"/><path d="M41.1,578.2L41.1,578.2Q68.5,548 97.5,576.8L97.5,576.8Q68.5,548 41.1,578.2Z"/><path d="M41.9,578.9L41.9,578.9Q68.5,548 97.5,576.8L97.5,576.8Q68.5,548 41.9,578.9Z"/><path d="M42.8,579.7L42.8,579.6Q68.5,548 97.5,576.8L97.4,576.8Q68.5,548 42.8,579.7Z"/><path d="M43.7,580.4L43.7,580.3Q68.5,548 97.4,576.8L97.4,576.8Q68.5,548 43.7,580.4Z"/><path d="M44.6,581L44.6,581Q68.5,548 97.4,576.8L97.4,576.8Q68.5,548 44.6,581Z"/><path d="M45.5,581.7L45.5,581.7Q68.5,548 97.4,576.8L97.4,576.8Q68.5,548 45.5,581.7Z"/><path d="M46.5,582.4L46.5,582.3Q68.5,548 97.4,576.8L97.4,576.8Q68.5,548 46.5,582.4Z"/><path d="M47.4,582.9L47.4,582.9Q68.5,548 97.4,576.8L97.4,576.8Q68.5,548 47.4,582.9Z"/><path d="M48.5,583.5L48.4,583.5Q68.5,548 97.4,576.8L97.4,576.8Q68.5,548 48.5,583.5Z"/><path d="M49.5,584.1L49.4,584Q68.5,548 97.4,576.8L97.4,576.8Q68.5,548 49.5,584.1Z"/><path d="M50.5,584.6L50.4,584.6Q68.5,548 97.4,576.8L97.4,576.8Q68.5,548 50.5,584.6Z"/></g>
<g fill="#b2df8a" fill-opacity="0.48"><path d="M82.7,509.7L83,509.8Q68.5,548 109.2,544.4L109.2,545Q68.5,548 82.7,509.7Z"/><path d="M81,509.1L81.2,509.2Q68.5,548 109.2,545L109.3,545.4Q68.5,548 81,509.1Z"/><path d="M79.1,508.6L79.5,508.7Q68.5,548 109.3,545.4L109.3,546.1Q68.5,548 79.1,508.6Z"/><path d="M77.4,508.2L77.7,508.2Q68.5,548 109.3,546.1L109.3,546.7Q68.5,548 77.4,508.2Z"/><path d="M75.5,507.8L75.8,507.8Q68.5,548 109.3,546.7L109.3,547.3Q68.5,548 75.5,507.8Z"/><path d="M73.7,507.5L74,507.6Q68.5,548 109.3,547.3L109.3,547.8Q68.5,548 73.7,507.5Z"/><path d="M71.7,507.3L72.1,507.4Q68.5,548 109.3,547.8L109.3,548.5Q68.5,548 71.7,507.3Z"/><path d="M69.9,507.2L70.3,507.2Q68.5,548 109.3,548.5L109.3,549.2Q68.5,548 69.9,507.2Z"/><path d="M68.3,507.2L68.5,507.2Q68.5,548 109.3,549.2L109.3,549.6Q68.5,548 68.3,507.2Z"/><path d="M66.3,507.3L66.7,507.2Q68.5,548 109.3,549.6L109.3,550.3Q68.5,548 66.3,507.3Z"/><path d="M64.4,507.4L64.9,507.4Q68.5,548 109.3,550.3L109.2,551.1Q68.5,548 64.4,507.4Z"/><path d="M62.6,507.6L62.9,507.6Q68.5,548 109.2,551.1L109.2,551.8Q68.5,548 62.6,507.6Z"/><path d="M60.6,508L61.1,507.9Q68.5,548 109.2,551.8L109.1,552.7Q68.5,548 60.6,508Z"/><path d="M58.9,508.4L59.3,508.3Q68.5,548 109.1,552.7L109,553.4Q68.5,548 58.9,508.4Z"/><path d="M57.1,508.8L57.5,508.7Q68.5,548 109,553.4L108.9,554.1Q68.5,548 57.1,508.8Z"/><path d="M55.4,509.4L55.5,509.3Q68.5,548 108.9,554.1L108.8,554.4Q68.5,548 55.4,509.4Z"/><path d="M53.6,510L53.7,510Q68.5,548 108.8,554.4L108.8,554.5Q68.5,548 53.6,510Z"/><path d="M52,510.7L52.1,510.7Q68.5,548 108.8,554.5L108.8,554.7Q68.5,548 52,510.7Z"/><path d="M50.3,511.5L50.4,511.5Q68.5,548 108.8,554.7L108.8,554.8Q68.5,548 50.3,511.5Z"/><path d="M48.7,512.4L48.8,512.3Q68.5,548 108.8,554.8L108.8,554.9Q68.5,548 48.7,512.4Z"/><path d="M47,513.4L47.1,513.3Q68.5,548 108.8,554.9L108.7,555.2Q68.5,548 47,513.4Z"/><path d="M45.6,514.3L45.6,514.2Q68.5,548 108.7,555.2L108.7,555.3Q68.5,548 45.6,514.3Z"/><path d="M44,515.4L44.1,515.3Q68.5,548 108.7,555.3L108.6,555.7Q68.5,548 44,515.4Z"/><path d="M42.4,516.7L42.6,516.5Q68.5,548 108.6,555.7L108.5,556.1Q68.5,548 42.4,516.7Z"/><path d="M41.2,517.7L41.3,517.7Q68.5,548 108.5,556.1L108.5,556.2Q68.5,548 41.2,517.7Z"/><path d="M39.8,519L39.9,519Q68.5,548 108.5,556.2L108.5,556.3Q68.5,548 39.8,519Z"/><path d="M38.5,520.4L38.6,520.3Q68.5,548 108.5,556.3L108.5,556.5Q68.5,548 38.5,520.4Z"/><path d="M37.3,521.8L37.4,521.7Q68.5,548 108.5,556.5L108.4,556.7Q68.5,548 37.3,521.8Z"/><path d="M36.2,523.2L36.2,523.1Q68.5,548 108.4,556.7L108.4,556.9Q68.5,548 36.2,523.2Z"/><path d="M35.1,524.6L35.2,524.6Q68.5,548 108.4,556.9L108.3,557.1Q68.5,548 35.1,524.6Z"/><path d="M34.1,526.2L34.1,526.1Q68.5,548 108.3,557.1L108.3,557.3Q68.5,548 34.1,526.2Z"/></g>
<g fill="#b2df8a" fill-opacity="0.27"><path d="M33.4,527.2L33.4,527.2Q68.5,548 108.3,557.3L108.3,557.3Q68.5,548 33.4,527.2Z"/><path d="M32.8,528.4L32.8,528.4Q68.5,548 108.3,557.3L108.3,557.3Q68.5,548 32.8,528.4Z"/><path d="M32.2,529.5L32.2,529.5Q68.5,548 108.3,557.3L108.3,557.4Q68.5,548 32.2,529.5Z"/><path d="M31.6,530.7L31.6,530.6Q68.5,548 108.3,557.4L108.3,557.4Q68.5,548 31.6,530.7Z"/><path d="M31.1,531.8L31.1,531.8Q68.5,548 108.3,557.4L108.3,557.4Q68.5,548 31.1,531.8Z"/><path d="M30.6,533.1L30.6,533Q68.5,548 108.3,557.4L108.2,557.4Q68.5,548 30.6,533.1Z"/><path d="M30.1,534.3L30.2,534.2Q68.5,548 108.2,557.4L108.2,557.5Q68.5,548 30.1,534.3Z"/><path d="M29.7,535.5L29.7,535.4Q68.5,548 108.2,557.5L108.2,557.5Q68.5,548 29.7,535.5Z"/><path d="M29.4,536.6L29.4,536.6Q68.5,548 108.2,557.5L108.2,557.5Q68.5,548 29.4,536.6Z"/><path d="M29,537.9L29,537.8Q68.5,548 108.2,557.5L108.2,557.6Q68.5,548 29,537.9Z"/><path d="M28.7,539.1L28.7,539.1Q68.5,548 108.2,557.6L108.2,557.6Q68.5,548 28.7,539.1Z"/><path d="M28.5,540.4L28.5,540.3Q68.5,548 108.2,557.6L108.2,557.6Q68.5,548 28.5,540.4Z"/><path d="M28.2,541.7L28.2,541.7Q68.5,548 108.2,557.6L108.2,557.7Q68.5,548 28.2,541.7Z"/><path d="M28.1,542.9L28.1,542.9Q68.5,548 108.2,557.7L108.2,557.7Q68.5,548 28.1,542.9Z"/><path d="M27.9,544.2L27.9,544.2Q68.5,548 108.2,557.7L108.2,557.7Q68.5,548 27.9,544.2Z"/><path d="M27.8,545.4L27.8,545.4Q68.5,548 108.2,557.7L108.2,557.7Q68.5,548 27.8,545.4Z"/><path d="M27.8,546.8L27.8,546.7Q68.5,548 108.2,557.7L108.2,557.8Q68.5,548 27.8,546.8Z"/><path d="M27.8,548.1L27.8,548Q68.5,548 108.2,557.8L108.2,557.8Q68.5,548 27.8,548.1Z"/><path d="M27.8,549.3L27.8,549.2Q68.5,548 108.2,557.8L108.1,557.8Q68.5,548 27.8,549.3Z"/><path d="M27.8,550.5L27.8,550.5Q68.5,548 108.1,557.8L108.1,557.9Q68.5,548 27.8,550.5Z"/><path d="M27.9,551.9L27.9,551.9Q68.5,548 108.1,557.9L108.1,557.9Q68.5,548 27.9,551.9Z"/><path d="M28.1,553.1L28.1,553.1Q68.5,548 108.1,557.9L108.1,557.9Q68.5,548 28.1,553.1Z"/><path d="M28.3,554.4L28.3,554.4Q68.5,548 108.1,557.9L108.1,558Q68.5,548 28.3,554.4Z"/><path d="M28.5,555.7L28.5,555.6Q68.5,548 108.1,558L108.1,558Q68.5,548 28.5,555.7Z"/><path d="M28.7,556.9L28.7,556.9Q68.5,548 108.1,558L108.1,558Q68.5,548 28.7,556.9Z"/><path d="M29,558.2L29,558.1Q68.5,548 108.1,558L108.1,558.1Q68.5,548 29,558.2Z"/><path d="M29.4,559.4L29.4,559.4Q68.5,548 108.1,558.1L108.1,558.1Q68.5,548 29.4,559.4Z"/><path d="M29.8,560.6L29.7,560.6Q68.5,548 108.1,558.1L108.1,558.2Q68.5,548 29.8,560.6Z"/><path d="M30.1,561.8L30.1,561.8Q68.5,548 108.1,558.2L108.1,558.2Q68.5,548 30.1,561.8Z"/><path d="M30.6,563L30.6,562.9Q68.5,548 108.1,558.2L108.1,558.2Q68.5,548 30.6,563Z"/><path d="M31.1,564.3L31.1,564.2Q68.5,548 108.1,558.2L108,558.3Q68.5,548 31.1,564.3Z"/></g>
<g fill="#b2df8a" fill-opacity="0.07"><path d="M31.6,565.4L31.6,565.4Q68.5,548 108,558.3L108,558.3Q68.5,548 31.6,565.4Z"/><path d="M32.1,566.4L32.1,566.4Q68.5,548 108,558.3L108,558.3Q68.5,548 32.1,566.4Z"/><path d="M32.7,567.4L32.6,567.4Q68.5,548 108,558.3L108,558.3Q68.5,548 32.7,567.4Z"/><path d="M33.3,568.5L33.2,568.4Q68.5,548 108,558.3L108,558.3Q68.5,548 33.3,568.5Z"/><path d="M33.8,569.4L33.8,569.4Q68.5,548 108,558.3L108,558.3Q68.5,548 33.8,569.4Z"/><path d="M34.5,570.4L34.4,570.3Q68.5,548 108,558.3L108,558.3Q68.5,548 34.5,570.4Z"/><path d="M35.1,571.3L35,571.3Q68.5,548 108,558.3L108,558.4Q68.5,548 35.1,571.3Z"/><path d="M35.7,572.2L35.7,572.2Q68.5,548 108,558.4L108,558.4Q68.5,548 35.7,572.2Z"/><path d="M36.4,573.2L36.4,573.1Q68.5,548 108,558.4L108,558.4Q68.5,548 36.4,573.2Z"/><path d="M37.1,574L37.1,574Q68.5,548 108,558.4L108,558.4Q68.5,548 37.1,574Z"/><path d="M37.8,574.9L37.8,574.8Q68.5,548 108,558.4L108,558.4Q68.5,548 37.8,574.9Z"/><path d="M38.6,575.7L38.6,575.7Q68.5,548 108,558.4L108,558.4Q68.5,548 38.6,575.7Z"/><path d="M39.4,576.6L39.4,576.5Q68.5,548 108,558.4L108,558.4Q68.5,548 39.4,576.6Z"/><path d="M40.2,577.3L40.2,577.3Q68.5,548 108,558.4L108,558.4Q68.5,548 40.2,577.3Z"/><path d="M41.1,578.2L41,578.1Q68.5,548 108,558.4L108,558.5Q68.5,548 41.1,578.2Z"/><path d="M41.9,578.9L41.9,578.9Q68.5,548 108,558.5L108,558.5Q68.5,548 41.9,578.9Z"/><path d="M42.8,579.6L42.8,579.6Q68.5,548 108,558.5L108,558.5Q68.5,548 42.8,579.6Z"/><path d="M43.7,580.3L43.7,580.3Q68.5,548 108,558.5L108,558.5Q68.5,548 43.7,580.3Z"/><path d="M44.6,581L44.5,581Q68.5,548 108,558.5L108,558.5Q68.5,548 44.6,581Z"/><path d="M45.5,581.7L45.5,581.7Q68.5,548 108,558.5L108,558.5Q68.5,548 45.5,581.7Z"/><path d="M46.5,582.3L46.5,582.3Q68.5,548 108,558.5L108,558.5Q68.5,548 46.5,582.3Z"/><path d="M47.4,582.9L47.3,582.9Q68.5,548 108,558.5L108,558.5Q68.5,548 47.4,582.9Z"/><path d="M48.4,583.5L48.4,583.5Q68.5,548 108,558.5L108,558.5Q68.5,548 48.4,583.5Z"/><path d="M49.4,584L49.4,584Q68.5,548 108,558.5L108,558.5Q68.5,548 49.4,584Z"/><path d="M50.4,584.6L50.4,584.5Q68.5,548 108,558.5L108,558.6Q68.5,548 50.4,584.6Z"/></g>
<path fill="#c2a5cf" d="M49.8,587.8L49.1,587.5L50.2,585.3L50.8,585.6ZM48.7,587.3L48,586.9L49.1,584.8L49.8,585.1ZM47.6,586.7L46.9,586.3L48.1,584.2L48.8,584.6ZM28.6,566.5L28.2,565.6L30.4,564.7L30.8,565.5ZM27.8,531.5L28.1,530.7L30.3,531.6L30,532.4Z"/><path fill="#f7c6d0" d="M46.5,586.1L45.8,585.7L47.1,583.6L47.7,584ZM39.6,581.1L39,580.6L40.6,578.8L41.1,579.3ZM37.8,579.4L37.2,578.9L38.9,577.2L39.4,577.7ZM36.9,578.6L36.4,578L38.1,576.4L38.6,576.9ZM35.2,576.7L34.7,576.1L36.6,574.6L37,575.2ZM29.7,568.7L29.3,567.9L31.5,566.9L31.8,567.5ZM28,565.2L27.7,564.3L29.9,563.4L30.2,564.2ZM24.6,550.4L24.6,549.5L27,549.4L27,550.3ZM24.6,549.1L24.6,548.2L27,548.2L27,549ZM25.7,538.1L25.9,537.2L28.2,537.8L28,538.6Z"/><path fill="#a6cee3" d="M45.5,585.5L44.8,585.1L46.1,583L46.8,583.4ZM40.5,581.9L39.9,581.4L41.5,579.6L42.1,580.1ZM29.1,567.6L28.8,566.9L31,565.8L31.3,566.5ZM25.9,558.6L25.6,557.8L28,557.2L28.2,558.1ZM24.6,546.3L24.6,545.4L27,545.5L27,546.4ZM25.1,540.8L25.3,539.9L27.7,540.3L27.5,541.2ZM44.1,511.4L45.2,510.7L46.5,512.7L45.5,513.4ZM45.8,510.3L47,509.6L48.2,511.7L47.1,512.4ZM59,505L60.3,504.8L60.7,507.1L59.5,507.4ZM103.7,521.5A44,44 0 0 1 109.1,530.8L106.8,531.7A41.6,41.6 0 0 0 101.8,523ZM99.1,579.7A44,44 0 0 1 78.4,590.9L77.9,588.5A41.6,41.6 0 0 0 97.4,577.9Z"/><path fill="#fdbf6f" d="M44.5,584.8L43.8,584.4L45.1,582.4L45.8,582.8ZM42.5,583.4L41.8,582.9L43.3,581L43.9,581.5ZM33.7,574.8L33.2,574.2L35.1,572.8L35.6,573.4ZM53,506.8L54.3,506.4L55,508.7L53.9,509.1Z"/><path fill="#cab2d6" d="M43.4,584.1L42.8,583.7L44.2,581.7L44.8,582.2ZM41.5,582.7L40.8,582.2L42.4,580.3L43,580.8ZM30.9,570.8L30.5,570.1L32.6,568.9L33,569.6ZM30.3,569.7L29.9,569L32,567.9L32.4,568.5ZM24.7,544.9L24.7,544L27.1,544.2L27.1,545.1ZM30.1,526.5L30.6,525.7L32.7,526.9L32.2,527.7ZM41,513.7L42,512.9L43.4,514.8L42.5,515.6ZM47.6,509.3L48.7,508.7L49.8,510.9L48.7,511.4ZM70.9,504.1L72.2,504.2L72,506.5L70.8,506.5ZM76.9,504.8L78.2,505.1L77.7,507.4L76.4,507.2ZM82.7,506.3L83.9,506.8L83.1,509L81.9,508.6ZM94.7,512.6A44,44 0 0 1 96.5,514L95,515.9A41.6,41.6 0 0 0 93.2,514.5Z"/><path fill="#b2df8a" d="M38.6,580.3L38.1,579.7L39.7,578L40.3,578.5ZM25,554.5L24.9,553.6L27.3,553.3L27.4,554.2ZM65,504.1L66.3,504.1L66.4,506.5L65.2,506.5ZM112.4,544.2A44,44 0 0 1 111.1,559.4L108.7,558.8A41.6,41.6 0 0 0 110,544.4Z"/><path fill="#a6dba0" d="M36,577.7L35.5,577.1L37.3,575.5L37.8,576ZM34.5,575.8L34,575.2L35.9,573.7L36.3,574.3ZM33,573.9L32.5,573.2L34.5,571.8L34.9,572.5ZM32.3,572.9L31.8,572.2L33.8,570.9L34.2,571.5ZM25.5,557.3L25.4,556.4L27.7,555.9L27.9,556.8ZM24.6,547.7L24.6,546.8L27,546.8L27,547.7ZM24.9,542.2L25.1,541.3L27.4,541.7L27.3,542.5Z"/><path fill="#9bb8e0" d="M31.6,571.9L31.1,571.2L33.2,569.9L33.6,570.6ZM28.9,529L29.3,528.2L31.4,529.3L31,530Z"/><path fill="#f4a582" d="M27.5,563.9L27.2,563L29.4,562.2L29.8,563ZM27,562.6L26.7,561.7L29,561L29.3,561.8ZM27.3,532.8L27.6,532L29.8,532.8L29.5,533.6Z"/><path fill="#f5f08a" d="M26.6,561.3L26.3,560.4L28.6,559.7L28.9,560.6ZM26.2,559.9L26,559.1L28.3,558.5L28.5,559.3ZM25.3,555.9L25.1,555L27.5,554.7L27.6,555.5ZM24.7,551.8L24.6,550.9L27,550.7L27.1,551.6ZM26.4,535.4L26.7,534.6L28.9,535.3L28.7,536.1Z"/><path fill="#fcd9a0" d="M24.9,553.2L24.8,552.3L27.2,552.1L27.2,552.9ZM24.8,543.5L24.9,542.6L27.3,542.9L27.2,543.8ZM26.8,534.1L27.1,533.3L29.4,534.1L29.1,534.9ZM28.3,530.3L28.7,529.4L30.8,530.4L30.5,531.2ZM29.5,527.8L29.9,526.9L32,528.1L31.6,528.9Z"/><path fill="#fb9a99" d="M25.4,539.5L25.6,538.6L27.9,539.1L27.7,539.9ZM26,536.8L26.3,535.9L28.6,536.5L28.3,537.4ZM35.2,519.3L36.1,518.3L37.8,519.9L37,520.9ZM51.1,507.6L52.3,507.1L53.2,509.3L52.1,509.8ZM55.2,506.1L56.4,505.7L57.1,508L55.9,508.4ZM72.9,504.2L74.2,504.4L73.9,506.7L72.7,506.6Z"/><path fill="#33a02c" d="M30.6,525.8L31.3,524.6L33.3,525.9L32.7,527ZM33.9,520.8L34.8,519.8L36.6,521.4L35.8,522.3ZM39.4,515.1L40.4,514.2L41.9,516.1L41,516.9ZM42.5,512.5L43.6,511.7L45,513.7L44,514.4ZM63,504.4L64.3,504.2L64.5,506.6L63.3,506.7ZM80.8,505.7L82,506.1L81.3,508.4L80.1,508ZM110.8,560.1A44,44 0 0 1 99.7,579.1L98,577.4A41.6,41.6 0 0 0 108.5,559.5Z"/><path fill="#e31a1c" d="M31.6,524.1L32.4,523L34.3,524.3L33.7,525.4ZM38,516.4L38.9,515.5L40.5,517.2L39.6,518.1ZM49.4,508.4L50.5,507.9L51.5,510L50.4,510.6ZM61,504.7L62.3,504.4L62.6,506.8L61.4,507Z"/><path fill="#1f78b4" d="M32.8,522.4L33.5,521.3L35.5,522.8L34.7,523.8ZM89.1,509.1A44,44 0 0 1 91.1,510.2L89.9,512.3A41.6,41.6 0 0 0 88,511.2ZM77.7,591A44,44 0 0 1 51.4,588.5L52.3,586.3A41.6,41.6 0 0 0 77.2,588.7Z"/><path fill="#ffff99" d="M36.5,517.8L37.5,516.9L39.1,518.6L38.3,519.5ZM91.9,510.7A44,44 0 0 1 93.9,512L92.5,514A41.6,41.6 0 0 0 90.7,512.8Z"/><path fill="#6a3d9a" d="M57.1,505.5L58.4,505.2L58.9,507.5L57.7,507.8ZM66.9,504L68.2,504L68.3,506.4L67,506.4ZM78.8,505.2L80.1,505.5L79.5,507.9L78.3,507.5Z"/><path fill="#ff7f00" d="M68.9,504L70.2,504L70.1,506.4L68.9,506.4ZM74.9,504.5L76.2,504.7L75.8,507L74.5,506.8ZM86.1,507.6A44,44 0 0 1 88.2,508.6L87.1,510.8A41.6,41.6 0 0 0 85.1,509.9Z"/>
<line x1="64.09" y1="594.29" x2="63.71" y2="598.27" stroke="#777" stroke-width="0.7"/>
<line x1="90.74" y1="588.86" x2="92.65" y2="592.38" stroke="#777" stroke-width="0.7"/>
<line x1="108.62" y1="571.60" x2="112.06" y2="573.63" stroke="#777" stroke-width="0.7"/>
<line x1="114.87" y1="552.05" x2="118.86" y2="552.40" stroke="#777" stroke-width="0.7"/>
<line x1="108.82" y1="524.75" x2="112.28" y2="522.75" stroke="#777" stroke-width="0.7"/>
<path d="M153.8,584.1L149.3,590.8M153.2,583.6L149.3,589.1M152.5,583.2L148.2,589M151.8,582.7L146.6,589.6M151.2,582.2L146.1,588.5M150.5,581.6L145.9,587.3M149.9,581.1L144.7,587.3M149.3,580.6L143.7,586.9M148.7,580L144,585.1M148.1,579.5L142.3,585.6M147.5,578.9L142.7,583.7M146.9,578.3L141.9,583.2M146.3,577.7L140.3,583.4M145.7,577.1L140,582.3M145.2,576.5L140,581.1M144.7,575.9L138.7,580.9M144.1,575.2L137.5,580.7M143.6,574.6L137.8,579.2M143.1,573.9L136.1,579.2M142.6,573.3L135.8,578.2M142.1,572.6L136.7,576.4M141.7,571.9L135.9,575.8M141.2,571.2L134.8,575.4M140.8,570.5L134.3,574.6M140.3,569.8L134.1,573.6M139.9,569.1L133.9,572.6M139.5,568.4L133.3,571.8M139.1,567.7L133.3,570.8M138.8,566.9L132,570.3M138.4,566.2L130.9,569.8M138.1,565.5L131.6,568.4M137.7,564.7L129.7,568.2M137.4,563.9L129.4,567.2M137.1,563.2L130.2,565.9M136.8,562.4L130,564.9M136.5,561.6L129,564.3M136.3,560.9L129.2,563.2M136,560.1L128.9,562.2M135.8,559.3L129.3,561.1M135.5,558.5L128.5,560.4M135.3,557.7L127.1,559.7M135.1,556.9L127.4,558.7M135,556.1L127.3,557.7M134.8,555.3L128.3,556.5M134.7,554.5L126.8,555.8M134.5,553.6L126.8,554.8M134.4,552.8L127.6,553.8M134.3,552L125.9,553M134.2,551.2L125.6,552M134.1,550.4L127,550.9M134.1,549.5L126.3,550M134,548.7L125.7,549.1M134,547.9L125.5,548.1M134,547.1L125.5,547.1M134,546.3L127.2,546.2M134,545.4L125.3,545.2M134.1,544.6L126.1,544.2M134.1,543.8L125.9,543.2M134.2,543L125.4,542.2M134.2,542.1L125.5,541.2M134.3,541.3L127,540.4M134.4,540.5L127.3,539.5M134.6,539.7L128,538.6M134.7,538.9L127.7,537.6M134.9,538.1L127.6,536.6M135,537.3L127.8,535.7M135.2,536.4L127.4,534.6M135.4,535.6L126.9,533.5M135.6,534.8L128.6,532.9M135.8,534.1L128.1,531.8M136.1,533.3L127.9,530.7M136.3,532.5L128.3,529.8M136.6,531.7L129.1,529M136.9,530.9L129,528M137.2,530.2L129.7,527.2M137.5,529.4L130.4,526.4M137.8,528.6L130.2,525.3M138.2,527.9L131.9,525M138.5,527.1L132.2,524.1M138.9,526.4L131.2,522.5M139.3,525.7L132.4,522M139.7,524.9L133.1,521.3" stroke="#636363" stroke-width="0.6" stroke-dasharray="1.3 0.35 0.7 0.3 1.0 0.4" fill="none"/>
<path d="M139.2,523.8L132.7,520M140.1,522.2L134,518.4M141.1,520.7L133.9,515.7M142.2,519.2L136.6,514.9M143.4,517.7L136.9,512.5M144.5,516.3L138.6,511.1M145.8,515L139.8,509.2M147.1,513.7L140.9,507.2M148.5,512.4L143.8,507.2M149.9,511.2L144.7,504.8M151.3,510.1L147,504.3M152.8,509L148.6,503M154.4,508L150.7,502.1M155.9,507L152,500.2M157.5,506.1L153.4,498.3M159.2,505.3L155.9,498.3M160.9,504.5L158.1,498.1M162.6,503.8L159.7,496.1M164.3,503.2L161.5,494.9M166.1,502.6L164.1,495.8M167.9,502.2L165.8,493.8M169.7,501.8L168,493.9M171.5,501.4L170.3,494.4M173.3,501.2L172.3,493.2M175.2,501L174.6,494M177,500.8L176.6,492.5M178.8,500.8L178.8,492.4M180.7,500.8L181,492.7M182.5,500.9L183.2,492.7M184.4,501.1L185.2,494.3M186.2,501.4L187.4,493.7M188,501.7L189.7,493.2M189.8,502.1L191.8,493.9M191.6,502.6L193.5,495.8M193.4,503.1L196.1,494.7M194.7,503.6L197.5,495.9M197.6,504.7L200.6,498M200.5,506.1L204.4,498.6M203.2,507.7L207.1,501.2M205.8,509.4L209.8,503.8M208.3,511.3L213.6,504.9M210.6,513.4L216.4,507.2M212.8,515.6L218.7,510.1M214.8,518L221.4,512.7M216.7,520.5L223.5,515.7M218.4,523.1L224.8,519.3M219.9,525.8L226.7,522.4M221.3,528.7L228.2,525.7" stroke="#444" stroke-width="0.6" stroke-dasharray="1.1 0.25" fill="none"/>
<g fill="#1f78b4" fill-opacity="0.6"><path d="M215,527.6A40.8,40.8 0 0 1 216,529.6Q179,546.8 188.2,586.6L187.4,586.7Q179,546.8 215,527.6Z"/><path d="M210.7,521.1A40.8,40.8 0 0 1 212.8,524Q179,546.8 187.4,586.7L186,587Q179,546.8 210.7,521.1Z"/><path d="M203.2,514L204.2,514.7Q179,546.8 186,587L185.1,587.1Q179,546.8 203.2,514Z"/><path d="M200.7,512.2L201.8,512.9Q179,546.8 185.1,587.1L184.1,587.3Q179,546.8 200.7,512.2Z"/><path d="M198,510.7L199.2,511.3Q179,546.8 184.1,587.3L183.1,587.4Q179,546.8 198,510.7Z"/><path d="M195.3,509.4L196.4,509.9Q179,546.8 183.1,587.4L182.1,587.5Q179,546.8 195.3,509.4Z"/></g>
<g fill="#1f78b4" fill-opacity="0.48"><path d="M191.9,508.1L192.3,508.2Q179,546.8 182.1,587.5L181.8,587.5Q179,546.8 191.9,508.1Z"/><path d="M190.1,507.5L190.6,507.7Q179,546.8 181.8,587.5L181.6,587.5Q179,546.8 190.1,507.5Z"/><path d="M188.3,507.1L188.8,507.2Q179,546.8 181.6,587.5L181.3,587.5Q179,546.8 188.3,507.1Z"/><path d="M186.5,506.7L186.9,506.8Q179,546.8 181.3,587.5L181,587.6Q179,546.8 186.5,506.7Z"/><path d="M184.7,506.4L185.2,506.5Q179,546.8 181,587.6L180.7,587.6Q179,546.8 184.7,506.4Z"/><path d="M182.8,506.2L183.2,506.2Q179,546.8 180.7,587.6L180.5,587.6Q179,546.8 182.8,506.2Z"/><path d="M181,506L181.5,506.1Q179,546.8 180.5,587.6L180.2,587.6Q179,546.8 181,506Z"/><path d="M179.1,506L179.7,506Q179,546.8 180.2,587.6L179.9,587.6Q179,546.8 179.1,506Z"/><path d="M177.3,506L177.7,506Q179,546.8 179.9,587.6L179.6,587.6Q179,546.8 177.3,506Z"/><path d="M175.4,506.2L176,506.1Q179,546.8 179.6,587.6L179.3,587.6Q179,546.8 175.4,506.2Z"/><path d="M173.6,506.4L174.1,506.3Q179,546.8 179.3,587.6L179,587.6Q179,546.8 173.6,506.4Z"/><path d="M171.8,506.6L172.3,506.5Q179,546.8 179,587.6L178.7,587.6Q179,546.8 171.8,506.6Z"/><path d="M170,507L170.4,506.9Q179,546.8 178.7,587.6L178.4,587.6Q179,546.8 170,507Z"/><path d="M168.2,507.5L168.6,507.3Q179,546.8 178.4,587.6L178.1,587.6Q179,546.8 168.2,507.5Z"/><path d="M166.4,508L166.9,507.8Q179,546.8 178.1,587.6L177.8,587.6Q179,546.8 166.4,508Z"/><path d="M164.4,508.7L165.3,508.4Q179,546.8 177.8,587.6L177.2,587.6Q179,546.8 164.4,508.7Z"/><path d="M162.7,509.4L163.5,509.1Q179,546.8 177.2,587.6L176.7,587.5Q179,546.8 162.7,509.4Z"/><path d="M161,510.2L161.8,509.8Q179,546.8 176.7,587.5L176.2,587.5Q179,546.8 161,510.2Z"/><path d="M159.3,511L160.1,510.7Q179,546.8 176.2,587.5L175.8,587.5Q179,546.8 159.3,511Z"/><path d="M157.7,512L158.6,511.4Q179,546.8 175.8,587.5L175.2,587.4Q179,546.8 157.7,512Z"/><path d="M156.2,513L157.2,512.3Q179,546.8 175.2,587.4L174.5,587.4Q179,546.8 156.2,513Z"/><path d="M154.7,514L155.4,513.5Q179,546.8 174.5,587.4L174,587.3Q179,546.8 154.7,514Z"/><path d="M153.2,515.2L154.1,514.5Q179,546.8 174,587.3L173.3,587.2Q179,546.8 153.2,515.2Z"/><path d="M151.8,516.4L152.6,515.7Q179,546.8 173.3,587.2L172.7,587.1Q179,546.8 151.8,516.4Z"/><path d="M150.5,517.6L151.4,516.8Q179,546.8 172.7,587.1L172,587Q179,546.8 150.5,517.6Z"/><path d="M149.2,519L149.8,518.3Q179,546.8 172,587L171.4,586.9Q179,546.8 149.2,519Z"/><path d="M147.9,520.4L148.5,519.7Q179,546.8 171.4,586.9L170.9,586.8Q179,546.8 147.9,520.4Z"/><path d="M146.8,521.8L147.3,521.1Q179,546.8 170.9,586.8L170.4,586.7Q179,546.8 146.8,521.8Z"/><path d="M145.7,523.3L146.2,522.5Q179,546.8 170.4,586.7L169.9,586.6Q179,546.8 145.7,523.3Z"/><path d="M144.6,524.8L145.2,524Q179,546.8 169.9,586.6L169.3,586.4Q179,546.8 144.6,524.8Z"/><path d="M143.7,526.4L144.2,525.5Q179,546.8 169.3,586.4L168.8,586.3Q179,546.8 143.7,526.4Z"/></g>
<g fill="#1f78b4" fill-opacity="0.27"><path d="M143.3,527L143.6,526.4Q179,546.8 168.8,586.3L168.6,586.3Q179,546.8 143.3,527Z"/><path d="M142.7,528.2L143,527.5Q179,546.8 168.6,586.3L168.5,586.2Q179,546.8 142.7,528.2Z"/><path d="M142.1,529.3L142.5,528.6Q179,546.8 168.5,586.2L168.3,586.2Q179,546.8 142.1,529.3Z"/><path d="M141.6,530.5L141.8,530Q179,546.8 168.3,586.2L168.2,586.1Q179,546.8 141.6,530.5Z"/><path d="M141.1,531.6L141.4,530.9Q179,546.8 168.2,586.1L168,586.1Q179,546.8 141.1,531.6Z"/><path d="M140.7,532.8L140.9,532.2Q179,546.8 168,586.1L167.8,586Q179,546.8 140.7,532.8Z"/><path d="M140.2,534.1L140.5,533.4Q179,546.8 167.8,586L167.7,586Q179,546.8 140.2,534.1Z"/><path d="M139.9,535.3L140.1,534.5Q179,546.8 167.7,586L167.5,585.9Q179,546.8 139.9,535.3Z"/><path d="M139.5,536.5L139.7,535.9Q179,546.8 167.5,585.9L167.4,585.9Q179,546.8 139.5,536.5Z"/><path d="M139.2,537.8L139.4,537Q179,546.8 167.4,585.9L167.2,585.9Q179,546.8 139.2,537.8Z"/><path d="M138.9,539L139.1,538.4Q179,546.8 167.2,585.9L167.1,585.8Q179,546.8 138.9,539Z"/><path d="M138.7,540.3L138.9,539.4Q179,546.8 167.1,585.8L166.9,585.8Q179,546.8 138.7,540.3Z"/><path d="M138.5,541.5L138.6,540.8Q179,546.8 166.9,585.8L166.7,585.7Q179,546.8 138.5,541.5Z"/><path d="M138.4,542.8L138.5,542.1Q179,546.8 166.7,585.7L166.5,585.7Q179,546.8 138.4,542.8Z"/><path d="M138.3,544.1L138.3,543.3Q179,546.8 166.5,585.7L166.4,585.6Q179,546.8 138.3,544.1Z"/><path d="M138.2,545.4L138.3,544.7Q179,546.8 166.4,585.6L166.2,585.5Q179,546.8 138.2,545.4Z"/><path d="M138.2,546.7L138.2,546Q179,546.8 166.2,585.5L166.1,585.5Q179,546.8 138.2,546.7Z"/><path d="M138.2,547.9L138.2,547.5Q179,546.8 166.1,585.5L166,585.5Q179,546.8 138.2,547.9Z"/><path d="M138.3,549.2L138.2,548.4Q179,546.8 166,585.5L165.8,585.4Q179,546.8 138.3,549.2Z"/><path d="M138.4,550.5L138.3,549.7Q179,546.8 165.8,585.4L165.6,585.3Q179,546.8 138.4,550.5Z"/><path d="M138.5,551.8L138.4,551.1Q179,546.8 165.6,585.3L165.5,585.3Q179,546.8 138.5,551.8Z"/><path d="M138.7,553L138.6,552.4Q179,546.8 165.5,585.3L165.3,585.2Q179,546.8 138.7,553Z"/><path d="M138.9,554.3L138.7,553.4Q179,546.8 165.3,585.2L165.1,585.2Q179,546.8 138.9,554.3Z"/><path d="M139.2,555.6L139,554.8Q179,546.8 165.1,585.2L165,585.1Q179,546.8 139.2,555.6Z"/><path d="M139.4,556.8L139.3,556.1Q179,546.8 165,585.1L164.8,585.1Q179,546.8 139.4,556.8Z"/><path d="M139.8,558L139.6,557.2Q179,546.8 164.8,585.1L164.6,585Q179,546.8 139.8,558Z"/><path d="M140.2,559.3L139.9,558.6Q179,546.8 164.6,585L164.5,584.9Q179,546.8 140.2,559.3Z"/><path d="M140.6,560.5L140.3,559.8Q179,546.8 164.5,584.9L164.3,584.9Q179,546.8 140.6,560.5Z"/><path d="M141,561.7L140.8,561.2Q179,546.8 164.3,584.9L164.2,584.8Q179,546.8 141,561.7Z"/><path d="M141.5,562.9L141.2,562.3Q179,546.8 164.2,584.8L164,584.8Q179,546.8 141.5,562.9Z"/><path d="M142,564L141.7,563.4Q179,546.8 164,584.8L163.9,584.7Q179,546.8 142,564Z"/></g>
<g fill="#1f78b4" fill-opacity="0.07"><path d="M142.5,565.1L142.2,564.4Q179,546.8 163.9,584.7L163.8,584.7Q179,546.8 142.5,565.1Z"/><path d="M143,566.1L142.8,565.5Q179,546.8 163.8,584.7L163.8,584.7Q179,546.8 143,566.1Z"/><path d="M143.6,567.1L143.3,566.5Q179,546.8 163.8,584.7L163.7,584.6Q179,546.8 143.6,567.1Z"/><path d="M144.2,568.1L143.8,567.5Q179,546.8 163.7,584.6L163.7,584.6Q179,546.8 144.2,568.1Z"/><path d="M144.8,569L144.3,568.3Q179,546.8 163.7,584.6L163.6,584.6Q179,546.8 144.8,569Z"/><path d="M145.4,570L145,569.4Q179,546.8 163.6,584.6L163.5,584.6Q179,546.8 145.4,570Z"/><path d="M146.1,570.9L145.8,570.5Q179,546.8 163.5,584.6L163.5,584.5Q179,546.8 146.1,570.9Z"/><path d="M146.8,571.8L146.3,571.2Q179,546.8 163.5,584.5L163.4,584.5Q179,546.8 146.8,571.8Z"/><path d="M147.5,572.7L147.1,572.3Q179,546.8 163.4,584.5L163.4,584.5Q179,546.8 147.5,572.7Z"/><path d="M148.2,573.6L147.8,573Q179,546.8 163.4,584.5L163.3,584.5Q179,546.8 148.2,573.6Z"/><path d="M149,574.4L148.6,574Q179,546.8 163.3,584.5L163.2,584.4Q179,546.8 149,574.4Z"/><path d="M149.8,575.2L149.3,574.8Q179,546.8 163.2,584.4L163.2,584.4Q179,546.8 149.8,575.2Z"/><path d="M150.6,576L150.2,575.7Q179,546.8 163.2,584.4L163.1,584.4Q179,546.8 150.6,576Z"/><path d="M151.4,576.8L150.9,576.4Q179,546.8 163.1,584.4L163.1,584.4Q179,546.8 151.4,576.8Z"/><path d="M152.2,577.6L151.8,577.2Q179,546.8 163.1,584.4L163,584.3Q179,546.8 152.2,577.6Z"/><path d="M153.1,578.3L152.5,577.8Q179,546.8 163,584.3L163,584.3Q179,546.8 153.1,578.3Z"/><path d="M154,579L153.4,578.6Q179,546.8 163,584.3L162.9,584.3Q179,546.8 154,579Z"/><path d="M154.9,579.7L154.4,579.3Q179,546.8 162.9,584.3L162.8,584.3Q179,546.8 154.9,579.7Z"/><path d="M155.8,580.4L155.3,580Q179,546.8 162.8,584.3L162.8,584.2Q179,546.8 155.8,580.4Z"/><path d="M156.8,581L156,580.5Q179,546.8 162.8,584.2L162.7,584.2Q179,546.8 156.8,581Z"/><path d="M157.7,581.6L157.1,581.2Q179,546.8 162.7,584.2L162.6,584.2Q179,546.8 157.7,581.6Z"/><path d="M158.7,582.2L158.3,581.9Q179,546.8 162.6,584.2L162.6,584.2Q179,546.8 158.7,582.2Z"/><path d="M159.7,582.8L159,582.4Q179,546.8 162.6,584.2L162.5,584.1Q179,546.8 159.7,582.8Z"/><path d="M160.7,583.3L160.1,583Q179,546.8 162.5,584.1L162.5,584.1Q179,546.8 160.7,583.3Z"/><path d="M161.8,583.8L161.1,583.5Q179,546.8 162.5,584.1L162.4,584.1Q179,546.8 161.8,583.8Z"/></g>
<g fill="#a6cee3" fill-opacity="0.5"><path d="M216,529.6A40.8,40.8 0 0 1 216.8,531.5Q179,546.8 218.2,558L217.8,559.3Q179,546.8 216,529.6Z"/><path d="M204.6,515L204.9,515.3Q179,546.8 217.8,559.3L217.7,559.8Q179,546.8 204.6,515Z"/><path d="M202.1,513.2L202.5,513.4Q179,546.8 217.7,559.8L217.5,560.3Q179,546.8 202.1,513.2Z"/><path d="M199.5,511.5L199.9,511.8Q179,546.8 217.5,560.3L217.3,560.7Q179,546.8 199.5,511.5Z"/><path d="M196.8,510.1L197.2,510.3Q179,546.8 217.3,560.7L217.2,561.2Q179,546.8 196.8,510.1Z"/></g>
<g fill="#a6cee3" fill-opacity="0.4"><path d="M192.9,508.4L193.2,508.5Q179,546.8 217.2,561.2L217.1,561.5Q179,546.8 192.9,508.4Z"/><path d="M191.1,507.8L191.2,507.9Q179,546.8 217.1,561.5L217,561.6Q179,546.8 191.1,507.8Z"/><path d="M189.5,507.4L189.6,507.4Q179,546.8 217,561.6L217,561.8Q179,546.8 189.5,507.4Z"/><path d="M187.4,506.9L187.7,506.9Q179,546.8 217,561.8L216.9,562Q179,546.8 187.4,506.9Z"/><path d="M185.9,506.6L186,506.6Q179,546.8 216.9,562L216.8,562.1Q179,546.8 185.9,506.6Z"/><path d="M183.6,506.3L183.9,506.3Q179,546.8 216.8,562.1L216.7,562.4Q179,546.8 183.6,506.3Z"/><path d="M182.1,506.1L182.4,506.1Q179,546.8 216.7,562.4L216.6,562.6Q179,546.8 182.1,506.1Z"/><path d="M180.2,506L180.5,506Q179,546.8 216.6,562.6L216.5,562.8Q179,546.8 180.2,506Z"/><path d="M178.5,506L178.8,506Q179,546.8 216.5,562.8L216.4,563Q179,546.8 178.5,506Z"/><path d="M176.4,506.1L176.6,506.1Q179,546.8 216.4,563L216.4,563.2Q179,546.8 176.4,506.1Z"/><path d="M174.8,506.2L175,506.2Q179,546.8 216.4,563.2L216.3,563.4Q179,546.8 174.8,506.2Z"/><path d="M172.9,506.5L173.1,506.4Q179,546.8 216.3,563.4L216.2,563.6Q179,546.8 172.9,506.5Z"/><path d="M170.8,506.8L171,506.8Q179,546.8 216.2,563.6L216.1,563.8Q179,546.8 170.8,506.8Z"/><path d="M169.1,507.2L169.4,507.2Q179,546.8 216.1,563.8L216,564Q179,546.8 169.1,507.2Z"/><path d="M167.3,507.7L167.5,507.6Q179,546.8 216,564L215.9,564.2Q179,546.8 167.3,507.7Z"/><path d="M165.5,508.3L165.9,508.2Q179,546.8 215.9,564.2L215.8,564.5Q179,546.8 165.5,508.3Z"/><path d="M163.6,509L164.2,508.8Q179,546.8 215.8,564.5L215.5,565Q179,546.8 163.6,509Z"/><path d="M161.9,509.8L162.4,509.5Q179,546.8 215.5,565L215.3,565.4Q179,546.8 161.9,509.8Z"/><path d="M160.2,510.6L160.7,510.3Q179,546.8 215.3,565.4L215.1,565.8Q179,546.8 160.2,510.6Z"/><path d="M158.7,511.4L159.2,511.1Q179,546.8 215.1,565.8L214.9,566.3Q179,546.8 158.7,511.4Z"/><path d="M157.3,512.3L157.5,512.1Q179,546.8 214.9,566.3L214.7,566.5Q179,546.8 157.3,512.3Z"/><path d="M155.5,513.4L155.9,513.2Q179,546.8 214.7,566.5L214.6,566.8Q179,546.8 155.5,513.4Z"/><path d="M154.2,514.4L154.5,514.2Q179,546.8 214.6,566.8L214.4,567.1Q179,546.8 154.2,514.4Z"/><path d="M152.7,515.6L153,515.4Q179,546.8 214.4,567.1L214.2,567.4Q179,546.8 152.7,515.6Z"/><path d="M151.5,516.7L151.6,516.5Q179,546.8 214.2,567.4L214.1,567.6Q179,546.8 151.5,516.7Z"/><path d="M149.9,518.2L150.2,517.9Q179,546.8 214.1,567.6L213.9,568Q179,546.8 149.9,518.2Z"/><path d="M148.6,519.6L148.9,519.2Q179,546.8 213.9,568L213.7,568.3Q179,546.8 148.6,519.6Z"/><path d="M147.4,521L147.7,520.6Q179,546.8 213.7,568.3L213.4,568.8Q179,546.8 147.4,521Z"/><path d="M146.3,522.4L146.5,522.1Q179,546.8 213.4,568.8L213.2,569.1Q179,546.8 146.3,522.4Z"/><path d="M145.2,523.9L145.5,523.5Q179,546.8 213.2,569.1L213,569.4Q179,546.8 145.2,523.9Z"/><path d="M144.3,525.4L144.5,525Q179,546.8 213,569.4L212.7,569.7Q179,546.8 144.3,525.4Z"/></g>
<g fill="#a6cee3" fill-opacity="0.23"><path d="M143.7,526.4L143.9,526Q179,546.8 212.7,569.7L212.7,569.9Q179,546.8 143.7,526.4Z"/><path d="M143.1,527.5L143.2,527.2Q179,546.8 212.7,569.9L212.6,570Q179,546.8 143.1,527.5Z"/><path d="M142.5,528.6L142.7,528.2Q179,546.8 212.6,570L212.5,570.1Q179,546.8 142.5,528.6Z"/><path d="M141.9,529.9L142.1,529.4Q179,546.8 212.5,570.1L212.4,570.2Q179,546.8 141.9,529.9Z"/><path d="M141.5,530.8L141.6,530.6Q179,546.8 212.4,570.2L212.4,570.3Q179,546.8 141.5,530.8Z"/><path d="M140.9,532.1L141,531.8Q179,546.8 212.4,570.3L212.3,570.4Q179,546.8 140.9,532.1Z"/><path d="M140.5,533.3L140.6,533Q179,546.8 212.3,570.4L212.2,570.5Q179,546.8 140.5,533.3Z"/><path d="M140.1,534.4L140.2,534.3Q179,546.8 212.2,570.5L212.2,570.5Q179,546.8 140.1,534.4Z"/><path d="M139.7,535.9L139.8,535.4Q179,546.8 212.2,570.5L212.1,570.7Q179,546.8 139.7,535.9Z"/><path d="M139.4,537L139.5,536.6Q179,546.8 212.1,570.7L212,570.8Q179,546.8 139.4,537Z"/><path d="M139.1,538.3L139.2,537.9Q179,546.8 212,570.8L211.9,570.9Q179,546.8 139.1,538.3Z"/><path d="M138.9,539.4L138.9,539.2Q179,546.8 211.9,570.9L211.8,571Q179,546.8 138.9,539.4Z"/><path d="M138.6,540.8L138.7,540.5Q179,546.8 211.8,571L211.8,571.1Q179,546.8 138.6,540.8Z"/><path d="M138.5,542.1L138.5,541.7Q179,546.8 211.8,571.1L211.7,571.2Q179,546.8 138.5,542.1Z"/><path d="M138.4,543.3L138.4,543Q179,546.8 211.7,571.2L211.6,571.3Q179,546.8 138.4,543.3Z"/><path d="M138.3,544.6L138.3,544.3Q179,546.8 211.6,571.3L211.5,571.4Q179,546.8 138.3,544.6Z"/><path d="M138.2,546L138.2,545.6Q179,546.8 211.5,571.4L211.5,571.5Q179,546.8 138.2,546Z"/><path d="M138.2,547.4L138.2,546.9Q179,546.8 211.5,571.5L211.3,571.7Q179,546.8 138.2,547.4Z"/><path d="M138.2,548.4L138.2,548.1Q179,546.8 211.3,571.7L211.3,571.7Q179,546.8 138.2,548.4Z"/><path d="M138.3,549.6L138.3,549.4Q179,546.8 211.3,571.7L211.3,571.8Q179,546.8 138.3,549.6Z"/><path d="M138.4,551L138.4,550.7Q179,546.8 211.3,571.8L211.2,571.9Q179,546.8 138.4,551Z"/><path d="M138.6,552.4L138.5,552Q179,546.8 211.2,571.9L211.1,572Q179,546.8 138.6,552.4Z"/><path d="M138.7,553.3L138.7,553.2Q179,546.8 211.1,572L211.1,572Q179,546.8 138.7,553.3Z"/><path d="M139,554.7L138.9,554.5Q179,546.8 211.1,572L211,572.1Q179,546.8 139,554.7Z"/><path d="M139.3,556.1L139.2,555.7Q179,546.8 211,572.1L210.9,572.2Q179,546.8 139.3,556.1Z"/><path d="M139.5,557.2L139.5,557Q179,546.8 210.9,572.2L210.9,572.3Q179,546.8 139.5,557.2Z"/><path d="M139.9,558.6L139.8,558.2Q179,546.8 210.9,572.3L210.8,572.4Q179,546.8 139.9,558.6Z"/><path d="M140.3,559.7L140.2,559.5Q179,546.8 210.8,572.4L210.7,572.4Q179,546.8 140.3,559.7Z"/><path d="M140.8,561.1L140.6,560.6Q179,546.8 210.7,572.4L210.6,572.6Q179,546.8 140.8,561.1Z"/><path d="M141.2,562.2L141.1,561.9Q179,546.8 210.6,572.6L210.5,572.7Q179,546.8 141.2,562.2Z"/><path d="M141.7,563.4L141.6,563Q179,546.8 210.5,572.7L210.4,572.8Q179,546.8 141.7,563.4Z"/></g>
<g fill="#a6cee3" fill-opacity="0.06"><path d="M142.2,564.4L142.1,564.2Q179,546.8 210.4,572.8L210.4,572.8Q179,546.8 142.2,564.4Z"/><path d="M142.8,565.5L142.6,565.2Q179,546.8 210.4,572.8L210.4,572.9Q179,546.8 142.8,565.5Z"/><path d="M143.3,566.5L143.1,566.2Q179,546.8 210.4,572.9L210.4,572.9Q179,546.8 143.3,566.5Z"/><path d="M143.8,567.4L143.7,567.2Q179,546.8 210.4,572.9L210.3,572.9Q179,546.8 143.8,567.4Z"/><path d="M144.3,568.3L144.2,568.2Q179,546.8 210.3,572.9L210.3,572.9Q179,546.8 144.3,568.3Z"/><path d="M145,569.3L144.9,569.1Q179,546.8 210.3,572.9L210.3,573Q179,546.8 145,569.3Z"/><path d="M145.7,570.4L145.5,570.1Q179,546.8 210.3,573L210.3,573Q179,546.8 145.7,570.4Z"/><path d="M146.3,571.2L146.2,571Q179,546.8 210.3,573L210.2,573Q179,546.8 146.3,571.2Z"/><path d="M147.1,572.2L146.9,572Q179,546.8 210.2,573L210.2,573.1Q179,546.8 147.1,572.2Z"/><path d="M147.7,573L147.5,572.8Q179,546.8 210.2,573.1L210.2,573.1Q179,546.8 147.7,573Z"/><path d="M148.5,573.9L148.3,573.7Q179,546.8 210.2,573.1L210.2,573.1Q179,546.8 148.5,573.9Z"/><path d="M149.3,574.8L149.1,574.6Q179,546.8 210.2,573.1L210.1,573.2Q179,546.8 149.3,574.8Z"/><path d="M150.2,575.7L149.9,575.4Q179,546.8 210.1,573.2L210.1,573.2Q179,546.8 150.2,575.7Z"/><path d="M150.8,576.3L150.6,576.1Q179,546.8 210.1,573.2L210.1,573.2Q179,546.8 150.8,576.3Z"/><path d="M151.7,577.2L151.5,576.9Q179,546.8 210.1,573.2L210,573.3Q179,546.8 151.7,577.2Z"/><path d="M152.5,577.8L152.4,577.7Q179,546.8 210,573.3L210,573.3Q179,546.8 152.5,577.8Z"/><path d="M153.4,578.5L153.2,578.4Q179,546.8 210,573.3L210,573.3Q179,546.8 153.4,578.5Z"/><path d="M154.3,579.3L154.1,579.1Q179,546.8 210,573.3L210,573.4Q179,546.8 154.3,579.3Z"/><path d="M155.3,580L155,579.8Q179,546.8 210,573.4L209.9,573.4Q179,546.8 155.3,580Z"/><path d="M156,580.5L155.9,580.4Q179,546.8 209.9,573.4L209.9,573.4Q179,546.8 156,580.5Z"/><path d="M157.1,581.2L156.9,581.1Q179,546.8 209.9,573.4L209.9,573.4Q179,546.8 157.1,581.2Z"/><path d="M158.2,581.9L157.9,581.7Q179,546.8 209.9,573.4L209.9,573.5Q179,546.8 158.2,581.9Z"/><path d="M159,582.4L158.8,582.3Q179,546.8 209.9,573.5L209.8,573.5Q179,546.8 159,582.4Z"/><path d="M160.1,582.9L159.9,582.8Q179,546.8 209.8,573.5L209.8,573.5Q179,546.8 160.1,582.9Z"/><path d="M161.1,583.5L160.9,583.4Q179,546.8 209.8,573.5L209.8,573.6Q179,546.8 161.1,583.5Z"/></g>
<g fill="#33a02c" fill-opacity="0.55"><path d="M212.8,524A40.8,40.8 0 0 1 214.7,527Q179,546.8 209.3,574.1A40.8,40.8 0 0 1 206.9,576.6Q179,546.8 212.8,524Z"/><path d="M204.2,514.7L204.6,515Q179,546.8 206.9,576.6L206.2,577.2Q179,546.8 204.2,514.7Z"/><path d="M201.8,512.9L202.1,513.2Q179,546.8 206.2,577.2L205.6,577.7Q179,546.8 201.8,512.9Z"/><path d="M199.2,511.3L199.5,511.5Q179,546.8 205.6,577.7L204.9,578.3Q179,546.8 199.2,511.3Z"/><path d="M196.4,509.9L196.8,510.1Q179,546.8 204.9,578.3L204.3,578.8Q179,546.8 196.4,509.9Z"/></g>
<g fill="#33a02c" fill-opacity="0.44"><path d="M192.3,508.2L192.9,508.4Q179,546.8 204.3,578.8L203.6,579.4Q179,546.8 192.3,508.2Z"/><path d="M190.6,507.7L191.1,507.8Q179,546.8 203.6,579.4L203,579.8Q179,546.8 190.6,507.7Z"/><path d="M188.8,507.2L189.5,507.4Q179,546.8 203,579.8L202.1,580.4Q179,546.8 188.8,507.2Z"/><path d="M186.9,506.8L187.4,506.9Q179,546.8 202.1,580.4L201.6,580.8Q179,546.8 186.9,506.8Z"/><path d="M185.2,506.5L185.9,506.6Q179,546.8 201.6,580.8L200.7,581.3Q179,546.8 185.2,506.5Z"/><path d="M183.2,506.2L183.6,506.3Q179,546.8 200.7,581.3L200.1,581.7Q179,546.8 183.2,506.2Z"/><path d="M181.5,506.1L182.1,506.1Q179,546.8 200.1,581.7L199.3,582.2Q179,546.8 181.5,506.1Z"/><path d="M179.7,506L180.2,506Q179,546.8 199.3,582.2L198.7,582.5Q179,546.8 179.7,506Z"/><path d="M177.7,506L178.5,506Q179,546.8 198.7,582.5L197.7,583.1Q179,546.8 177.7,506Z"/><path d="M176,506.1L176.4,506.1Q179,546.8 197.7,583.1L197.2,583.3Q179,546.8 176,506.1Z"/><path d="M174.1,506.3L174.8,506.2Q179,546.8 197.2,583.3L196.3,583.8Q179,546.8 174.1,506.3Z"/><path d="M172.3,506.5L172.9,506.5Q179,546.8 196.3,583.8L195.5,584.1Q179,546.8 172.3,506.5Z"/><path d="M170.4,506.9L170.8,506.8Q179,546.8 195.5,584.1L195,584.3Q179,546.8 170.4,506.9Z"/><path d="M168.6,507.3L169.1,507.2Q179,546.8 195,584.3L194.3,584.6Q179,546.8 168.6,507.3Z"/><path d="M166.9,507.8L167.3,507.7Q179,546.8 194.3,584.6L193.7,584.9Q179,546.8 166.9,507.8Z"/><path d="M165.3,508.4L165.5,508.3Q179,546.8 193.7,584.9L193.4,585Q179,546.8 165.3,508.4Z"/><path d="M163.5,509.1L163.6,509Q179,546.8 193.4,585L193.3,585Q179,546.8 163.5,509.1Z"/><path d="M161.8,509.8L161.9,509.8Q179,546.8 193.3,585L193.1,585.1Q179,546.8 161.8,509.8Z"/><path d="M160.1,510.7L160.2,510.6Q179,546.8 193.1,585.1L192.8,585.2Q179,546.8 160.1,510.7Z"/><path d="M158.6,511.4L158.7,511.4Q179,546.8 192.8,585.2L192.7,585.2Q179,546.8 158.6,511.4Z"/><path d="M157.2,512.3L157.3,512.3Q179,546.8 192.7,585.2L192.5,585.3Q179,546.8 157.2,512.3Z"/><path d="M155.4,513.5L155.5,513.4Q179,546.8 192.5,585.3L192.3,585.4Q179,546.8 155.4,513.5Z"/><path d="M154.1,514.5L154.2,514.4Q179,546.8 192.3,585.4L192.2,585.4Q179,546.8 154.1,514.5Z"/><path d="M152.6,515.7L152.7,515.6Q179,546.8 192.2,585.4L192.1,585.5Q179,546.8 152.6,515.7Z"/><path d="M151.4,516.8L151.5,516.7Q179,546.8 192.1,585.5L191.9,585.5Q179,546.8 151.4,516.8Z"/><path d="M149.8,518.3L149.9,518.2Q179,546.8 191.9,585.5L191.7,585.6Q179,546.8 149.8,518.3Z"/><path d="M148.5,519.7L148.6,519.6Q179,546.8 191.7,585.6L191.5,585.6Q179,546.8 148.5,519.7Z"/><path d="M147.3,521.1L147.4,521Q179,546.8 191.5,585.6L191.3,585.7Q179,546.8 147.3,521.1Z"/><path d="M146.2,522.5L146.3,522.4Q179,546.8 191.3,585.7L191.1,585.7Q179,546.8 146.2,522.5Z"/><path d="M145.2,524L145.2,523.9Q179,546.8 191.1,585.7L191,585.8Q179,546.8 145.2,524Z"/><path d="M144.2,525.5L144.3,525.4Q179,546.8 191,585.8L190.8,585.9Q179,546.8 144.2,525.5Z"/></g>
<g fill="#33a02c" fill-opacity="0.25"><path d="M143.6,526.4L143.7,526.4Q179,546.8 190.8,585.9L190.7,585.9Q179,546.8 143.6,526.4Z"/><path d="M143,527.5L143.1,527.5Q179,546.8 190.7,585.9L190.7,585.9Q179,546.8 143,527.5Z"/><path d="M142.5,528.6L142.5,528.6Q179,546.8 190.7,585.9L190.7,585.9Q179,546.8 142.5,528.6Z"/><path d="M141.8,530L141.9,529.9Q179,546.8 190.7,585.9L190.6,585.9Q179,546.8 141.8,530Z"/><path d="M141.4,530.9L141.5,530.8Q179,546.8 190.6,585.9L190.6,585.9Q179,546.8 141.4,530.9Z"/><path d="M140.9,532.2L140.9,532.1Q179,546.8 190.6,585.9L190.5,585.9Q179,546.8 140.9,532.2Z"/><path d="M140.5,533.4L140.5,533.3Q179,546.8 190.5,585.9L190.5,585.9Q179,546.8 140.5,533.4Z"/><path d="M140.1,534.5L140.1,534.4Q179,546.8 190.5,585.9L190.5,586Q179,546.8 140.1,534.5Z"/><path d="M139.7,535.9L139.7,535.9Q179,546.8 190.5,586L190.4,586Q179,546.8 139.7,535.9Z"/><path d="M139.4,537L139.4,537Q179,546.8 190.4,586L190.4,586Q179,546.8 139.4,537Z"/><path d="M139.1,538.4L139.1,538.3Q179,546.8 190.4,586L190.4,586Q179,546.8 139.1,538.4Z"/><path d="M138.9,539.4L138.9,539.4Q179,546.8 190.4,586L190.4,586Q179,546.8 138.9,539.4Z"/><path d="M138.6,540.8L138.6,540.8Q179,546.8 190.4,586L190.3,586Q179,546.8 138.6,540.8Z"/><path d="M138.5,542.1L138.5,542.1Q179,546.8 190.3,586L190.3,586Q179,546.8 138.5,542.1Z"/><path d="M138.3,543.3L138.4,543.3Q179,546.8 190.3,586L190.3,586Q179,546.8 138.3,543.3Z"/><path d="M138.3,544.7L138.3,544.6Q179,546.8 190.3,586L190.3,586Q179,546.8 138.3,544.7Z"/><path d="M138.2,546L138.2,546Q179,546.8 190.3,586L190.2,586Q179,546.8 138.2,546Z"/><path d="M138.2,547.5L138.2,547.4Q179,546.8 190.2,586L190.2,586Q179,546.8 138.2,547.5Z"/><path d="M138.2,548.4L138.2,548.4Q179,546.8 190.2,586L190.2,586Q179,546.8 138.2,548.4Z"/><path d="M138.3,549.7L138.3,549.6Q179,546.8 190.2,586L190.1,586.1Q179,546.8 138.3,549.7Z"/><path d="M138.4,551.1L138.4,551Q179,546.8 190.1,586.1L190.1,586.1Q179,546.8 138.4,551.1Z"/><path d="M138.6,552.4L138.6,552.4Q179,546.8 190.1,586.1L190.1,586.1Q179,546.8 138.6,552.4Z"/><path d="M138.7,553.4L138.7,553.3Q179,546.8 190.1,586.1L190,586.1Q179,546.8 138.7,553.4Z"/><path d="M139,554.8L139,554.7Q179,546.8 190,586.1L190,586.1Q179,546.8 139,554.8Z"/><path d="M139.3,556.1L139.3,556.1Q179,546.8 190,586.1L190,586.1Q179,546.8 139.3,556.1Z"/><path d="M139.6,557.2L139.5,557.2Q179,546.8 190,586.1L190,586.1Q179,546.8 139.6,557.2Z"/><path d="M139.9,558.6L139.9,558.6Q179,546.8 190,586.1L189.9,586.1Q179,546.8 139.9,558.6Z"/><path d="M140.3,559.8L140.3,559.7Q179,546.8 189.9,586.1L189.9,586.1Q179,546.8 140.3,559.8Z"/><path d="M140.8,561.2L140.8,561.1Q179,546.8 189.9,586.1L189.9,586.1Q179,546.8 140.8,561.2Z"/><path d="M141.2,562.3L141.2,562.2Q179,546.8 189.9,586.1L189.8,586.1Q179,546.8 141.2,562.3Z"/><path d="M141.7,563.4L141.7,563.4Q179,546.8 189.8,586.1L189.8,586.1Q179,546.8 141.7,563.4Z"/></g>
<g fill="#33a02c" fill-opacity="0.07"><path d="M142.2,564.4L142.2,564.4Q179,546.8 189.8,586.1L189.8,586.1Q179,546.8 142.2,564.4Z"/><path d="M142.8,565.5L142.8,565.5Q179,546.8 189.8,586.1L189.8,586.1Q179,546.8 142.8,565.5Z"/><path d="M143.3,566.5L143.3,566.5Q179,546.8 189.8,586.1L189.8,586.1Q179,546.8 143.3,566.5Z"/><path d="M143.8,567.5L143.8,567.4Q179,546.8 189.8,586.1L189.8,586.2Q179,546.8 143.8,567.5Z"/><path d="M144.3,568.3L144.3,568.3Q179,546.8 189.8,586.2L189.8,586.2Q179,546.8 144.3,568.3Z"/><path d="M145,569.4L145,569.3Q179,546.8 189.8,586.2L189.8,586.2Q179,546.8 145,569.4Z"/><path d="M145.8,570.5L145.7,570.4Q179,546.8 189.8,586.2L189.7,586.2Q179,546.8 145.8,570.5Z"/><path d="M146.3,571.2L146.3,571.2Q179,546.8 189.7,586.2L189.7,586.2Q179,546.8 146.3,571.2Z"/><path d="M147.1,572.3L147.1,572.2Q179,546.8 189.7,586.2L189.7,586.2Q179,546.8 147.1,572.3Z"/><path d="M147.8,573L147.7,573Q179,546.8 189.7,586.2L189.7,586.2Q179,546.8 147.8,573Z"/><path d="M148.6,574L148.5,573.9Q179,546.8 189.7,586.2L189.7,586.2Q179,546.8 148.6,574Z"/><path d="M149.3,574.8L149.3,574.8Q179,546.8 189.7,586.2L189.7,586.2Q179,546.8 149.3,574.8Z"/><path d="M150.2,575.7L150.2,575.7Q179,546.8 189.7,586.2L189.7,586.2Q179,546.8 150.2,575.7Z"/><path d="M150.9,576.4L150.8,576.3Q179,546.8 189.7,586.2L189.7,586.2Q179,546.8 150.9,576.4Z"/><path d="M151.8,577.2L151.7,577.2Q179,546.8 189.7,586.2L189.6,586.2Q179,546.8 151.8,577.2Z"/><path d="M152.5,577.8L152.5,577.8Q179,546.8 189.6,586.2L189.6,586.2Q179,546.8 152.5,577.8Z"/><path d="M153.4,578.6L153.4,578.5Q179,546.8 189.6,586.2L189.6,586.2Q179,546.8 153.4,578.6Z"/><path d="M154.4,579.3L154.3,579.3Q179,546.8 189.6,586.2L189.6,586.2Q179,546.8 154.4,579.3Z"/><path d="M155.3,580L155.3,580Q179,546.8 189.6,586.2L189.6,586.2Q179,546.8 155.3,580Z"/><path d="M156,580.5L156,580.5Q179,546.8 189.6,586.2L189.6,586.2Q179,546.8 156,580.5Z"/><path d="M157.1,581.2L157.1,581.2Q179,546.8 189.6,586.2L189.6,586.2Q179,546.8 157.1,581.2Z"/><path d="M158.3,581.9L158.2,581.9Q179,546.8 189.6,586.2L189.6,586.2Q179,546.8 158.3,581.9Z"/><path d="M159,582.4L159,582.4Q179,546.8 189.6,586.2L189.6,586.2Q179,546.8 159,582.4Z"/><path d="M160.1,583L160.1,582.9Q179,546.8 189.6,586.2L189.6,586.2Q179,546.8 160.1,583Z"/><path d="M161.1,583.5L161.1,583.5Q179,546.8 189.6,586.2L189.6,586.2Q179,546.8 161.1,583.5Z"/></g>
<g fill="#b2df8a" fill-opacity="0.48"><path d="M193.2,508.5L193.4,508.6Q179,546.8 219.7,544.7L219.8,545Q179,546.8 193.2,508.5Z"/><path d="M191.2,507.9L191.6,508Q179,546.8 219.8,545L219.8,545.7Q179,546.8 191.2,507.9Z"/><path d="M189.6,507.4L190,507.5Q179,546.8 219.8,545.7L219.8,546.3Q179,546.8 189.6,507.4Z"/><path d="M187.7,506.9L188.1,507Q179,546.8 219.8,546.3L219.8,546.9Q179,546.8 187.7,506.9Z"/><path d="M186,506.6L186.4,506.7Q179,546.8 219.8,546.9L219.8,547.4Q179,546.8 186,506.6Z"/><path d="M183.9,506.3L184.5,506.4Q179,546.8 219.8,547.4L219.8,548.2Q179,546.8 183.9,506.3Z"/><path d="M182.4,506.1L182.6,506.2Q179,546.8 219.8,548.2L219.8,548.6Q179,546.8 182.4,506.1Z"/><path d="M180.5,506L180.8,506Q179,546.8 219.8,548.6L219.7,549Q179,546.8 180.5,506Z"/><path d="M178.8,506L179,506Q179,546.8 219.7,549L219.7,549.3Q179,546.8 178.8,506Z"/><path d="M176.6,506.1L177,506Q179,546.8 219.7,549.3L219.7,550Q179,546.8 176.6,506.1Z"/><path d="M175,506.2L175.3,506.2Q179,546.8 219.7,550L219.6,550.4Q179,546.8 175,506.2Z"/><path d="M173.1,506.4L173.5,506.4Q179,546.8 219.6,550.4L219.6,551Q179,546.8 173.1,506.4Z"/><path d="M171,506.8L171.6,506.7Q179,546.8 219.6,551L219.5,551.9Q179,546.8 171,506.8Z"/><path d="M169.4,507.2L169.7,507.1Q179,546.8 219.5,551.9L219.4,552.5Q179,546.8 169.4,507.2Z"/><path d="M167.5,507.6L168.1,507.5Q179,546.8 219.4,552.5L219.3,553.3Q179,546.8 167.5,507.6Z"/><path d="M165.9,508.2L166,508.1Q179,546.8 219.3,553.3L219.3,553.4Q179,546.8 165.9,508.2Z"/><path d="M164.2,508.8L164.3,508.8Q179,546.8 219.3,553.4L219.2,553.6Q179,546.8 164.2,508.8Z"/><path d="M162.4,509.5L162.5,509.5Q179,546.8 219.2,553.6L219.2,553.7Q179,546.8 162.4,509.5Z"/><path d="M160.7,510.3L160.9,510.2Q179,546.8 219.2,553.7L219.1,554.1Q179,546.8 160.7,510.3Z"/><path d="M159.2,511.1L159.3,511.1Q179,546.8 219.1,554.1L219.1,554.2Q179,546.8 159.2,511.1Z"/><path d="M157.5,512.1L157.7,512Q179,546.8 219.1,554.2L219.1,554.5Q179,546.8 157.5,512.1Z"/><path d="M155.9,513.2L156,513.1Q179,546.8 219.1,554.5L219,554.8Q179,546.8 155.9,513.2Z"/><path d="M154.5,514.2L154.6,514.1Q179,546.8 219,554.8L219,554.9Q179,546.8 154.5,514.2Z"/><path d="M153,515.4L153.1,515.3Q179,546.8 219,554.9L219,555.1Q179,546.8 153,515.4Z"/><path d="M151.6,516.5L151.7,516.5Q179,546.8 219,555.1L218.9,555.2Q179,546.8 151.6,516.5Z"/><path d="M150.2,517.9L150.3,517.8Q179,546.8 218.9,555.2L218.9,555.3Q179,546.8 150.2,517.9Z"/><path d="M148.9,519.2L149,519.2Q179,546.8 218.9,555.3L218.9,555.5Q179,546.8 148.9,519.2Z"/><path d="M147.7,520.6L147.8,520.5Q179,546.8 218.9,555.5L218.8,555.7Q179,546.8 147.7,520.6Z"/><path d="M146.5,522.1L146.6,522Q179,546.8 218.8,555.7L218.8,555.9Q179,546.8 146.5,522.1Z"/><path d="M145.5,523.5L145.5,523.4Q179,546.8 218.8,555.9L218.8,556Q179,546.8 145.5,523.5Z"/><path d="M144.5,525L144.6,524.9Q179,546.8 218.8,556L218.7,556.2Q179,546.8 144.5,525Z"/></g>
<g fill="#b2df8a" fill-opacity="0.27"><path d="M143.9,526L143.9,526Q179,546.8 218.7,556.2L218.7,556.2Q179,546.8 143.9,526Z"/><path d="M143.2,527.2L143.2,527.2Q179,546.8 218.7,556.2L218.7,556.2Q179,546.8 143.2,527.2Z"/><path d="M142.7,528.2L142.7,528.2Q179,546.8 218.7,556.2L218.7,556.2Q179,546.8 142.7,528.2Z"/><path d="M142.1,529.4L142.1,529.4Q179,546.8 218.7,556.2L218.7,556.3Q179,546.8 142.1,529.4Z"/><path d="M141.6,530.6L141.6,530.5Q179,546.8 218.7,556.3L218.7,556.3Q179,546.8 141.6,530.6Z"/><path d="M141,531.8L141.1,531.8Q179,546.8 218.7,556.3L218.7,556.4Q179,546.8 141,531.8Z"/><path d="M140.6,533L140.6,533Q179,546.8 218.7,556.4L218.7,556.4Q179,546.8 140.6,533Z"/><path d="M140.2,534.3L140.2,534.2Q179,546.8 218.7,556.4L218.7,556.4Q179,546.8 140.2,534.3Z"/><path d="M139.8,535.4L139.8,535.4Q179,546.8 218.7,556.4L218.6,556.4Q179,546.8 139.8,535.4Z"/><path d="M139.5,536.6L139.5,536.6Q179,546.8 218.6,556.4L218.6,556.5Q179,546.8 139.5,536.6Z"/><path d="M139.2,537.9L139.2,537.8Q179,546.8 218.6,556.5L218.6,556.5Q179,546.8 139.2,537.9Z"/><path d="M138.9,539.2L138.9,539.1Q179,546.8 218.6,556.5L218.6,556.5Q179,546.8 138.9,539.2Z"/><path d="M138.7,540.5L138.7,540.4Q179,546.8 218.6,556.5L218.6,556.5Q179,546.8 138.7,540.5Z"/><path d="M138.5,541.7L138.5,541.7Q179,546.8 218.6,556.5L218.6,556.6Q179,546.8 138.5,541.7Z"/><path d="M138.4,543L138.4,542.9Q179,546.8 218.6,556.6L218.6,556.6Q179,546.8 138.4,543Z"/><path d="M138.3,544.3L138.3,544.2Q179,546.8 218.6,556.6L218.6,556.7Q179,546.8 138.3,544.3Z"/><path d="M138.2,545.6L138.2,545.5Q179,546.8 218.6,556.7L218.6,556.7Q179,546.8 138.2,545.6Z"/><path d="M138.2,546.9L138.2,546.8Q179,546.8 218.6,556.7L218.6,556.7Q179,546.8 138.2,546.9Z"/><path d="M138.2,548.1L138.2,548.1Q179,546.8 218.6,556.7L218.6,556.8Q179,546.8 138.2,548.1Z"/><path d="M138.3,549.4L138.3,549.4Q179,546.8 218.6,556.8L218.6,556.8Q179,546.8 138.3,549.4Z"/><path d="M138.4,550.7L138.4,550.6Q179,546.8 218.6,556.8L218.5,556.8Q179,546.8 138.4,550.7Z"/><path d="M138.5,552L138.5,551.9Q179,546.8 218.5,556.8L218.5,556.9Q179,546.8 138.5,552Z"/><path d="M138.7,553.2L138.7,553.1Q179,546.8 218.5,556.9L218.5,556.9Q179,546.8 138.7,553.2Z"/><path d="M138.9,554.5L138.9,554.4Q179,546.8 218.5,556.9L218.5,556.9Q179,546.8 138.9,554.5Z"/><path d="M139.2,555.7L139.2,555.7Q179,546.8 218.5,556.9L218.5,556.9Q179,546.8 139.2,555.7Z"/><path d="M139.5,557L139.5,557Q179,546.8 218.5,556.9L218.5,557Q179,546.8 139.5,557Z"/><path d="M139.8,558.2L139.8,558.2Q179,546.8 218.5,557L218.5,557Q179,546.8 139.8,558.2Z"/><path d="M140.2,559.5L140.2,559.4Q179,546.8 218.5,557L218.5,557Q179,546.8 140.2,559.5Z"/><path d="M140.6,560.6L140.6,560.6Q179,546.8 218.5,557L218.5,557Q179,546.8 140.6,560.6Z"/><path d="M141.1,561.9L141.1,561.8Q179,546.8 218.5,557L218.5,557.1Q179,546.8 141.1,561.9Z"/><path d="M141.6,563L141.5,563Q179,546.8 218.5,557.1L218.5,557.1Q179,546.8 141.6,563Z"/></g>
<g fill="#b2df8a" fill-opacity="0.07"><path d="M142.1,564.2L142.1,564.1Q179,546.8 218.5,557.1L218.5,557.1Q179,546.8 142.1,564.2Z"/><path d="M142.6,565.2L142.6,565.2Q179,546.8 218.5,557.1L218.5,557.1Q179,546.8 142.6,565.2Z"/><path d="M143.1,566.2L143.1,566.2Q179,546.8 218.5,557.1L218.5,557.1Q179,546.8 143.1,566.2Z"/><path d="M143.7,567.2L143.7,567.2Q179,546.8 218.5,557.1L218.5,557.1Q179,546.8 143.7,567.2Z"/><path d="M144.2,568.2L144.2,568.1Q179,546.8 218.5,557.1L218.5,557.2Q179,546.8 144.2,568.2Z"/><path d="M144.9,569.1L144.8,569.1Q179,546.8 218.5,557.2L218.5,557.2Q179,546.8 144.9,569.1Z"/><path d="M145.5,570.1L145.5,570.1Q179,546.8 218.5,557.2L218.5,557.2Q179,546.8 145.5,570.1Z"/><path d="M146.2,571L146.2,571Q179,546.8 218.5,557.2L218.5,557.2Q179,546.8 146.2,571Z"/><path d="M146.9,572L146.9,571.9Q179,546.8 218.5,557.2L218.5,557.2Q179,546.8 146.9,572Z"/><path d="M147.5,572.8L147.5,572.7Q179,546.8 218.5,557.2L218.4,557.2Q179,546.8 147.5,572.8Z"/><path d="M148.3,573.7L148.3,573.7Q179,546.8 218.4,557.2L218.4,557.2Q179,546.8 148.3,573.7Z"/><path d="M149.1,574.6L149.1,574.5Q179,546.8 218.4,557.2L218.4,557.2Q179,546.8 149.1,574.6Z"/><path d="M149.9,575.4L149.9,575.3Q179,546.8 218.4,557.2L218.4,557.3Q179,546.8 149.9,575.4Z"/><path d="M150.6,576.1L150.6,576.1Q179,546.8 218.4,557.3L218.4,557.3Q179,546.8 150.6,576.1Z"/><path d="M151.5,576.9L151.5,576.9Q179,546.8 218.4,557.3L218.4,557.3Q179,546.8 151.5,576.9Z"/><path d="M152.4,577.7L152.3,577.7Q179,546.8 218.4,557.3L218.4,557.3Q179,546.8 152.4,577.7Z"/><path d="M153.2,578.4L153.2,578.4Q179,546.8 218.4,557.3L218.4,557.3Q179,546.8 153.2,578.4Z"/><path d="M154.1,579.1L154.1,579.1Q179,546.8 218.4,557.3L218.4,557.3Q179,546.8 154.1,579.1Z"/><path d="M155,579.8L155,579.8Q179,546.8 218.4,557.3L218.4,557.3Q179,546.8 155,579.8Z"/><path d="M155.9,580.4L155.9,580.4Q179,546.8 218.4,557.3L218.4,557.3Q179,546.8 155.9,580.4Z"/><path d="M156.9,581.1L156.8,581.1Q179,546.8 218.4,557.3L218.4,557.3Q179,546.8 156.9,581.1Z"/><path d="M157.9,581.7L157.8,581.7Q179,546.8 218.4,557.3L218.4,557.3Q179,546.8 157.9,581.7Z"/><path d="M158.8,582.3L158.8,582.3Q179,546.8 218.4,557.3L218.4,557.3Q179,546.8 158.8,582.3Z"/><path d="M159.9,582.8L159.8,582.8Q179,546.8 218.4,557.3L218.4,557.3Q179,546.8 159.9,582.8Z"/><path d="M160.9,583.4L160.8,583.3Q179,546.8 218.4,557.3L218.4,557.4Q179,546.8 160.9,583.4Z"/></g>
<path fill="#f7c6d0" d="M160.3,586.6L159.5,586.3L160.6,584.1L161.3,584.4ZM159.2,586.1L158.4,585.7L159.6,583.6L160.2,583.9ZM136.3,557.4L136.1,556.5L138.4,556L138.6,556.8ZM135.1,549.3L135,548.3L137.4,548.3L137.5,549.1ZM137.7,531.6L138,530.7L140.3,531.6L140,532.4Z"/><path fill="#fb9a99" d="M158.1,585.5L157.4,585.1L158.5,583L159.2,583.4ZM145.7,575.5L145.2,574.9L147,573.4L147.5,574ZM143.4,572.7L142.9,572L144.9,570.6L145.3,571.3ZM163.5,505.6L164.7,505.2L165.5,507.5L164.3,507.9ZM181.4,502.9L182.7,503L182.5,505.3L181.2,505.3Z"/><path fill="#fdbf6f" d="M157,584.9L156.3,584.5L157.5,582.4L158.2,582.8ZM142.7,571.7L142.2,571L144.2,569.7L144.7,570.3ZM140.2,567.5L139.8,566.7L141.9,565.7L142.3,566.3ZM136.1,536.9L136.4,536L138.7,536.6L138.5,537.4ZM136.5,535.5L136.7,534.6L139,535.3L138.8,536.1ZM137.3,532.9L137.6,532L139.8,532.8L139.5,533.7ZM156.3,509.1L157.5,508.4L158.6,510.5L157.6,511.2Z"/><path fill="#a6cee3" d="M155.9,584.3L155.2,583.8L156.5,581.8L157.2,582.2ZM151.9,581.5L151.3,581L152.8,579.1L153.4,579.6ZM144.2,573.7L143.7,573L145.6,571.6L146.1,572.2ZM140.7,568.5L140.4,567.8L142.5,566.7L142.8,567.4ZM135.2,550.6L135.1,549.7L137.5,549.6L137.6,550.4ZM138.2,530.3L138.6,529.4L140.8,530.4L140.4,531.2ZM141,524.6L141.7,523.4L143.8,524.7L143.1,525.8ZM148.4,515.2L149.4,514.3L151,516L150.1,516.9ZM149.9,513.8L150.9,513L152.4,514.8L151.4,515.6ZM161.6,506.4L162.8,505.9L163.7,508.1L162.6,508.6ZM189.3,504L190.6,504.4L190,506.7L188.8,506.4ZM221.3,558.9A44,44 0 0 1 212.2,575.7L210.4,574.1A41.6,41.6 0 0 0 219,558.3Z"/><path fill="#9bb8e0" d="M154.9,583.6L154.2,583.2L155.6,581.2L156.2,581.6ZM149.1,579.1L148.5,578.5L150.2,576.8L150.7,577.3ZM135.5,553.4L135.4,552.5L137.7,552.2L137.9,553ZM135.2,542.3L135.3,541.4L137.7,541.7L137.6,542.6ZM135.4,541L135.5,540.1L137.9,540.4L137.8,541.3Z"/><path fill="#a6dba0" d="M153.9,582.9L153.2,582.5L154.6,580.5L155.3,581ZM148.2,578.3L147.7,577.7L149.4,576L149.9,576.5ZM144.9,574.6L144.4,574L146.3,572.5L146.8,573.1ZM139,565.2L138.7,564.4L140.9,563.4L141.2,564.2ZM135.1,543.7L135.2,542.8L137.6,543L137.5,543.9ZM140.6,525.3L141.1,524.5L143.1,525.7L142.7,526.5Z"/><path fill="#b2df8a" d="M152.9,582.2L152.2,581.7L153.7,579.8L154.3,580.3ZM136.7,558.8L136.4,557.9L138.7,557.3L139,558.1ZM135.7,554.7L135.6,553.8L137.9,553.4L138.1,554.3ZM135.6,539.6L135.8,538.7L138.1,539.1L138,540ZM139.9,526.6L140.4,525.8L142.5,526.9L142.1,527.7ZM183.4,503L184.7,503.2L184.4,505.5L183.1,505.4ZM222.9,544.5A44,44 0 0 1 221.5,558.2L219.2,557.6A41.6,41.6 0 0 0 220.5,544.6Z"/><path fill="#f5f08a" d="M151,580.7L150.3,580.2L151.9,578.4L152.5,578.9ZM150,579.9L149.4,579.4L151,577.6L151.6,578.1ZM146.5,576.5L146,575.9L147.8,574.3L148.3,574.9ZM139.3,527.7L139.7,526.9L141.9,528L141.5,528.8Z"/><path fill="#cab2d6" d="M147.4,577.4L146.8,576.8L148.6,575.2L149.1,575.7ZM139.6,566.4L139.2,565.6L141.4,564.6L141.7,565.3ZM137.5,561.4L137.2,560.6L139.5,559.8L139.8,560.6ZM135,545.1L135.1,544.2L137.5,544.3L137.4,545.2ZM136.8,534.2L137.1,533.4L139.4,534.1L139.1,534.9ZM159.8,507.2L161,506.7L162,508.8L160.8,509.4ZM185.4,503.3L186.7,503.5L186.3,505.8L185,505.6ZM205.1,511.4A44,44 0 0 1 206.9,512.8L205.4,514.7A41.6,41.6 0 0 0 203.7,513.3ZM217.8,526.1A44,44 0 0 1 219.8,530.3L217.6,531.2A41.6,41.6 0 0 0 215.7,527.3Z"/><path fill="#f4a582" d="M142,570.6L141.6,569.9L143.6,568.7L144,569.3ZM136,556.1L135.8,555.2L138.2,554.7L138.3,555.6ZM135,546.5L135,545.6L137.4,545.7L137.4,546.5Z"/><path fill="#c2a5cf" d="M141.4,569.6L141,568.9L143,567.7L143.4,568.4ZM138,562.7L137.6,561.8L139.9,561L140.2,561.8ZM137.1,560.1L136.8,559.2L139.1,558.6L139.4,559.4ZM135.3,552L135.2,551.1L137.6,550.9L137.7,551.7Z"/><path fill="#fcd9a0" d="M138.5,564L138.2,563.2L140.4,562.3L140.7,563.1ZM135,547.9L135,547L137.4,547L137.4,547.8ZM135.8,538.2L136,537.3L138.4,537.8L138.2,538.7ZM138.8,529L139.1,528.2L141.3,529.2L141,530Z"/><path fill="#6a3d9a" d="M142.1,522.9L142.8,521.8L144.8,523.2L144.1,524.2ZM143.2,521.3L143.9,520.2L145.9,521.7L145.1,522.7ZM145.6,518.1L146.5,517.1L148.3,518.8L147.4,519.7ZM151.4,512.5L152.5,511.7L153.9,513.6L152.9,514.4ZM153,511.3L154,510.6L155.4,512.5L154.4,513.3ZM167.5,504.3L168.8,504L169.4,506.3L168.1,506.6ZM169.5,503.8L170.8,503.6L171.2,505.9L170,506.2ZM173.4,503.2L174.7,503L175,505.4L173.7,505.5ZM175.4,503L176.7,502.9L176.8,505.3L175.6,505.3ZM191.2,504.5L192.4,504.9L191.7,507.2L190.5,506.8Z"/><path fill="#1f78b4" d="M144.4,519.7L145.2,518.6L147,520.2L146.3,521.1ZM187.3,503.6L188.6,503.9L188.1,506.2L186.9,506ZM199.5,507.9A44,44 0 0 1 201.5,509L200.3,511.1A41.6,41.6 0 0 0 198.4,510ZM188.9,589.7A44,44 0 0 1 161.1,587L162.1,584.8A41.6,41.6 0 0 0 188.4,587.3Z"/><path fill="#ff7f00" d="M147,516.6L147.9,515.7L149.6,517.4L148.7,518.3ZM158.1,508.1L159.2,507.5L160.3,509.6L159.2,510.2ZM165.7,504.9L166.9,504.5L167.6,506.8L166.4,507.2ZM171.5,503.4L172.8,503.2L173.1,505.6L171.9,505.8ZM196.5,506.4A44,44 0 0 1 198.6,507.4L197.6,509.6A41.6,41.6 0 0 0 195.6,508.7Z"/><path fill="#e31a1c" d="M154.6,510.2L155.7,509.5L157,511.5L156,512.2ZM177.4,502.8L178.7,502.8L178.7,505.2L177.5,505.2ZM179.4,502.8L180.7,502.8L180.6,505.2L179.3,505.2Z"/><path fill="#ffff99" d="M193.1,505.1L194.3,505.6L193.5,507.8L192.3,507.4ZM202.4,509.5A44,44 0 0 1 204.3,510.8L202.9,512.8A41.6,41.6 0 0 0 201.1,511.6ZM213.2,519.1A44,44 0 0 1 217.5,525.5L215.4,526.6A41.6,41.6 0 0 0 211.3,520.6Z"/><path fill="#33a02c" d="M211.7,576.2A44,44 0 0 1 190.4,589.3L189.8,587A41.6,41.6 0 0 0 209.9,574.6Z"/>
<line x1="174.54" y1="593.09" x2="174.16" y2="597.07" stroke="#777" stroke-width="0.7"/>
<line x1="219.86" y1="568.99" x2="223.38" y2="570.90" stroke="#777" stroke-width="0.7"/>
<line x1="203.30" y1="586.45" x2="205.39" y2="589.86" stroke="#777" stroke-width="0.7"/>
<line x1="225.25" y1="551.66" x2="229.22" y2="552.08" stroke="#777" stroke-width="0.7"/>
<line x1="221.14" y1="527.15" x2="224.77" y2="525.46" stroke="#777" stroke-width="0.7"/>
<line x1="217.55" y1="520.80" x2="220.87" y2="518.56" stroke="#777" stroke-width="0.7"/>
<path d="M263.1,584.7L259.4,590.3M262.5,584.2L257.9,590.7M261.8,583.8L257.4,589.8M261.1,583.3L256.2,589.8M260.5,582.8L256.1,588.3M259.8,582.2L254.4,588.9M259.2,581.7L253.9,588M258.6,581.2L253.7,586.8M258,580.6L253.2,585.8M257.4,580.1L251.3,586.5M256.8,579.5L251.4,584.9M256.2,578.9L250.2,584.8M255.6,578.3L250.3,583.4M255,577.7L249.4,582.8M254.5,577.1L248.5,582.3M254,576.5L247.6,581.8M253.4,575.8L246.8,581.2M252.9,575.2L246.3,580.4M252.4,574.5L246.1,579.3M251.9,573.9L244.9,579M251.4,573.2L244.8,577.9M251,572.5L244.1,577.2M250.5,571.8L243.7,576.3M250.1,571.1L243.5,575.2M249.6,570.4L243.2,574.3M249.2,569.7L241.9,573.9M248.8,569L242.3,572.6M248.4,568.3L241.8,571.8M248.1,567.5L240.6,571.3M247.7,566.8L241.2,569.9M247.4,566.1L239.8,569.5M247,565.3L240.9,567.9M246.7,564.5L239,567.7M246.4,563.8L239.3,566.6M246.1,563L238.4,565.8M245.8,562.2L237.9,565M245.6,561.5L238.9,563.6M245.3,560.7L239,562.6M245.1,559.9L237.1,562.2M244.8,559.1L236.4,561.3M244.6,558.3L237,560.2M244.4,557.5L236.7,559.3M244.3,556.7L235.8,558.5M244.1,555.9L236.1,557.4M244,555.1L235.5,556.5M243.8,554.2L235.9,555.5M243.7,553.4L235.2,554.6M243.6,552.6L236.8,553.4M243.5,551.8L236.2,552.5M243.4,551L234.7,551.7M243.4,550.1L236.8,550.6M243.3,549.3L235.9,549.6M243.3,548.5L236.5,548.7M243.3,547.7L236.6,547.7M243.3,546.9L236,546.8M243.3,546L236.7,545.8M243.4,545.2L234.9,544.8M243.4,544.4L236.7,543.9M243.5,543.6L234.8,542.8M243.5,542.7L236.8,542M243.6,541.9L235.4,540.9M243.7,541.1L235.5,539.9M243.9,540.3L235.2,538.9M244,539.5L235.9,538M244.2,538.7L236.6,537.2M244.3,537.9L236.6,536.2M244.5,537L236.9,535.2M244.7,536.2L238.3,534.6M244.9,535.4L237.5,533.4M245.1,534.7L238.8,532.8M245.4,533.9L237.8,531.5M245.6,533.1L238.2,530.6M245.9,532.3L237.7,529.4M246.2,531.5L239.9,529.1M246.5,530.8L239.5,528M246.8,530L239.9,527.1M247.1,529.2L239.3,525.8M247.5,528.5L241.3,525.6M247.8,527.7L241.5,524.7M248.2,527L241.6,523.7M248.6,526.3L242.5,523.1M249,525.5L242.9,522.2" stroke="#636363" stroke-width="0.6" stroke-dasharray="1.3 0.35 0.7 0.3 1.0 0.4" fill="none"/>
<path d="M248.5,524.4L241.9,520.6M249.4,522.8L243.2,518.9M250.4,521.3L244,516.8M251.5,519.8L244.8,514.7M252.7,518.3L246.3,513.1M253.8,516.9L247.4,511.2M255.1,515.6L249.4,510.1M256.4,514.3L251.6,509.2M257.8,513L252.5,507.1M259.2,511.8L254.5,506.1M260.6,510.7L256.4,505.1M262.1,509.6L257.7,503.2M263.7,508.6L259.8,502.5M265.2,507.6L261.8,501.7M266.8,506.7L263.6,500.6M268.5,505.9L265.1,498.7M270.2,505.1L267.1,497.9M271.9,504.4L269.2,497.5M273.6,503.8L271,496M275.4,503.2L273.1,495.5M277.2,502.8L275.2,494.7M279,502.4L277.5,495M280.8,502L279.6,494.7M282.6,501.8L281.6,494M284.5,501.6L283.8,493.4M286.3,501.4L285.9,493.5M288.1,501.4L288.1,494.6M290,501.4L290.3,494M291.8,501.5L292.5,493M293.7,501.7L294.7,493.2M295.5,502L296.6,495.3M297.3,502.3L298.8,494.7M299.1,502.7L301.1,494.6M300.9,503.2L303,495.8M302.7,503.7L305,496.5M304,504.2L306.3,497.9M306.9,505.3L309.8,498.8M309.8,506.7L313.6,499.4M312.5,508.3L316.2,502.1M315.1,510L319.2,504.3M317.6,511.9L322.6,505.8M319.9,514L325,508.6M322.1,516.2L326.8,511.8M324.1,518.6L329.6,514.2M326,521.1L331.5,517.2M327.7,523.7L333.6,520.2M329.2,526.4L335.5,523.3M330.6,529.3L338,526.1" stroke="#444" stroke-width="0.6" stroke-dasharray="1.1 0.25" fill="none"/>
<g fill="#1f78b4" fill-opacity="0.6"><path d="M324.3,528.2A40.8,40.8 0 0 1 325.3,530.2Q288.3,547.4 298.2,587L297.4,587.2Q288.3,547.4 324.3,528.2Z"/><path d="M322.1,524.6L323,525.9Q288.3,547.4 297.4,587.2L296.8,587.3Q288.3,547.4 322.1,524.6Z"/><path d="M319.6,521.2L320.6,522.4Q288.3,547.4 296.8,587.3L296.1,587.4Q288.3,547.4 319.6,521.2Z"/><path d="M312.5,514.6L313.5,515.3Q288.3,547.4 296.1,587.4L295.2,587.6Q288.3,547.4 312.5,514.6Z"/><path d="M310,512.8L311.1,513.5Q288.3,547.4 295.2,587.6L294.2,587.8Q288.3,547.4 310,512.8Z"/><path d="M307.3,511.3L308.5,511.9Q288.3,547.4 294.2,587.8L293.2,587.9Q288.3,547.4 307.3,511.3Z"/><path d="M304.6,510L305.7,510.5Q288.3,547.4 293.2,587.9L292.2,588Q288.3,547.4 304.6,510Z"/></g>
<g fill="#1f78b4" fill-opacity="0.48"><path d="M301.2,508.7L301.5,508.8Q288.3,547.4 292.2,588L292,588Q288.3,547.4 301.2,508.7Z"/><path d="M299.4,508.1L299.9,508.3Q288.3,547.4 292,588L291.7,588.1Q288.3,547.4 299.4,508.1Z"/><path d="M297.6,507.7L298.1,507.8Q288.3,547.4 291.7,588.1L291.4,588.1Q288.3,547.4 297.6,507.7Z"/><path d="M295.8,507.3L296.4,507.4Q288.3,547.4 291.4,588.1L291.1,588.1Q288.3,547.4 295.8,507.3Z"/><path d="M294,507L294.6,507.1Q288.3,547.4 291.1,588.1L290.7,588.1Q288.3,547.4 294,507Z"/><path d="M292.1,506.8L292.6,506.8Q288.3,547.4 290.7,588.1L290.5,588.1Q288.3,547.4 292.1,506.8Z"/><path d="M290.3,506.6L290.7,506.7Q288.3,547.4 290.5,588.1L290.2,588.2Q288.3,547.4 290.3,506.6Z"/><path d="M288.4,506.6L289,506.6Q288.3,547.4 290.2,588.2L289.9,588.2Q288.3,547.4 288.4,506.6Z"/><path d="M286.6,506.6L287.2,506.6Q288.3,547.4 289.9,588.2L289.5,588.2Q288.3,547.4 286.6,506.6Z"/><path d="M284.7,506.8L285.3,506.7Q288.3,547.4 289.5,588.2L289.2,588.2Q288.3,547.4 284.7,506.8Z"/><path d="M282.9,507L283.6,506.9Q288.3,547.4 289.2,588.2L288.7,588.2Q288.3,547.4 282.9,507Z"/><path d="M281.1,507.2L281.6,507.2Q288.3,547.4 288.7,588.2L288.4,588.2Q288.3,547.4 281.1,507.2Z"/><path d="M279.3,507.6L279.6,507.5Q288.3,547.4 288.4,588.2L288.2,588.2Q288.3,547.4 279.3,507.6Z"/><path d="M277.5,508.1L278,507.9Q288.3,547.4 288.2,588.2L287.9,588.2Q288.3,547.4 277.5,508.1Z"/><path d="M275.7,508.6L276.3,508.4Q288.3,547.4 287.9,588.2L287.5,588.2Q288.3,547.4 275.7,508.6Z"/><path d="M273.7,509.3L274.7,508.9Q288.3,547.4 287.5,588.2L286.9,588.2Q288.3,547.4 273.7,509.3Z"/><path d="M272,510L273,509.6Q288.3,547.4 286.9,588.2L286.2,588.1Q288.3,547.4 272,510Z"/><path d="M270.3,510.8L271.2,510.4Q288.3,547.4 286.2,588.1L285.7,588.1Q288.3,547.4 270.3,510.8Z"/><path d="M268.6,511.6L269.6,511.1Q288.3,547.4 285.7,588.1L285,588.1Q288.3,547.4 268.6,511.6Z"/><path d="M267,512.6L267.6,512.2Q288.3,547.4 285,588.1L284.6,588Q288.3,547.4 267,512.6Z"/><path d="M265.5,513.6L266.4,513Q288.3,547.4 284.6,588L284,588Q288.3,547.4 265.5,513.6Z"/><path d="M264,514.6L264.9,514Q288.3,547.4 284,588L283.3,587.9Q288.3,547.4 264,514.6Z"/><path d="M262.5,515.8L263.1,515.3Q288.3,547.4 283.3,587.9L282.9,587.8Q288.3,547.4 262.5,515.8Z"/><path d="M261.1,517L261.9,516.3Q288.3,547.4 282.9,587.8L282.3,587.8Q288.3,547.4 261.1,517Z"/><path d="M259.8,518.2L260.3,517.7Q288.3,547.4 282.3,587.8L281.9,587.7Q288.3,547.4 259.8,518.2Z"/><path d="M258.5,519.6L259.1,518.9Q288.3,547.4 281.9,587.7L281.3,587.6Q288.3,547.4 258.5,519.6Z"/><path d="M257.2,521L257.9,520.2Q288.3,547.4 281.3,587.6L280.8,587.5Q288.3,547.4 257.2,521Z"/><path d="M256.1,522.4L256.7,521.6Q288.3,547.4 280.8,587.5L280.2,587.4Q288.3,547.4 256.1,522.4Z"/><path d="M255,523.9L255.5,523.1Q288.3,547.4 280.2,587.4L279.7,587.3Q288.3,547.4 255,523.9Z"/><path d="M253.9,525.4L254.6,524.4Q288.3,547.4 279.7,587.3L279,587.1Q288.3,547.4 253.9,525.4Z"/><path d="M253,527L253.3,526.5Q288.3,547.4 279,587.1L278.7,587Q288.3,547.4 253,527Z"/></g>
<g fill="#1f78b4" fill-opacity="0.27"><path d="M252.6,527.6L252.9,527Q288.3,547.4 278.7,587L278.5,587Q288.3,547.4 252.6,527.6Z"/><path d="M252,528.8L252.3,528.1Q288.3,547.4 278.5,587L278.4,587Q288.3,547.4 252,528.8Z"/><path d="M251.4,529.9L251.7,529.3Q288.3,547.4 278.4,587L278.2,586.9Q288.3,547.4 251.4,529.9Z"/><path d="M250.9,531.1L251.2,530.3Q288.3,547.4 278.2,586.9L278,586.9Q288.3,547.4 250.9,531.1Z"/><path d="M250.4,532.2L250.7,531.7Q288.3,547.4 278,586.9L277.9,586.8Q288.3,547.4 250.4,532.2Z"/><path d="M250,533.4L250.2,532.8Q288.3,547.4 277.9,586.8L277.7,586.8Q288.3,547.4 250,533.4Z"/><path d="M249.5,534.7L249.8,534Q288.3,547.4 277.7,586.8L277.6,586.8Q288.3,547.4 249.5,534.7Z"/><path d="M249.2,535.9L249.4,535.1Q288.3,547.4 277.6,586.8L277.4,586.7Q288.3,547.4 249.2,535.9Z"/><path d="M248.8,537.1L249,536.4Q288.3,547.4 277.4,586.7L277.2,586.7Q288.3,547.4 248.8,537.1Z"/><path d="M248.5,538.4L248.7,537.7Q288.3,547.4 277.2,586.7L277.1,586.6Q288.3,547.4 248.5,538.4Z"/><path d="M248.2,539.6L248.4,539Q288.3,547.4 277.1,586.6L276.9,586.6Q288.3,547.4 248.2,539.6Z"/><path d="M248,540.9L248.1,540.2Q288.3,547.4 276.9,586.6L276.8,586.5Q288.3,547.4 248,540.9Z"/><path d="M247.8,542.1L247.9,541.4Q288.3,547.4 276.8,586.5L276.6,586.5Q288.3,547.4 247.8,542.1Z"/><path d="M247.7,543.4L247.8,542.7Q288.3,547.4 276.6,586.5L276.5,586.4Q288.3,547.4 247.7,543.4Z"/><path d="M247.6,544.7L247.6,544Q288.3,547.4 276.5,586.4L276.3,586.4Q288.3,547.4 247.6,544.7Z"/><path d="M247.5,546L247.6,545.2Q288.3,547.4 276.3,586.4L276.1,586.3Q288.3,547.4 247.5,546Z"/><path d="M247.5,547.3L247.5,546.5Q288.3,547.4 276.1,586.3L276,586.3Q288.3,547.4 247.5,547.3Z"/><path d="M247.5,548.5L247.5,547.7Q288.3,547.4 276,586.3L275.8,586.2Q288.3,547.4 247.5,548.5Z"/><path d="M247.6,549.8L247.5,549.2Q288.3,547.4 275.8,586.2L275.6,586.2Q288.3,547.4 247.6,549.8Z"/><path d="M247.7,551.1L247.6,550.4Q288.3,547.4 275.6,586.2L275.5,586.1Q288.3,547.4 247.7,551.1Z"/><path d="M247.8,552.4L247.7,551.6Q288.3,547.4 275.5,586.1L275.3,586.1Q288.3,547.4 247.8,552.4Z"/><path d="M248,553.6L247.9,552.9Q288.3,547.4 275.3,586.1L275.1,586Q288.3,547.4 248,553.6Z"/><path d="M248.2,554.9L248.1,554.2Q288.3,547.4 275.1,586L275,586Q288.3,547.4 248.2,554.9Z"/><path d="M248.5,556.2L248.3,555.5Q288.3,547.4 275,586L274.8,585.9Q288.3,547.4 248.5,556.2Z"/><path d="M248.7,557.4L248.6,556.9Q288.3,547.4 274.8,585.9L274.7,585.9Q288.3,547.4 248.7,557.4Z"/><path d="M249.1,558.6L248.9,557.9Q288.3,547.4 274.7,585.9L274.5,585.8Q288.3,547.4 249.1,558.6Z"/><path d="M249.5,559.9L249.3,559.2Q288.3,547.4 274.5,585.8L274.4,585.8Q288.3,547.4 249.5,559.9Z"/><path d="M249.9,561.1L249.7,560.6Q288.3,547.4 274.4,585.8L274.3,585.7Q288.3,547.4 249.9,561.1Z"/><path d="M250.3,562.3L250,561.6Q288.3,547.4 274.3,585.7L274.1,585.6Q288.3,547.4 250.3,562.3Z"/><path d="M250.8,563.5L250.6,563Q288.3,547.4 274.1,585.6L274,585.6Q288.3,547.4 250.8,563.5Z"/><path d="M251.3,564.6L251,563.9Q288.3,547.4 274,585.6L273.8,585.5Q288.3,547.4 251.3,564.6Z"/></g>
<g fill="#1f78b4" fill-opacity="0.07"><path d="M251.8,565.7L251.5,565Q288.3,547.4 273.8,585.5L273.7,585.5Q288.3,547.4 251.8,565.7Z"/><path d="M252.3,566.7L252,566.1Q288.3,547.4 273.7,585.5L273.7,585.5Q288.3,547.4 252.3,566.7Z"/><path d="M252.9,567.7L252.6,567.2Q288.3,547.4 273.7,585.5L273.6,585.5Q288.3,547.4 252.9,567.7Z"/><path d="M253.5,568.7L253.2,568.1Q288.3,547.4 273.6,585.5L273.6,585.5Q288.3,547.4 253.5,568.7Z"/><path d="M254.1,569.6L253.7,569Q288.3,547.4 273.6,585.5L273.5,585.4Q288.3,547.4 254.1,569.6Z"/><path d="M254.7,570.6L254.4,570.1Q288.3,547.4 273.5,585.4L273.5,585.4Q288.3,547.4 254.7,570.6Z"/><path d="M255.4,571.5L255,571Q288.3,547.4 273.5,585.4L273.4,585.4Q288.3,547.4 255.4,571.5Z"/><path d="M256.1,572.4L255.7,572Q288.3,547.4 273.4,585.4L273.4,585.4Q288.3,547.4 256.1,572.4Z"/><path d="M256.8,573.3L256.3,572.7Q288.3,547.4 273.4,585.4L273.3,585.3Q288.3,547.4 256.8,573.3Z"/><path d="M257.5,574.2L257,573.6Q288.3,547.4 273.3,585.3L273.2,585.3Q288.3,547.4 257.5,574.2Z"/><path d="M258.3,575L257.8,574.6Q288.3,547.4 273.2,585.3L273.2,585.3Q288.3,547.4 258.3,575Z"/><path d="M259.1,575.8L258.6,575.4Q288.3,547.4 273.2,585.3L273.1,585.3Q288.3,547.4 259.1,575.8Z"/><path d="M259.9,576.6L259.5,576.3Q288.3,547.4 273.1,585.3L273.1,585.2Q288.3,547.4 259.9,576.6Z"/><path d="M260.7,577.4L260.2,577Q288.3,547.4 273.1,585.2L273,585.2Q288.3,547.4 260.7,577.4Z"/><path d="M261.5,578.2L261.1,577.9Q288.3,547.4 273,585.2L273,585.2Q288.3,547.4 261.5,578.2Z"/><path d="M262.4,578.9L261.9,578.5Q288.3,547.4 273,585.2L272.9,585.2Q288.3,547.4 262.4,578.9Z"/><path d="M263.3,579.6L262.8,579.3Q288.3,547.4 272.9,585.2L272.8,585.2Q288.3,547.4 263.3,579.6Z"/><path d="M264.2,580.3L263.6,579.9Q288.3,547.4 272.8,585.2L272.8,585.1Q288.3,547.4 264.2,580.3Z"/><path d="M265.1,581L264.6,580.6Q288.3,547.4 272.8,585.1L272.7,585.1Q288.3,547.4 265.1,581Z"/><path d="M266.1,581.6L265.5,581.2Q288.3,547.4 272.7,585.1L272.7,585.1Q288.3,547.4 266.1,581.6Z"/><path d="M267,582.2L266.4,581.9Q288.3,547.4 272.7,585.1L272.6,585.1Q288.3,547.4 267,582.2Z"/><path d="M268,582.8L267.6,582.6Q288.3,547.4 272.6,585.1L272.5,585Q288.3,547.4 268,582.8Z"/><path d="M269,583.4L268.5,583.1Q288.3,547.4 272.5,585L272.5,585Q288.3,547.4 269,583.4Z"/><path d="M270,583.9L269.3,583.5Q288.3,547.4 272.5,585L272.4,585Q288.3,547.4 270,583.9Z"/><path d="M271.1,584.4L270.4,584.1Q288.3,547.4 272.4,585L272.4,585Q288.3,547.4 271.1,584.4Z"/></g>
<g fill="#a6cee3" fill-opacity="0.5"><path d="M323,525.9L323.8,527.3Q288.3,547.4 318.6,574.7L317.7,575.7Q288.3,547.4 323,525.9Z"/><path d="M313.5,515.3L313.9,515.6Q288.3,547.4 317.7,575.7L317.3,576.1Q288.3,547.4 313.5,515.3Z"/><path d="M311.1,513.5L311.4,513.8Q288.3,547.4 317.3,576.1L316.8,576.6Q288.3,547.4 311.1,513.5Z"/><path d="M308.5,511.9L308.8,512.1Q288.3,547.4 316.8,576.6L316.3,577.1Q288.3,547.4 308.5,511.9Z"/><path d="M305.7,510.5L306.1,510.7Q288.3,547.4 316.3,577.1L315.8,577.6Q288.3,547.4 305.7,510.5Z"/></g>
<g fill="#a6cee3" fill-opacity="0.4"><path d="M301.5,508.8L301.8,508.9Q288.3,547.4 315.8,577.6L315.4,577.9Q288.3,547.4 301.5,508.8Z"/><path d="M299.9,508.3L300,508.3Q288.3,547.4 315.4,577.9L315.3,578Q288.3,547.4 299.9,508.3Z"/><path d="M298.1,507.8L298.3,507.8Q288.3,547.4 315.3,578L315.1,578.2Q288.3,547.4 298.1,507.8Z"/><path d="M296.4,507.4L296.6,507.5Q288.3,547.4 315.1,578.2L314.9,578.3Q288.3,547.4 296.4,507.4Z"/><path d="M294.6,507.1L294.8,507.1Q288.3,547.4 314.9,578.3L314.7,578.5Q288.3,547.4 294.6,507.1Z"/><path d="M292.6,506.8L292.8,506.8Q288.3,547.4 314.7,578.5L314.5,578.7Q288.3,547.4 292.6,506.8Z"/><path d="M290.7,506.7L291.1,506.7Q288.3,547.4 314.5,578.7L314.2,578.9Q288.3,547.4 290.7,506.7Z"/><path d="M289,506.6L289.3,506.6Q288.3,547.4 314.2,578.9L313.9,579.1Q288.3,547.4 289,506.6Z"/><path d="M287.2,506.6L287.5,506.6Q288.3,547.4 313.9,579.1L313.7,579.3Q288.3,547.4 287.2,506.6Z"/><path d="M285.3,506.7L285.5,506.7Q288.3,547.4 313.7,579.3L313.5,579.5Q288.3,547.4 285.3,506.7Z"/><path d="M283.6,506.9L283.7,506.9Q288.3,547.4 313.5,579.5L313.4,579.6Q288.3,547.4 283.6,506.9Z"/><path d="M281.6,507.2L281.9,507.1Q288.3,547.4 313.4,579.6L313.1,579.8Q288.3,547.4 281.6,507.2Z"/><path d="M279.6,507.5L279.9,507.5Q288.3,547.4 313.1,579.8L312.8,580Q288.3,547.4 279.6,507.5Z"/><path d="M278,507.9L278.2,507.9Q288.3,547.4 312.8,580L312.6,580.2Q288.3,547.4 278,507.9Z"/><path d="M276.3,508.4L276.5,508.3Q288.3,547.4 312.6,580.2L312.4,580.3Q288.3,547.4 276.3,508.4Z"/><path d="M274.7,508.9L275,508.8Q288.3,547.4 312.4,580.3L312,580.6Q288.3,547.4 274.7,508.9Z"/><path d="M273,509.6L273.2,509.5Q288.3,547.4 312,580.6L311.8,580.8Q288.3,547.4 273,509.6Z"/><path d="M271.2,510.4L271.6,510.2Q288.3,547.4 311.8,580.8L311.3,581.1Q288.3,547.4 271.2,510.4Z"/><path d="M269.6,511.1L270,510.9Q288.3,547.4 311.3,581.1L310.9,581.4Q288.3,547.4 269.6,511.1Z"/><path d="M267.6,512.2L268.4,511.8Q288.3,547.4 310.9,581.4L310.1,581.9Q288.3,547.4 267.6,512.2Z"/><path d="M266.4,513L266.6,512.8Q288.3,547.4 310.1,581.9L309.8,582.1Q288.3,547.4 266.4,513Z"/><path d="M264.9,514L265.2,513.8Q288.3,547.4 309.8,582.1L309.5,582.3Q288.3,547.4 264.9,514Z"/><path d="M263.1,515.3L263.5,515Q288.3,547.4 309.5,582.3L308.9,582.6Q288.3,547.4 263.1,515.3Z"/><path d="M261.9,516.3L262.2,516.1Q288.3,547.4 308.9,582.6L308.5,582.8Q288.3,547.4 261.9,516.3Z"/><path d="M260.3,517.7L260.8,517.2Q288.3,547.4 308.5,582.8L307.8,583.2Q288.3,547.4 260.3,517.7Z"/><path d="M259.1,518.9L259.4,518.6Q288.3,547.4 307.8,583.2L307.2,583.5Q288.3,547.4 259.1,518.9Z"/><path d="M257.9,520.2L258.2,519.8Q288.3,547.4 307.2,583.5L306.8,583.8Q288.3,547.4 257.9,520.2Z"/><path d="M256.7,521.6L256.9,521.3Q288.3,547.4 306.8,583.8L306.3,584Q288.3,547.4 256.7,521.6Z"/><path d="M255.5,523.1L255.8,522.8Q288.3,547.4 306.3,584L305.8,584.3Q288.3,547.4 255.5,523.1Z"/><path d="M254.6,524.4L254.7,524.2Q288.3,547.4 305.8,584.3L305.5,584.4Q288.3,547.4 254.6,524.4Z"/><path d="M253.3,526.5L253.6,526Q288.3,547.4 305.5,584.4L304.9,584.7Q288.3,547.4 253.3,526.5Z"/></g>
<g fill="#a6cee3" fill-opacity="0.23"><path d="M252.9,527L253.1,526.8Q288.3,547.4 304.9,584.7L304.8,584.7Q288.3,547.4 252.9,527Z"/><path d="M252.3,528.1L252.5,527.8Q288.3,547.4 304.8,584.7L304.6,584.8Q288.3,547.4 252.3,528.1Z"/><path d="M251.7,529.3L251.9,529Q288.3,547.4 304.6,584.8L304.4,584.9Q288.3,547.4 251.7,529.3Z"/><path d="M251.2,530.3L251.4,530.1Q288.3,547.4 304.4,584.9L304.3,584.9Q288.3,547.4 251.2,530.3Z"/><path d="M250.7,531.7L250.8,531.3Q288.3,547.4 304.3,584.9L304.2,585Q288.3,547.4 250.7,531.7Z"/><path d="M250.2,532.8L250.3,532.5Q288.3,547.4 304.2,585L304,585.1Q288.3,547.4 250.2,532.8Z"/><path d="M249.8,534L249.9,533.6Q288.3,547.4 304,585.1L303.9,585.1Q288.3,547.4 249.8,534Z"/><path d="M249.4,535.1L249.4,534.9Q288.3,547.4 303.9,585.1L303.8,585.2Q288.3,547.4 249.4,535.1Z"/><path d="M249,536.4L249.1,536.1Q288.3,547.4 303.8,585.2L303.6,585.2Q288.3,547.4 249,536.4Z"/><path d="M248.7,537.7L248.7,537.4Q288.3,547.4 303.6,585.2L303.5,585.3Q288.3,547.4 248.7,537.7Z"/><path d="M248.4,539L248.4,538.7Q288.3,547.4 303.5,585.3L303.4,585.3Q288.3,547.4 248.4,539Z"/><path d="M248.1,540.2L248.2,539.8Q288.3,547.4 303.4,585.3L303.2,585.4Q288.3,547.4 248.1,540.2Z"/><path d="M247.9,541.4L248,541Q288.3,547.4 303.2,585.4L303,585.5Q288.3,547.4 247.9,541.4Z"/><path d="M247.8,542.7L247.8,542.4Q288.3,547.4 303,585.5L302.9,585.5Q288.3,547.4 247.8,542.7Z"/><path d="M247.6,544L247.7,543.6Q288.3,547.4 302.9,585.5L302.7,585.6Q288.3,547.4 247.6,544Z"/><path d="M247.6,545.2L247.6,544.9Q288.3,547.4 302.7,585.6L302.6,585.6Q288.3,547.4 247.6,545.2Z"/><path d="M247.5,546.5L247.5,546.2Q288.3,547.4 302.6,585.6L302.4,585.7Q288.3,547.4 247.5,546.5Z"/><path d="M247.5,547.7L247.5,547.5Q288.3,547.4 302.4,585.7L302.3,585.7Q288.3,547.4 247.5,547.7Z"/><path d="M247.5,549.2L247.5,548.8Q288.3,547.4 302.3,585.7L302.1,585.8Q288.3,547.4 247.5,549.2Z"/><path d="M247.6,550.4L247.6,550Q288.3,547.4 302.1,585.8L302,585.8Q288.3,547.4 247.6,550.4Z"/><path d="M247.7,551.6L247.7,551.3Q288.3,547.4 302,585.8L301.8,585.9Q288.3,547.4 247.7,551.6Z"/><path d="M247.9,552.9L247.8,552.6Q288.3,547.4 301.8,585.9L301.7,585.9Q288.3,547.4 247.9,552.9Z"/><path d="M248.1,554.2L248,553.9Q288.3,547.4 301.7,585.9L301.6,586Q288.3,547.4 248.1,554.2Z"/><path d="M248.3,555.5L248.2,555.1Q288.3,547.4 301.6,586L301.4,586Q288.3,547.4 248.3,555.5Z"/><path d="M248.6,556.9L248.5,556.4Q288.3,547.4 301.4,586L301.2,586.1Q288.3,547.4 248.6,556.9Z"/><path d="M248.9,557.9L248.8,557.6Q288.3,547.4 301.2,586.1L301.1,586.1Q288.3,547.4 248.9,557.9Z"/><path d="M249.3,559.2L249.2,558.9Q288.3,547.4 301.1,586.1L300.9,586.2Q288.3,547.4 249.3,559.2Z"/><path d="M249.7,560.6L249.5,560.1Q288.3,547.4 300.9,586.2L300.7,586.3Q288.3,547.4 249.7,560.6Z"/><path d="M250,561.6L250,561.3Q288.3,547.4 300.7,586.3L300.6,586.3Q288.3,547.4 250,561.6Z"/><path d="M250.6,563L250.4,562.5Q288.3,547.4 300.6,586.3L300.3,586.4Q288.3,547.4 250.6,563Z"/><path d="M251,563.9L250.9,563.7Q288.3,547.4 300.3,586.4L300.2,586.4Q288.3,547.4 251,563.9Z"/></g>
<g fill="#a6cee3" fill-opacity="0.06"><path d="M251.5,565L251.4,564.9Q288.3,547.4 300.2,586.4L300.2,586.4Q288.3,547.4 251.5,565Z"/><path d="M252,566.1L251.9,565.9Q288.3,547.4 300.2,586.4L300.2,586.4Q288.3,547.4 252,566.1Z"/><path d="M252.6,567.2L252.4,566.9Q288.3,547.4 300.2,586.4L300.1,586.5Q288.3,547.4 252.6,567.2Z"/><path d="M253.2,568.1L253,567.8Q288.3,547.4 300.1,586.5L300,586.5Q288.3,547.4 253.2,568.1Z"/><path d="M253.7,569L253.6,568.8Q288.3,547.4 300,586.5L300,586.5Q288.3,547.4 253.7,569Z"/><path d="M254.4,570.1L254.2,569.8Q288.3,547.4 300,586.5L299.9,586.5Q288.3,547.4 254.4,570.1Z"/><path d="M255,571L254.9,570.8Q288.3,547.4 299.9,586.5L299.9,586.5Q288.3,547.4 255,571Z"/><path d="M255.7,572L255.5,571.6Q288.3,547.4 299.9,586.5L299.8,586.5Q288.3,547.4 255.7,572Z"/><path d="M256.3,572.7L256.2,572.5Q288.3,547.4 299.8,586.5L299.8,586.6Q288.3,547.4 256.3,572.7Z"/><path d="M257,573.6L256.9,573.5Q288.3,547.4 299.8,586.6L299.7,586.6Q288.3,547.4 257,573.6Z"/><path d="M257.8,574.6L257.6,574.3Q288.3,547.4 299.7,586.6L299.7,586.6Q288.3,547.4 257.8,574.6Z"/><path d="M258.6,575.4L258.4,575.2Q288.3,547.4 299.7,586.6L299.6,586.6Q288.3,547.4 258.6,575.4Z"/><path d="M259.5,576.3L259.2,576Q288.3,547.4 299.6,586.6L299.5,586.6Q288.3,547.4 259.5,576.3Z"/><path d="M260.2,577L260,576.8Q288.3,547.4 299.5,586.6L299.5,586.6Q288.3,547.4 260.2,577Z"/><path d="M261.1,577.9L260.8,577.6Q288.3,547.4 299.5,586.6L299.4,586.7Q288.3,547.4 261.1,577.9Z"/><path d="M261.9,578.5L261.7,578.3Q288.3,547.4 299.4,586.7L299.3,586.7Q288.3,547.4 261.9,578.5Z"/><path d="M262.8,579.3L262.6,579.1Q288.3,547.4 299.3,586.7L299.3,586.7Q288.3,547.4 262.8,579.3Z"/><path d="M263.6,579.9L263.5,579.8Q288.3,547.4 299.3,586.7L299.3,586.7Q288.3,547.4 263.6,579.9Z"/><path d="M264.6,580.6L264.4,580.5Q288.3,547.4 299.3,586.7L299.2,586.7Q288.3,547.4 264.6,580.6Z"/><path d="M265.5,581.2L265.3,581.1Q288.3,547.4 299.2,586.7L299.1,586.7Q288.3,547.4 265.5,581.2Z"/><path d="M266.4,581.9L266.2,581.7Q288.3,547.4 299.1,586.7L299.1,586.7Q288.3,547.4 266.4,581.9Z"/><path d="M267.6,582.6L267.3,582.4Q288.3,547.4 299.1,586.7L299,586.8Q288.3,547.4 267.6,582.6Z"/><path d="M268.5,583.1L268.2,582.9Q288.3,547.4 299,586.8L298.9,586.8Q288.3,547.4 268.5,583.1Z"/><path d="M269.3,583.5L269.2,583.4Q288.3,547.4 298.9,586.8L298.9,586.8Q288.3,547.4 269.3,583.5Z"/><path d="M270.4,584.1L270.2,584Q288.3,547.4 298.9,586.8L298.9,586.8Q288.3,547.4 270.4,584.1Z"/></g>
<g fill="#33a02c" fill-opacity="0.55"><path d="M325.3,530.2A40.8,40.8 0 0 1 326.1,532.1Q288.3,547.4 327.9,557.3L327.4,559.1Q288.3,547.4 325.3,530.2Z"/><path d="M320.6,522.4L321.5,523.7Q288.3,547.4 327.4,559.1L327,560.4Q288.3,547.4 320.6,522.4Z"/><path d="M313.9,515.6L314.2,515.9Q288.3,547.4 327,560.4L326.7,561.1Q288.3,547.4 313.9,515.6Z"/><path d="M311.4,513.8L311.8,514Q288.3,547.4 326.7,561.1L326.5,561.8Q288.3,547.4 311.4,513.8Z"/><path d="M308.8,512.1L309.2,512.4Q288.3,547.4 326.5,561.8L326.2,562.5Q288.3,547.4 308.8,512.1Z"/><path d="M306.1,510.7L306.5,510.9Q288.3,547.4 326.2,562.5L325.9,563.2Q288.3,547.4 306.1,510.7Z"/></g>
<g fill="#33a02c" fill-opacity="0.44"><path d="M301.8,508.9L302.2,509.1Q288.3,547.4 325.9,563.2L325.7,563.7Q288.3,547.4 301.8,508.9Z"/><path d="M300,508.3L300.6,508.5Q288.3,547.4 325.7,563.7L325.4,564.4Q288.3,547.4 300,508.3Z"/><path d="M298.3,507.8L298.7,507.9Q288.3,547.4 325.4,564.4L325.2,564.9Q288.3,547.4 298.3,507.8Z"/><path d="M296.6,507.5L296.9,507.5Q288.3,547.4 325.2,564.9L325,565.2Q288.3,547.4 296.6,507.5Z"/><path d="M294.8,507.1L295.2,507.2Q288.3,547.4 325,565.2L324.8,565.7Q288.3,547.4 294.8,507.1Z"/><path d="M292.8,506.8L293.4,506.9Q288.3,547.4 324.8,565.7L324.4,566.4Q288.3,547.4 292.8,506.8Z"/><path d="M291.1,506.7L291.4,506.7Q288.3,547.4 324.4,566.4L324.2,566.9Q288.3,547.4 291.1,506.7Z"/><path d="M289.3,506.6L289.6,506.6Q288.3,547.4 324.2,566.9L323.9,567.3Q288.3,547.4 289.3,506.6Z"/><path d="M287.5,506.6L288,506.6Q288.3,547.4 323.9,567.3L323.6,567.9Q288.3,547.4 287.5,506.6Z"/><path d="M285.5,506.7L286.2,506.7Q288.3,547.4 323.6,567.9L323.1,568.7Q288.3,547.4 285.5,506.7Z"/><path d="M283.7,506.9L284.2,506.8Q288.3,547.4 323.1,568.7L322.8,569.2Q288.3,547.4 283.7,506.9Z"/><path d="M281.9,507.1L282.4,507Q288.3,547.4 322.8,569.2L322.4,569.7Q288.3,547.4 281.9,507.1Z"/><path d="M279.9,507.5L280.4,507.4Q288.3,547.4 322.4,569.7L322.1,570.2Q288.3,547.4 279.9,507.5Z"/><path d="M278.2,507.9L278.7,507.7Q288.3,547.4 322.1,570.2L321.7,570.8Q288.3,547.4 278.2,507.9Z"/><path d="M276.5,508.3L276.8,508.3Q288.3,547.4 321.7,570.8L321.5,571.2Q288.3,547.4 276.5,508.3Z"/><path d="M275,508.8L275.2,508.8Q288.3,547.4 321.5,571.2L321.4,571.3Q288.3,547.4 275,508.8Z"/><path d="M273.2,509.5L273.4,509.4Q288.3,547.4 321.4,571.3L321.2,571.5Q288.3,547.4 273.2,509.5Z"/><path d="M271.6,510.2L271.7,510.1Q288.3,547.4 321.2,571.5L321.1,571.6Q288.3,547.4 271.6,510.2Z"/><path d="M270,510.9L270.1,510.9Q288.3,547.4 321.1,571.6L321.1,571.7Q288.3,547.4 270,510.9Z"/><path d="M268.4,511.8L268.5,511.8Q288.3,547.4 321.1,571.7L321,571.8Q288.3,547.4 268.4,511.8Z"/><path d="M266.6,512.8L266.7,512.8Q288.3,547.4 321,571.8L320.9,572Q288.3,547.4 266.6,512.8Z"/><path d="M265.2,513.8L265.3,513.7Q288.3,547.4 320.9,572L320.8,572.1Q288.3,547.4 265.2,513.8Z"/><path d="M263.5,515L263.7,514.8Q288.3,547.4 320.8,572.1L320.6,572.3Q288.3,547.4 263.5,515Z"/><path d="M262.2,516.1L262.2,516Q288.3,547.4 320.6,572.3L320.5,572.4Q288.3,547.4 262.2,516.1Z"/><path d="M260.8,517.2L260.9,517.2Q288.3,547.4 320.5,572.4L320.4,572.6Q288.3,547.4 260.8,517.2Z"/><path d="M259.4,518.6L259.5,518.5Q288.3,547.4 320.4,572.6L320.3,572.7Q288.3,547.4 259.4,518.6Z"/><path d="M258.2,519.8L258.3,519.7Q288.3,547.4 320.3,572.7L320.2,572.8Q288.3,547.4 258.2,519.8Z"/><path d="M256.9,521.3L257,521.2Q288.3,547.4 320.2,572.8L320.1,572.9Q288.3,547.4 256.9,521.3Z"/><path d="M255.8,522.8L255.8,522.7Q288.3,547.4 320.1,572.9L320,573.1Q288.3,547.4 255.8,522.8Z"/><path d="M254.7,524.2L254.8,524.1Q288.3,547.4 320,573.1L320,573.1Q288.3,547.4 254.7,524.2Z"/><path d="M253.6,526L253.7,525.8Q288.3,547.4 320,573.1L319.8,573.4Q288.3,547.4 253.6,526Z"/></g>
<g fill="#33a02c" fill-opacity="0.25"><path d="M253.1,526.8L253.1,526.7Q288.3,547.4 319.8,573.4L319.7,573.4Q288.3,547.4 253.1,526.8Z"/><path d="M252.5,527.8L252.5,527.8Q288.3,547.4 319.7,573.4L319.7,573.4Q288.3,547.4 252.5,527.8Z"/><path d="M251.9,529L251.9,528.9Q288.3,547.4 319.7,573.4L319.7,573.4Q288.3,547.4 251.9,529Z"/><path d="M251.4,530.1L251.4,530Q288.3,547.4 319.7,573.4L319.7,573.5Q288.3,547.4 251.4,530.1Z"/><path d="M250.8,531.3L250.8,531.3Q288.3,547.4 319.7,573.5L319.7,573.5Q288.3,547.4 250.8,531.3Z"/><path d="M250.3,532.5L250.3,532.5Q288.3,547.4 319.7,573.5L319.7,573.5Q288.3,547.4 250.3,532.5Z"/><path d="M249.9,533.6L249.9,533.6Q288.3,547.4 319.7,573.5L319.6,573.5Q288.3,547.4 249.9,533.6Z"/><path d="M249.4,534.9L249.5,534.9Q288.3,547.4 319.6,573.5L319.6,573.5Q288.3,547.4 249.4,534.9Z"/><path d="M249.1,536.1L249.1,536.1Q288.3,547.4 319.6,573.5L319.6,573.6Q288.3,547.4 249.1,536.1Z"/><path d="M248.7,537.4L248.8,537.4Q288.3,547.4 319.6,573.6L319.6,573.6Q288.3,547.4 248.7,537.4Z"/><path d="M248.4,538.7L248.5,538.6Q288.3,547.4 319.6,573.6L319.6,573.6Q288.3,547.4 248.4,538.7Z"/><path d="M248.2,539.8L248.2,539.8Q288.3,547.4 319.6,573.6L319.5,573.6Q288.3,547.4 248.2,539.8Z"/><path d="M248,541L248,541Q288.3,547.4 319.5,573.6L319.5,573.6Q288.3,547.4 248,541Z"/><path d="M247.8,542.4L247.8,542.3Q288.3,547.4 319.5,573.6L319.5,573.7Q288.3,547.4 247.8,542.4Z"/><path d="M247.7,543.6L247.7,543.6Q288.3,547.4 319.5,573.7L319.5,573.7Q288.3,547.4 247.7,543.6Z"/><path d="M247.6,544.9L247.6,544.9Q288.3,547.4 319.5,573.7L319.5,573.7Q288.3,547.4 247.6,544.9Z"/><path d="M247.5,546.2L247.5,546.2Q288.3,547.4 319.5,573.7L319.5,573.7Q288.3,547.4 247.5,546.2Z"/><path d="M247.5,547.5L247.5,547.5Q288.3,547.4 319.5,573.7L319.5,573.7Q288.3,547.4 247.5,547.5Z"/><path d="M247.5,548.8L247.5,548.7Q288.3,547.4 319.5,573.7L319.4,573.8Q288.3,547.4 247.5,548.8Z"/><path d="M247.6,550L247.6,550Q288.3,547.4 319.4,573.8L319.4,573.8Q288.3,547.4 247.6,550Z"/><path d="M247.7,551.3L247.7,551.2Q288.3,547.4 319.4,573.8L319.4,573.8Q288.3,547.4 247.7,551.3Z"/><path d="M247.8,552.6L247.8,552.6Q288.3,547.4 319.4,573.8L319.4,573.8Q288.3,547.4 247.8,552.6Z"/><path d="M248,553.9L248,553.9Q288.3,547.4 319.4,573.8L319.4,573.8Q288.3,547.4 248,553.9Z"/><path d="M248.2,555.1L248.2,555.1Q288.3,547.4 319.4,573.8L319.4,573.9Q288.3,547.4 248.2,555.1Z"/><path d="M248.5,556.4L248.5,556.4Q288.3,547.4 319.4,573.9L319.3,573.9Q288.3,547.4 248.5,556.4Z"/><path d="M248.8,557.6L248.8,557.6Q288.3,547.4 319.3,573.9L319.3,573.9Q288.3,547.4 248.8,557.6Z"/><path d="M249.2,558.9L249.1,558.8Q288.3,547.4 319.3,573.9L319.3,573.9Q288.3,547.4 249.2,558.9Z"/><path d="M249.5,560.1L249.5,560.1Q288.3,547.4 319.3,573.9L319.3,573.9Q288.3,547.4 249.5,560.1Z"/><path d="M250,561.3L249.9,561.3Q288.3,547.4 319.3,573.9L319.3,574Q288.3,547.4 250,561.3Z"/><path d="M250.4,562.5L250.4,562.5Q288.3,547.4 319.3,574L319.3,574Q288.3,547.4 250.4,562.5Z"/><path d="M250.9,563.7L250.9,563.7Q288.3,547.4 319.3,574L319.2,574Q288.3,547.4 250.9,563.7Z"/></g>
<g fill="#33a02c" fill-opacity="0.07"><path d="M251.4,564.9L251.4,564.8Q288.3,547.4 319.2,574L319.2,574Q288.3,547.4 251.4,564.9Z"/><path d="M251.9,565.9L251.9,565.8Q288.3,547.4 319.2,574L319.2,574Q288.3,547.4 251.9,565.9Z"/><path d="M252.4,566.9L252.4,566.8Q288.3,547.4 319.2,574L319.2,574Q288.3,547.4 252.4,566.9Z"/><path d="M253,567.8L253,567.8Q288.3,547.4 319.2,574L319.2,574Q288.3,547.4 253,567.8Z"/><path d="M253.6,568.8L253.6,568.8Q288.3,547.4 319.2,574L319.2,574Q288.3,547.4 253.6,568.8Z"/><path d="M254.2,569.8L254.2,569.8Q288.3,547.4 319.2,574L319.2,574Q288.3,547.4 254.2,569.8Z"/><path d="M254.9,570.8L254.8,570.8Q288.3,547.4 319.2,574L319.2,574Q288.3,547.4 254.9,570.8Z"/><path d="M255.5,571.6L255.4,571.6Q288.3,547.4 319.2,574L319.2,574.1Q288.3,547.4 255.5,571.6Z"/><path d="M256.2,572.5L256.1,572.5Q288.3,547.4 319.2,574.1L319.2,574.1Q288.3,547.4 256.2,572.5Z"/><path d="M256.9,573.5L256.9,573.4Q288.3,547.4 319.2,574.1L319.2,574.1Q288.3,547.4 256.9,573.5Z"/><path d="M257.6,574.3L257.6,574.3Q288.3,547.4 319.2,574.1L319.2,574.1Q288.3,547.4 257.6,574.3Z"/><path d="M258.4,575.2L258.4,575.2Q288.3,547.4 319.2,574.1L319.2,574.1Q288.3,547.4 258.4,575.2Z"/><path d="M259.2,576L259.2,576Q288.3,547.4 319.2,574.1L319.2,574.1Q288.3,547.4 259.2,576Z"/><path d="M260,576.8L260,576.7Q288.3,547.4 319.2,574.1L319.2,574.1Q288.3,547.4 260,576.8Z"/><path d="M260.8,577.6L260.8,577.5Q288.3,547.4 319.2,574.1L319.2,574.1Q288.3,547.4 260.8,577.6Z"/><path d="M261.7,578.3L261.7,578.3Q288.3,547.4 319.2,574.1L319.1,574.1Q288.3,547.4 261.7,578.3Z"/><path d="M262.6,579.1L262.6,579Q288.3,547.4 319.1,574.1L319.1,574.1Q288.3,547.4 262.6,579.1Z"/><path d="M263.5,579.8L263.4,579.7Q288.3,547.4 319.1,574.1L319.1,574.1Q288.3,547.4 263.5,579.8Z"/><path d="M264.4,580.5L264.3,580.4Q288.3,547.4 319.1,574.1L319.1,574.1Q288.3,547.4 264.4,580.5Z"/><path d="M265.3,581.1L265.3,581.1Q288.3,547.4 319.1,574.1L319.1,574.1Q288.3,547.4 265.3,581.1Z"/><path d="M266.2,581.7L266.2,581.7Q288.3,547.4 319.1,574.1L319.1,574.1Q288.3,547.4 266.2,581.7Z"/><path d="M267.3,582.4L267.2,582.3Q288.3,547.4 319.1,574.1L319.1,574.1Q288.3,547.4 267.3,582.4Z"/><path d="M268.2,582.9L268.1,582.9Q288.3,547.4 319.1,574.1L319.1,574.2Q288.3,547.4 268.2,582.9Z"/><path d="M269.2,583.4L269.2,583.4Q288.3,547.4 319.1,574.2L319.1,574.2Q288.3,547.4 269.2,583.4Z"/><path d="M270.2,584L270.2,584Q288.3,547.4 319.1,574.2L319.1,574.2Q288.3,547.4 270.2,584Z"/></g>
<g fill="#b2df8a" fill-opacity="0.48"><path d="M302.2,509.1L302.8,509.3Q288.3,547.4 329,544.6L329,545.3Q288.3,547.4 302.2,509.1Z"/><path d="M300.6,508.5L301.1,508.7Q288.3,547.4 329,545.3L329.1,545.9Q288.3,547.4 300.6,508.5Z"/><path d="M298.7,507.9L299.2,508.1Q288.3,547.4 329.1,545.9L329.1,546.5Q288.3,547.4 298.7,507.9Z"/><path d="M296.9,507.5L297.4,507.6Q288.3,547.4 329.1,546.5L329.1,547.1Q288.3,547.4 296.9,507.5Z"/><path d="M295.2,507.2L295.6,507.3Q288.3,547.4 329.1,547.1L329.1,547.6Q288.3,547.4 295.2,507.2Z"/><path d="M293.4,506.9L293.7,507Q288.3,547.4 329.1,547.6L329.1,548Q288.3,547.4 293.4,506.9Z"/><path d="M291.4,506.7L291.9,506.8Q288.3,547.4 329.1,548L329.1,548.7Q288.3,547.4 291.4,506.7Z"/><path d="M289.6,506.6L290.1,506.6Q288.3,547.4 329.1,548.7L329.1,549.3Q288.3,547.4 289.6,506.6Z"/><path d="M288,506.6L288.3,506.6Q288.3,547.4 329.1,549.3L329,549.6Q288.3,547.4 288,506.6Z"/><path d="M286.2,506.7L286.5,506.6Q288.3,547.4 329,549.6L329,549.9Q288.3,547.4 286.2,506.7Z"/><path d="M284.2,506.8L284.5,506.8Q288.3,547.4 329,549.9L329,550.3Q288.3,547.4 284.2,506.8Z"/><path d="M282.4,507L282.7,507Q288.3,547.4 329,550.3L329,550.7Q288.3,547.4 282.4,507Z"/><path d="M280.4,507.4L281,507.3Q288.3,547.4 329,550.7L328.9,551.5Q288.3,547.4 280.4,507.4Z"/><path d="M278.7,507.7L279.1,507.7Q288.3,547.4 328.9,551.5L328.9,551.9Q288.3,547.4 278.7,507.7Z"/><path d="M276.8,508.3L277.3,508.1Q288.3,547.4 328.9,551.9L328.8,552.5Q288.3,547.4 276.8,508.3Z"/><path d="M275.2,508.8L275.3,508.7Q288.3,547.4 328.8,552.5L328.8,552.7Q288.3,547.4 275.2,508.8Z"/><path d="M273.4,509.4L273.5,509.4Q288.3,547.4 328.8,552.7L328.7,552.8Q288.3,547.4 273.4,509.4Z"/><path d="M271.7,510.1L271.8,510.1Q288.3,547.4 328.7,552.8L328.7,552.9Q288.3,547.4 271.7,510.1Z"/><path d="M270.1,510.9L270.2,510.8Q288.3,547.4 328.7,552.9L328.7,553Q288.3,547.4 270.1,510.9Z"/><path d="M268.5,511.8L268.5,511.7Q288.3,547.4 328.7,553L328.7,553.2Q288.3,547.4 268.5,511.8Z"/><path d="M266.7,512.8L266.8,512.7Q288.3,547.4 328.7,553.2L328.7,553.3Q288.3,547.4 266.7,512.8Z"/><path d="M265.3,513.7L265.4,513.6Q288.3,547.4 328.7,553.3L328.6,553.5Q288.3,547.4 265.3,513.7Z"/><path d="M263.7,514.8L263.8,514.8Q288.3,547.4 328.6,553.5L328.6,553.6Q288.3,547.4 263.7,514.8Z"/><path d="M262.2,516L262.3,515.9Q288.3,547.4 328.6,553.6L328.6,553.7Q288.3,547.4 262.2,516Z"/><path d="M260.9,517.2L261,517.1Q288.3,547.4 328.6,553.7L328.6,553.9Q288.3,547.4 260.9,517.2Z"/><path d="M259.5,518.5L259.7,518.3Q288.3,547.4 328.6,553.9L328.5,554.2Q288.3,547.4 259.5,518.5Z"/><path d="M258.3,519.7L258.4,519.6Q288.3,547.4 328.5,554.2L328.5,554.3Q288.3,547.4 258.3,519.7Z"/><path d="M257,521.2L257.1,521.1Q288.3,547.4 328.5,554.3L328.5,554.5Q288.3,547.4 257,521.2Z"/><path d="M255.8,522.7L255.9,522.6Q288.3,547.4 328.5,554.5L328.4,554.7Q288.3,547.4 255.8,522.7Z"/><path d="M254.8,524.1L254.9,524Q288.3,547.4 328.4,554.7L328.4,554.8Q288.3,547.4 254.8,524.1Z"/><path d="M253.7,525.8L253.8,525.6Q288.3,547.4 328.4,554.8L328.4,555.1Q288.3,547.4 253.7,525.8Z"/></g>
<g fill="#b2df8a" fill-opacity="0.27"><path d="M253.1,526.7L253.2,526.7Q288.3,547.4 328.4,555.1L328.4,555.1Q288.3,547.4 253.1,526.7Z"/><path d="M252.5,527.8L252.5,527.7Q288.3,547.4 328.4,555.1L328.4,555.1Q288.3,547.4 252.5,527.8Z"/><path d="M251.9,528.9L252,528.9Q288.3,547.4 328.4,555.1L328.4,555.2Q288.3,547.4 251.9,528.9Z"/><path d="M251.4,530L251.4,530Q288.3,547.4 328.4,555.2L328.3,555.2Q288.3,547.4 251.4,530Z"/><path d="M250.8,531.3L250.8,531.2Q288.3,547.4 328.3,555.2L328.3,555.2Q288.3,547.4 250.8,531.3Z"/><path d="M250.3,532.5L250.4,532.4Q288.3,547.4 328.3,555.2L328.3,555.2Q288.3,547.4 250.3,532.5Z"/><path d="M249.9,533.6L249.9,533.5Q288.3,547.4 328.3,555.2L328.3,555.3Q288.3,547.4 249.9,533.6Z"/><path d="M249.5,534.9L249.5,534.8Q288.3,547.4 328.3,555.3L328.3,555.3Q288.3,547.4 249.5,534.9Z"/><path d="M249.1,536.1L249.1,536Q288.3,547.4 328.3,555.3L328.3,555.3Q288.3,547.4 249.1,536.1Z"/><path d="M248.8,537.4L248.8,537.3Q288.3,547.4 328.3,555.3L328.3,555.4Q288.3,547.4 248.8,537.4Z"/><path d="M248.5,538.6L248.5,538.5Q288.3,547.4 328.3,555.4L328.3,555.4Q288.3,547.4 248.5,538.6Z"/><path d="M248.2,539.8L248.2,539.7Q288.3,547.4 328.3,555.4L328.3,555.5Q288.3,547.4 248.2,539.8Z"/><path d="M248,541L248,541Q288.3,547.4 328.3,555.5L328.3,555.5Q288.3,547.4 248,541Z"/><path d="M247.8,542.3L247.8,542.3Q288.3,547.4 328.3,555.5L328.3,555.5Q288.3,547.4 247.8,542.3Z"/><path d="M247.7,543.6L247.7,543.6Q288.3,547.4 328.3,555.5L328.3,555.6Q288.3,547.4 247.7,543.6Z"/><path d="M247.6,544.9L247.6,544.8Q288.3,547.4 328.3,555.6L328.3,555.6Q288.3,547.4 247.6,544.9Z"/><path d="M247.5,546.2L247.5,546.1Q288.3,547.4 328.3,555.6L328.3,555.6Q288.3,547.4 247.5,546.2Z"/><path d="M247.5,547.5L247.5,547.4Q288.3,547.4 328.3,555.6L328.3,555.6Q288.3,547.4 247.5,547.5Z"/><path d="M247.5,548.7L247.5,548.6Q288.3,547.4 328.3,555.6L328.3,555.7Q288.3,547.4 247.5,548.7Z"/><path d="M247.6,550L247.6,549.9Q288.3,547.4 328.3,555.7L328.2,555.7Q288.3,547.4 247.6,550Z"/><path d="M247.7,551.2L247.7,551.2Q288.3,547.4 328.2,555.7L328.2,555.7Q288.3,547.4 247.7,551.2Z"/><path d="M247.8,552.6L247.8,552.5Q288.3,547.4 328.2,555.7L328.2,555.7Q288.3,547.4 247.8,552.6Z"/><path d="M248,553.9L248,553.8Q288.3,547.4 328.2,555.7L328.2,555.7Q288.3,547.4 248,553.9Z"/><path d="M248.2,555.1L248.2,555Q288.3,547.4 328.2,555.7L328.2,555.8Q288.3,547.4 248.2,555.1Z"/><path d="M248.5,556.4L248.5,556.3Q288.3,547.4 328.2,555.8L328.2,555.8Q288.3,547.4 248.5,556.4Z"/><path d="M248.8,557.6L248.8,557.5Q288.3,547.4 328.2,555.8L328.2,555.9Q288.3,547.4 248.8,557.6Z"/><path d="M249.1,558.8L249.1,558.8Q288.3,547.4 328.2,555.9L328.2,555.9Q288.3,547.4 249.1,558.8Z"/><path d="M249.5,560.1L249.5,560Q288.3,547.4 328.2,555.9L328.2,555.9Q288.3,547.4 249.5,560.1Z"/><path d="M249.9,561.3L249.9,561.2Q288.3,547.4 328.2,555.9L328.2,556Q288.3,547.4 249.9,561.3Z"/><path d="M250.4,562.5L250.4,562.4Q288.3,547.4 328.2,556L328.2,556Q288.3,547.4 250.4,562.5Z"/><path d="M250.9,563.7L250.9,563.6Q288.3,547.4 328.2,556L328.2,556Q288.3,547.4 250.9,563.7Z"/></g>
<g fill="#b2df8a" fill-opacity="0.07"><path d="M251.4,564.8L251.4,564.8Q288.3,547.4 328.2,556L328.2,556Q288.3,547.4 251.4,564.8Z"/><path d="M251.9,565.8L251.9,565.8Q288.3,547.4 328.2,556L328.2,556Q288.3,547.4 251.9,565.8Z"/><path d="M252.4,566.8L252.4,566.8Q288.3,547.4 328.2,556L328.2,556.1Q288.3,547.4 252.4,566.8Z"/><path d="M253,567.8L253,567.8Q288.3,547.4 328.2,556.1L328.2,556.1Q288.3,547.4 253,567.8Z"/><path d="M253.6,568.8L253.6,568.8Q288.3,547.4 328.2,556.1L328.2,556.1Q288.3,547.4 253.6,568.8Z"/><path d="M254.2,569.8L254.2,569.8Q288.3,547.4 328.2,556.1L328.2,556.1Q288.3,547.4 254.2,569.8Z"/><path d="M254.8,570.8L254.8,570.7Q288.3,547.4 328.2,556.1L328.2,556.1Q288.3,547.4 254.8,570.8Z"/><path d="M255.4,571.6L255.4,571.6Q288.3,547.4 328.2,556.1L328.2,556.1Q288.3,547.4 255.4,571.6Z"/><path d="M256.1,572.5L256.1,572.5Q288.3,547.4 328.2,556.1L328.2,556.1Q288.3,547.4 256.1,572.5Z"/><path d="M256.9,573.4L256.9,573.4Q288.3,547.4 328.2,556.1L328.2,556.1Q288.3,547.4 256.9,573.4Z"/><path d="M257.6,574.3L257.6,574.2Q288.3,547.4 328.2,556.1L328.2,556.1Q288.3,547.4 257.6,574.3Z"/><path d="M258.4,575.2L258.4,575.1Q288.3,547.4 328.2,556.1L328.2,556.1Q288.3,547.4 258.4,575.2Z"/><path d="M259.2,576L259.1,575.9Q288.3,547.4 328.2,556.1L328.2,556.1Q288.3,547.4 259.2,576Z"/><path d="M260,576.7L259.9,576.7Q288.3,547.4 328.2,556.1L328.2,556.1Q288.3,547.4 260,576.7Z"/><path d="M260.8,577.5L260.8,577.5Q288.3,547.4 328.2,556.1L328.2,556.2Q288.3,547.4 260.8,577.5Z"/><path d="M261.7,578.3L261.6,578.3Q288.3,547.4 328.2,556.2L328.1,556.2Q288.3,547.4 261.7,578.3Z"/><path d="M262.6,579L262.5,579Q288.3,547.4 328.1,556.2L328.1,556.2Q288.3,547.4 262.6,579Z"/><path d="M263.4,579.7L263.4,579.7Q288.3,547.4 328.1,556.2L328.1,556.2Q288.3,547.4 263.4,579.7Z"/><path d="M264.3,580.4L264.3,580.4Q288.3,547.4 328.1,556.2L328.1,556.2Q288.3,547.4 264.3,580.4Z"/><path d="M265.3,581.1L265.2,581Q288.3,547.4 328.1,556.2L328.1,556.2Q288.3,547.4 265.3,581.1Z"/><path d="M266.2,581.7L266.2,581.7Q288.3,547.4 328.1,556.2L328.1,556.2Q288.3,547.4 266.2,581.7Z"/><path d="M267.2,582.3L267.2,582.3Q288.3,547.4 328.1,556.2L328.1,556.2Q288.3,547.4 267.2,582.3Z"/><path d="M268.1,582.9L268.1,582.8Q288.3,547.4 328.1,556.2L328.1,556.2Q288.3,547.4 268.1,582.9Z"/><path d="M269.2,583.4L269.1,583.4Q288.3,547.4 328.1,556.2L328.1,556.2Q288.3,547.4 269.2,583.4Z"/><path d="M270.2,584L270.2,583.9Q288.3,547.4 328.1,556.2L328.1,556.2Q288.3,547.4 270.2,584Z"/></g>
<path fill="#f7c6d0" d="M269.6,587.2L268.9,586.9L269.9,584.7L270.6,585ZM256.7,578L256.1,577.4L257.9,575.8L258.4,576.3Z"/><path fill="#fdbf6f" d="M268.5,586.7L267.7,586.3L268.9,584.2L269.5,584.5ZM261.2,582.1L260.6,581.6L262.1,579.7L262.7,580.2ZM250,569.1L249.7,568.4L251.8,567.3L252.1,568ZM249.5,568.1L249.1,567.4L251.2,566.3L251.6,566.9ZM245.3,556.7L245.1,555.8L247.5,555.3L247.6,556.2ZM244.3,547.1L244.3,546.2L246.7,546.2L246.7,547.1ZM270.9,507L272.1,506.5L273,508.7L271.8,509.2Z"/><path fill="#a6cee3" d="M267.4,586.1L266.7,585.7L267.8,583.6L268.5,584ZM258.4,579.7L257.8,579.1L259.5,577.4L260,577.9ZM250.7,570.2L250.3,569.5L252.3,568.3L252.7,569ZM248.9,567L248.5,566.3L250.7,565.2L251.1,565.9ZM247.8,564.6L247.5,563.8L249.7,562.9L250,563.7ZM247.3,563.3L247,562.5L249.2,561.6L249.5,562.4ZM253.7,520.3L254.5,519.2L256.3,520.8L255.6,521.7ZM262.3,511.9L263.4,511.2L264.7,513.1L263.7,513.9ZM269.1,507.8L270.3,507.3L271.3,509.4L270.1,510ZM278.8,504.4L280.1,504.2L280.6,506.5L279.3,506.8ZM282.7,503.8L284,503.6L284.2,506L283,506.1ZM296.6,504.2L297.9,504.5L297.4,506.8L296.1,506.5ZM321,576.8A44,44 0 0 1 299.7,589.9L299.1,587.6A41.6,41.6 0 0 0 319.2,575.2Z"/><path fill="#fb9a99" d="M266.3,585.5L265.6,585.1L266.9,583L267.5,583.4ZM260.3,581.3L259.6,580.8L261.2,579L261.8,579.5ZM259.3,580.5L258.7,580L260.3,578.2L260.9,578.7ZM245,555.4L244.9,554.5L247.2,554.1L247.4,554.9ZM244.5,551.2L244.4,550.3L246.8,550.1L246.9,551ZM244.3,548.5L244.3,547.6L246.7,547.6L246.7,548.4ZM246.6,533.5L246.9,532.6L249.1,533.4L248.8,534.2ZM247,532.2L247.3,531.4L249.6,532.2L249.3,533ZM250.3,525.2L251,524.1L253,525.4L252.4,526.4ZM284.7,503.5L286,503.5L286.2,505.9L284.9,505.9ZM288.7,503.4L290,503.4L289.9,505.8L288.7,505.8Z"/><path fill="#9bb8e0" d="M265.3,584.9L264.6,584.4L265.9,582.4L266.5,582.8ZM246.8,562L246.5,561.1L248.8,560.4L249.1,561.2ZM244.4,544.3L244.5,543.4L246.9,543.6L246.8,544.5Z"/><path fill="#c2a5cf" d="M264.2,584.2L263.5,583.8L264.9,581.8L265.5,582.2ZM251.3,571.3L250.9,570.6L252.9,569.3L253.3,570ZM248.4,565.8L248,565L250.2,564.1L250.5,564.8ZM246.4,560.7L246.1,559.8L248.4,559.2L248.6,560ZM244.8,554L244.7,553.1L247,552.8L247.2,553.6ZM244.5,542.9L244.6,542L247,542.3L246.9,543.2ZM246.1,534.8L246.4,534L248.7,534.7L248.4,535.5Z"/><path fill="#b2df8a" d="M263.2,583.5L262.5,583.1L263.9,581.1L264.6,581.6ZM254.2,575.2L253.7,574.6L255.6,573.1L256.1,573.7ZM246,559.4L245.7,558.5L248,557.9L248.3,558.7ZM244.6,552.6L244.5,551.7L246.9,551.4L247,552.3ZM244.4,549.8L244.3,548.9L246.7,548.8L246.8,549.7ZM249.2,527.1L249.7,526.3L251.8,527.5L251.4,528.3ZM256.3,517.2L257.2,516.2L258.9,517.9L258.1,518.8ZM274.9,505.5L276.2,505.1L276.9,507.4L275.7,507.8ZM280.7,504.1L282,503.8L282.4,506.2L281.2,506.4ZM332.2,544.3A44,44 0 0 1 331.3,556.9L328.9,556.4A41.6,41.6 0 0 0 329.8,544.5Z"/><path fill="#a6dba0" d="M262.2,582.8L261.5,582.3L263,580.4L263.6,580.9ZM255,576.2L254.5,575.6L256.3,574L256.8,574.6ZM245.1,538.9L245.3,538L247.7,538.5L247.5,539.3Z"/><path fill="#fcd9a0" d="M257.5,578.9L257,578.3L258.7,576.6L259.2,577.1ZM255.8,577.1L255.3,576.5L257.1,574.9L257.6,575.5ZM253.4,574.2L252.9,573.6L254.9,572.2L255.3,572.8ZM245.6,558.1L245.4,557.2L247.7,556.6L247.9,557.5ZM244.9,540.2L245.1,539.3L247.4,539.7L247.3,540.6ZM247.5,530.9L247.8,530.1L250.1,531L249.7,531.8ZM249.9,526L250.3,525.2L252.4,526.4L252,527.1Z"/><path fill="#cab2d6" d="M252.7,573.3L252.3,572.6L254.2,571.3L254.7,571.9ZM248.6,528.4L249,527.6L251.2,528.6L250.8,529.4ZM267.3,508.7L268.5,508.1L269.6,510.2L268.5,510.8ZM272.8,506.2L274,505.8L274.8,508.1L273.6,508.5ZM294.7,503.9L296,504.1L295.5,506.4L294.3,506.2ZM314.4,512A44,44 0 0 1 316.2,513.4L314.7,515.3A41.6,41.6 0 0 0 313,513.9Z"/><path fill="#f4a582" d="M252,572.3L251.6,571.6L253.6,570.3L254,570.9ZM244.3,545.7L244.4,544.8L246.8,544.9L246.7,545.8ZM244.7,541.5L244.8,540.6L247.2,541L247.1,541.9ZM245.4,537.5L245.6,536.6L248,537.2L247.8,538ZM248.1,529.6L248.4,528.8L250.6,529.8L250.3,530.6Z"/><path fill="#f5f08a" d="M245.8,536.1L246,535.3L248.3,535.9L248.1,536.8Z"/><path fill="#ffff99" d="M251.4,523.5L252.1,522.4L254.1,523.8L253.4,524.8ZM276.8,504.9L278.1,504.6L278.7,506.9L277.5,507.2ZM286.7,503.4L288,503.4L288.1,505.8L286.8,505.8ZM311.7,510.1A44,44 0 0 1 313.6,511.4L312.2,513.4A41.6,41.6 0 0 0 310.4,512.2Z"/><path fill="#6a3d9a" d="M252.5,521.9L253.2,520.8L255.2,522.3L254.4,523.3ZM259.1,514.5L260.1,513.6L261.7,515.4L260.7,516.3ZM263.9,510.8L265,510.1L266.2,512.1L265.2,512.8ZM265.6,509.7L266.7,509L267.9,511.1L266.8,511.8ZM324.8,522.8A44,44 0 0 1 326.6,525.7L324.5,526.9A41.6,41.6 0 0 0 322.8,524.1Z"/><path fill="#33a02c" d="M255,518.7L255.9,517.7L257.6,519.3L256.8,520.2ZM257.7,515.8L258.7,514.9L260.3,516.6L259.4,517.5ZM292.6,503.6L293.9,503.8L293.6,506.1L292.4,506ZM298.6,504.6L299.8,504.9L299.2,507.3L298,506.9ZM300.6,505.1L301.8,505.5L301.1,507.8L299.9,507.4ZM302.4,505.7L303.7,506.2L302.8,508.4L301.7,508ZM331,558A44,44 0 0 1 321.5,576.3L319.7,574.7A41.6,41.6 0 0 0 328.7,557.5Z"/><path fill="#1f78b4" d="M260.7,513.2L261.7,512.4L263.1,514.3L262.2,515ZM308.8,508.5A44,44 0 0 1 310.8,509.6L309.6,511.7A41.6,41.6 0 0 0 307.7,510.6ZM298.9,590.1A44,44 0 0 1 271.1,587.9L272,585.7A41.6,41.6 0 0 0 298.4,587.8Z"/><path fill="#ff7f00" d="M290.7,503.5L292,503.6L291.8,505.9L290.6,505.9ZM305.8,507A44,44 0 0 1 307.9,508L306.9,510.2A41.6,41.6 0 0 0 304.9,509.3ZM327.1,526.7A44,44 0 0 1 329.1,530.9L326.9,531.8A41.6,41.6 0 0 0 325,527.9Z"/><path fill="#b15928" d="M322,519.1A44,44 0 0 1 324.1,521.8L322.2,523.2A41.6,41.6 0 0 0 320.2,520.7Z"/>
<line x1="284.65" y1="593.76" x2="284.34" y2="597.74" stroke="#777" stroke-width="0.7"/>
<line x1="312.60" y1="587.05" x2="314.69" y2="590.46" stroke="#777" stroke-width="0.7"/>
<line x1="329.55" y1="568.87" x2="333.09" y2="570.72" stroke="#777" stroke-width="0.7"/>
<line x1="334.67" y1="550.85" x2="338.66" y2="551.14" stroke="#777" stroke-width="0.7"/>
<line x1="330.44" y1="527.75" x2="334.07" y2="526.06" stroke="#777" stroke-width="0.7"/>
<line x1="327.84" y1="522.93" x2="331.24" y2="520.83" stroke="#777" stroke-width="0.7"/>
<line x1="325.07" y1="518.93" x2="328.23" y2="516.48" stroke="#777" stroke-width="0.7"/>
<path d="M42.9,691.2L38.9,697.2M42.2,690.8L38,696.8M41.5,690.3L37.5,695.9M40.9,689.8L36.3,695.8M40.2,689.3L35.7,695.1M39.6,688.8L35.5,693.8M39,688.2L33.7,694.4M38.3,687.7L33.3,693.4M37.7,687.2L32.3,693.1M37.1,686.6L31.7,692.4M36.5,686L31,691.7M35.9,685.4L29.9,691.4M35.4,684.9L30.2,689.8M34.8,684.2L29.5,689.1M34.3,683.6L29.5,687.8M33.7,683L27.8,688M33.2,682.4L27.3,687.2M32.7,681.7L26.7,686.4M32.2,681.1L25.4,686.2M31.7,680.4L26.2,684.4M31.2,679.8L25.6,683.7M30.8,679.1L24.2,683.5M30.3,678.4L23.5,682.8M29.9,677.7L23.6,681.6M29.4,677L23.9,680.3M29,676.3L22.8,679.8M28.6,675.6L21.5,679.5M28.2,674.8L21.6,678.3M27.9,674.1L21.3,677.4M27.5,673.4L21,676.5M27.1,672.6L20.1,675.8M26.8,671.9L19.8,674.9M26.5,671.1L19.2,674.1M26.2,670.3L18.5,673.3M25.9,669.6L18.4,672.3M25.6,668.8L18.8,671.2M25.3,668L18.8,670.2M25.1,667.2L17.4,669.6M24.9,666.5L17.1,668.7M24.6,665.7L16.6,667.8M24.4,664.9L17.8,666.5M24.2,664.1L16.3,665.9M24.1,663.3L16,665M23.9,662.5L17.5,663.7M23.8,661.6L16.8,662.8M23.6,660.8L16,662M23.5,660L16.9,660.9M23.4,659.2L15.3,660.1M23.3,658.4L16.4,659.1M23.2,657.6L15.4,658.2M23.2,656.7L16.2,657.2M23.1,655.9L16.3,656.2M23.1,655.1L16.3,655.3M23.1,654.3L15.7,654.3M23.1,653.5L15.2,653.4M23.1,652.6L16.3,652.4M23.2,651.8L15.3,651.4M23.2,651L16.1,650.5M23.3,650.2L15.5,649.5M23.3,649.3L16.2,648.6M23.4,648.5L16.7,647.7M23.5,647.7L16.9,646.8M23.7,646.9L17.2,645.9M23.8,646.1L16.1,644.7M24,645.3L16.8,643.9M24.1,644.5L17.6,643.1M24.3,643.7L16.3,641.8M24.5,642.9L17,640.9M24.7,642.1L18.5,640.4M24.9,641.3L17.3,639M25.2,640.5L17.9,638.2M25.4,639.7L18.5,637.4M25.7,638.9L18.7,636.4M26,638.2L18.1,635.2M26.3,637.4L19.6,634.7M26.6,636.6L19.5,633.6M26.9,635.9L19.8,632.8M27.3,635.1L20.8,632.1M27.6,634.4L21.2,631.3M28,633.7L20.9,630M28.4,632.9L21.5,629.3M28.7,632.2L22.3,628.6M29.2,631.5L22.7,627.7M29.6,630.8L23.7,627.2M30,630.1L23.2,625.8M30.5,629.4L25.1,625.9M30.9,628.7L24.5,624.3M31.4,628L25.4,623.8M31.9,627.4L26.4,623.3M32.4,626.7L26.3,622.1M32.9,626L26.9,621.3M33.4,625.4L28.3,621.2M33.9,624.8L28.3,620M34.4,624.2L29.4,619.7" stroke="#7c7c7c" stroke-width="0.6" stroke-dasharray="1.3 0.35 0.7 0.3 1.0 0.4" fill="none"/>
<path d="M33.9,623.3L28.6,618.5M35.2,621.9L30.7,617.5M36.6,620.5L32.3,616M38,619.3L34.1,614.7M39.5,618L35.9,613.5M41,616.9L37.5,612M42.6,615.8L39.3,610.8M44.2,614.7L40.7,608.9M45.9,613.8L42.4,607.5M47.6,612.9L44.9,607.5M49.3,612.1L47,606.7M51.1,611.3L48.7,605.2M52.9,610.7L51,605.1M54.7,610.1L52.9,603.9M56.6,609.5L54.8,602.7M58.5,609.1L57.2,603.2" stroke="#444" stroke-width="0.6" stroke-dasharray="1.1 0.25" fill="none"/>
<g fill="#b2df8a" fill-opacity="0.08"><path d="M48.9,689.9L48.5,689.7Q68,654 89.6,688.5L89.5,688.5Q68,654 48.9,689.9Z"/></g>
<g fill="#b2df8a" fill-opacity="0.55"><path d="M77.2,614.3A40.7,40.7 0 0 1 106.5,640.7Q68,654 89.5,688.5A40.7,40.7 0 0 1 51.7,691.3Q68,654 77.2,614.3Z"/></g>
<g fill="#b2df8a" fill-opacity="0.44"><path d="M44.9,620.5L45.1,620.4Q68,654 51.7,691.3L51.6,691.3Q68,654 44.9,620.5Z"/><path d="M43.6,621.4L43.8,621.3Q68,654 51.6,691.3L51.6,691.3Q68,654 43.6,621.4Z"/><path d="M42.4,622.4L42.6,622.2Q68,654 51.6,691.3L51.6,691.2Q68,654 42.4,622.4Z"/><path d="M41.2,623.4L41.4,623.2Q68,654 51.6,691.2L51.5,691.2Q68,654 41.2,623.4Z"/><path d="M40,624.4L40.2,624.3Q68,654 51.5,691.2L51.5,691.2Q68,654 40,624.4Z"/><path d="M38.9,625.5L39,625.4Q68,654 51.5,691.2L51.4,691.2Q68,654 38.9,625.5Z"/><path d="M37.8,626.7L37.9,626.6Q68,654 51.4,691.2L51.4,691.2Q68,654 37.8,626.7Z"/><path d="M36.8,627.8L37.1,627.5Q68,654 51.4,691.2L51.3,691.1Q68,654 36.8,627.8Z"/></g>
<g fill="#b2df8a" fill-opacity="0.17"><path d="M36.5,628.3L36.8,627.8Q68,654 51.3,691.1L51.3,691.1Q68,654 36.5,628.3Z"/><path d="M35.8,629.2L36.1,628.7Q68,654 51.3,691.1L51.2,691.1Q68,654 35.8,629.2Z"/><path d="M35.1,630.1L35.4,629.6Q68,654 51.2,691.1L51.1,691Q68,654 35.1,630.1Z"/><path d="M34.4,631L34.8,630.5Q68,654 51.1,691L51.1,691Q68,654 34.4,631Z"/><path d="M33.8,632L34.1,631.5Q68,654 51.1,691L51,691Q68,654 33.8,632Z"/><path d="M33.2,632.9L33.5,632.4Q68,654 51,691L50.9,691Q68,654 33.2,632.9Z"/><path d="M32.6,633.9L32.9,633.5Q68,654 50.9,691L50.9,690.9Q68,654 32.6,633.9Z"/><path d="M32.1,634.9L32.3,634.5Q68,654 50.9,690.9L50.8,690.9Q68,654 32.1,634.9Z"/><path d="M31.5,635.9L31.8,635.3Q68,654 50.8,690.9L50.8,690.9Q68,654 31.5,635.9Z"/><path d="M31.1,636.9L31.3,636.5Q68,654 50.8,690.9L50.7,690.9Q68,654 31.1,636.9Z"/><path d="M30.6,638L30.8,637.4Q68,654 50.7,690.9L50.7,690.8Q68,654 30.6,638Z"/><path d="M30.2,639L30.4,638.5Q68,654 50.7,690.8L50.6,690.8Q68,654 30.2,639Z"/><path d="M29.8,640.1L30,639.5Q68,654 50.6,690.8L50.5,690.8Q68,654 29.8,640.1Z"/><path d="M29.4,641.2L29.5,640.7Q68,654 50.5,690.8L50.5,690.7Q68,654 29.4,641.2Z"/><path d="M29,642.2L29.2,641.8Q68,654 50.5,690.7L50.4,690.7Q68,654 29,642.2Z"/><path d="M28.7,643.3L28.9,642.8Q68,654 50.4,690.7L50.4,690.7Q68,654 28.7,643.3Z"/><path d="M28.4,644.4L28.6,643.9Q68,654 50.4,690.7L50.3,690.7Q68,654 28.4,644.4Z"/><path d="M28.2,645.5L28.3,645Q68,654 50.3,690.7L50.2,690.6Q68,654 28.2,645.5Z"/><path d="M28,646.7L28.1,646Q68,654 50.2,690.6L50.2,690.6Q68,654 28,646.7Z"/><path d="M27.8,647.8L27.9,647.3Q68,654 50.2,690.6L50.1,690.6Q68,654 27.8,647.8Z"/><path d="M27.6,648.9L27.7,648.2Q68,654 50.1,690.6L50.1,690.5Q68,654 27.6,648.9Z"/><path d="M27.5,650L27.5,649.6Q68,654 50.1,690.5L50,690.5Q68,654 27.5,650Z"/><path d="M27.4,651.2L27.4,650.7Q68,654 50,690.5L50,690.5Q68,654 27.4,651.2Z"/><path d="M27.3,652.3L27.4,651.8Q68,654 50,690.5L49.9,690.5Q68,654 27.3,652.3Z"/><path d="M27.3,653.4L27.3,652.8Q68,654 49.9,690.5L49.8,690.4Q68,654 27.3,653.4Z"/><path d="M27.3,654.6L27.3,654Q68,654 49.8,690.4L49.8,690.4Q68,654 27.3,654.6Z"/><path d="M27.3,655.7L27.3,655.1Q68,654 49.8,690.4L49.7,690.4Q68,654 27.3,655.7Z"/><path d="M27.4,656.8L27.4,656.2Q68,654 49.7,690.4L49.6,690.3Q68,654 27.4,656.8Z"/><path d="M27.5,658L27.5,657.5Q68,654 49.6,690.3L49.6,690.3Q68,654 27.5,658Z"/><path d="M27.6,659.1L27.5,658.4Q68,654 49.6,690.3L49.5,690.3Q68,654 27.6,659.1Z"/><path d="M27.8,660.2L27.7,659.8Q68,654 49.5,690.3L49.5,690.2Q68,654 27.8,660.2Z"/><path d="M28,661.3L27.9,660.8Q68,654 49.5,690.2L49.4,690.2Q68,654 28,661.3Z"/><path d="M28.2,662.5L28.1,661.9Q68,654 49.4,690.2L49.3,690.2Q68,654 28.2,662.5Z"/><path d="M28.4,663.6L28.3,662.9Q68,654 49.3,690.2L49.3,690.1Q68,654 28.4,663.6Z"/><path d="M28.7,664.7L28.6,664.1Q68,654 49.3,690.1L49.2,690.1Q68,654 28.7,664.7Z"/><path d="M29,665.8L28.9,665.1Q68,654 49.2,690.1L49.1,690.1Q68,654 29,665.8Z"/><path d="M29.4,666.8L29.2,666.2Q68,654 49.1,690.1L49.1,690Q68,654 29.4,666.8Z"/><path d="M29.8,667.9L29.5,667.3Q68,654 49.1,690L49,690Q68,654 29.8,667.9Z"/></g>
<g fill="#b2df8a" fill-opacity="0.08"><path d="M30.1,668.9L29.9,668.4Q68,654 49,690L49,690Q68,654 30.1,668.9Z"/><path d="M30.5,669.9L30.3,669.4Q68,654 49,690L49,690Q68,654 30.5,669.9Z"/><path d="M31,670.9L30.8,670.5Q68,654 49,690L48.9,690Q68,654 31,670.9Z"/><path d="M31.4,671.8L31.2,671.4Q68,654 48.9,690L48.9,689.9Q68,654 31.4,671.8Z"/><path d="M31.9,672.8L31.6,672.3Q68,654 48.9,689.9L48.9,689.9Q68,654 31.9,672.8Z"/><path d="M32.4,673.7L32.2,673.3Q68,654 48.9,689.9L48.8,689.9Q68,654 32.4,673.7Z"/><path d="M32.9,674.7L32.6,674.1Q68,654 48.8,689.9L48.8,689.9Q68,654 32.9,674.7Z"/><path d="M33.5,675.6L33.2,675.1Q68,654 48.8,689.9L48.8,689.9Q68,654 33.5,675.6Z"/><path d="M34.1,676.5L33.7,676Q68,654 48.8,689.9L48.8,689.9Q68,654 34.1,676.5Z"/><path d="M34.7,677.3L34.4,676.9Q68,654 48.8,689.9L48.7,689.8Q68,654 34.7,677.3Z"/><path d="M35.3,678.2L35,677.8Q68,654 48.7,689.8L48.7,689.8Q68,654 35.3,678.2Z"/><path d="M35.9,679.1L35.6,678.6Q68,654 48.7,689.8L48.7,689.8Q68,654 35.9,679.1Z"/><path d="M36.6,679.9L36.3,679.5Q68,654 48.7,689.8L48.6,689.8Q68,654 36.6,679.9Z"/><path d="M37.3,680.7L37,680.3Q68,654 48.6,689.8L48.6,689.8Q68,654 37.3,680.7Z"/><path d="M38,681.5L37.7,681.1Q68,654 48.6,689.8L48.6,689.8Q68,654 38,681.5Z"/><path d="M38.7,682.3L38.3,681.9Q68,654 48.6,689.8L48.6,689.8Q68,654 38.7,682.3Z"/><path d="M39.5,683L39.1,682.7Q68,654 48.6,689.8L48.5,689.7Q68,654 39.5,683Z"/><path d="M40.2,683.8L39.9,683.4Q68,654 48.5,689.7L48.5,689.7Q68,654 40.2,683.8Z"/><path d="M41,684.5L40.6,684.1Q68,654 48.5,689.7L48.5,689.7Q68,654 41,684.5Z"/><path d="M41.8,685.2L41.5,684.9Q68,654 48.5,689.7L48.5,689.7Q68,654 41.8,685.2Z"/><path d="M42.7,685.9L42.2,685.5Q68,654 48.5,689.7L48.4,689.7Q68,654 42.7,685.9Z"/><path d="M43.5,686.5L43.1,686.2Q68,654 48.4,689.7L48.4,689.7Q68,654 43.5,686.5Z"/><path d="M44.4,687.1L43.8,686.8Q68,654 48.4,689.7L48.4,689.7Q68,654 44.4,687.1Z"/><path d="M45.2,687.7L44.9,687.5Q68,654 48.4,689.7L48.3,689.6Q68,654 45.2,687.7Z"/><path d="M46.1,688.3L45.7,688.1Q68,654 48.3,689.6L48.3,689.6Q68,654 46.1,688.3Z"/><path d="M47,688.9L46.6,688.6Q68,654 48.3,689.6L48.3,689.6Q68,654 47,688.9Z"/><path d="M48,689.4L47.6,689.2Q68,654 48.3,689.6L48.3,689.6Q68,654 48,689.4Z"/></g>
<g fill="#a6cee3" fill-opacity="0.5"><path d="M50.4,617.3A40.7,40.7 0 0 1 52.8,616.3Q68,654 108.6,651.2A40.7,40.7 0 0 1 108.7,653.6Q68,654 50.4,617.3Z"/></g>
<g fill="#a6cee3" fill-opacity="0.4"><path d="M45.7,619.9L45.8,619.9Q68,654 108.7,653.6L108.7,653.6Q68,654 45.7,619.9Z"/><path d="M44.4,620.9L44.5,620.8Q68,654 108.7,653.6L108.7,653.7Q68,654 44.4,620.9Z"/><path d="M43.1,621.8L43.1,621.8Q68,654 108.7,653.7L108.7,653.8Q68,654 43.1,621.8Z"/><path d="M42,622.7L42.1,622.6Q68,654 108.7,653.8L108.7,653.9Q68,654 42,622.7Z"/><path d="M40.7,623.8L40.8,623.7Q68,654 108.7,653.9L108.7,654Q68,654 40.7,623.8Z"/><path d="M39.6,624.9L39.6,624.8Q68,654 108.7,654L108.7,654Q68,654 39.6,624.9Z"/><path d="M38.5,626L38.6,625.9Q68,654 108.7,654L108.7,654.1Q68,654 38.5,626Z"/><path d="M37.5,627L37.6,626.9Q68,654 108.7,654.1L108.7,654.1Q68,654 37.5,627Z"/></g>
<g fill="#a6cee3" fill-opacity="0.15"><path d="M36.9,627.7L37,627.7Q68,654 108.7,654.1L108.7,654.2Q68,654 36.9,627.7Z"/><path d="M36.2,628.6L36.3,628.5Q68,654 108.7,654.2L108.7,654.2Q68,654 36.2,628.6Z"/><path d="M35.5,629.5L35.6,629.4Q68,654 108.7,654.2L108.7,654.2Q68,654 35.5,629.5Z"/><path d="M34.9,630.4L34.9,630.3Q68,654 108.7,654.2L108.7,654.3Q68,654 34.9,630.4Z"/><path d="M34.2,631.4L34.2,631.3Q68,654 108.7,654.3L108.7,654.3Q68,654 34.2,631.4Z"/><path d="M33.5,632.3L33.6,632.3Q68,654 108.7,654.3L108.7,654.3Q68,654 33.5,632.3Z"/><path d="M32.9,633.4L33,633.3Q68,654 108.7,654.3L108.7,654.3Q68,654 32.9,633.4Z"/><path d="M32.4,634.3L32.4,634.2Q68,654 108.7,654.3L108.7,654.4Q68,654 32.4,634.3Z"/><path d="M31.9,635.2L31.9,635.2Q68,654 108.7,654.4L108.7,654.4Q68,654 31.9,635.2Z"/><path d="M31.4,636.3L31.4,636.2Q68,654 108.7,654.4L108.7,654.4Q68,654 31.4,636.3Z"/><path d="M30.9,637.3L30.9,637.2Q68,654 108.7,654.4L108.7,654.4Q68,654 30.9,637.3Z"/><path d="M30.4,638.3L30.5,638.3Q68,654 108.7,654.4L108.7,654.5Q68,654 30.4,638.3Z"/><path d="M30,639.4L30,639.3Q68,654 108.7,654.5L108.7,654.5Q68,654 30,639.4Z"/><path d="M29.6,640.5L29.6,640.5Q68,654 108.7,654.5L108.7,654.5Q68,654 29.6,640.5Z"/><path d="M29.2,641.7L29.2,641.6Q68,654 108.7,654.5L108.7,654.5Q68,654 29.2,641.7Z"/><path d="M28.9,642.7L28.9,642.6Q68,654 108.7,654.5L108.7,654.6Q68,654 28.9,642.7Z"/><path d="M28.6,643.8L28.6,643.7Q68,654 108.7,654.6L108.7,654.6Q68,654 28.6,643.8Z"/><path d="M28.3,644.9L28.3,644.8Q68,654 108.7,654.6L108.7,654.6Q68,654 28.3,644.9Z"/><path d="M28.1,645.9L28.1,645.8Q68,654 108.7,654.6L108.7,654.6Q68,654 28.1,645.9Z"/><path d="M27.9,647.1L27.9,646.9Q68,654 108.7,654.6L108.7,654.7Q68,654 27.9,647.1Z"/><path d="M27.7,648.1L27.7,648Q68,654 108.7,654.7L108.7,654.7Q68,654 27.7,648.1Z"/><path d="M27.6,649.4L27.6,649.3Q68,654 108.7,654.7L108.7,654.7Q68,654 27.6,649.4Z"/><path d="M27.4,650.5L27.5,650.4Q68,654 108.7,654.7L108.7,654.8Q68,654 27.4,650.5Z"/><path d="M27.4,651.6L27.4,651.5Q68,654 108.7,654.8L108.7,654.8Q68,654 27.4,651.6Z"/><path d="M27.3,652.7L27.3,652.6Q68,654 108.7,654.8L108.7,654.8Q68,654 27.3,652.7Z"/><path d="M27.3,653.9L27.3,653.8Q68,654 108.7,654.8L108.7,654.9Q68,654 27.3,653.9Z"/><path d="M27.3,655L27.3,654.9Q68,654 108.7,654.9L108.7,654.9Q68,654 27.3,655Z"/><path d="M27.4,656.1L27.4,656Q68,654 108.7,654.9L108.7,654.9Q68,654 27.4,656.1Z"/><path d="M27.4,657.3L27.4,657.2Q68,654 108.7,654.9L108.7,654.9Q68,654 27.4,657.3Z"/><path d="M27.5,658.3L27.5,658.2Q68,654 108.7,654.9L108.7,654.9Q68,654 27.5,658.3Z"/><path d="M27.7,659.6L27.7,659.5Q68,654 108.7,654.9L108.7,655Q68,654 27.7,659.6Z"/><path d="M27.8,660.6L27.8,660.5Q68,654 108.7,655L108.7,655Q68,654 27.8,660.6Z"/><path d="M28,661.7L28,661.7Q68,654 108.7,655L108.7,655Q68,654 28,661.7Z"/><path d="M28.3,662.8L28.2,662.7Q68,654 108.7,655L108.7,655Q68,654 28.3,662.8Z"/><path d="M28.6,664L28.5,664Q68,654 108.7,655L108.7,655Q68,654 28.6,664Z"/><path d="M28.8,665L28.8,665Q68,654 108.7,655L108.7,655Q68,654 28.8,665Z"/><path d="M29.1,666.1L29.1,666Q68,654 108.7,655L108.7,655.1Q68,654 29.1,666.1Z"/><path d="M29.5,667.2L29.5,667.1Q68,654 108.7,655.1L108.7,655.1Q68,654 29.5,667.2Z"/></g>
<g fill="#a6cee3" fill-opacity="0.07"><path d="M29.9,668.3L29.9,668.2Q68,654 108.7,655.1L108.7,655.1Q68,654 29.9,668.3Z"/><path d="M30.3,669.3L30.3,669.3Q68,654 108.7,655.1L108.7,655.1Q68,654 30.3,669.3Z"/><path d="M30.7,670.4L30.7,670.3Q68,654 108.7,655.1L108.7,655.1Q68,654 30.7,670.4Z"/><path d="M31.1,671.2L31.1,671.1Q68,654 108.7,655.1L108.7,655.1Q68,654 31.1,671.2Z"/><path d="M31.6,672.2L31.6,672.2Q68,654 108.7,655.1L108.7,655.1Q68,654 31.6,672.2Z"/><path d="M32.1,673.1L32,673Q68,654 108.7,655.1L108.7,655.2Q68,654 32.1,673.1Z"/><path d="M32.6,674L32.5,673.9Q68,654 108.7,655.2L108.7,655.2Q68,654 32.6,674Z"/><path d="M33.1,675L33.1,675Q68,654 108.7,655.2L108.7,655.2Q68,654 33.1,675Z"/><path d="M33.6,675.8L33.6,675.8Q68,654 108.7,655.2L108.7,655.2Q68,654 33.6,675.8Z"/><path d="M34.3,676.9L34.3,676.8Q68,654 108.7,655.2L108.7,655.2Q68,654 34.3,676.9Z"/><path d="M34.9,677.7L34.8,677.6Q68,654 108.7,655.2L108.7,655.2Q68,654 34.9,677.7Z"/><path d="M35.5,678.4L35.4,678.4Q68,654 108.7,655.2L108.7,655.2Q68,654 35.5,678.4Z"/><path d="M36.1,679.3L36.1,679.2Q68,654 108.7,655.2L108.7,655.2Q68,654 36.1,679.3Z"/><path d="M36.9,680.3L36.9,680.2Q68,654 108.7,655.2L108.7,655.2Q68,654 36.9,680.3Z"/><path d="M37.5,681L37.5,681Q68,654 108.7,655.2L108.7,655.2Q68,654 37.5,681Z"/><path d="M38.2,681.8L38.2,681.7Q68,654 108.7,655.2L108.7,655.3Q68,654 38.2,681.8Z"/><path d="M39,682.5L38.9,682.4Q68,654 108.7,655.3L108.7,655.3Q68,654 39,682.5Z"/><path d="M39.8,683.3L39.7,683.3Q68,654 108.7,655.3L108.7,655.3Q68,654 39.8,683.3Z"/><path d="M40.5,684L40.5,684Q68,654 108.7,655.3L108.7,655.3Q68,654 40.5,684Z"/><path d="M41.3,684.7L41.2,684.6Q68,654 108.7,655.3L108.7,655.3Q68,654 41.3,684.7Z"/><path d="M42.1,685.4L42,685.3Q68,654 108.7,655.3L108.7,655.3Q68,654 42.1,685.4Z"/><path d="M43,686.1L42.9,686.1Q68,654 108.7,655.3L108.7,655.3Q68,654 43,686.1Z"/><path d="M43.8,686.7L43.7,686.7Q68,654 108.7,655.3L108.7,655.4Q68,654 43.8,686.7Z"/><path d="M44.7,687.4L44.6,687.3Q68,654 108.7,655.4L108.7,655.4Q68,654 44.7,687.4Z"/><path d="M45.7,688L45.6,688Q68,654 108.7,655.4L108.7,655.4Q68,654 45.7,688Z"/><path d="M46.4,688.5L46.3,688.4Q68,654 108.7,655.4L108.7,655.4Q68,654 46.4,688.5Z"/><path d="M47.4,689.1L47.3,689.1Q68,654 108.7,655.4L108.7,655.4Q68,654 47.4,689.1Z"/><path d="M48.4,689.7L48.3,689.6Q68,654 108.7,655.4L108.7,655.4Q68,654 48.4,689.7Z"/></g>
<g fill="#1f78b4" fill-opacity="0.45"><path d="M63.7,613.5A40.7,40.7 0 0 1 75.8,614Q68,654 108.5,657.5A40.7,40.7 0 0 1 105.2,670.6Q68,654 63.7,613.5Z"/></g>
<g fill="#1f78b4" fill-opacity="0.36"><path d="M45.6,620L45.7,619.9Q68,654 105.2,670.6L105.2,670.6Q68,654 45.6,620Z"/><path d="M44.1,621L44.4,620.9Q68,654 105.2,670.6L105.1,670.7Q68,654 44.1,621Z"/><path d="M43,621.9L43.1,621.8Q68,654 105.1,670.7L105.1,670.8Q68,654 43,621.9Z"/><path d="M41.7,622.9L42,622.7Q68,654 105.1,670.8L105,670.9Q68,654 41.7,622.9Z"/><path d="M40.6,623.9L40.7,623.8Q68,654 105,670.9L105,670.9Q68,654 40.6,623.9Z"/><path d="M39.4,625L39.6,624.9Q68,654 105,670.9L105,671Q68,654 39.4,625Z"/><path d="M38.4,626.1L38.5,626Q68,654 105,671L105,671.1Q68,654 38.4,626.1Z"/><path d="M37.4,627.2L37.5,627Q68,654 105,671.1L104.9,671.1Q68,654 37.4,627.2Z"/></g>
<g fill="#1f78b4" fill-opacity="0.14"><path d="M36.9,627.8L36.9,627.7Q68,654 104.9,671.1L104.9,671.2Q68,654 36.9,627.8Z"/><path d="M36.2,628.6L36.2,628.6Q68,654 104.9,671.2L104.9,671.2Q68,654 36.2,628.6Z"/><path d="M35.5,629.5L35.5,629.5Q68,654 104.9,671.2L104.9,671.2Q68,654 35.5,629.5Z"/><path d="M34.8,630.4L34.9,630.4Q68,654 104.9,671.2L104.9,671.2Q68,654 34.8,630.4Z"/><path d="M34.1,631.4L34.2,631.4Q68,654 104.9,671.2L104.9,671.2Q68,654 34.1,631.4Z"/><path d="M33.5,632.4L33.5,632.3Q68,654 104.9,671.2L104.9,671.2Q68,654 33.5,632.4Z"/><path d="M32.9,633.4L32.9,633.4Q68,654 104.9,671.2L104.9,671.2Q68,654 32.9,633.4Z"/><path d="M32.3,634.4L32.4,634.3Q68,654 104.9,671.2L104.9,671.2Q68,654 32.3,634.4Z"/><path d="M31.9,635.3L31.9,635.2Q68,654 104.9,671.2L104.9,671.3Q68,654 31.9,635.3Z"/><path d="M31.3,636.4L31.4,636.3Q68,654 104.9,671.3L104.9,671.3Q68,654 31.3,636.4Z"/><path d="M30.9,637.4L30.9,637.3Q68,654 104.9,671.3L104.8,671.3Q68,654 30.9,637.4Z"/><path d="M30.4,638.4L30.4,638.3Q68,654 104.8,671.3L104.8,671.3Q68,654 30.4,638.4Z"/><path d="M30,639.4L30,639.4Q68,654 104.8,671.3L104.8,671.3Q68,654 30,639.4Z"/><path d="M29.6,640.6L29.6,640.5Q68,654 104.8,671.3L104.8,671.3Q68,654 29.6,640.6Z"/><path d="M29.2,641.8L29.2,641.7Q68,654 104.8,671.3L104.8,671.3Q68,654 29.2,641.8Z"/><path d="M28.9,642.7L28.9,642.7Q68,654 104.8,671.3L104.8,671.3Q68,654 28.9,642.7Z"/><path d="M28.6,643.9L28.6,643.8Q68,654 104.8,671.3L104.8,671.4Q68,654 28.6,643.9Z"/><path d="M28.3,645L28.3,644.9Q68,654 104.8,671.4L104.8,671.4Q68,654 28.3,645Z"/><path d="M28.1,646L28.1,645.9Q68,654 104.8,671.4L104.8,671.4Q68,654 28.1,646Z"/><path d="M27.9,647.2L27.9,647.1Q68,654 104.8,671.4L104.8,671.4Q68,654 27.9,647.2Z"/><path d="M27.7,648.2L27.7,648.1Q68,654 104.8,671.4L104.8,671.4Q68,654 27.7,648.2Z"/><path d="M27.5,649.5L27.6,649.4Q68,654 104.8,671.4L104.8,671.4Q68,654 27.5,649.5Z"/><path d="M27.4,650.6L27.4,650.5Q68,654 104.8,671.4L104.8,671.4Q68,654 27.4,650.6Z"/><path d="M27.4,651.7L27.4,651.6Q68,654 104.8,671.4L104.8,671.5Q68,654 27.4,651.7Z"/><path d="M27.3,652.8L27.3,652.7Q68,654 104.8,671.5L104.8,671.5Q68,654 27.3,652.8Z"/><path d="M27.3,653.9L27.3,653.9Q68,654 104.8,671.5L104.8,671.5Q68,654 27.3,653.9Z"/><path d="M27.3,655L27.3,655Q68,654 104.8,671.5L104.7,671.5Q68,654 27.3,655Z"/><path d="M27.4,656.1L27.4,656.1Q68,654 104.7,671.5L104.7,671.5Q68,654 27.4,656.1Z"/><path d="M27.4,657.4L27.4,657.3Q68,654 104.7,671.5L104.7,671.5Q68,654 27.4,657.4Z"/><path d="M27.5,658.4L27.5,658.3Q68,654 104.7,671.5L104.7,671.5Q68,654 27.5,658.4Z"/><path d="M27.7,659.7L27.7,659.6Q68,654 104.7,671.5L104.7,671.5Q68,654 27.7,659.7Z"/><path d="M27.9,660.7L27.8,660.6Q68,654 104.7,671.5L104.7,671.6Q68,654 27.9,660.7Z"/><path d="M28.1,661.8L28,661.7Q68,654 104.7,671.6L104.7,671.6Q68,654 28.1,661.8Z"/><path d="M28.3,662.9L28.3,662.8Q68,654 104.7,671.6L104.7,671.6Q68,654 28.3,662.9Z"/><path d="M28.6,664.1L28.6,664Q68,654 104.7,671.6L104.7,671.6Q68,654 28.6,664.1Z"/><path d="M28.8,665.1L28.8,665Q68,654 104.7,671.6L104.7,671.6Q68,654 28.8,665.1Z"/><path d="M29.2,666.2L29.1,666.1Q68,654 104.7,671.6L104.7,671.6Q68,654 29.2,666.2Z"/><path d="M29.5,667.3L29.5,667.2Q68,654 104.7,671.6L104.7,671.7Q68,654 29.5,667.3Z"/></g>
<g fill="#1f78b4" fill-opacity="0.07"><path d="M29.9,668.4L29.9,668.3Q68,654 104.7,671.7L104.7,671.7Q68,654 29.9,668.4Z"/><path d="M30.3,669.4L30.3,669.3Q68,654 104.7,671.7L104.7,671.7Q68,654 30.3,669.4Z"/><path d="M30.8,670.4L30.7,670.4Q68,654 104.7,671.7L104.7,671.7Q68,654 30.8,670.4Z"/><path d="M31.2,671.3L31.1,671.2Q68,654 104.7,671.7L104.7,671.7Q68,654 31.2,671.3Z"/><path d="M31.6,672.3L31.6,672.2Q68,654 104.7,671.7L104.7,671.7Q68,654 31.6,672.3Z"/><path d="M32.1,673.2L32.1,673.1Q68,654 104.7,671.7L104.7,671.7Q68,654 32.1,673.2Z"/><path d="M32.6,674.1L32.6,674Q68,654 104.7,671.7L104.7,671.7Q68,654 32.6,674.1Z"/><path d="M33.2,675.1L33.1,675Q68,654 104.7,671.7L104.6,671.7Q68,654 33.2,675.1Z"/><path d="M33.7,675.9L33.6,675.8Q68,654 104.6,671.7L104.6,671.7Q68,654 33.7,675.9Z"/><path d="M34.4,676.9L34.3,676.9Q68,654 104.6,671.7L104.6,671.7Q68,654 34.4,676.9Z"/><path d="M34.9,677.7L34.9,677.7Q68,654 104.6,671.7L104.6,671.7Q68,654 34.9,677.7Z"/><path d="M35.5,678.5L35.5,678.4Q68,654 104.6,671.7L104.6,671.7Q68,654 35.5,678.5Z"/><path d="M36.2,679.4L36.1,679.3Q68,654 104.6,671.7L104.6,671.7Q68,654 36.2,679.4Z"/><path d="M36.9,680.3L36.9,680.3Q68,654 104.6,671.7L104.6,671.7Q68,654 36.9,680.3Z"/><path d="M37.6,681.1L37.5,681Q68,654 104.6,671.7L104.6,671.7Q68,654 37.6,681.1Z"/><path d="M38.3,681.8L38.2,681.8Q68,654 104.6,671.7L104.6,671.8Q68,654 38.3,681.8Z"/><path d="M39.1,682.6L39,682.5Q68,654 104.6,671.8L104.6,671.8Q68,654 39.1,682.6Z"/><path d="M39.8,683.4L39.8,683.3Q68,654 104.6,671.8L104.6,671.8Q68,654 39.8,683.4Z"/><path d="M40.6,684.1L40.5,684Q68,654 104.6,671.8L104.6,671.8Q68,654 40.6,684.1Z"/><path d="M41.4,684.8L41.3,684.7Q68,654 104.6,671.8L104.6,671.8Q68,654 41.4,684.8Z"/><path d="M42.2,685.5L42.1,685.4Q68,654 104.6,671.8L104.6,671.8Q68,654 42.2,685.5Z"/><path d="M43.1,686.2L43,686.1Q68,654 104.6,671.8L104.6,671.8Q68,654 43.1,686.2Z"/><path d="M43.8,686.7L43.8,686.7Q68,654 104.6,671.8L104.6,671.8Q68,654 43.8,686.7Z"/><path d="M44.7,687.4L44.7,687.4Q68,654 104.6,671.8L104.6,671.8Q68,654 44.7,687.4Z"/><path d="M45.7,688L45.7,688Q68,654 104.6,671.8L104.6,671.8Q68,654 45.7,688Z"/><path d="M46.5,688.5L46.4,688.5Q68,654 104.6,671.8L104.6,671.8Q68,654 46.5,688.5Z"/><path d="M47.5,689.1L47.4,689.1Q68,654 104.6,671.8L104.6,671.8Q68,654 47.5,689.1Z"/><path d="M48.5,689.7L48.4,689.7Q68,654 104.6,671.8L104.6,671.8Q68,654 48.5,689.7Z"/></g>
<g fill="#33a02c" fill-opacity="0.5"><path d="M53.4,616A40.7,40.7 0 0 1 63,613.6Q68,654 103.9,673.1A40.7,40.7 0 0 1 94.8,684.6Q68,654 53.4,616Z"/><path d="M47,619.1A40.7,40.7 0 0 1 50.4,617.3Q68,654 94.8,684.6A40.7,40.7 0 0 1 92.6,686.4Q68,654 47,619.1Z"/></g>
<g fill="#33a02c" fill-opacity="0.4"><path d="M45.1,620.4L45.6,620Q68,654 92.6,686.4L92.4,686.6Q68,654 45.1,620.4Z"/><path d="M43.8,621.3L44.1,621Q68,654 92.4,686.6L92.3,686.7Q68,654 43.8,621.3Z"/><path d="M42.6,622.2L43,621.9Q68,654 92.3,686.7L92,686.8Q68,654 42.6,622.2Z"/><path d="M41.4,623.2L41.7,622.9Q68,654 92,686.8L91.9,687Q68,654 41.4,623.2Z"/><path d="M40.2,624.3L40.6,623.9Q68,654 91.9,687L91.6,687.1Q68,654 40.2,624.3Z"/><path d="M39,625.4L39.4,625Q68,654 91.6,687.1L91.4,687.3Q68,654 39,625.4Z"/><path d="M37.9,626.6L38.4,626.1Q68,654 91.4,687.3L91.2,687.5Q68,654 37.9,626.6Z"/><path d="M37.1,627.5L37.4,627.2Q68,654 91.2,687.5L91,687.6Q68,654 37.1,627.5Z"/></g>
<g fill="#33a02c" fill-opacity="0.15"><path d="M36.8,627.8L36.9,627.8Q68,654 91,687.6L91,687.6Q68,654 36.8,627.8Z"/><path d="M36.1,628.7L36.2,628.6Q68,654 91,687.6L90.9,687.6Q68,654 36.1,628.7Z"/><path d="M35.4,629.6L35.5,629.5Q68,654 90.9,687.6L90.9,687.6Q68,654 35.4,629.6Z"/><path d="M34.8,630.5L34.8,630.4Q68,654 90.9,687.6L90.9,687.6Q68,654 34.8,630.5Z"/><path d="M34.1,631.5L34.1,631.4Q68,654 90.9,687.6L90.9,687.7Q68,654 34.1,631.5Z"/><path d="M33.5,632.4L33.5,632.4Q68,654 90.9,687.7L90.9,687.7Q68,654 33.5,632.4Z"/><path d="M32.9,633.5L32.9,633.4Q68,654 90.9,687.7L90.9,687.7Q68,654 32.9,633.5Z"/><path d="M32.3,634.5L32.3,634.4Q68,654 90.9,687.7L90.8,687.7Q68,654 32.3,634.5Z"/><path d="M31.8,635.3L31.9,635.3Q68,654 90.8,687.7L90.8,687.7Q68,654 31.8,635.3Z"/><path d="M31.3,636.5L31.3,636.4Q68,654 90.8,687.7L90.8,687.7Q68,654 31.3,636.5Z"/><path d="M30.8,637.4L30.9,637.4Q68,654 90.8,687.7L90.8,687.7Q68,654 30.8,637.4Z"/><path d="M30.4,638.5L30.4,638.4Q68,654 90.8,687.7L90.8,687.7Q68,654 30.4,638.5Z"/><path d="M30,639.5L30,639.4Q68,654 90.8,687.7L90.8,687.7Q68,654 30,639.5Z"/><path d="M29.5,640.7L29.6,640.6Q68,654 90.8,687.7L90.7,687.8Q68,654 29.5,640.7Z"/><path d="M29.2,641.8L29.2,641.8Q68,654 90.7,687.8L90.7,687.8Q68,654 29.2,641.8Z"/><path d="M28.9,642.8L28.9,642.7Q68,654 90.7,687.8L90.7,687.8Q68,654 28.9,642.8Z"/><path d="M28.6,643.9L28.6,643.9Q68,654 90.7,687.8L90.7,687.8Q68,654 28.6,643.9Z"/><path d="M28.3,645L28.3,645Q68,654 90.7,687.8L90.7,687.8Q68,654 28.3,645Z"/><path d="M28.1,646L28.1,646Q68,654 90.7,687.8L90.7,687.8Q68,654 28.1,646Z"/><path d="M27.9,647.3L27.9,647.2Q68,654 90.7,687.8L90.7,687.8Q68,654 27.9,647.3Z"/><path d="M27.7,648.2L27.7,648.2Q68,654 90.7,687.8L90.7,687.8Q68,654 27.7,648.2Z"/><path d="M27.5,649.6L27.5,649.5Q68,654 90.7,687.8L90.6,687.8Q68,654 27.5,649.6Z"/><path d="M27.4,650.7L27.4,650.6Q68,654 90.6,687.8L90.6,687.8Q68,654 27.4,650.7Z"/><path d="M27.4,651.8L27.4,651.7Q68,654 90.6,687.8L90.6,687.8Q68,654 27.4,651.8Z"/><path d="M27.3,652.8L27.3,652.8Q68,654 90.6,687.8L90.6,687.9Q68,654 27.3,652.8Z"/><path d="M27.3,654L27.3,653.9Q68,654 90.6,687.9L90.6,687.9Q68,654 27.3,654Z"/><path d="M27.3,655.1L27.3,655Q68,654 90.6,687.9L90.6,687.9Q68,654 27.3,655.1Z"/><path d="M27.4,656.2L27.4,656.1Q68,654 90.6,687.9L90.5,687.9Q68,654 27.4,656.2Z"/><path d="M27.5,657.5L27.4,657.4Q68,654 90.5,687.9L90.5,687.9Q68,654 27.5,657.5Z"/><path d="M27.5,658.4L27.5,658.4Q68,654 90.5,687.9L90.5,687.9Q68,654 27.5,658.4Z"/><path d="M27.7,659.8L27.7,659.7Q68,654 90.5,687.9L90.5,687.9Q68,654 27.7,659.8Z"/><path d="M27.9,660.8L27.9,660.7Q68,654 90.5,687.9L90.5,687.9Q68,654 27.9,660.8Z"/><path d="M28.1,661.9L28.1,661.8Q68,654 90.5,687.9L90.5,687.9Q68,654 28.1,661.9Z"/><path d="M28.3,662.9L28.3,662.9Q68,654 90.5,687.9L90.4,688Q68,654 28.3,662.9Z"/><path d="M28.6,664.1L28.6,664.1Q68,654 90.4,688L90.4,688Q68,654 28.6,664.1Z"/><path d="M28.9,665.1L28.8,665.1Q68,654 90.4,688L90.4,688Q68,654 28.9,665.1Z"/><path d="M29.2,666.2L29.2,666.2Q68,654 90.4,688L90.4,688Q68,654 29.2,666.2Z"/><path d="M29.5,667.3L29.5,667.3Q68,654 90.4,688L90.4,688Q68,654 29.5,667.3Z"/></g>
<g fill="#33a02c" fill-opacity="0.07"><path d="M29.9,668.4L29.9,668.4Q68,654 90.4,688L90.4,688Q68,654 29.9,668.4Z"/><path d="M30.3,669.4L30.3,669.4Q68,654 90.4,688L90.4,688Q68,654 30.3,669.4Z"/><path d="M30.8,670.5L30.8,670.4Q68,654 90.4,688L90.4,688Q68,654 30.8,670.5Z"/><path d="M31.2,671.4L31.2,671.3Q68,654 90.4,688L90.4,688Q68,654 31.2,671.4Z"/><path d="M31.6,672.3L31.6,672.3Q68,654 90.4,688L90.4,688Q68,654 31.6,672.3Z"/><path d="M32.2,673.3L32.1,673.2Q68,654 90.4,688L90.4,688Q68,654 32.2,673.3Z"/><path d="M32.6,674.1L32.6,674.1Q68,654 90.4,688L90.3,688Q68,654 32.6,674.1Z"/><path d="M33.2,675.1L33.2,675.1Q68,654 90.3,688L90.3,688Q68,654 33.2,675.1Z"/><path d="M33.7,676L33.7,675.9Q68,654 90.3,688L90.3,688Q68,654 33.7,676Z"/><path d="M34.4,676.9L34.4,676.9Q68,654 90.3,688L90.3,688Q68,654 34.4,676.9Z"/><path d="M35,677.8L34.9,677.7Q68,654 90.3,688L90.3,688Q68,654 35,677.8Z"/><path d="M35.6,678.6L35.5,678.5Q68,654 90.3,688L90.3,688Q68,654 35.6,678.6Z"/><path d="M36.3,679.5L36.2,679.4Q68,654 90.3,688L90.3,688.1Q68,654 36.3,679.5Z"/><path d="M37,680.3L36.9,680.3Q68,654 90.3,688.1L90.3,688.1Q68,654 37,680.3Z"/><path d="M37.7,681.1L37.6,681.1Q68,654 90.3,688.1L90.3,688.1Q68,654 37.7,681.1Z"/><path d="M38.3,681.9L38.3,681.8Q68,654 90.3,688.1L90.3,688.1Q68,654 38.3,681.9Z"/><path d="M39.1,682.7L39.1,682.6Q68,654 90.3,688.1L90.3,688.1Q68,654 39.1,682.7Z"/><path d="M39.9,683.4L39.8,683.4Q68,654 90.3,688.1L90.3,688.1Q68,654 39.9,683.4Z"/><path d="M40.6,684.1L40.6,684.1Q68,654 90.3,688.1L90.3,688.1Q68,654 40.6,684.1Z"/><path d="M41.5,684.9L41.4,684.8Q68,654 90.3,688.1L90.2,688.1Q68,654 41.5,684.9Z"/><path d="M42.2,685.5L42.2,685.5Q68,654 90.2,688.1L90.2,688.1Q68,654 42.2,685.5Z"/><path d="M43.1,686.2L43.1,686.2Q68,654 90.2,688.1L90.2,688.1Q68,654 43.1,686.2Z"/><path d="M43.8,686.8L43.8,686.7Q68,654 90.2,688.1L90.2,688.1Q68,654 43.8,686.8Z"/><path d="M44.9,687.5L44.7,687.4Q68,654 90.2,688.1L90.2,688.1Q68,654 44.9,687.5Z"/><path d="M45.7,688.1L45.7,688Q68,654 90.2,688.1L90.2,688.1Q68,654 45.7,688.1Z"/><path d="M46.6,688.6L46.5,688.5Q68,654 90.2,688.1L90.2,688.1Q68,654 46.6,688.6Z"/><path d="M47.6,689.2L47.5,689.1Q68,654 90.2,688.1L90.2,688.1Q68,654 47.6,689.2Z"/><path d="M48.5,689.7L48.5,689.7Q68,654 90.2,688.1L90.2,688.1Q68,654 48.5,689.7Z"/></g>
<path fill="#fcd9a0" d="M47.4,692.8L46.8,692.4L47.9,690.3L48.5,690.6ZM44.4,691L43.8,690.6L45.1,688.6L45.7,689ZM43.4,690.4L42.8,689.9L44.2,688L44.8,688.4ZM39.7,687.6L39.2,687.1L40.7,685.3L41.3,685.7ZM25.6,665.5L25.4,664.8L27.8,664.2L28,664.9Z"/><path fill="#c2a5cf" d="M46.4,692.2L45.7,691.8L46.9,689.8L47.5,690.1Z"/><path fill="#9bb8e0" d="M45.3,691.6L44.7,691.2L46,689.2L46.6,689.5ZM26.3,667.8L26.1,667L28.4,666.3L28.6,667ZM24.2,657L24.2,656.2L26.6,656.1L26.6,656.9ZM25.1,644.9L25.2,644.1L27.6,644.7L27.4,645.4ZM25.3,643.7L25.5,642.9L27.8,643.5L27.7,644.2ZM26.8,639L27,638.2L29.3,639.1L29,639.8Z"/><path fill="#b2df8a" d="M42.5,689.7L41.8,689.3L43.3,687.3L43.9,687.8ZM27.6,671.2L27.3,670.5L29.5,669.6L29.8,670.2ZM25.3,664.2L25.1,663.5L27.5,662.9L27.6,663.7ZM24.6,660.7L24.5,660L26.9,659.6L27,660.3ZM34,626.2L34.5,625.6L36.3,627.2L35.9,627.7ZM63.4,610.3A43.9,43.9 0 0 1 76.4,610.9L75.9,613.3A41.5,41.5 0 0 0 63.7,612.7ZM91.3,691.2A43.9,43.9 0 0 1 46.7,692.4L47.9,690.3A41.5,41.5 0 0 0 90,689.2Z"/><path fill="#fb9a99" d="M41.6,689.1L41,688.6L42.4,686.7L43,687.1ZM38.9,686.9L38.3,686.4L40,684.6L40.5,685.1ZM34.9,682.8L34.4,682.3L36.2,680.7L36.7,681.2ZM30.1,676.2L29.8,675.6L31.9,674.4L32.2,675ZM29.1,674.3L28.7,673.6L30.9,672.5L31.2,673.2ZM28.1,672.2L27.8,671.5L30,670.6L30.2,671.2ZM24.5,648.4L24.6,647.6L26.9,648L26.8,648.7ZM52.3,613A43.9,43.9 0 0 1 62.6,610.4L62.9,612.8A41.5,41.5 0 0 0 53.1,615.3Z"/><path fill="#fdbf6f" d="M40.6,688.3L40,687.8L41.6,686L42.1,686.4ZM34.1,681.9L33.6,681.3L35.5,679.8L35.9,680.3ZM27.1,670.1L26.9,669.4L29.1,668.5L29.4,669.2ZM24.8,661.9L24.7,661.1L27,660.7L27.2,661.4ZM24.3,658.3L24.2,657.5L26.6,657.3L26.7,658ZM24.2,650.9L24.3,650.2L26.7,650.4L26.6,651.1ZM27.2,637.8L27.5,637.1L29.7,638L29.4,638.7ZM28.2,635.5L28.5,634.8L30.7,635.9L30.3,636.5ZM29.8,632.3L30.2,631.7L32.3,632.9L31.9,633.5ZM31.1,630.2L31.5,629.6L33.5,630.9L33.1,631.5ZM31.8,629.1L32.3,628.5L34.2,629.9L33.8,630.5Z"/><path fill="#f4a582" d="M38.1,686.1L37.5,685.6L39.2,683.9L39.7,684.3ZM37.2,685.3L36.6,684.7L38.4,683L38.9,683.5ZM33.4,681L32.9,680.4L34.8,678.9L35.3,679.5ZM32.7,680.1L32.2,679.5L34.2,678.1L34.6,678.7Z"/><path fill="#f5f08a" d="M36.4,684.5L35.9,683.9L37.6,682.3L38.1,682.8ZM35.6,683.7L35.1,683.1L36.9,681.5L37.4,682Z"/><path fill="#cab2d6" d="M32,679.2L31.6,678.6L33.6,677.3L34,677.8ZM29.6,675.2L29.2,674.6L31.3,673.4L31.7,674.1ZM26,666.6L25.7,665.9L28,665.2L28.3,665.9ZM25.1,663.1L24.9,662.3L27.2,661.9L27.4,662.6ZM24.3,649.7L24.4,649L26.8,649.2L26.7,650ZM24.6,647.2L24.8,646.4L27.1,646.9L27,647.6ZM26.3,640.1L26.6,639.4L28.9,640.2L28.6,640.9ZM33.3,627.2L33.8,626.5L35.6,628L35.2,628.6ZM35.5,624.5L36.2,623.7L38,625.3L37.3,626.1ZM37.8,622.1L38.7,621.3L40.3,623.1L39.5,623.8Z"/><path fill="#f7c6d0" d="M31.4,678.2L30.9,677.5L33,676.3L33.4,676.9ZM30.8,677.3L30.4,676.6L32.4,675.4L32.8,676ZM24.4,659.4L24.3,658.6L26.7,658.4L26.8,659.1ZM24.1,655.8L24.1,655L26.5,655L26.5,655.7ZM24.8,646L25,645.2L27.3,645.7L27.2,646.4ZM25.6,642.5L25.9,641.7L28.2,642.4L28,643.1ZM27.7,636.7L28,635.9L30.2,636.9L29.9,637.6ZM28.7,634.5L29.1,633.7L31.2,634.8L30.8,635.5ZM29.2,633.4L29.6,632.7L31.7,633.8L31.4,634.5ZM30.4,631.3L30.9,630.6L32.9,631.9L32.5,632.5Z"/><path fill="#a6dba0" d="M28.5,673.2L28.2,672.5L30.4,671.5L30.7,672.1ZM24.1,654.6L24.1,653.8L26.5,653.8L26.5,654.6ZM24.1,653.3L24.1,652.5L26.5,652.6L26.5,653.4ZM24.1,652.2L24.2,651.3L26.6,651.5L26.5,652.3ZM26,641.3L26.2,640.6L28.5,641.3L28.3,642Z"/><path fill="#a6cee3" d="M26.7,669L26.5,668.2L28.7,667.4L29,668.1ZM32.5,628.2L33,627.5L34.9,629L34.4,629.6ZM34.4,625.7L35.2,624.9L36.9,626.5L36.3,627.3ZM45.4,616.4A43.9,43.9 0 0 1 51.6,613.3L52.5,615.5A41.5,41.5 0 0 0 46.6,618.4ZM111.8,650.9A43.9,43.9 0 0 1 111.9,655.5L109.5,655.4A41.5,41.5 0 0 0 109.4,651.1Z"/><path fill="#ff7f00" d="M36.6,623.3L37.4,622.5L39.1,624.2L38.3,625ZM41.7,618.8L42.6,618.2L44,620.1L43.1,620.8Z"/><path fill="#33a02c" d="M39.2,620.9L40,620.2L41.5,622L40.7,622.7ZM77.9,611.2A43.9,43.9 0 0 1 109.5,639.7L107.2,640.5A41.5,41.5 0 0 0 77.3,613.6ZM106.8,674.6A43.9,43.9 0 0 1 91.9,690.8L90.6,688.8A41.5,41.5 0 0 0 104.6,673.5Z"/><path fill="#e31a1c" d="M40.4,619.9L41.2,619.3L42.6,621.2L41.9,621.7Z"/><path fill="#6a3d9a" d="M43.1,617.8L44,617.2L45.3,619.2L44.5,619.8Z"/><path fill="#1f78b4" d="M111.7,657.8A43.9,43.9 0 0 1 107.5,673.2L105.3,672.2A41.5,41.5 0 0 0 109.3,657.6Z"/>
<line x1="69.21" y1="700.38" x2="69.32" y2="704.38" stroke="#777" stroke-width="0.7"/>
<line x1="102.21" y1="685.35" x2="105.16" y2="688.05" stroke="#777" stroke-width="0.7"/>
<line x1="112.71" y1="666.40" x2="116.57" y2="667.47" stroke="#777" stroke-width="0.7"/>
<line x1="114.39" y1="653.19" x2="118.39" y2="653.12" stroke="#777" stroke-width="0.7"/>
<line x1="99.05" y1="619.52" x2="101.72" y2="616.55" stroke="#777" stroke-width="0.7"/>
<line x1="70.02" y1="607.64" x2="70.20" y2="603.65" stroke="#777" stroke-width="0.7"/>
<line x1="56.77" y1="608.98" x2="55.81" y2="605.10" stroke="#777" stroke-width="0.7"/>
<line x1="47.30" y1="612.48" x2="45.51" y2="608.90" stroke="#777" stroke-width="0.7"/>
<path d="M153.8,690.7L149.3,697.3M153.1,690.3L148.9,696.2M152.4,689.8L147.8,696.1M151.8,689.3L147,695.7M151.1,688.8L146.2,695.1M150.5,688.3L146.2,693.5M149.9,687.7L145.4,693M149.2,687.2L144.6,692.5M148.6,686.7L144.2,691.5M148,686.1L142.5,691.9M147.4,685.5L142.3,690.7M146.8,684.9L141.1,690.6M146.3,684.4L140.9,689.5M145.7,683.7L140.4,688.6M145.2,683.1L138.8,688.7M144.6,682.5L139.3,687M144.1,681.9L138.6,686.3M143.6,681.2L137,686.5M143.1,680.6L137.9,684.5M142.6,679.9L137.3,683.8M142.1,679.3L135.7,683.7M141.7,678.6L136.3,682.2M141.2,677.9L134.2,682.4M140.8,677.2L134.4,681.1M140.3,676.5L134.2,680.2M139.9,675.8L133.7,679.3M139.5,675.1L133,678.6M139.1,674.3L132.5,677.8M138.8,673.6L132.4,676.8M138.4,672.9L130.8,676.5M138,672.1L131.1,675.3M137.7,671.4L131.2,674.2M137.4,670.6L131.1,673.2M137.1,669.8L130,672.6M136.8,669.1L130.5,671.4M136.5,668.3L128.5,671.1M136.2,667.5L130.1,669.6M136,666.7L128.4,669.1M135.8,666L128,668.2M135.5,665.2L128.6,667M135.3,664.4L127.5,666.3M135.1,663.6L127.2,665.4M135,662.8L127.2,664.4M134.8,662L126.5,663.5M134.7,661.1L127.7,662.3M134.5,660.3L126.4,661.6M134.4,659.5L127.3,660.5M134.3,658.7L126.2,659.6M134.2,657.9L127.3,658.6M134.1,657.1L127.1,657.6M134.1,656.2L127.1,656.7M134,655.4L127.1,655.7M134,654.6L126.5,654.8M134,653.8L127.3,653.8M134,653L125.9,652.9M134,652.1L127.4,651.9M134.1,651.3L127.4,651M134.1,650.5L127.2,650M134.2,649.7L127.4,649.1M134.2,648.8L126.4,648M134.3,648L126.6,647.1M134.4,647.2L126.4,646.1M134.6,646.4L127.3,645.2M134.7,645.6L127.1,644.2M134.9,644.8L127.7,643.4M135,644L126.8,642.2M135.2,643.2L128.1,641.5M135.4,642.4L127.6,640.4M135.6,641.6L127.5,639.3M135.8,640.8L129.5,638.9M136.1,640L129.4,637.9M136.3,639.2L129.7,637M136.6,638.4L130.3,636.2M136.9,637.7L129.1,634.7M137.2,636.9L130.1,634.1M137.5,636.1L130.8,633.3M137.8,635.4L131.4,632.5M138.2,634.6L131.5,631.6M138.5,633.9L131.1,630.3M138.9,633.2L131.4,629.3M139.3,632.4L132.9,629M139.6,631.7L133.6,628.4M140.1,631L133.7,627.3M140.5,630.3L134.1,626.4M140.9,629.6L135.3,626M141.4,628.9L135.2,624.8M141.8,628.2L136,624.2M142.3,627.5L135.6,622.8M142.8,626.9L137.4,622.9M143.3,626.2L136.6,621.1M143.8,625.5L137.6,620.6M144.3,624.9L138.8,620.4M144.8,624.3L138.7,619.1M145.3,623.7L139.2,618.2M145.9,623.1L139.8,617.4M146.5,622.5L141.1,617.3M147,621.9L141.1,616" stroke="#7c7c7c" stroke-width="0.6" stroke-dasharray="1.3 0.35 0.7 0.3 1.0 0.4" fill="none"/>
<path d="M146.4,621L141.1,615.7M147.8,619.7L143.8,615.3M149.3,618.4L145.1,613.5M150.8,617.2L146.7,611.9M152.3,616.1L148.6,610.8M153.9,615L150.2,609.3M155.5,614L151.5,607.1M157.2,613L154,607.1M158.9,612.2L156.3,606.7M160.7,611.4L158.1,605.4M162.5,610.6L160,604.4M164.3,610L162.3,604.3M166.1,609.4L164,602.2M168,608.9L166.3,602.3M169.8,608.5L168.4,601.5M171.7,608.2L170.5,600.8M173.3,607.9L172.5,601.1M176.9,607.6L176.6,601M180.5,607.6L180.8,600.5M184.1,607.9L184.8,601.4M187.7,608.4L188.9,601.8M191.2,609.3L192.7,603.6M194.6,610.4L196.9,604.1M197.9,611.7L200.3,606.5M201.2,613.4L204.2,607.8M204.2,615.2L207.5,610.2M207.2,617.3L210.7,612.8M209.9,619.7L213.8,615.4M212.5,622.2L216.7,618.3" stroke="#444" stroke-width="0.6" stroke-dasharray="1.1 0.25" fill="none"/>
<g fill="#1f78b4" fill-opacity="0.5"><path d="M205.1,622.3A40.7,40.7 0 0 1 217.1,639.6Q178.9,653.5 192.8,691.7A40.7,40.7 0 0 1 169.9,693.2Q178.9,653.5 205.1,622.3Z"/><path d="M183.9,613.1A40.7,40.7 0 0 1 187.3,613.7Q178.9,653.5 169.9,693.2L168.5,692.8Q178.9,653.5 183.9,613.1Z"/><path d="M176.8,612.9A40.7,40.7 0 0 1 180.6,612.8Q178.9,653.5 168.5,692.8L167,692.4Q178.9,653.5 176.8,612.9Z"/><path d="M172.5,613.3A40.7,40.7 0 0 1 175,613Q178.9,653.5 167,692.4L166.2,692.2Q178.9,653.5 172.5,613.3Z"/><path d="M169.1,614L170.3,613.7Q178.9,653.5 166.2,692.2L165.9,692.1Q178.9,653.5 169.1,614Z"/></g>
<g fill="#1f78b4" fill-opacity="0.4"><path d="M167,614.6L167.9,614.3Q178.9,653.5 165.9,692.1L165.6,692Q178.9,653.5 167,614.6Z"/><path d="M165.5,615.1L166.3,614.8Q178.9,653.5 165.6,692L165.4,691.9Q178.9,653.5 165.5,615.1Z"/><path d="M164,615.6L164.7,615.3Q178.9,653.5 165.4,691.9L165.2,691.8Q178.9,653.5 164,615.6Z"/><path d="M162.6,616.2L163.3,615.9Q178.9,653.5 165.2,691.8L165,691.8Q178.9,653.5 162.6,616.2Z"/><path d="M161.2,616.9L161.9,616.5Q178.9,653.5 165,691.8L164.8,691.7Q178.9,653.5 161.2,616.9Z"/><path d="M159.8,617.6L160.6,617.1Q178.9,653.5 164.8,691.7L164.6,691.6Q178.9,653.5 159.8,617.6Z"/><path d="M158.4,618.3L159,618Q178.9,653.5 164.6,691.6L164.4,691.5Q178.9,653.5 158.4,618.3Z"/><path d="M157.1,619.1L157.8,618.7Q178.9,653.5 164.4,691.5L164.2,691.5Q178.9,653.5 157.1,619.1Z"/><path d="M155.8,620L156.4,619.6Q178.9,653.5 164.2,691.5L164,691.4Q178.9,653.5 155.8,620Z"/><path d="M154.5,620.9L155.2,620.4Q178.9,653.5 164,691.4L163.8,691.3Q178.9,653.5 154.5,620.9Z"/><path d="M153.3,621.9L153.9,621.4Q178.9,653.5 163.8,691.3L163.6,691.2Q178.9,653.5 153.3,621.9Z"/><path d="M152.1,622.9L152.6,622.5Q178.9,653.5 163.6,691.2L163.5,691.2Q178.9,653.5 152.1,622.9Z"/><path d="M150.9,623.9L151.6,623.4Q178.9,653.5 163.5,691.2L163.2,691.1Q178.9,653.5 150.9,623.9Z"/><path d="M149.8,625L150.3,624.5Q178.9,653.5 163.2,691.1L163.1,691Q178.9,653.5 149.8,625Z"/><path d="M148.7,626.2L149.3,625.6Q178.9,653.5 163.1,691L162.9,690.9Q178.9,653.5 148.7,626.2Z"/><path d="M147.7,627.3L148.2,626.7Q178.9,653.5 162.9,690.9L162.7,690.8Q178.9,653.5 147.7,627.3Z"/></g>
<g fill="#1f78b4" fill-opacity="0.15"><path d="M147.4,627.8L147.6,627.4Q178.9,653.5 162.7,690.8L162.6,690.8Q178.9,653.5 147.4,627.8Z"/><path d="M146.7,628.7L147,628.3Q178.9,653.5 162.6,690.8L162.6,690.8Q178.9,653.5 146.7,628.7Z"/><path d="M146,629.6L146.2,629.2Q178.9,653.5 162.6,690.8L162.5,690.7Q178.9,653.5 146,629.6Z"/><path d="M145.3,630.5L145.6,630.1Q178.9,653.5 162.5,690.7L162.4,690.7Q178.9,653.5 145.3,630.5Z"/><path d="M144.7,631.5L144.9,631.2Q178.9,653.5 162.4,690.7L162.4,690.7Q178.9,653.5 144.7,631.5Z"/><path d="M144.1,632.4L144.3,632.1Q178.9,653.5 162.4,690.7L162.3,690.7Q178.9,653.5 144.1,632.4Z"/><path d="M143.5,633.4L143.8,632.9Q178.9,653.5 162.3,690.7L162.3,690.6Q178.9,653.5 143.5,633.4Z"/><path d="M143,634.4L143.2,633.9Q178.9,653.5 162.3,690.6L162.2,690.6Q178.9,653.5 143,634.4Z"/><path d="M142.4,635.4L142.6,635.1Q178.9,653.5 162.2,690.6L162.2,690.6Q178.9,653.5 142.4,635.4Z"/><path d="M142,636.4L142.2,636Q178.9,653.5 162.2,690.6L162.1,690.6Q178.9,653.5 142,636.4Z"/><path d="M141.5,637.5L141.7,637.1Q178.9,653.5 162.1,690.6L162,690.5Q178.9,653.5 141.5,637.5Z"/><path d="M141.1,638.5L141.2,638.2Q178.9,653.5 162,690.5L162,690.5Q178.9,653.5 141.1,638.5Z"/><path d="M140.7,639.6L140.8,639.2Q178.9,653.5 162,690.5L161.9,690.5Q178.9,653.5 140.7,639.6Z"/><path d="M140.3,640.7L140.4,640.3Q178.9,653.5 161.9,690.5L161.9,690.5Q178.9,653.5 140.3,640.7Z"/><path d="M139.9,641.7L140.1,641.2Q178.9,653.5 161.9,690.5L161.8,690.4Q178.9,653.5 139.9,641.7Z"/><path d="M139.6,642.8L139.8,642.3Q178.9,653.5 161.8,690.4L161.8,690.4Q178.9,653.5 139.6,642.8Z"/><path d="M139.3,643.9L139.5,643.4Q178.9,653.5 161.8,690.4L161.7,690.4Q178.9,653.5 139.3,643.9Z"/><path d="M139.1,645L139.2,644.6Q178.9,653.5 161.7,690.4L161.6,690.4Q178.9,653.5 139.1,645Z"/><path d="M138.9,646.2L139,645.6Q178.9,653.5 161.6,690.4L161.6,690.3Q178.9,653.5 138.9,646.2Z"/><path d="M138.7,647.3L138.8,646.8Q178.9,653.5 161.6,690.3L161.5,690.3Q178.9,653.5 138.7,647.3Z"/><path d="M138.5,648.4L138.6,648.1Q178.9,653.5 161.5,690.3L161.5,690.3Q178.9,653.5 138.5,648.4Z"/><path d="M138.4,649.5L138.4,649.1Q178.9,653.5 161.5,690.3L161.4,690.3Q178.9,653.5 138.4,649.5Z"/><path d="M138.3,650.7L138.3,650.1Q178.9,653.5 161.4,690.3L161.3,690.2Q178.9,653.5 138.3,650.7Z"/><path d="M138.2,651.8L138.3,651.3Q178.9,653.5 161.3,690.2L161.3,690.2Q178.9,653.5 138.2,651.8Z"/><path d="M138.2,652.9L138.2,652.6Q178.9,653.5 161.3,690.2L161.2,690.2Q178.9,653.5 138.2,652.9Z"/><path d="M138.2,654.1L138.2,653.5Q178.9,653.5 161.2,690.2L161.2,690.1Q178.9,653.5 138.2,654.1Z"/><path d="M138.2,655.2L138.2,654.7Q178.9,653.5 161.2,690.1L161.1,690.1Q178.9,653.5 138.2,655.2Z"/><path d="M138.3,656.3L138.3,655.7Q178.9,653.5 161.1,690.1L161,690.1Q178.9,653.5 138.3,656.3Z"/><path d="M138.4,657.5L138.4,657.1Q178.9,653.5 161,690.1L161,690Q178.9,653.5 138.4,657.5Z"/><path d="M138.5,658.6L138.5,658.2Q178.9,653.5 161,690L160.9,690Q178.9,653.5 138.5,658.6Z"/><path d="M138.7,659.7L138.6,659.2Q178.9,653.5 160.9,690L160.9,690Q178.9,653.5 138.7,659.7Z"/><path d="M138.9,660.8L138.8,660.4Q178.9,653.5 160.9,690L160.8,690Q178.9,653.5 138.9,660.8Z"/><path d="M139.1,662L139,661.5Q178.9,653.5 160.8,690L160.8,689.9Q178.9,653.5 139.1,662Z"/><path d="M139.3,663.1L139.2,662.6Q178.9,653.5 160.8,689.9L160.7,689.9Q178.9,653.5 139.3,663.1Z"/><path d="M139.6,664.2L139.5,663.8Q178.9,653.5 160.7,689.9L160.7,689.9Q178.9,653.5 139.6,664.2Z"/><path d="M139.9,665.3L139.8,664.9Q178.9,653.5 160.7,689.9L160.6,689.9Q178.9,653.5 139.9,665.3Z"/><path d="M140.3,666.3L140.1,665.9Q178.9,653.5 160.6,689.9L160.6,689.8Q178.9,653.5 140.3,666.3Z"/><path d="M140.7,667.4L140.5,667Q178.9,653.5 160.6,689.8L160.5,689.8Q178.9,653.5 140.7,667.4Z"/></g>
<g fill="#1f78b4" fill-opacity="0.07"><path d="M141,668.4L140.9,668.1Q178.9,653.5 160.5,689.8L160.5,689.8Q178.9,653.5 141,668.4Z"/><path d="M141.4,669.4L141.3,669.1Q178.9,653.5 160.5,689.8L160.5,689.8Q178.9,653.5 141.4,669.4Z"/><path d="M141.9,670.4L141.7,670Q178.9,653.5 160.5,689.8L160.5,689.8Q178.9,653.5 141.9,670.4Z"/><path d="M142.3,671.3L142.1,670.9Q178.9,653.5 160.5,689.8L160.4,689.8Q178.9,653.5 142.3,671.3Z"/><path d="M142.8,672.3L142.6,671.9Q178.9,653.5 160.4,689.8L160.4,689.7Q178.9,653.5 142.8,672.3Z"/><path d="M143.3,673.2L143.1,672.9Q178.9,653.5 160.4,689.7L160.4,689.7Q178.9,653.5 143.3,673.2Z"/><path d="M143.8,674.2L143.6,673.8Q178.9,653.5 160.4,689.7L160.3,689.7Q178.9,653.5 143.8,674.2Z"/><path d="M144.4,675.1L144.2,674.8Q178.9,653.5 160.3,689.7L160.3,689.7Q178.9,653.5 144.4,675.1Z"/><path d="M145,676L144.7,675.6Q178.9,653.5 160.3,689.7L160.3,689.7Q178.9,653.5 145,676Z"/><path d="M145.6,676.8L145.4,676.6Q178.9,653.5 160.3,689.7L160.3,689.7Q178.9,653.5 145.6,676.8Z"/><path d="M146.2,677.7L145.9,677.4Q178.9,653.5 160.3,689.7L160.2,689.7Q178.9,653.5 146.2,677.7Z"/><path d="M146.8,678.6L146.5,678.2Q178.9,653.5 160.2,689.7L160.2,689.7Q178.9,653.5 146.8,678.6Z"/><path d="M147.5,679.4L147.3,679.1Q178.9,653.5 160.2,689.7L160.2,689.6Q178.9,653.5 147.5,679.4Z"/><path d="M148.2,680.2L147.9,679.9Q178.9,653.5 160.2,689.6L160.2,689.6Q178.9,653.5 148.2,680.2Z"/><path d="M148.9,681L148.6,680.7Q178.9,653.5 160.2,689.6L160.1,689.6Q178.9,653.5 148.9,681Z"/><path d="M149.6,681.8L149.4,681.5Q178.9,653.5 160.1,689.6L160.1,689.6Q178.9,653.5 149.6,681.8Z"/><path d="M150.4,682.5L150.1,682.2Q178.9,653.5 160.1,689.6L160.1,689.6Q178.9,653.5 150.4,682.5Z"/><path d="M151.1,683.3L150.9,683Q178.9,653.5 160.1,689.6L160.1,689.6Q178.9,653.5 151.1,683.3Z"/><path d="M151.9,684L151.6,683.7Q178.9,653.5 160.1,689.6L160,689.6Q178.9,653.5 151.9,684Z"/><path d="M152.7,684.7L152.4,684.4Q178.9,653.5 160,689.6L160,689.6Q178.9,653.5 152.7,684.7Z"/><path d="M153.6,685.4L153.2,685.1Q178.9,653.5 160,689.6L160,689.5Q178.9,653.5 153.6,685.4Z"/><path d="M154.4,686L154.1,685.8Q178.9,653.5 160,689.5L160,689.5Q178.9,653.5 154.4,686Z"/><path d="M155.3,686.6L155,686.4Q178.9,653.5 160,689.5L159.9,689.5Q178.9,653.5 155.3,686.6Z"/><path d="M156.1,687.2L155.8,687Q178.9,653.5 159.9,689.5L159.9,689.5Q178.9,653.5 156.1,687.2Z"/><path d="M157,687.8L156.7,687.6Q178.9,653.5 159.9,689.5L159.9,689.5Q178.9,653.5 157,687.8Z"/><path d="M157.9,688.4L157.5,688.1Q178.9,653.5 159.9,689.5L159.9,689.5Q178.9,653.5 157.9,688.4Z"/><path d="M158.9,688.9L158.3,688.6Q178.9,653.5 159.9,689.5L159.8,689.4Q178.9,653.5 158.9,688.9Z"/><path d="M159.8,689.4L159.4,689.2Q178.9,653.5 159.8,689.4L159.8,689.4Q178.9,653.5 159.8,689.4Z"/></g>
<g fill="#a6cee3" fill-opacity="0.5"><path d="M192.2,615A40.7,40.7 0 0 1 204.5,621.9Q178.9,653.5 216.9,668.1A40.7,40.7 0 0 1 198.8,689Q178.9,653.5 192.2,615Z"/><path d="M180.6,612.8L181.9,612.9Q178.9,653.5 198.8,689L197.7,689.6Q178.9,653.5 180.6,612.8Z"/></g>
<g fill="#a6cee3" fill-opacity="0.4"><path d="M167.9,614.3L168,614.3Q178.9,653.5 197.7,689.6L197.6,689.6Q178.9,653.5 167.9,614.3Z"/><path d="M166.3,614.8L166.5,614.7Q178.9,653.5 197.6,689.6L197.5,689.7Q178.9,653.5 166.3,614.8Z"/><path d="M164.7,615.3L164.8,615.3Q178.9,653.5 197.5,689.7L197.4,689.7Q178.9,653.5 164.7,615.3Z"/><path d="M163.3,615.9L163.4,615.9Q178.9,653.5 197.4,689.7L197.3,689.8Q178.9,653.5 163.3,615.9Z"/><path d="M161.9,616.5L162,616.5Q178.9,653.5 197.3,689.8L197.3,689.8Q178.9,653.5 161.9,616.5Z"/><path d="M160.6,617.1L160.7,617.1Q178.9,653.5 197.3,689.8L197.2,689.9Q178.9,653.5 160.6,617.1Z"/><path d="M159,618L159.2,617.9Q178.9,653.5 197.2,689.9L197,689.9Q178.9,653.5 159,618Z"/><path d="M157.8,618.7L157.9,618.6Q178.9,653.5 197,689.9L197,690Q178.9,653.5 157.8,618.7Z"/><path d="M156.4,619.6L156.6,619.5Q178.9,653.5 197,690L196.8,690Q178.9,653.5 156.4,619.6Z"/><path d="M155.2,620.4L155.4,620.3Q178.9,653.5 196.8,690L196.7,690.1Q178.9,653.5 155.2,620.4Z"/><path d="M153.9,621.4L154,621.3Q178.9,653.5 196.7,690.1L196.6,690.1Q178.9,653.5 153.9,621.4Z"/><path d="M152.6,622.5L152.7,622.3Q178.9,653.5 196.6,690.1L196.5,690.2Q178.9,653.5 152.6,622.5Z"/><path d="M151.6,623.4L151.7,623.3Q178.9,653.5 196.5,690.2L196.4,690.3Q178.9,653.5 151.6,623.4Z"/><path d="M150.3,624.5L150.4,624.4Q178.9,653.5 196.4,690.3L196.3,690.3Q178.9,653.5 150.3,624.5Z"/><path d="M149.3,625.6L149.4,625.4Q178.9,653.5 196.3,690.3L196.2,690.4Q178.9,653.5 149.3,625.6Z"/><path d="M148.2,626.7L148.3,626.6Q178.9,653.5 196.2,690.4L196.1,690.4Q178.9,653.5 148.2,626.7Z"/></g>
<g fill="#a6cee3" fill-opacity="0.15"><path d="M147.6,627.4L147.7,627.3Q178.9,653.5 196.1,690.4L196,690.4Q178.9,653.5 147.6,627.4Z"/><path d="M147,628.3L147.1,628.1Q178.9,653.5 196,690.4L196,690.4Q178.9,653.5 147,628.3Z"/><path d="M146.2,629.2L146.4,629Q178.9,653.5 196,690.4L195.9,690.5Q178.9,653.5 146.2,629.2Z"/><path d="M145.6,630.1L145.7,629.9Q178.9,653.5 195.9,690.5L195.8,690.5Q178.9,653.5 145.6,630.1Z"/><path d="M144.9,631.2L145,631Q178.9,653.5 195.8,690.5L195.8,690.5Q178.9,653.5 144.9,631.2Z"/><path d="M144.3,632.1L144.4,631.9Q178.9,653.5 195.8,690.5L195.7,690.6Q178.9,653.5 144.3,632.1Z"/><path d="M143.8,632.9L143.8,632.8Q178.9,653.5 195.7,690.6L195.7,690.6Q178.9,653.5 143.8,632.9Z"/><path d="M143.2,633.9L143.3,633.8Q178.9,653.5 195.7,690.6L195.6,690.6Q178.9,653.5 143.2,633.9Z"/><path d="M142.6,635.1L142.7,634.9Q178.9,653.5 195.6,690.6L195.6,690.6Q178.9,653.5 142.6,635.1Z"/><path d="M142.2,636L142.2,635.9Q178.9,653.5 195.6,690.6L195.5,690.6Q178.9,653.5 142.2,636Z"/><path d="M141.7,637.1L141.7,637Q178.9,653.5 195.5,690.6L195.5,690.7Q178.9,653.5 141.7,637.1Z"/><path d="M141.2,638.2L141.3,638Q178.9,653.5 195.5,690.7L195.4,690.7Q178.9,653.5 141.2,638.2Z"/><path d="M140.8,639.2L140.8,639.1Q178.9,653.5 195.4,690.7L195.4,690.7Q178.9,653.5 140.8,639.2Z"/><path d="M140.4,640.3L140.5,640.1Q178.9,653.5 195.4,690.7L195.3,690.7Q178.9,653.5 140.4,640.3Z"/><path d="M140.1,641.2L140.2,641Q178.9,653.5 195.3,690.7L195.3,690.7Q178.9,653.5 140.1,641.2Z"/><path d="M139.8,642.3L139.8,642.1Q178.9,653.5 195.3,690.7L195.2,690.8Q178.9,653.5 139.8,642.3Z"/><path d="M139.5,643.4L139.5,643.2Q178.9,653.5 195.2,690.8L195.2,690.8Q178.9,653.5 139.5,643.4Z"/><path d="M139.2,644.6L139.2,644.5Q178.9,653.5 195.2,690.8L195.1,690.8Q178.9,653.5 139.2,644.6Z"/><path d="M139,645.6L139,645.6Q178.9,653.5 195.1,690.8L195.1,690.8Q178.9,653.5 139,645.6Z"/><path d="M138.8,646.8L138.8,646.6Q178.9,653.5 195.1,690.8L195.1,690.8Q178.9,653.5 138.8,646.8Z"/><path d="M138.6,648.1L138.6,647.9Q178.9,653.5 195.1,690.8L195,690.9Q178.9,653.5 138.6,648.1Z"/><path d="M138.4,649.1L138.5,648.9Q178.9,653.5 195,690.9L195,690.9Q178.9,653.5 138.4,649.1Z"/><path d="M138.3,650.1L138.4,649.9Q178.9,653.5 195,690.9L194.9,690.9Q178.9,653.5 138.3,650.1Z"/><path d="M138.3,651.3L138.3,651.2Q178.9,653.5 194.9,690.9L194.9,690.9Q178.9,653.5 138.3,651.3Z"/><path d="M138.2,652.6L138.2,652.4Q178.9,653.5 194.9,690.9L194.8,691Q178.9,653.5 138.2,652.6Z"/><path d="M138.2,653.5L138.2,653.4Q178.9,653.5 194.8,691L194.8,691Q178.9,653.5 138.2,653.5Z"/><path d="M138.2,654.7L138.2,654.6Q178.9,653.5 194.8,691L194.8,691Q178.9,653.5 138.2,654.7Z"/><path d="M138.3,655.7L138.3,655.6Q178.9,653.5 194.8,691L194.7,691Q178.9,653.5 138.3,655.7Z"/><path d="M138.4,657.1L138.3,656.9Q178.9,653.5 194.7,691L194.6,691Q178.9,653.5 138.4,657.1Z"/><path d="M138.5,658.2L138.5,658.1Q178.9,653.5 194.6,691L194.6,691Q178.9,653.5 138.5,658.2Z"/><path d="M138.6,659.2L138.6,659Q178.9,653.5 194.6,691L194.5,691.1Q178.9,653.5 138.6,659.2Z"/><path d="M138.8,660.4L138.8,660.2Q178.9,653.5 194.5,691.1L194.5,691.1Q178.9,653.5 138.8,660.4Z"/><path d="M139,661.5L139,661.3Q178.9,653.5 194.5,691.1L194.4,691.1Q178.9,653.5 139,661.5Z"/><path d="M139.2,662.6L139.2,662.5Q178.9,653.5 194.4,691.1L194.4,691.1Q178.9,653.5 139.2,662.6Z"/><path d="M139.5,663.8L139.5,663.7Q178.9,653.5 194.4,691.1L194.3,691.2Q178.9,653.5 139.5,663.8Z"/><path d="M139.8,664.9L139.8,664.7Q178.9,653.5 194.3,691.2L194.3,691.2Q178.9,653.5 139.8,664.9Z"/><path d="M140.1,665.9L140.1,665.7Q178.9,653.5 194.3,691.2L194.2,691.2Q178.9,653.5 140.1,665.9Z"/><path d="M140.5,667L140.5,666.9Q178.9,653.5 194.2,691.2L194.2,691.2Q178.9,653.5 140.5,667Z"/></g>
<g fill="#a6cee3" fill-opacity="0.07"><path d="M140.9,668.1L140.9,668Q178.9,653.5 194.2,691.2L194.1,691.2Q178.9,653.5 140.9,668.1Z"/><path d="M141.3,669.1L141.2,668.8Q178.9,653.5 194.1,691.2L194.1,691.3Q178.9,653.5 141.3,669.1Z"/><path d="M141.7,670L141.6,669.9Q178.9,653.5 194.1,691.3L194.1,691.3Q178.9,653.5 141.7,670Z"/><path d="M142.1,670.9L142,670.8Q178.9,653.5 194.1,691.3L194.1,691.3Q178.9,653.5 142.1,670.9Z"/><path d="M142.6,671.9L142.5,671.7Q178.9,653.5 194.1,691.3L194.1,691.3Q178.9,653.5 142.6,671.9Z"/><path d="M143.1,672.9L143.1,672.8Q178.9,653.5 194.1,691.3L194,691.3Q178.9,653.5 143.1,672.9Z"/><path d="M143.6,673.8L143.5,673.6Q178.9,653.5 194,691.3L194,691.3Q178.9,653.5 143.6,673.8Z"/><path d="M144.2,674.8L144.1,674.6Q178.9,653.5 194,691.3L194,691.3Q178.9,653.5 144.2,674.8Z"/><path d="M144.7,675.6L144.7,675.5Q178.9,653.5 194,691.3L193.9,691.3Q178.9,653.5 144.7,675.6Z"/><path d="M145.4,676.6L145.3,676.4Q178.9,653.5 193.9,691.3L193.9,691.3Q178.9,653.5 145.4,676.6Z"/><path d="M145.9,677.4L145.9,677.3Q178.9,653.5 193.9,691.3L193.9,691.3Q178.9,653.5 145.9,677.4Z"/><path d="M146.5,678.2L146.5,678.1Q178.9,653.5 193.9,691.3L193.9,691.3Q178.9,653.5 146.5,678.2Z"/><path d="M147.3,679.1L147.2,679Q178.9,653.5 193.9,691.3L193.9,691.3Q178.9,653.5 147.3,679.1Z"/><path d="M147.9,679.9L147.8,679.7Q178.9,653.5 193.9,691.3L193.8,691.4Q178.9,653.5 147.9,679.9Z"/><path d="M148.6,680.7L148.5,680.5Q178.9,653.5 193.8,691.4L193.8,691.4Q178.9,653.5 148.6,680.7Z"/><path d="M149.4,681.5L149.3,681.4Q178.9,653.5 193.8,691.4L193.8,691.4Q178.9,653.5 149.4,681.5Z"/><path d="M150.1,682.2L150,682.1Q178.9,653.5 193.8,691.4L193.8,691.4Q178.9,653.5 150.1,682.2Z"/><path d="M150.9,683L150.7,682.8Q178.9,653.5 193.8,691.4L193.7,691.4Q178.9,653.5 150.9,683Z"/><path d="M151.6,683.7L151.5,683.6Q178.9,653.5 193.7,691.4L193.7,691.4Q178.9,653.5 151.6,683.7Z"/><path d="M152.4,684.4L152.2,684.2Q178.9,653.5 193.7,691.4L193.7,691.4Q178.9,653.5 152.4,684.4Z"/><path d="M153.2,685.1L153.1,685Q178.9,653.5 193.7,691.4L193.7,691.4Q178.9,653.5 153.2,685.1Z"/><path d="M154.1,685.8L153.9,685.6Q178.9,653.5 193.7,691.4L193.6,691.4Q178.9,653.5 154.1,685.8Z"/><path d="M155,686.4L154.8,686.3Q178.9,653.5 193.6,691.4L193.6,691.5Q178.9,653.5 155,686.4Z"/><path d="M155.8,687L155.6,686.9Q178.9,653.5 193.6,691.5L193.6,691.5Q178.9,653.5 155.8,687Z"/><path d="M156.7,687.6L156.6,687.5Q178.9,653.5 193.6,691.5L193.6,691.5Q178.9,653.5 156.7,687.6Z"/><path d="M157.5,688.1L157.4,688Q178.9,653.5 193.6,691.5L193.5,691.5Q178.9,653.5 157.5,688.1Z"/><path d="M158.3,688.6L158.3,688.6Q178.9,653.5 193.5,691.5L193.5,691.5Q178.9,653.5 158.3,688.6Z"/><path d="M159.4,689.2L159.2,689.1Q178.9,653.5 193.5,691.5L193.5,691.5Q178.9,653.5 159.4,689.2Z"/></g>
<g fill="#b2df8a" fill-opacity="0.5"><path d="M187.3,613.7L188.7,614Q178.9,653.5 219.4,657A40.7,40.7 0 0 1 219.1,659.6Q178.9,653.5 187.3,613.7Z"/><path d="M181.9,612.9L183.2,613Q178.9,653.5 219.1,659.6A40.7,40.7 0 0 1 218.8,661.8Q178.9,653.5 181.9,612.9Z"/><path d="M170.3,613.7L171.5,613.5Q178.9,653.5 218.8,661.8L218.4,663.2Q178.9,653.5 170.3,613.7Z"/></g>
<g fill="#b2df8a" fill-opacity="0.4"><path d="M168,614.3L168.1,614.3Q178.9,653.5 218.4,663.2L218.4,663.3Q178.9,653.5 168,614.3Z"/><path d="M166.5,614.7L166.6,614.7Q178.9,653.5 218.4,663.3L218.4,663.4Q178.9,653.5 166.5,614.7Z"/><path d="M164.8,615.3L164.9,615.3Q178.9,653.5 218.4,663.4L218.4,663.5Q178.9,653.5 164.8,615.3Z"/><path d="M163.4,615.9L163.6,615.8Q178.9,653.5 218.4,663.5L218.3,663.7Q178.9,653.5 163.4,615.9Z"/><path d="M162,616.5L162.1,616.4Q178.9,653.5 218.3,663.7L218.3,663.7Q178.9,653.5 162,616.5Z"/><path d="M160.7,617.1L160.8,617.1Q178.9,653.5 218.3,663.7L218.3,663.8Q178.9,653.5 160.7,617.1Z"/><path d="M159.2,617.9L159.3,617.8Q178.9,653.5 218.3,663.8L218.2,664Q178.9,653.5 159.2,617.9Z"/><path d="M157.9,618.6L158,618.6Q178.9,653.5 218.2,664L218.2,664.1Q178.9,653.5 157.9,618.6Z"/><path d="M156.6,619.5L156.7,619.4Q178.9,653.5 218.2,664.1L218.2,664.2Q178.9,653.5 156.6,619.5Z"/><path d="M155.4,620.3L155.5,620.2Q178.9,653.5 218.2,664.2L218.1,664.3Q178.9,653.5 155.4,620.3Z"/><path d="M154,621.3L154.1,621.2Q178.9,653.5 218.1,664.3L218.1,664.4Q178.9,653.5 154,621.3Z"/><path d="M152.7,622.3L152.8,622.2Q178.9,653.5 218.1,664.4L218.1,664.5Q178.9,653.5 152.7,622.3Z"/><path d="M151.7,623.3L151.8,623.2Q178.9,653.5 218.1,664.5L218,664.7Q178.9,653.5 151.7,623.3Z"/><path d="M150.4,624.4L150.5,624.4Q178.9,653.5 218,664.7L218,664.8Q178.9,653.5 150.4,624.4Z"/><path d="M149.4,625.4L149.5,625.3Q178.9,653.5 218,664.8L218,664.9Q178.9,653.5 149.4,625.4Z"/><path d="M148.3,626.6L148.4,626.5Q178.9,653.5 218,664.9L217.9,665.1Q178.9,653.5 148.3,626.6Z"/></g>
<g fill="#b2df8a" fill-opacity="0.15"><path d="M147.7,627.3L147.8,627.3Q178.9,653.5 217.9,665.1L217.9,665.1Q178.9,653.5 147.7,627.3Z"/><path d="M147.1,628.1L147.2,628Q178.9,653.5 217.9,665.1L217.9,665.2Q178.9,653.5 147.1,628.1Z"/><path d="M146.4,629L146.5,628.9Q178.9,653.5 217.9,665.2L217.9,665.3Q178.9,653.5 146.4,629Z"/><path d="M145.7,629.9L145.7,629.9Q178.9,653.5 217.9,665.3L217.9,665.3Q178.9,653.5 145.7,629.9Z"/><path d="M145,631L145.1,630.9Q178.9,653.5 217.9,665.3L217.8,665.3Q178.9,653.5 145,631Z"/><path d="M144.4,631.9L144.5,631.8Q178.9,653.5 217.8,665.3L217.8,665.4Q178.9,653.5 144.4,631.9Z"/><path d="M143.8,632.8L143.9,632.7Q178.9,653.5 217.8,665.4L217.8,665.4Q178.9,653.5 143.8,632.8Z"/><path d="M143.3,633.8L143.3,633.7Q178.9,653.5 217.8,665.4L217.8,665.5Q178.9,653.5 143.3,633.8Z"/><path d="M142.7,634.9L142.7,634.9Q178.9,653.5 217.8,665.5L217.8,665.5Q178.9,653.5 142.7,634.9Z"/><path d="M142.2,635.9L142.2,635.8Q178.9,653.5 217.8,665.5L217.8,665.5Q178.9,653.5 142.2,635.9Z"/><path d="M141.7,637L141.7,636.9Q178.9,653.5 217.8,665.5L217.8,665.6Q178.9,653.5 141.7,637Z"/><path d="M141.3,638L141.3,638Q178.9,653.5 217.8,665.6L217.8,665.6Q178.9,653.5 141.3,638Z"/><path d="M140.8,639.1L140.9,639Q178.9,653.5 217.8,665.6L217.7,665.6Q178.9,653.5 140.8,639.1Z"/><path d="M140.5,640.1L140.5,640Q178.9,653.5 217.7,665.6L217.7,665.7Q178.9,653.5 140.5,640.1Z"/><path d="M140.2,641L140.2,640.9Q178.9,653.5 217.7,665.7L217.7,665.7Q178.9,653.5 140.2,641Z"/><path d="M139.8,642.1L139.8,642.1Q178.9,653.5 217.7,665.7L217.7,665.8Q178.9,653.5 139.8,642.1Z"/><path d="M139.5,643.2L139.5,643.1Q178.9,653.5 217.7,665.8L217.7,665.8Q178.9,653.5 139.5,643.2Z"/><path d="M139.2,644.5L139.2,644.4Q178.9,653.5 217.7,665.8L217.7,665.9Q178.9,653.5 139.2,644.5Z"/><path d="M139,645.6L139,645.5Q178.9,653.5 217.7,665.9L217.7,665.9Q178.9,653.5 139,645.6Z"/><path d="M138.8,646.6L138.8,646.5Q178.9,653.5 217.7,665.9L217.6,666Q178.9,653.5 138.8,646.6Z"/><path d="M138.6,647.9L138.6,647.7Q178.9,653.5 217.6,666L217.6,666Q178.9,653.5 138.6,647.9Z"/><path d="M138.5,648.9L138.5,648.9Q178.9,653.5 217.6,666L217.6,666.1Q178.9,653.5 138.5,648.9Z"/><path d="M138.4,649.9L138.4,649.9Q178.9,653.5 217.6,666.1L217.6,666.1Q178.9,653.5 138.4,649.9Z"/><path d="M138.3,651.2L138.3,651.1Q178.9,653.5 217.6,666.1L217.6,666.1Q178.9,653.5 138.3,651.2Z"/><path d="M138.2,652.4L138.2,652.3Q178.9,653.5 217.6,666.1L217.6,666.2Q178.9,653.5 138.2,652.4Z"/><path d="M138.2,653.4L138.2,653.3Q178.9,653.5 217.6,666.2L217.6,666.2Q178.9,653.5 138.2,653.4Z"/><path d="M138.2,654.6L138.2,654.6Q178.9,653.5 217.6,666.2L217.5,666.3Q178.9,653.5 138.2,654.6Z"/><path d="M138.3,655.6L138.3,655.5Q178.9,653.5 217.5,666.3L217.5,666.3Q178.9,653.5 138.3,655.6Z"/><path d="M138.3,656.9L138.3,656.8Q178.9,653.5 217.5,666.3L217.5,666.4Q178.9,653.5 138.3,656.9Z"/><path d="M138.5,658.1L138.4,658Q178.9,653.5 217.5,666.4L217.5,666.4Q178.9,653.5 138.5,658.1Z"/><path d="M138.6,659L138.6,659Q178.9,653.5 217.5,666.4L217.5,666.5Q178.9,653.5 138.6,659Z"/><path d="M138.8,660.2L138.7,660.1Q178.9,653.5 217.5,666.5L217.5,666.5Q178.9,653.5 138.8,660.2Z"/><path d="M139,661.3L139,661.3Q178.9,653.5 217.5,666.5L217.4,666.6Q178.9,653.5 139,661.3Z"/><path d="M139.2,662.5L139.2,662.4Q178.9,653.5 217.4,666.6L217.4,666.6Q178.9,653.5 139.2,662.5Z"/><path d="M139.5,663.7L139.5,663.6Q178.9,653.5 217.4,666.6L217.4,666.7Q178.9,653.5 139.5,663.7Z"/><path d="M139.8,664.7L139.7,664.6Q178.9,653.5 217.4,666.7L217.4,666.7Q178.9,653.5 139.8,664.7Z"/><path d="M140.1,665.7L140,665.6Q178.9,653.5 217.4,666.7L217.4,666.7Q178.9,653.5 140.1,665.7Z"/><path d="M140.5,666.9L140.5,666.9Q178.9,653.5 217.4,666.7L217.4,666.8Q178.9,653.5 140.5,666.9Z"/></g>
<g fill="#b2df8a" fill-opacity="0.07"><path d="M140.9,668L140.8,667.8Q178.9,653.5 217.4,666.8L217.4,666.8Q178.9,653.5 140.9,668Z"/><path d="M141.2,668.8L141.2,668.8Q178.9,653.5 217.4,666.8L217.3,666.8Q178.9,653.5 141.2,668.8Z"/><path d="M141.6,669.9L141.6,669.8Q178.9,653.5 217.3,666.8L217.3,666.9Q178.9,653.5 141.6,669.9Z"/><path d="M142,670.8L142,670.6Q178.9,653.5 217.3,666.9L217.3,666.9Q178.9,653.5 142,670.8Z"/><path d="M142.5,671.7L142.5,671.6Q178.9,653.5 217.3,666.9L217.3,666.9Q178.9,653.5 142.5,671.7Z"/><path d="M143.1,672.8L143,672.7Q178.9,653.5 217.3,666.9L217.3,667Q178.9,653.5 143.1,672.8Z"/><path d="M143.5,673.6L143.5,673.6Q178.9,653.5 217.3,667L217.3,667Q178.9,653.5 143.5,673.6Z"/><path d="M144.1,674.6L144,674.5Q178.9,653.5 217.3,667L217.3,667Q178.9,653.5 144.1,674.6Z"/><path d="M144.7,675.5L144.6,675.5Q178.9,653.5 217.3,667L217.3,667Q178.9,653.5 144.7,675.5Z"/><path d="M145.3,676.4L145.2,676.4Q178.9,653.5 217.3,667L217.3,667Q178.9,653.5 145.3,676.4Z"/><path d="M145.9,677.3L145.8,677.2Q178.9,653.5 217.3,667L217.3,667.1Q178.9,653.5 145.9,677.3Z"/><path d="M146.5,678.1L146.4,678Q178.9,653.5 217.3,667.1L217.3,667.1Q178.9,653.5 146.5,678.1Z"/><path d="M147.2,679L147.1,679Q178.9,653.5 217.3,667.1L217.3,667.1Q178.9,653.5 147.2,679Z"/><path d="M147.8,679.7L147.7,679.7Q178.9,653.5 217.3,667.1L217.2,667.1Q178.9,653.5 147.8,679.7Z"/><path d="M148.5,680.5L148.4,680.5Q178.9,653.5 217.2,667.1L217.2,667.2Q178.9,653.5 148.5,680.5Z"/><path d="M149.3,681.4L149.2,681.3Q178.9,653.5 217.2,667.2L217.2,667.2Q178.9,653.5 149.3,681.4Z"/><path d="M150,682.1L149.9,682.1Q178.9,653.5 217.2,667.2L217.2,667.2Q178.9,653.5 150,682.1Z"/><path d="M150.7,682.8L150.6,682.8Q178.9,653.5 217.2,667.2L217.2,667.2Q178.9,653.5 150.7,682.8Z"/><path d="M151.5,683.6L151.4,683.5Q178.9,653.5 217.2,667.2L217.2,667.2Q178.9,653.5 151.5,683.6Z"/><path d="M152.2,684.2L152.2,684.2Q178.9,653.5 217.2,667.2L217.2,667.3Q178.9,653.5 152.2,684.2Z"/><path d="M153.1,685L153.1,685Q178.9,653.5 217.2,667.3L217.2,667.3Q178.9,653.5 153.1,685Z"/><path d="M153.9,685.6L153.8,685.5Q178.9,653.5 217.2,667.3L217.2,667.3Q178.9,653.5 153.9,685.6Z"/><path d="M154.8,686.3L154.7,686.3Q178.9,653.5 217.2,667.3L217.2,667.3Q178.9,653.5 154.8,686.3Z"/><path d="M155.6,686.9L155.6,686.8Q178.9,653.5 217.2,667.3L217.2,667.3Q178.9,653.5 155.6,686.9Z"/><path d="M156.6,687.5L156.6,687.5Q178.9,653.5 217.2,667.3L217.2,667.4Q178.9,653.5 156.6,687.5Z"/><path d="M157.4,688L157.3,688Q178.9,653.5 217.2,667.4L217.2,667.4Q178.9,653.5 157.4,688Z"/><path d="M158.3,688.6L158.2,688.5Q178.9,653.5 217.2,667.4L217.2,667.4Q178.9,653.5 158.3,688.6Z"/><path d="M159.2,689.1L159.2,689.1Q178.9,653.5 217.2,667.4L217.1,667.4Q178.9,653.5 159.2,689.1Z"/></g>
<g fill="#33a02c" fill-opacity="0.5"><path d="M175,613L176.1,612.9Q178.9,653.5 219.5,651.4L219.6,652.6Q178.9,653.5 175,613Z"/></g>
<g fill="#33a02c" fill-opacity="0.4"><path d="M168.1,614.3L168.1,614.3Q178.9,653.5 219.6,652.6L219.6,652.7Q178.9,653.5 168.1,614.3Z"/><path d="M166.6,614.7L166.7,614.7Q178.9,653.5 219.6,652.7L219.6,652.8Q178.9,653.5 166.6,614.7Z"/><path d="M164.9,615.3L165,615.3Q178.9,653.5 219.6,652.8L219.6,652.8Q178.9,653.5 164.9,615.3Z"/><path d="M163.6,615.8L163.6,615.8Q178.9,653.5 219.6,652.8L219.6,652.9Q178.9,653.5 163.6,615.8Z"/><path d="M162.1,616.4L162.1,616.4Q178.9,653.5 219.6,652.9L219.6,652.9Q178.9,653.5 162.1,616.4Z"/><path d="M160.8,617.1L160.8,617Q178.9,653.5 219.6,652.9L219.6,653Q178.9,653.5 160.8,617.1Z"/><path d="M159.3,617.8L159.4,617.8Q178.9,653.5 219.6,653L219.6,653Q178.9,653.5 159.3,617.8Z"/><path d="M158,618.6L158,618.6Q178.9,653.5 219.6,653L219.6,653.1Q178.9,653.5 158,618.6Z"/><path d="M156.7,619.4L156.7,619.4Q178.9,653.5 219.6,653.1L219.6,653.1Q178.9,653.5 156.7,619.4Z"/><path d="M155.5,620.2L155.5,620.2Q178.9,653.5 219.6,653.1L219.6,653.2Q178.9,653.5 155.5,620.2Z"/><path d="M154.1,621.2L154.1,621.2Q178.9,653.5 219.6,653.2L219.6,653.2Q178.9,653.5 154.1,621.2Z"/><path d="M152.8,622.2L152.9,622.2Q178.9,653.5 219.6,653.2L219.6,653.3Q178.9,653.5 152.8,622.2Z"/><path d="M151.8,623.2L151.8,623.1Q178.9,653.5 219.6,653.3L219.6,653.3Q178.9,653.5 151.8,623.2Z"/><path d="M150.5,624.4L150.5,624.3Q178.9,653.5 219.6,653.3L219.6,653.4Q178.9,653.5 150.5,624.4Z"/><path d="M149.5,625.3L149.6,625.3Q178.9,653.5 219.6,653.4L219.6,653.5Q178.9,653.5 149.5,625.3Z"/><path d="M148.4,626.5L148.5,626.4Q178.9,653.5 219.6,653.5L219.6,653.6Q178.9,653.5 148.4,626.5Z"/></g>
<g fill="#33a02c" fill-opacity="0.15"><path d="M147.8,627.3L147.8,627.2Q178.9,653.5 219.6,653.6L219.6,653.6Q178.9,653.5 147.8,627.3Z"/><path d="M147.2,628L147.2,628Q178.9,653.5 219.6,653.6L219.6,653.7Q178.9,653.5 147.2,628Z"/><path d="M146.5,628.9L146.5,628.9Q178.9,653.5 219.6,653.7L219.6,653.7Q178.9,653.5 146.5,628.9Z"/><path d="M145.7,629.9L145.8,629.8Q178.9,653.5 219.6,653.7L219.6,653.7Q178.9,653.5 145.7,629.9Z"/><path d="M145.1,630.9L145.1,630.8Q178.9,653.5 219.6,653.7L219.6,653.8Q178.9,653.5 145.1,630.9Z"/><path d="M144.5,631.8L144.5,631.7Q178.9,653.5 219.6,653.8L219.6,653.9Q178.9,653.5 144.5,631.8Z"/><path d="M143.9,632.7L143.9,632.7Q178.9,653.5 219.6,653.9L219.6,653.9Q178.9,653.5 143.9,632.7Z"/><path d="M143.3,633.7L143.3,633.7Q178.9,653.5 219.6,653.9L219.6,653.9Q178.9,653.5 143.3,633.7Z"/><path d="M142.7,634.9L142.8,634.8Q178.9,653.5 219.6,653.9L219.6,654Q178.9,653.5 142.7,634.9Z"/><path d="M142.2,635.8L142.3,635.7Q178.9,653.5 219.6,654L219.6,654Q178.9,653.5 142.2,635.8Z"/><path d="M141.7,636.9L141.8,636.8Q178.9,653.5 219.6,654L219.6,654.1Q178.9,653.5 141.7,636.9Z"/><path d="M141.3,638L141.3,637.9Q178.9,653.5 219.6,654.1L219.6,654.1Q178.9,653.5 141.3,638Z"/><path d="M140.9,639L140.9,638.9Q178.9,653.5 219.6,654.1L219.6,654.2Q178.9,653.5 140.9,639Z"/><path d="M140.5,640L140.5,640Q178.9,653.5 219.6,654.2L219.6,654.2Q178.9,653.5 140.5,640Z"/><path d="M140.2,640.9L140.2,640.9Q178.9,653.5 219.6,654.2L219.6,654.2Q178.9,653.5 140.2,640.9Z"/><path d="M139.8,642.1L139.9,642Q178.9,653.5 219.6,654.2L219.6,654.3Q178.9,653.5 139.8,642.1Z"/><path d="M139.5,643.1L139.6,643.1Q178.9,653.5 219.6,654.3L219.6,654.3Q178.9,653.5 139.5,643.1Z"/><path d="M139.2,644.4L139.2,644.4Q178.9,653.5 219.6,654.3L219.6,654.3Q178.9,653.5 139.2,644.4Z"/><path d="M139,645.5L139,645.4Q178.9,653.5 219.6,654.3L219.6,654.4Q178.9,653.5 139,645.5Z"/><path d="M138.8,646.5L138.8,646.5Q178.9,653.5 219.6,654.4L219.6,654.4Q178.9,653.5 138.8,646.5Z"/><path d="M138.6,647.7L138.6,647.6Q178.9,653.5 219.6,654.4L219.6,654.4Q178.9,653.5 138.6,647.7Z"/><path d="M138.5,648.9L138.5,648.8Q178.9,653.5 219.6,654.4L219.6,654.5Q178.9,653.5 138.5,648.9Z"/><path d="M138.4,649.9L138.4,649.8Q178.9,653.5 219.6,654.5L219.6,654.5Q178.9,653.5 138.4,649.9Z"/><path d="M138.3,651.1L138.3,651Q178.9,653.5 219.6,654.5L219.6,654.5Q178.9,653.5 138.3,651.1Z"/><path d="M138.2,652.3L138.2,652.2Q178.9,653.5 219.6,654.5L219.6,654.6Q178.9,653.5 138.2,652.3Z"/><path d="M138.2,653.3L138.2,653.3Q178.9,653.5 219.6,654.6L219.6,654.6Q178.9,653.5 138.2,653.3Z"/><path d="M138.2,654.6L138.2,654.5Q178.9,653.5 219.6,654.6L219.6,654.6Q178.9,653.5 138.2,654.6Z"/><path d="M138.3,655.5L138.2,655.5Q178.9,653.5 219.6,654.6L219.6,654.7Q178.9,653.5 138.3,655.5Z"/><path d="M138.3,656.8L138.3,656.7Q178.9,653.5 219.6,654.7L219.6,654.7Q178.9,653.5 138.3,656.8Z"/><path d="M138.4,658L138.4,657.9Q178.9,653.5 219.6,654.7L219.6,654.8Q178.9,653.5 138.4,658Z"/><path d="M138.6,659L138.6,658.9Q178.9,653.5 219.6,654.8L219.6,654.8Q178.9,653.5 138.6,659Z"/><path d="M138.7,660.1L138.7,660Q178.9,653.5 219.6,654.8L219.6,654.8Q178.9,653.5 138.7,660.1Z"/><path d="M139,661.3L138.9,661.2Q178.9,653.5 219.6,654.8L219.6,654.9Q178.9,653.5 139,661.3Z"/><path d="M139.2,662.4L139.2,662.3Q178.9,653.5 219.6,654.9L219.6,654.9Q178.9,653.5 139.2,662.4Z"/><path d="M139.5,663.6L139.4,663.5Q178.9,653.5 219.6,654.9L219.6,655Q178.9,653.5 139.5,663.6Z"/><path d="M139.7,664.6L139.7,664.5Q178.9,653.5 219.6,655L219.6,655Q178.9,653.5 139.7,664.6Z"/><path d="M140,665.6L140,665.6Q178.9,653.5 219.6,655L219.6,655Q178.9,653.5 140,665.6Z"/><path d="M140.5,666.9L140.4,666.8Q178.9,653.5 219.6,655L219.6,655.1Q178.9,653.5 140.5,666.9Z"/></g>
<g fill="#33a02c" fill-opacity="0.07"><path d="M140.8,667.8L140.8,667.7Q178.9,653.5 219.6,655.1L219.6,655.1Q178.9,653.5 140.8,667.8Z"/><path d="M141.2,668.8L141.1,668.7Q178.9,653.5 219.6,655.1L219.6,655.1Q178.9,653.5 141.2,668.8Z"/><path d="M141.6,669.8L141.6,669.8Q178.9,653.5 219.6,655.1L219.6,655.1Q178.9,653.5 141.6,669.8Z"/><path d="M142,670.6L142,670.6Q178.9,653.5 219.6,655.1L219.6,655.2Q178.9,653.5 142,670.6Z"/><path d="M142.5,671.6L142.4,671.6Q178.9,653.5 219.6,655.2L219.6,655.2Q178.9,653.5 142.5,671.6Z"/><path d="M143,672.7L143,672.6Q178.9,653.5 219.6,655.2L219.6,655.2Q178.9,653.5 143,672.7Z"/><path d="M143.5,673.6L143.5,673.5Q178.9,653.5 219.6,655.2L219.6,655.2Q178.9,653.5 143.5,673.6Z"/><path d="M144,674.5L144,674.4Q178.9,653.5 219.6,655.2L219.6,655.2Q178.9,653.5 144,674.5Z"/><path d="M144.6,675.5L144.6,675.4Q178.9,653.5 219.6,655.2L219.6,655.2Q178.9,653.5 144.6,675.5Z"/><path d="M145.2,676.4L145.2,676.3Q178.9,653.5 219.6,655.2L219.6,655.3Q178.9,653.5 145.2,676.4Z"/><path d="M145.8,677.2L145.8,677.2Q178.9,653.5 219.6,655.3L219.6,655.3Q178.9,653.5 145.8,677.2Z"/><path d="M146.4,678L146.3,677.9Q178.9,653.5 219.6,655.3L219.6,655.3Q178.9,653.5 146.4,678Z"/><path d="M147.1,679L147.1,678.9Q178.9,653.5 219.6,655.3L219.6,655.3Q178.9,653.5 147.1,679Z"/><path d="M147.7,679.7L147.7,679.6Q178.9,653.5 219.6,655.3L219.6,655.4Q178.9,653.5 147.7,679.7Z"/><path d="M148.4,680.5L148.4,680.5Q178.9,653.5 219.6,655.4L219.6,655.4Q178.9,653.5 148.4,680.5Z"/><path d="M149.2,681.3L149.2,681.3Q178.9,653.5 219.6,655.4L219.6,655.4Q178.9,653.5 149.2,681.3Z"/><path d="M149.9,682.1L149.9,682Q178.9,653.5 219.6,655.4L219.6,655.4Q178.9,653.5 149.9,682.1Z"/><path d="M150.6,682.8L150.5,682.7Q178.9,653.5 219.6,655.4L219.6,655.4Q178.9,653.5 150.6,682.8Z"/><path d="M151.4,683.5L151.4,683.5Q178.9,653.5 219.6,655.4L219.6,655.5Q178.9,653.5 151.4,683.5Z"/><path d="M152.2,684.2L152.1,684.1Q178.9,653.5 219.6,655.5L219.6,655.5Q178.9,653.5 152.2,684.2Z"/><path d="M153.1,685L153.1,684.9Q178.9,653.5 219.6,655.5L219.6,655.5Q178.9,653.5 153.1,685Z"/><path d="M153.8,685.5L153.7,685.5Q178.9,653.5 219.6,655.5L219.6,655.5Q178.9,653.5 153.8,685.5Z"/><path d="M154.7,686.3L154.6,686.2Q178.9,653.5 219.6,655.5L219.5,655.5Q178.9,653.5 154.7,686.3Z"/><path d="M155.6,686.8L155.5,686.8Q178.9,653.5 219.5,655.5L219.5,655.6Q178.9,653.5 155.6,686.8Z"/><path d="M156.6,687.5L156.5,687.5Q178.9,653.5 219.5,655.6L219.5,655.6Q178.9,653.5 156.6,687.5Z"/><path d="M157.3,688L157.2,687.9Q178.9,653.5 219.5,655.6L219.5,655.6Q178.9,653.5 157.3,688Z"/><path d="M158.2,688.5L158.2,688.5Q178.9,653.5 219.5,655.6L219.5,655.6Q178.9,653.5 158.2,688.5Z"/><path d="M159.2,689.1L159.1,689Q178.9,653.5 219.5,655.6L219.5,655.6Q178.9,653.5 159.2,689.1Z"/></g>
<path fill="#fb9a99" d="M158.2,692.2L157.6,691.9L158.7,689.8L159.4,690.1ZM156.2,691.1L155.6,690.7L156.9,688.7L157.5,689ZM141.6,676.7L141.2,676.1L143.3,674.8L143.7,675.4ZM139,671.7L138.7,671.1L140.9,670.1L141.1,670.7ZM136.9,666.2L136.6,665.4L139,664.8L139.2,665.5ZM139.6,634L139.9,633.3L142,634.4L141.7,635ZM140.2,632.9L140.5,632.2L142.6,633.3L142.3,634ZM147.5,622.8L148.3,622L150,623.7L149.2,624.5ZM159.8,614L160.8,613.5L161.8,615.7L160.8,616.1Z"/><path fill="#f5f08a" d="M157.2,691.7L156.6,691.3L157.8,689.2L158.4,689.6ZM135,655.3L135,654.6L137.4,654.5L137.4,655.2ZM135,654.1L135,653.3L137.4,653.3L137.4,654.1ZM142,629.7L142.5,629L144.5,630.3L144,631ZM142.7,628.7L143.2,628L145.1,629.4L144.7,630Z"/><path fill="#a6cee3" d="M155.3,690.5L154.7,690.1L156,688.1L156.6,688.5ZM145.7,682.3L145.2,681.7L147.1,680.1L147.6,680.7ZM138.5,670.6L138.2,669.9L140.4,669L140.7,669.7ZM136,662.6L135.8,661.8L138.2,661.4L138.3,662.1ZM135.5,660.2L135.4,659.4L137.8,659.1L137.9,659.8ZM135,651.7L135.1,650.8L137.5,651L137.4,651.8ZM135.7,645.6L135.9,644.8L138.2,645.3L138.1,646ZM144.9,625.8L145.4,625.2L147.2,626.7L146.7,627.3ZM154,617.3L154.9,616.7L156.2,618.7L155.4,619.3ZM166.1,611.5L167.2,611.2L167.8,613.5L166.8,613.8ZM219.9,669.2A43.9,43.9 0 0 1 194.6,694.5L193.8,692.2A41.5,41.5 0 0 0 217.6,668.4Z"/><path fill="#fcd9a0" d="M154.3,689.9L153.7,689.4L155.1,687.5L155.7,687.9ZM139.9,673.7L139.6,673L141.7,672L142.1,672.6ZM136.6,641.9L136.8,641.2L139.1,641.8L138.9,642.6ZM138.1,637.3L138.4,636.6L140.6,637.6L140.3,638.2ZM140.8,631.8L141.2,631.1L143.2,632.3L142.8,633Z"/><path fill="#cab2d6" d="M153.4,689.2L152.8,688.8L154.2,686.8L154.8,687.3ZM149.8,686.4L149.2,685.8L150.8,684.1L151.4,684.6ZM135.1,650.4L135.2,649.6L137.6,649.8L137.5,650.5ZM143.4,627.6L143.9,627L145.8,628.4L145.4,629ZM151.3,619.4L152.2,618.7L153.6,620.6L152.8,621.2ZM158.3,614.7L159.3,614.2L160.4,616.3L159.5,616.8ZM207.1,619.9A43.9,43.9 0 0 1 220.2,638.5L217.9,639.3A41.5,41.5 0 0 0 205.6,621.7Z"/><path fill="#c2a5cf" d="M152.4,688.5L151.8,688.1L153.3,686.2L153.9,686.6ZM151.6,687.9L151,687.4L152.6,685.6L153.1,686ZM147.3,684L146.8,683.5L148.6,681.8L149,682.3ZM136.5,665L136.3,664.3L138.7,663.7L138.9,664.4ZM135.3,659L135.3,658.2L137.6,658L137.7,658.7ZM135.2,657.8L135.1,657L137.5,656.8L137.6,657.5ZM135.1,656.5L135.1,655.7L137.5,655.6L137.5,656.3ZM135.2,649.2L135.3,648.4L137.7,648.7L137.6,649.5ZM136.9,640.7L137.1,640L139.4,640.7L139.2,641.4ZM137.6,638.5L137.9,637.7L140.2,638.6L139.9,639.3Z"/><path fill="#9bb8e0" d="M150.6,687.1L150.1,686.6L151.6,684.8L152.2,685.3ZM148.9,685.6L148.4,685L150,683.3L150.5,683.8ZM138,669.6L137.8,668.9L140,668L140.3,668.7ZM137.6,668.5L137.4,667.8L139.7,667L139.9,667.7ZM135,652.9L135,652.1L137.4,652.2L137.4,652.9ZM135.3,648L135.5,647.2L137.8,647.5L137.7,648.3ZM135.5,646.8L135.7,646L138,646.4L137.9,647.1ZM144.2,626.7L144.7,626L146.5,627.5L146.1,628.1Z"/><path fill="#fdbf6f" d="M148.1,684.8L147.6,684.3L149.3,682.6L149.8,683.1ZM142.3,677.7L141.9,677.1L143.9,675.9L144.3,676.4ZM139.1,635.1L139.4,634.3L141.6,635.4L141.2,636.1ZM150,620.5L150.8,619.8L152.4,621.6L151.6,622.3Z"/><path fill="#b2df8a" d="M146.5,683.1L146,682.6L147.8,681L148.3,681.5ZM145,681.4L144.6,680.9L146.5,679.4L146.9,679.9ZM142.9,678.7L142.5,678.1L144.5,676.8L144.9,677.3ZM141.1,675.8L140.7,675.1L142.8,673.9L143.1,674.6ZM168.3,610.9A43.9,43.9 0 0 1 170.9,610.3L171.3,612.7A41.5,41.5 0 0 0 168.9,613.2ZM222.6,657.3A43.9,43.9 0 0 1 220.2,668.5L217.9,667.7A41.5,41.5 0 0 0 220.2,657.1Z"/><path fill="#f4a582" d="M144.3,680.5L143.8,679.9L145.7,678.4L146.2,679Z"/><path fill="#a6dba0" d="M143.6,679.6L143.2,679L145.1,677.6L145.5,678.2ZM140.5,674.8L140.1,674.1L142.3,673L142.6,673.6ZM135.7,661.4L135.6,660.6L137.9,660.2L138.1,660.9ZM136,644.4L136.1,643.6L138.5,644.2L138.3,644.9ZM136.2,643.1L136.4,642.3L138.8,642.9L138.6,643.7ZM138.5,636.2L138.8,635.5L141,636.5L140.8,637.2ZM141.4,630.7L141.8,630L143.8,631.3L143.4,632Z"/><path fill="#f7c6d0" d="M139.4,672.7L139.1,672L141.3,671L141.6,671.6ZM137.2,667.3L137,666.5L139.3,665.8L139.5,666.6ZM136.2,663.8L136,663L138.4,662.5L138.6,663.2ZM137.2,639.6L137.5,638.9L139.8,639.7L139.5,640.4Z"/><path fill="#1f78b4" d="M145.3,625.2L146.1,624.4L147.9,626L147.2,626.8ZM193.2,612A43.9,43.9 0 0 1 206.5,619.4L205,621.2A41.5,41.5 0 0 0 192.4,614.3ZM193.9,694.8A43.9,43.9 0 0 1 158.3,692.3L159.4,690.1A41.5,41.5 0 0 0 193.1,692.5Z"/><path fill="#e31a1c" d="M146.5,623.9L147.2,623.1L148.9,624.8L148.2,625.5ZM161.4,613.3L162.4,612.8L163.3,615L162.3,615.5Z"/><path fill="#ffff99" d="M148.8,621.6L149.6,620.8L151.2,622.6L150.4,623.3ZM152.7,618.3L153.6,617.6L155,619.6L154.1,620.2ZM156.8,615.5L157.8,615L159,617.1L158,617.6ZM162.9,612.6L163.9,612.2L164.7,614.5L163.8,614.9Z"/><path fill="#ff7f00" d="M155.4,616.4L156.4,615.8L157.6,617.9L156.7,618.4ZM184.3,609.9A43.9,43.9 0 0 1 189.5,610.9L188.9,613.2A41.5,41.5 0 0 0 184,612.3Z"/><path fill="#33a02c" d="M164.6,612L165.6,611.7L166.3,613.9L165.3,614.3ZM222.7,651.2A43.9,43.9 0 0 1 222.7,655.8L220.3,655.7A41.5,41.5 0 0 0 220.3,651.3Z"/><path fill="#b15928" d="M176.6,609.7A43.9,43.9 0 0 1 183.5,609.8L183.2,612.2A41.5,41.5 0 0 0 176.7,612.1Z"/><path fill="#6a3d9a" d="M172,610.1A43.9,43.9 0 0 1 175.8,609.7L176,612.1A41.5,41.5 0 0 0 172.4,612.5Z"/>
<line x1="175.66" y1="699.79" x2="175.38" y2="703.78" stroke="#777" stroke-width="0.7"/>
<line x1="211.71" y1="686.31" x2="214.54" y2="689.14" stroke="#777" stroke-width="0.7"/>
<line x1="224.20" y1="663.54" x2="228.11" y2="664.41" stroke="#777" stroke-width="0.7"/>
<line x1="225.30" y1="653.50" x2="229.30" y2="653.50" stroke="#777" stroke-width="0.7"/>
<line x1="216.91" y1="626.89" x2="220.19" y2="624.59" stroke="#777" stroke-width="0.7"/>
<line x1="201.40" y1="612.92" x2="203.33" y2="609.42" stroke="#777" stroke-width="0.7"/>
<line x1="187.36" y1="607.88" x2="188.08" y2="603.94" stroke="#777" stroke-width="0.7"/>
<line x1="180.11" y1="607.12" x2="180.22" y2="603.12" stroke="#777" stroke-width="0.7"/>
<line x1="173.65" y1="607.40" x2="173.19" y2="603.42" stroke="#777" stroke-width="0.7"/>
<path d="M264.2,690.7L260.3,696.5M263.5,690.3L259.2,696.4M262.8,689.8L258.4,695.8M262.2,689.3L257.1,696M261.5,688.8L256.8,694.9M260.9,688.3L256,694.2M260.3,687.7L255.3,693.6M259.6,687.2L254.1,693.5M259,686.7L254.2,692M258.4,686.1L253,691.9M257.8,685.5L252.5,691M257.2,684.9L252.1,690M256.7,684.4L251.5,689.2M256.1,683.7L251.2,688.3M255.6,683.1L250.8,687.4M255,682.5L249.6,687.1M254.5,681.9L249.1,686.3M254,681.2L248.8,685.3M253.5,680.6L247.6,685.1M253,679.9L247.2,684.1M252.5,679.3L245.7,684M252.1,678.6L245.4,683.1M251.6,677.9L245.1,682.1M251.2,677.2L244.2,681.5M250.7,676.5L244.8,680.1M250.3,675.8L244.6,679.1M249.9,675.1L243.2,678.7M249.5,674.3L243.5,677.5M249.2,673.6L241.6,677.4M248.8,672.9L242.2,676M248.4,672.1L240.9,675.5M248.1,671.4L241.8,674.1M247.8,670.6L241.7,673.1M247.5,669.8L240.3,672.7M247.2,669.1L239.8,671.8M246.9,668.3L240.4,670.6M246.6,667.5L238.7,670.1M246.4,666.7L238.3,669.2M246.2,666L238.6,668.1M245.9,665.2L237.8,667.4M245.7,664.4L237.5,666.4M245.5,663.6L239,665.1M245.4,662.8L237.6,664.4M245.2,662L237.4,663.5M245.1,661.1L237.2,662.5M244.9,660.3L237.9,661.4M244.8,659.5L237.3,660.5M244.7,658.7L237.1,659.6M244.6,657.9L236.5,658.7M244.5,657.1L238.1,657.6M244.5,656.2L237.3,656.7M244.4,655.4L237.4,655.7M244.4,654.6L236.4,654.8M244.4,653.8L237.8,653.8M244.4,653L237.9,652.9M244.4,652.1L237.8,651.9M244.5,651.3L237.8,651M244.5,650.5L237.2,650M244.6,649.7L236.4,649M244.6,648.8L237.6,648.1M244.7,648L238.2,647.2M244.8,647.2L237.1,646.1M245,646.4L238,645.3M245.1,645.6L237.6,644.3M245.3,644.8L237.4,643.2M245.4,644L238.2,642.4M245.6,643.2L237.9,641.3M245.8,642.4L238.3,640.5M246,641.6L238.1,639.4M246.2,640.8L238.6,638.5M246.5,640L238.6,637.5M246.7,639.2L239.2,636.7M247,638.4L240.4,636.1M247.3,637.7L240.3,635M247.6,636.9L240.1,633.9M247.9,636.1L240.5,633M248.2,635.4L241,632.2M248.6,634.6L241.1,631.2M248.9,633.9L241.6,630.3M249.3,633.2L242.6,629.7M249.7,632.4L242.8,628.8M250,631.7L244.4,628.6M250.5,631L244.1,627.3M250.9,630.3L244.1,626.2M251.3,629.6L244.3,625.1M251.8,628.9L244.9,624.4M252.2,628.2L246.2,624.1M252.7,627.5L247.1,623.6M253.2,626.9L246.5,622M253.7,626.2L247.5,621.5M254.2,625.5L248.9,621.3M254.7,624.9L249.7,620.8M255.2,624.3L249,618.9M255.7,623.7L250.1,618.6M256.3,623.1L251.4,618.6M256.9,622.5L250.7,616.6M257.4,621.9L252,616.5M258,621.3L252.5,615.6M258.6,620.7L253.1,614.8M259.2,620.2L254.6,615M259.8,619.6L254.9,614M260.5,619.1L256.1,613.9M261.1,618.6L256.3,612.6" stroke="#7c7c7c" stroke-width="0.6" stroke-dasharray="1.3 0.35 0.7 0.3 1.0 0.4" fill="none"/>
<path d="M261,617.3L257.1,612.3M262.6,616.2L258.4,610.4M264.2,615.1L261,610.2M265.8,614.1L262.7,608.9M267.5,613.1L264.4,607.5M269.2,612.2L266.7,607.2M270.9,611.4L268.4,605.6M272.7,610.7L270,603.8M274.5,610L272.2,603.2M276.3,609.5L274.7,603.7M278.2,609L276.5,602M280.1,608.5L278.9,602.6M282,608.2L281,602.2M283.9,607.9L283.1,601.2" stroke="#444" stroke-width="0.6" stroke-dasharray="1.1 0.25" fill="none"/>
<g fill="#b2df8a" fill-opacity="0.55"><path d="M299.8,614.2A40.7,40.7 0 0 1 327.8,640.2Q289.3,653.5 310.3,688.4A40.7,40.7 0 0 1 273.9,691.2Q289.3,653.5 299.8,614.2Z"/></g>
<g fill="#b2df8a" fill-opacity="0.44"><path d="M270.2,617.6L270.4,617.4Q289.3,653.5 273.9,691.2L273.8,691.1Q289.3,653.5 270.2,617.6Z"/><path d="M268.8,618.3L269.1,618.2Q289.3,653.5 273.8,691.1L273.8,691.1Q289.3,653.5 268.8,618.3Z"/><path d="M267.5,619.1L267.7,619Q289.3,653.5 273.8,691.1L273.7,691.1Q289.3,653.5 267.5,619.1Z"/><path d="M266.2,620L266.4,619.8Q289.3,653.5 273.7,691.1L273.6,691.1Q289.3,653.5 266.2,620Z"/><path d="M264.9,620.9L265.1,620.7Q289.3,653.5 273.6,691.1L273.6,691Q289.3,653.5 264.9,620.9Z"/><path d="M263.7,621.9L263.8,621.8Q289.3,653.5 273.6,691L273.5,691Q289.3,653.5 263.7,621.9Z"/><path d="M262.5,622.9L262.6,622.8Q289.3,653.5 273.5,691L273.5,691Q289.3,653.5 262.5,622.9Z"/><path d="M261.3,623.9L261.5,623.7Q289.3,653.5 273.5,691L273.4,691Q289.3,653.5 261.3,623.9Z"/><path d="M260.2,625L260.4,624.8Q289.3,653.5 273.4,691L273.4,690.9Q289.3,653.5 260.2,625Z"/><path d="M259.1,626.2L259.3,626Q289.3,653.5 273.4,690.9L273.3,690.9Q289.3,653.5 259.1,626.2Z"/><path d="M258.1,627.3L258.2,627.2Q289.3,653.5 273.3,690.9L273.3,690.9Q289.3,653.5 258.1,627.3Z"/></g>
<g fill="#b2df8a" fill-opacity="0.17"><path d="M257.8,627.8L258.2,627.3Q289.3,653.5 273.3,690.9L273.2,690.9Q289.3,653.5 257.8,627.8Z"/><path d="M257.1,628.7L257.4,628.2Q289.3,653.5 273.2,690.9L273.1,690.9Q289.3,653.5 257.1,628.7Z"/><path d="M256.4,629.6L256.7,629.2Q289.3,653.5 273.1,690.9L273.1,690.8Q289.3,653.5 256.4,629.6Z"/><path d="M255.7,630.5L256,630Q289.3,653.5 273.1,690.8L273,690.8Q289.3,653.5 255.7,630.5Z"/><path d="M255.1,631.5L255.4,631Q289.3,653.5 273,690.8L273,690.8Q289.3,653.5 255.1,631.5Z"/><path d="M254.5,632.4L254.8,631.9Q289.3,653.5 273,690.8L272.9,690.8Q289.3,653.5 254.5,632.4Z"/><path d="M253.9,633.4L254.2,632.9Q289.3,653.5 272.9,690.8L272.8,690.7Q289.3,653.5 253.9,633.4Z"/><path d="M253.4,634.4L253.6,634Q289.3,653.5 272.8,690.7L272.8,690.7Q289.3,653.5 253.4,634.4Z"/><path d="M252.8,635.4L253.1,634.8Q289.3,653.5 272.8,690.7L272.7,690.7Q289.3,653.5 252.8,635.4Z"/><path d="M252.4,636.4L252.6,636Q289.3,653.5 272.7,690.7L272.7,690.6Q289.3,653.5 252.4,636.4Z"/><path d="M251.9,637.5L252.1,637.1Q289.3,653.5 272.7,690.6L272.6,690.6Q289.3,653.5 251.9,637.5Z"/><path d="M251.5,638.5L251.7,638Q289.3,653.5 272.6,690.6L272.6,690.6Q289.3,653.5 251.5,638.5Z"/><path d="M251.1,639.6L251.3,639Q289.3,653.5 272.6,690.6L272.5,690.6Q289.3,653.5 251.1,639.6Z"/><path d="M250.7,640.7L250.9,640.1Q289.3,653.5 272.5,690.6L272.4,690.5Q289.3,653.5 250.7,640.7Z"/><path d="M250.3,641.7L250.5,641.3Q289.3,653.5 272.4,690.5L272.4,690.5Q289.3,653.5 250.3,641.7Z"/><path d="M250,642.8L250.2,642.2Q289.3,653.5 272.4,690.5L272.3,690.5Q289.3,653.5 250,642.8Z"/><path d="M249.7,643.9L249.9,643.4Q289.3,653.5 272.3,690.5L272.3,690.5Q289.3,653.5 249.7,643.9Z"/><path d="M249.5,645L249.6,644.4Q289.3,653.5 272.3,690.5L272.2,690.4Q289.3,653.5 249.5,645Z"/><path d="M249.3,646.2L249.3,645.8Q289.3,653.5 272.2,690.4L272.1,690.4Q289.3,653.5 249.3,646.2Z"/><path d="M249.1,647.3L249.2,646.6Q289.3,653.5 272.1,690.4L272.1,690.4Q289.3,653.5 249.1,647.3Z"/><path d="M248.9,648.4L249,647.9Q289.3,653.5 272.1,690.4L272,690.3Q289.3,653.5 248.9,648.4Z"/><path d="M248.8,649.5L248.9,649Q289.3,653.5 272,690.3L272,690.3Q289.3,653.5 248.8,649.5Z"/><path d="M248.7,650.7L248.8,650Q289.3,653.5 272,690.3L271.9,690.3Q289.3,653.5 248.7,650.7Z"/><path d="M248.6,651.8L248.7,651.3Q289.3,653.5 271.9,690.3L271.8,690.3Q289.3,653.5 248.6,651.8Z"/><path d="M248.6,652.9L248.6,652.3Q289.3,653.5 271.8,690.3L271.8,690.2Q289.3,653.5 248.6,652.9Z"/><path d="M248.6,654.1L248.6,653.5Q289.3,653.5 271.8,690.2L271.7,690.2Q289.3,653.5 248.6,654.1Z"/><path d="M248.6,655.2L248.6,654.7Q289.3,653.5 271.7,690.2L271.6,690.2Q289.3,653.5 248.6,655.2Z"/><path d="M248.7,656.3L248.7,655.8Q289.3,653.5 271.6,690.2L271.6,690.1Q289.3,653.5 248.7,656.3Z"/><path d="M248.8,657.5L248.7,656.9Q289.3,653.5 271.6,690.1L271.5,690.1Q289.3,653.5 248.8,657.5Z"/><path d="M248.9,658.6L248.9,658.1Q289.3,653.5 271.5,690.1L271.5,690.1Q289.3,653.5 248.9,658.6Z"/><path d="M249.1,659.7L249,659.1Q289.3,653.5 271.5,690.1L271.4,690Q289.3,653.5 249.1,659.7Z"/><path d="M249.3,660.8L249.2,660.2Q289.3,653.5 271.4,690L271.3,690Q289.3,653.5 249.3,660.8Z"/><path d="M249.5,662L249.4,661.5Q289.3,653.5 271.3,690L271.3,690Q289.3,653.5 249.5,662Z"/><path d="M249.7,663.1L249.6,662.5Q289.3,653.5 271.3,690L271.2,690Q289.3,653.5 249.7,663.1Z"/><path d="M250,664.2L249.9,663.8Q289.3,653.5 271.2,690L271.2,689.9Q289.3,653.5 250,664.2Z"/><path d="M250.3,665.3L250.2,664.7Q289.3,653.5 271.2,689.9L271.1,689.9Q289.3,653.5 250.3,665.3Z"/><path d="M250.7,666.3L250.5,665.9Q289.3,653.5 271.1,689.9L271,689.9Q289.3,653.5 250.7,666.3Z"/><path d="M251.1,667.4L250.9,666.9Q289.3,653.5 271,689.9L271,689.8Q289.3,653.5 251.1,667.4Z"/></g>
<g fill="#b2df8a" fill-opacity="0.08"><path d="M251.4,668.4L251.2,667.9Q289.3,653.5 271,689.8L271,689.8Q289.3,653.5 251.4,668.4Z"/><path d="M251.8,669.4L251.6,668.9Q289.3,653.5 271,689.8L270.9,689.8Q289.3,653.5 251.8,669.4Z"/><path d="M252.3,670.4L252,669.9Q289.3,653.5 270.9,689.8L270.9,689.8Q289.3,653.5 252.3,670.4Z"/><path d="M252.7,671.3L252.5,670.9Q289.3,653.5 270.9,689.8L270.9,689.8Q289.3,653.5 252.7,671.3Z"/><path d="M253.2,672.3L253,671.8Q289.3,653.5 270.9,689.8L270.8,689.8Q289.3,653.5 253.2,672.3Z"/><path d="M253.7,673.2L253.5,672.8Q289.3,653.5 270.8,689.8L270.8,689.8Q289.3,653.5 253.7,673.2Z"/><path d="M254.2,674.2L254,673.7Q289.3,653.5 270.8,689.8L270.8,689.7Q289.3,653.5 254.2,674.2Z"/><path d="M254.8,675.1L254.5,674.6Q289.3,653.5 270.8,689.7L270.8,689.7Q289.3,653.5 254.8,675.1Z"/><path d="M255.4,676L255,675.5Q289.3,653.5 270.8,689.7L270.7,689.7Q289.3,653.5 255.4,676Z"/><path d="M256,676.8L255.6,676.4Q289.3,653.5 270.7,689.7L270.7,689.7Q289.3,653.5 256,676.8Z"/><path d="M256.6,677.7L256.3,677.3Q289.3,653.5 270.7,689.7L270.7,689.7Q289.3,653.5 256.6,677.7Z"/><path d="M257.2,678.6L256.9,678.2Q289.3,653.5 270.7,689.7L270.6,689.7Q289.3,653.5 257.2,678.6Z"/><path d="M257.9,679.4L257.6,679.1Q289.3,653.5 270.6,689.7L270.6,689.7Q289.3,653.5 257.9,679.4Z"/><path d="M258.6,680.2L258.3,679.9Q289.3,653.5 270.6,689.7L270.6,689.6Q289.3,653.5 258.6,680.2Z"/><path d="M259.3,681L258.9,680.6Q289.3,653.5 270.6,689.6L270.6,689.6Q289.3,653.5 259.3,681Z"/><path d="M260,681.8L259.7,681.4Q289.3,653.5 270.6,689.6L270.5,689.6Q289.3,653.5 260,681.8Z"/><path d="M260.8,682.5L260.3,682.1Q289.3,653.5 270.5,689.6L270.5,689.6Q289.3,653.5 260.8,682.5Z"/><path d="M261.5,683.3L261.2,682.9Q289.3,653.5 270.5,689.6L270.5,689.6Q289.3,653.5 261.5,683.3Z"/><path d="M262.3,684L261.9,683.6Q289.3,653.5 270.5,689.6L270.5,689.6Q289.3,653.5 262.3,684Z"/><path d="M263.1,684.7L262.8,684.4Q289.3,653.5 270.5,689.6L270.4,689.6Q289.3,653.5 263.1,684.7Z"/><path d="M264,685.4L263.5,685Q289.3,653.5 270.4,689.6L270.4,689.5Q289.3,653.5 264,685.4Z"/><path d="M264.8,686L264.4,685.7Q289.3,653.5 270.4,689.5L270.4,689.5Q289.3,653.5 264.8,686Z"/><path d="M265.7,686.6L265.2,686.3Q289.3,653.5 270.4,689.5L270.3,689.5Q289.3,653.5 265.7,686.6Z"/><path d="M266.5,687.2L266.1,686.9Q289.3,653.5 270.3,689.5L270.3,689.5Q289.3,653.5 266.5,687.2Z"/><path d="M267.4,687.8L266.9,687.5Q289.3,653.5 270.3,689.5L270.3,689.5Q289.3,653.5 267.4,687.8Z"/><path d="M268.3,688.4L267.9,688.1Q289.3,653.5 270.3,689.5L270.3,689.5Q289.3,653.5 268.3,688.4Z"/><path d="M269.3,688.9L268.7,688.6Q289.3,653.5 270.3,689.5L270.2,689.5Q289.3,653.5 269.3,688.9Z"/><path d="M270.2,689.4L269.6,689.1Q289.3,653.5 270.2,689.5L270.2,689.4Q289.3,653.5 270.2,689.4Z"/></g>
<g fill="#a6cee3" fill-opacity="0.5"><path d="M276.4,614.9L277.4,614.6Q289.3,653.5 329.9,651.4L330,653.1Q289.3,653.5 276.4,614.9Z"/></g>
<g fill="#a6cee3" fill-opacity="0.4"><path d="M271.1,617.1L271.2,617Q289.3,653.5 330,653.1L330,653.2Q289.3,653.5 271.1,617.1Z"/><path d="M269.8,617.8L269.9,617.7Q289.3,653.5 330,653.2L330,653.4Q289.3,653.5 269.8,617.8Z"/><path d="M268.4,618.6L268.5,618.5Q289.3,653.5 330,653.4L330,653.6Q289.3,653.5 268.4,618.6Z"/><path d="M267.1,619.4L267.2,619.3Q289.3,653.5 330,653.6L330,653.7Q289.3,653.5 267.1,619.4Z"/><path d="M265.7,620.3L265.9,620.2Q289.3,653.5 330,653.7L330,654Q289.3,653.5 265.7,620.3Z"/><path d="M264.4,621.3L264.4,621.3Q289.3,653.5 330,654L330,654.1Q289.3,653.5 264.4,621.3Z"/><path d="M263.3,622.2L263.4,622.1Q289.3,653.5 330,654.1L330,654.3Q289.3,653.5 263.3,622.2Z"/><path d="M262,623.3L262.1,623.2Q289.3,653.5 330,654.3L330,654.5Q289.3,653.5 262,623.3Z"/><path d="M261,624.3L261.1,624.2Q289.3,653.5 330,654.5L330,654.7Q289.3,653.5 261,624.3Z"/><path d="M259.7,625.6L259.8,625.4Q289.3,653.5 330,654.7L330,655Q289.3,653.5 259.7,625.6Z"/><path d="M258.8,626.6L258.9,626.5Q289.3,653.5 330,655L330,655.1Q289.3,653.5 258.8,626.6Z"/></g>
<g fill="#a6cee3" fill-opacity="0.15"><path d="M258.3,627.2L258.3,627.1Q289.3,653.5 330,655.1L330,655.2Q289.3,653.5 258.3,627.2Z"/><path d="M257.5,628.1L257.6,628Q289.3,653.5 330,655.2L330,655.3Q289.3,653.5 257.5,628.1Z"/><path d="M256.8,629L256.9,628.9Q289.3,653.5 330,655.3L330,655.4Q289.3,653.5 256.8,629Z"/><path d="M256.1,629.9L256.2,629.9Q289.3,653.5 330,655.4L330,655.4Q289.3,653.5 256.1,629.9Z"/><path d="M255.5,630.8L255.5,630.8Q289.3,653.5 330,655.4L330,655.5Q289.3,653.5 255.5,630.8Z"/><path d="M254.9,631.8L254.9,631.8Q289.3,653.5 330,655.5L329.9,655.5Q289.3,653.5 254.9,631.8Z"/><path d="M254.2,632.9L254.3,632.8Q289.3,653.5 329.9,655.5L329.9,655.6Q289.3,653.5 254.2,632.9Z"/><path d="M253.6,633.9L253.7,633.8Q289.3,653.5 329.9,655.6L329.9,655.7Q289.3,653.5 253.6,633.9Z"/><path d="M253.2,634.7L253.2,634.7Q289.3,653.5 329.9,655.7L329.9,655.8Q289.3,653.5 253.2,634.7Z"/><path d="M252.7,635.7L252.7,635.6Q289.3,653.5 329.9,655.8L329.9,655.9Q289.3,653.5 252.7,635.7Z"/><path d="M252.1,636.9L252.2,636.8Q289.3,653.5 329.9,655.9L329.9,656Q289.3,653.5 252.1,636.9Z"/><path d="M251.7,637.8L251.8,637.7Q289.3,653.5 329.9,656L329.9,656.1Q289.3,653.5 251.7,637.8Z"/><path d="M251.3,638.8L251.4,638.8Q289.3,653.5 329.9,656.1L329.9,656.1Q289.3,653.5 251.3,638.8Z"/><path d="M250.9,640L250.9,639.9Q289.3,653.5 329.9,656.1L329.9,656.1Q289.3,653.5 250.9,640Z"/><path d="M250.5,641.1L250.6,641Q289.3,653.5 329.9,656.1L329.9,656.2Q289.3,653.5 250.5,641.1Z"/><path d="M250.2,642.1L250.3,642Q289.3,653.5 329.9,656.2L329.9,656.3Q289.3,653.5 250.2,642.1Z"/><path d="M249.9,643.2L250,643.1Q289.3,653.5 329.9,656.3L329.9,656.3Q289.3,653.5 249.9,643.2Z"/><path d="M249.7,644.3L249.7,644.2Q289.3,653.5 329.9,656.3L329.9,656.4Q289.3,653.5 249.7,644.3Z"/><path d="M249.4,645.5L249.4,645.4Q289.3,653.5 329.9,656.4L329.9,656.5Q289.3,653.5 249.4,645.5Z"/><path d="M249.2,646.5L249.2,646.5Q289.3,653.5 329.9,656.5L329.9,656.6Q289.3,653.5 249.2,646.5Z"/><path d="M249,647.6L249,647.5Q289.3,653.5 329.9,656.6L329.9,656.7Q289.3,653.5 249,647.6Z"/><path d="M248.9,648.8L248.9,648.8Q289.3,653.5 329.9,656.7L329.9,656.7Q289.3,653.5 248.9,648.8Z"/><path d="M248.8,649.8L248.8,649.8Q289.3,653.5 329.9,656.7L329.9,656.7Q289.3,653.5 248.8,649.8Z"/><path d="M248.7,651.2L248.7,651.1Q289.3,653.5 329.9,656.7L329.9,656.8Q289.3,653.5 248.7,651.2Z"/><path d="M248.6,652.2L248.6,652.1Q289.3,653.5 329.9,656.8L329.9,656.9Q289.3,653.5 248.6,652.2Z"/><path d="M248.6,653.4L248.6,653.3Q289.3,653.5 329.9,656.9L329.9,656.9Q289.3,653.5 248.6,653.4Z"/><path d="M248.6,654.4L248.6,654.3Q289.3,653.5 329.9,656.9L329.8,657Q289.3,653.5 248.6,654.4Z"/><path d="M248.7,655.7L248.7,655.6Q289.3,653.5 329.8,657L329.8,657.1Q289.3,653.5 248.7,655.7Z"/><path d="M248.7,656.8L248.7,656.6Q289.3,653.5 329.8,657.1L329.8,657.2Q289.3,653.5 248.7,656.8Z"/><path d="M248.8,657.9L248.8,657.9Q289.3,653.5 329.8,657.2L329.8,657.2Q289.3,653.5 248.8,657.9Z"/><path d="M249,658.9L249,658.8Q289.3,653.5 329.8,657.2L329.8,657.3Q289.3,653.5 249,658.9Z"/><path d="M249.1,660.1L249.1,660Q289.3,653.5 329.8,657.3L329.8,657.4Q289.3,653.5 249.1,660.1Z"/><path d="M249.3,661.2L249.3,661.2Q289.3,653.5 329.8,657.4L329.8,657.5Q289.3,653.5 249.3,661.2Z"/><path d="M249.6,662.4L249.6,662.3Q289.3,653.5 329.8,657.5L329.8,657.5Q289.3,653.5 249.6,662.4Z"/><path d="M249.9,663.6L249.9,663.5Q289.3,653.5 329.8,657.5L329.8,657.6Q289.3,653.5 249.9,663.6Z"/><path d="M250.1,664.6L250.1,664.5Q289.3,653.5 329.8,657.6L329.8,657.7Q289.3,653.5 250.1,664.6Z"/><path d="M250.5,665.7L250.4,665.6Q289.3,653.5 329.8,657.7L329.8,657.8Q289.3,653.5 250.5,665.7Z"/><path d="M250.8,666.8L250.8,666.7Q289.3,653.5 329.8,657.8L329.8,657.9Q289.3,653.5 250.8,666.8Z"/></g>
<g fill="#a6cee3" fill-opacity="0.07"><path d="M251.2,667.8L251.2,667.7Q289.3,653.5 329.8,657.9L329.8,657.9Q289.3,653.5 251.2,667.8Z"/><path d="M251.6,668.7L251.5,668.6Q289.3,653.5 329.8,657.9L329.8,658Q289.3,653.5 251.6,668.7Z"/><path d="M252,669.7L251.9,669.7Q289.3,653.5 329.8,658L329.8,658Q289.3,653.5 252,669.7Z"/><path d="M252.5,670.8L252.4,670.7Q289.3,653.5 329.8,658L329.7,658Q289.3,653.5 252.5,670.8Z"/><path d="M252.9,671.7L252.8,671.6Q289.3,653.5 329.7,658L329.7,658.1Q289.3,653.5 252.9,671.7Z"/><path d="M253.4,672.7L253.4,672.6Q289.3,653.5 329.7,658.1L329.7,658.1Q289.3,653.5 253.4,672.7Z"/><path d="M253.9,673.6L253.9,673.5Q289.3,653.5 329.7,658.1L329.7,658.1Q289.3,653.5 253.9,673.6Z"/><path d="M254.5,674.5L254.4,674.5Q289.3,653.5 329.7,658.1L329.7,658.2Q289.3,653.5 254.5,674.5Z"/><path d="M255,675.3L254.9,675.3Q289.3,653.5 329.7,658.2L329.7,658.2Q289.3,653.5 255,675.3Z"/><path d="M255.5,676.2L255.5,676.2Q289.3,653.5 329.7,658.2L329.7,658.2Q289.3,653.5 255.5,676.2Z"/><path d="M256.2,677.1L256.1,677.1Q289.3,653.5 329.7,658.2L329.7,658.2Q289.3,653.5 256.2,677.1Z"/><path d="M256.8,678L256.7,677.9Q289.3,653.5 329.7,658.2L329.7,658.3Q289.3,653.5 256.8,678Z"/><path d="M257.5,678.9L257.5,678.8Q289.3,653.5 329.7,658.3L329.7,658.4Q289.3,653.5 257.5,678.9Z"/><path d="M258.2,679.7L258.1,679.7Q289.3,653.5 329.7,658.4L329.7,658.4Q289.3,653.5 258.2,679.7Z"/><path d="M258.8,680.5L258.8,680.4Q289.3,653.5 329.7,658.4L329.7,658.4Q289.3,653.5 258.8,680.5Z"/><path d="M259.6,681.3L259.6,681.3Q289.3,653.5 329.7,658.4L329.7,658.4Q289.3,653.5 259.6,681.3Z"/><path d="M260.2,682L260.2,681.9Q289.3,653.5 329.7,658.4L329.7,658.5Q289.3,653.5 260.2,682Z"/><path d="M261,682.8L261,682.7Q289.3,653.5 329.7,658.5L329.7,658.5Q289.3,653.5 261,682.8Z"/><path d="M261.8,683.5L261.8,683.5Q289.3,653.5 329.7,658.5L329.7,658.6Q289.3,653.5 261.8,683.5Z"/><path d="M262.7,684.3L262.6,684.2Q289.3,653.5 329.7,658.6L329.7,658.6Q289.3,653.5 262.7,684.3Z"/><path d="M263.4,684.9L263.4,684.9Q289.3,653.5 329.7,658.6L329.7,658.6Q289.3,653.5 263.4,684.9Z"/><path d="M264.3,685.6L264.2,685.6Q289.3,653.5 329.7,658.6L329.7,658.7Q289.3,653.5 264.3,685.6Z"/><path d="M265.1,686.2L265,686.2Q289.3,653.5 329.7,658.7L329.7,658.7Q289.3,653.5 265.1,686.2Z"/><path d="M266,686.9L266,686.9Q289.3,653.5 329.7,658.7L329.7,658.7Q289.3,653.5 266,686.9Z"/><path d="M266.8,687.4L266.8,687.4Q289.3,653.5 329.7,658.7L329.7,658.7Q289.3,653.5 266.8,687.4Z"/><path d="M267.7,688L267.6,688Q289.3,653.5 329.7,658.7L329.7,658.8Q289.3,653.5 267.7,688Z"/><path d="M268.7,688.6L268.6,688.5Q289.3,653.5 329.7,658.8L329.7,658.8Q289.3,653.5 268.7,688.6Z"/><path d="M269.5,689.1L269.5,689Q289.3,653.5 329.7,658.8L329.7,658.8Q289.3,653.5 269.5,689.1Z"/></g>
<g fill="#1f78b4" fill-opacity="0.45"><path d="M290.4,612.8A40.7,40.7 0 0 1 299.1,614Q289.3,653.5 324.2,674.5A40.7,40.7 0 0 1 315.1,685Q289.3,653.5 290.4,612.8Z"/><path d="M278.1,614.4L279.5,614Q289.3,653.5 315.1,685L314.3,685.6Q289.3,653.5 278.1,614.4Z"/><path d="M272.7,616.3L273.7,615.9Q289.3,653.5 314.3,685.6L313.8,686Q289.3,653.5 272.7,616.3Z"/></g>
<g fill="#1f78b4" fill-opacity="0.36"><path d="M270.4,617.4L270.7,617.3Q289.3,653.5 313.8,686L313.7,686.1Q289.3,653.5 270.4,617.4Z"/><path d="M269.1,618.2L269.3,618.1Q289.3,653.5 313.7,686.1L313.6,686.1Q289.3,653.5 269.1,618.2Z"/><path d="M267.7,619L268.2,618.7Q289.3,653.5 313.6,686.1L313.4,686.3Q289.3,653.5 267.7,619Z"/><path d="M266.4,619.8L266.7,619.7Q289.3,653.5 313.4,686.3L313.3,686.4Q289.3,653.5 266.4,619.8Z"/><path d="M265.1,620.7L265.5,620.5Q289.3,653.5 313.3,686.4L313.1,686.5Q289.3,653.5 265.1,620.7Z"/><path d="M263.8,621.8L263.9,621.7Q289.3,653.5 313.1,686.5L313,686.6Q289.3,653.5 263.8,621.8Z"/><path d="M262.6,622.8L263.1,622.4Q289.3,653.5 313,686.6L312.8,686.7Q289.3,653.5 262.6,622.8Z"/><path d="M261.5,623.7L261.8,623.5Q289.3,653.5 312.8,686.7L312.7,686.8Q289.3,653.5 261.5,623.7Z"/><path d="M260.4,624.8L260.6,624.7Q289.3,653.5 312.7,686.8L312.6,686.9Q289.3,653.5 260.4,624.8Z"/><path d="M259.3,626L259.4,625.9Q289.3,653.5 312.6,686.9L312.5,687Q289.3,653.5 259.3,626Z"/><path d="M258.2,627.2L258.5,626.9Q289.3,653.5 312.5,687L312.3,687.1Q289.3,653.5 258.2,627.2Z"/></g>
<g fill="#1f78b4" fill-opacity="0.14"><path d="M258.2,627.3L258.2,627.2Q289.3,653.5 312.3,687.1L312.3,687.1Q289.3,653.5 258.2,627.3Z"/><path d="M257.4,628.2L257.5,628.1Q289.3,653.5 312.3,687.1L312.3,687.1Q289.3,653.5 257.4,628.2Z"/><path d="M256.7,629.2L256.7,629.1Q289.3,653.5 312.3,687.1L312.3,687.1Q289.3,653.5 256.7,629.2Z"/><path d="M256,630L256.1,630Q289.3,653.5 312.3,687.1L312.2,687.1Q289.3,653.5 256,630Z"/><path d="M255.4,631L255.5,630.9Q289.3,653.5 312.2,687.1L312.2,687.1Q289.3,653.5 255.4,631Z"/><path d="M254.8,631.9L254.8,631.9Q289.3,653.5 312.2,687.1L312.2,687.1Q289.3,653.5 254.8,631.9Z"/><path d="M254.2,632.9L254.2,632.9Q289.3,653.5 312.2,687.1L312.2,687.1Q289.3,653.5 254.2,632.9Z"/><path d="M253.6,634L253.6,633.9Q289.3,653.5 312.2,687.1L312.2,687.2Q289.3,653.5 253.6,634Z"/><path d="M253.1,634.8L253.1,634.8Q289.3,653.5 312.2,687.2L312.2,687.2Q289.3,653.5 253.1,634.8Z"/><path d="M252.6,636L252.6,635.9Q289.3,653.5 312.2,687.2L312.2,687.2Q289.3,653.5 252.6,636Z"/><path d="M252.1,637.1L252.1,637Q289.3,653.5 312.2,687.2L312.1,687.2Q289.3,653.5 252.1,637.1Z"/><path d="M251.7,638L251.7,637.9Q289.3,653.5 312.1,687.2L312.1,687.2Q289.3,653.5 251.7,638Z"/><path d="M251.3,639L251.3,638.9Q289.3,653.5 312.1,687.2L312.1,687.2Q289.3,653.5 251.3,639Z"/><path d="M250.9,640.1L250.9,640Q289.3,653.5 312.1,687.2L312.1,687.2Q289.3,653.5 250.9,640.1Z"/><path d="M250.5,641.3L250.5,641.2Q289.3,653.5 312.1,687.2L312.1,687.2Q289.3,653.5 250.5,641.3Z"/><path d="M250.2,642.2L250.2,642.1Q289.3,653.5 312.1,687.2L312.1,687.2Q289.3,653.5 250.2,642.2Z"/><path d="M249.9,643.4L249.9,643.3Q289.3,653.5 312.1,687.2L312,687.2Q289.3,653.5 249.9,643.4Z"/><path d="M249.6,644.4L249.6,644.3Q289.3,653.5 312,687.2L312,687.3Q289.3,653.5 249.6,644.4Z"/><path d="M249.3,645.8L249.4,645.7Q289.3,653.5 312,687.3L312,687.3Q289.3,653.5 249.3,645.8Z"/><path d="M249.2,646.6L249.2,646.6Q289.3,653.5 312,687.3L312,687.3Q289.3,653.5 249.2,646.6Z"/><path d="M249,647.9L249,647.8Q289.3,653.5 312,687.3L312,687.3Q289.3,653.5 249,647.9Z"/><path d="M248.9,649L248.9,648.9Q289.3,653.5 312,687.3L312,687.3Q289.3,653.5 248.9,649Z"/><path d="M248.8,650L248.8,649.9Q289.3,653.5 312,687.3L311.9,687.3Q289.3,653.5 248.8,650Z"/><path d="M248.7,651.3L248.7,651.2Q289.3,653.5 311.9,687.3L311.9,687.3Q289.3,653.5 248.7,651.3Z"/><path d="M248.6,652.3L248.6,652.2Q289.3,653.5 311.9,687.3L311.9,687.3Q289.3,653.5 248.6,652.3Z"/><path d="M248.6,653.5L248.6,653.4Q289.3,653.5 311.9,687.3L311.9,687.3Q289.3,653.5 248.6,653.5Z"/><path d="M248.6,654.7L248.6,654.6Q289.3,653.5 311.9,687.3L311.9,687.4Q289.3,653.5 248.6,654.7Z"/><path d="M248.7,655.8L248.7,655.7Q289.3,653.5 311.9,687.4L311.9,687.4Q289.3,653.5 248.7,655.8Z"/><path d="M248.7,656.9L248.7,656.8Q289.3,653.5 311.9,687.4L311.9,687.4Q289.3,653.5 248.7,656.9Z"/><path d="M248.9,658.1L248.8,658Q289.3,653.5 311.9,687.4L311.8,687.4Q289.3,653.5 248.9,658.1Z"/><path d="M249,659.1L249,659Q289.3,653.5 311.8,687.4L311.8,687.4Q289.3,653.5 249,659.1Z"/><path d="M249.2,660.2L249.1,660.1Q289.3,653.5 311.8,687.4L311.8,687.4Q289.3,653.5 249.2,660.2Z"/><path d="M249.4,661.5L249.4,661.4Q289.3,653.5 311.8,687.4L311.8,687.4Q289.3,653.5 249.4,661.5Z"/><path d="M249.6,662.5L249.6,662.4Q289.3,653.5 311.8,687.4L311.8,687.4Q289.3,653.5 249.6,662.5Z"/><path d="M249.9,663.8L249.9,663.7Q289.3,653.5 311.8,687.4L311.7,687.5Q289.3,653.5 249.9,663.8Z"/><path d="M250.2,664.7L250.2,664.6Q289.3,653.5 311.7,687.5L311.7,687.5Q289.3,653.5 250.2,664.7Z"/><path d="M250.5,665.9L250.5,665.8Q289.3,653.5 311.7,687.5L311.7,687.5Q289.3,653.5 250.5,665.9Z"/><path d="M250.9,666.9L250.8,666.8Q289.3,653.5 311.7,687.5L311.7,687.5Q289.3,653.5 250.9,666.9Z"/></g>
<g fill="#1f78b4" fill-opacity="0.07"><path d="M251.2,667.9L251.2,667.9Q289.3,653.5 311.7,687.5L311.7,687.5Q289.3,653.5 251.2,667.9Z"/><path d="M251.6,668.9L251.6,668.8Q289.3,653.5 311.7,687.5L311.7,687.5Q289.3,653.5 251.6,668.9Z"/><path d="M252,669.9L252,669.8Q289.3,653.5 311.7,687.5L311.7,687.5Q289.3,653.5 252,669.9Z"/><path d="M252.5,670.9L252.5,670.9Q289.3,653.5 311.7,687.5L311.7,687.5Q289.3,653.5 252.5,670.9Z"/><path d="M253,671.8L252.9,671.7Q289.3,653.5 311.7,687.5L311.6,687.5Q289.3,653.5 253,671.8Z"/><path d="M253.5,672.8L253.4,672.7Q289.3,653.5 311.6,687.5L311.6,687.5Q289.3,653.5 253.5,672.8Z"/><path d="M254,673.7L253.9,673.7Q289.3,653.5 311.6,687.5L311.6,687.5Q289.3,653.5 254,673.7Z"/><path d="M254.5,674.6L254.5,674.6Q289.3,653.5 311.6,687.5L311.6,687.5Q289.3,653.5 254.5,674.6Z"/><path d="M255,675.5L255,675.4Q289.3,653.5 311.6,687.5L311.6,687.5Q289.3,653.5 255,675.5Z"/><path d="M255.6,676.4L255.6,676.3Q289.3,653.5 311.6,687.5L311.6,687.5Q289.3,653.5 255.6,676.4Z"/><path d="M256.3,677.3L256.2,677.2Q289.3,653.5 311.6,687.5L311.6,687.5Q289.3,653.5 256.3,677.3Z"/><path d="M256.9,678.2L256.9,678.1Q289.3,653.5 311.6,687.5L311.6,687.6Q289.3,653.5 256.9,678.2Z"/><path d="M257.6,679.1L257.6,679Q289.3,653.5 311.6,687.6L311.6,687.6Q289.3,653.5 257.6,679.1Z"/><path d="M258.3,679.9L258.3,679.8Q289.3,653.5 311.6,687.6L311.6,687.6Q289.3,653.5 258.3,679.9Z"/><path d="M258.9,680.6L258.9,680.5Q289.3,653.5 311.6,687.6L311.6,687.6Q289.3,653.5 258.9,680.6Z"/><path d="M259.7,681.4L259.7,681.4Q289.3,653.5 311.6,687.6L311.6,687.6Q289.3,653.5 259.7,681.4Z"/><path d="M260.3,682.1L260.3,682.1Q289.3,653.5 311.6,687.6L311.5,687.6Q289.3,653.5 260.3,682.1Z"/><path d="M261.2,682.9L261.1,682.9Q289.3,653.5 311.5,687.6L311.5,687.6Q289.3,653.5 261.2,682.9Z"/><path d="M261.9,683.6L261.9,683.6Q289.3,653.5 311.5,687.6L311.5,687.6Q289.3,653.5 261.9,683.6Z"/><path d="M262.8,684.4L262.7,684.3Q289.3,653.5 311.5,687.6L311.5,687.6Q289.3,653.5 262.8,684.4Z"/><path d="M263.5,685L263.5,684.9Q289.3,653.5 311.5,687.6L311.5,687.6Q289.3,653.5 263.5,685Z"/><path d="M264.4,685.7L264.3,685.6Q289.3,653.5 311.5,687.6L311.5,687.6Q289.3,653.5 264.4,685.7Z"/><path d="M265.2,686.3L265.1,686.3Q289.3,653.5 311.5,687.6L311.5,687.6Q289.3,653.5 265.2,686.3Z"/><path d="M266.1,686.9L266.1,686.9Q289.3,653.5 311.5,687.6L311.5,687.6Q289.3,653.5 266.1,686.9Z"/><path d="M266.9,687.5L266.8,687.4Q289.3,653.5 311.5,687.6L311.5,687.6Q289.3,653.5 266.9,687.5Z"/><path d="M267.9,688.1L267.8,688.1Q289.3,653.5 311.5,687.6L311.5,687.6Q289.3,653.5 267.9,688.1Z"/><path d="M268.7,688.6L268.7,688.6Q289.3,653.5 311.5,687.6L311.5,687.6Q289.3,653.5 268.7,688.6Z"/><path d="M269.6,689.1L269.6,689.1Q289.3,653.5 311.5,687.6L311.5,687.6Q289.3,653.5 269.6,689.1Z"/></g>
<g fill="#33a02c" fill-opacity="0.5"><path d="M282.2,613.4A40.7,40.7 0 0 1 289.7,612.8Q289.3,653.5 329.3,661.3A40.7,40.7 0 0 1 327.1,668.7Q289.3,653.5 282.2,613.4Z"/><path d="M279.5,614A40.7,40.7 0 0 1 281.5,613.5Q289.3,653.5 327.1,668.7L326.6,669.9Q289.3,653.5 279.5,614Z"/><path d="M275.4,615.3L276.4,614.9Q289.3,653.5 326.6,669.9L326.4,670.3Q289.3,653.5 275.4,615.3Z"/><path d="M273.7,615.9L274.7,615.5Q289.3,653.5 326.4,670.3L326.2,670.7Q289.3,653.5 273.7,615.9Z"/></g>
<g fill="#33a02c" fill-opacity="0.4"><path d="M270.7,617.3L271.1,617.1Q289.3,653.5 326.2,670.7L326.1,670.9Q289.3,653.5 270.7,617.3Z"/><path d="M269.3,618.1L269.8,617.8Q289.3,653.5 326.1,670.9L326,671.1Q289.3,653.5 269.3,618.1Z"/><path d="M268.2,618.7L268.4,618.6Q289.3,653.5 326,671.1L325.9,671.2Q289.3,653.5 268.2,618.7Z"/><path d="M266.7,619.7L267.1,619.4Q289.3,653.5 325.9,671.2L325.9,671.4Q289.3,653.5 266.7,619.7Z"/><path d="M265.5,620.5L265.7,620.3Q289.3,653.5 325.9,671.4L325.8,671.5Q289.3,653.5 265.5,620.5Z"/><path d="M263.9,621.7L264.4,621.3Q289.3,653.5 325.8,671.5L325.7,671.7Q289.3,653.5 263.9,621.7Z"/><path d="M263.1,622.4L263.3,622.2Q289.3,653.5 325.7,671.7L325.6,671.9Q289.3,653.5 263.1,622.4Z"/><path d="M261.8,623.5L262,623.3Q289.3,653.5 325.6,671.9L325.6,672Q289.3,653.5 261.8,623.5Z"/><path d="M260.6,624.7L261,624.3Q289.3,653.5 325.6,672L325.5,672.2Q289.3,653.5 260.6,624.7Z"/><path d="M259.4,625.9L259.7,625.6Q289.3,653.5 325.5,672.2L325.4,672.3Q289.3,653.5 259.4,625.9Z"/><path d="M258.5,626.9L258.8,626.6Q289.3,653.5 325.4,672.3L325.3,672.5Q289.3,653.5 258.5,626.9Z"/></g>
<g fill="#33a02c" fill-opacity="0.15"><path d="M258.2,627.2L258.3,627.2Q289.3,653.5 325.3,672.5L325.3,672.5Q289.3,653.5 258.2,627.2Z"/><path d="M257.5,628.1L257.5,628.1Q289.3,653.5 325.3,672.5L325.3,672.5Q289.3,653.5 257.5,628.1Z"/><path d="M256.7,629.1L256.8,629Q289.3,653.5 325.3,672.5L325.3,672.5Q289.3,653.5 256.7,629.1Z"/><path d="M256.1,630L256.1,629.9Q289.3,653.5 325.3,672.5L325.3,672.6Q289.3,653.5 256.1,630Z"/><path d="M255.5,630.9L255.5,630.8Q289.3,653.5 325.3,672.6L325.3,672.6Q289.3,653.5 255.5,630.9Z"/><path d="M254.8,631.9L254.9,631.8Q289.3,653.5 325.3,672.6L325.3,672.6Q289.3,653.5 254.8,631.9Z"/><path d="M254.2,632.9L254.2,632.9Q289.3,653.5 325.3,672.6L325.2,672.6Q289.3,653.5 254.2,632.9Z"/><path d="M253.6,633.9L253.6,633.9Q289.3,653.5 325.2,672.6L325.2,672.6Q289.3,653.5 253.6,633.9Z"/><path d="M253.1,634.8L253.2,634.7Q289.3,653.5 325.2,672.6L325.2,672.6Q289.3,653.5 253.1,634.8Z"/><path d="M252.6,635.9L252.7,635.7Q289.3,653.5 325.2,672.6L325.2,672.6Q289.3,653.5 252.6,635.9Z"/><path d="M252.1,637L252.1,636.9Q289.3,653.5 325.2,672.6L325.2,672.7Q289.3,653.5 252.1,637Z"/><path d="M251.7,637.9L251.7,637.8Q289.3,653.5 325.2,672.7L325.2,672.7Q289.3,653.5 251.7,637.9Z"/><path d="M251.3,638.9L251.3,638.8Q289.3,653.5 325.2,672.7L325.2,672.7Q289.3,653.5 251.3,638.9Z"/><path d="M250.9,640L250.9,640Q289.3,653.5 325.2,672.7L325.2,672.7Q289.3,653.5 250.9,640Z"/><path d="M250.5,641.2L250.5,641.1Q289.3,653.5 325.2,672.7L325.2,672.7Q289.3,653.5 250.5,641.2Z"/><path d="M250.2,642.1L250.2,642.1Q289.3,653.5 325.2,672.7L325.2,672.7Q289.3,653.5 250.2,642.1Z"/><path d="M249.9,643.3L249.9,643.2Q289.3,653.5 325.2,672.7L325.2,672.8Q289.3,653.5 249.9,643.3Z"/><path d="M249.6,644.3L249.7,644.3Q289.3,653.5 325.2,672.8L325.1,672.8Q289.3,653.5 249.6,644.3Z"/><path d="M249.4,645.7L249.4,645.5Q289.3,653.5 325.1,672.8L325.1,672.8Q289.3,653.5 249.4,645.7Z"/><path d="M249.2,646.6L249.2,646.5Q289.3,653.5 325.1,672.8L325.1,672.8Q289.3,653.5 249.2,646.6Z"/><path d="M249,647.8L249,647.6Q289.3,653.5 325.1,672.8L325.1,672.8Q289.3,653.5 249,647.8Z"/><path d="M248.9,648.9L248.9,648.8Q289.3,653.5 325.1,672.8L325.1,672.8Q289.3,653.5 248.9,648.9Z"/><path d="M248.8,649.9L248.8,649.8Q289.3,653.5 325.1,672.8L325.1,672.9Q289.3,653.5 248.8,649.9Z"/><path d="M248.7,651.2L248.7,651.2Q289.3,653.5 325.1,672.9L325.1,672.9Q289.3,653.5 248.7,651.2Z"/><path d="M248.6,652.2L248.6,652.2Q289.3,653.5 325.1,672.9L325.1,672.9Q289.3,653.5 248.6,652.2Z"/><path d="M248.6,653.4L248.6,653.4Q289.3,653.5 325.1,672.9L325.1,672.9Q289.3,653.5 248.6,653.4Z"/><path d="M248.6,654.6L248.6,654.4Q289.3,653.5 325.1,672.9L325.1,672.9Q289.3,653.5 248.6,654.6Z"/><path d="M248.7,655.7L248.7,655.7Q289.3,653.5 325.1,672.9L325.1,672.9Q289.3,653.5 248.7,655.7Z"/><path d="M248.7,656.8L248.7,656.8Q289.3,653.5 325.1,672.9L325.1,672.9Q289.3,653.5 248.7,656.8Z"/><path d="M248.8,658L248.8,657.9Q289.3,653.5 325.1,672.9L325.1,672.9Q289.3,653.5 248.8,658Z"/><path d="M249,659L249,658.9Q289.3,653.5 325.1,672.9L325.1,673Q289.3,653.5 249,659Z"/><path d="M249.1,660.1L249.1,660.1Q289.3,653.5 325.1,673L325,673Q289.3,653.5 249.1,660.1Z"/><path d="M249.4,661.4L249.3,661.2Q289.3,653.5 325,673L325,673Q289.3,653.5 249.4,661.4Z"/><path d="M249.6,662.4L249.6,662.4Q289.3,653.5 325,673L325,673Q289.3,653.5 249.6,662.4Z"/><path d="M249.9,663.7L249.9,663.6Q289.3,653.5 325,673L325,673Q289.3,653.5 249.9,663.7Z"/><path d="M250.2,664.6L250.1,664.6Q289.3,653.5 325,673L325,673Q289.3,653.5 250.2,664.6Z"/><path d="M250.5,665.8L250.5,665.7Q289.3,653.5 325,673L325,673Q289.3,653.5 250.5,665.8Z"/><path d="M250.8,666.8L250.8,666.8Q289.3,653.5 325,673L325,673Q289.3,653.5 250.8,666.8Z"/></g>
<g fill="#33a02c" fill-opacity="0.07"><path d="M251.2,667.9L251.2,667.8Q289.3,653.5 325,673L325,673.1Q289.3,653.5 251.2,667.9Z"/><path d="M251.6,668.8L251.6,668.7Q289.3,653.5 325,673.1L325,673.1Q289.3,653.5 251.6,668.8Z"/><path d="M252,669.8L252,669.7Q289.3,653.5 325,673.1L325,673.1Q289.3,653.5 252,669.8Z"/><path d="M252.5,670.9L252.5,670.8Q289.3,653.5 325,673.1L325,673.1Q289.3,653.5 252.5,670.9Z"/><path d="M252.9,671.7L252.9,671.7Q289.3,653.5 325,673.1L325,673.1Q289.3,653.5 252.9,671.7Z"/><path d="M253.4,672.7L253.4,672.7Q289.3,653.5 325,673.1L325,673.1Q289.3,653.5 253.4,672.7Z"/><path d="M253.9,673.7L253.9,673.6Q289.3,653.5 325,673.1L325,673.1Q289.3,653.5 253.9,673.7Z"/><path d="M254.5,674.6L254.5,674.5Q289.3,653.5 325,673.1L325,673.1Q289.3,653.5 254.5,674.6Z"/><path d="M255,675.4L255,675.3Q289.3,653.5 325,673.1L325,673.1Q289.3,653.5 255,675.4Z"/><path d="M255.6,676.3L255.5,676.2Q289.3,653.5 325,673.1L325,673.1Q289.3,653.5 255.6,676.3Z"/><path d="M256.2,677.2L256.2,677.1Q289.3,653.5 325,673.1L325,673.1Q289.3,653.5 256.2,677.2Z"/><path d="M256.9,678.1L256.8,678Q289.3,653.5 325,673.1L325,673.1Q289.3,653.5 256.9,678.1Z"/><path d="M257.6,679L257.5,678.9Q289.3,653.5 325,673.1L325,673.1Q289.3,653.5 257.6,679Z"/><path d="M258.3,679.8L258.2,679.7Q289.3,653.5 325,673.1L324.9,673.1Q289.3,653.5 258.3,679.8Z"/><path d="M258.9,680.5L258.8,680.5Q289.3,653.5 324.9,673.1L324.9,673.1Q289.3,653.5 258.9,680.5Z"/><path d="M259.7,681.4L259.6,681.3Q289.3,653.5 324.9,673.1L324.9,673.2Q289.3,653.5 259.7,681.4Z"/><path d="M260.3,682.1L260.2,682Q289.3,653.5 324.9,673.2L324.9,673.2Q289.3,653.5 260.3,682.1Z"/><path d="M261.1,682.9L261,682.8Q289.3,653.5 324.9,673.2L324.9,673.2Q289.3,653.5 261.1,682.9Z"/><path d="M261.9,683.6L261.8,683.5Q289.3,653.5 324.9,673.2L324.9,673.2Q289.3,653.5 261.9,683.6Z"/><path d="M262.7,684.3L262.7,684.3Q289.3,653.5 324.9,673.2L324.9,673.2Q289.3,653.5 262.7,684.3Z"/><path d="M263.5,684.9L263.4,684.9Q289.3,653.5 324.9,673.2L324.9,673.2Q289.3,653.5 263.5,684.9Z"/><path d="M264.3,685.6L264.3,685.6Q289.3,653.5 324.9,673.2L324.9,673.2Q289.3,653.5 264.3,685.6Z"/><path d="M265.1,686.3L265.1,686.2Q289.3,653.5 324.9,673.2L324.9,673.2Q289.3,653.5 265.1,686.3Z"/><path d="M266.1,686.9L266,686.9Q289.3,653.5 324.9,673.2L324.9,673.2Q289.3,653.5 266.1,686.9Z"/><path d="M266.8,687.4L266.8,687.4Q289.3,653.5 324.9,673.2L324.9,673.2Q289.3,653.5 266.8,687.4Z"/><path d="M267.8,688.1L267.7,688Q289.3,653.5 324.9,673.2L324.9,673.2Q289.3,653.5 267.8,688.1Z"/><path d="M268.7,688.6L268.7,688.6Q289.3,653.5 324.9,673.2L324.9,673.2Q289.3,653.5 268.7,688.6Z"/><path d="M269.6,689.1L269.5,689.1Q289.3,653.5 324.9,673.2L324.9,673.2Q289.3,653.5 269.6,689.1Z"/></g>
<path fill="#cab2d6" d="M268.6,692.2L268,691.9L269.1,689.8L269.8,690.1ZM254.7,680.5L254.2,679.9L256.1,678.4L256.6,679ZM253.1,628.7L253.6,628L255.5,629.4L255.1,630ZM258,622.7L258.8,621.9L260.4,623.7L259.7,624.4ZM290.4,609.6A43.9,43.9 0 0 1 299.9,610.9L299.3,613.2A41.5,41.5 0 0 0 290.4,612Z"/><path fill="#fb9a99" d="M267.7,691.7L267,691.3L268.2,689.2L268.8,689.6ZM258.5,684.8L257.9,684.2L259.7,682.5L260.2,683.1ZM249.3,671.7L249,671L251.2,670L251.5,670.7ZM245.9,660.1L245.8,659.3L248.2,659L248.3,659.8ZM245.6,649.2L245.7,648.4L248.1,648.7L248,649.5ZM248.5,637.3L248.8,636.5L251,637.5L250.7,638.2ZM250.5,632.9L250.9,632.2L253,633.4L252.7,634Z"/><path fill="#b2df8a" d="M266.6,691.1L266,690.7L267.3,688.7L267.9,689ZM256.2,682.3L255.7,681.7L257.5,680.2L258,680.7ZM255.4,681.4L254.9,680.8L256.8,679.3L257.3,679.9ZM249.8,672.7L249.5,672L251.7,671L252,671.7ZM247.3,666.2L247,665.4L249.4,664.7L249.6,665.5ZM246.4,662.6L246.2,661.8L248.5,661.3L248.7,662.1ZM245.6,657.7L245.5,656.9L247.9,656.7L248,657.5ZM253.8,627.6L254.3,627L256.2,628.4L255.8,629.1ZM267.3,615.5L268.3,615L269.4,617.1L268.5,617.6ZM268.7,614.7L269.7,614.2L270.8,616.4L269.9,616.8ZM311.9,691.1A43.9,43.9 0 0 1 268.7,692.3L269.8,690.1A41.5,41.5 0 0 0 310.7,689.1Z"/><path fill="#f5f08a" d="M265.7,690.5L265,690.1L266.4,688.1L267,688.5ZM245.4,651.7L245.5,650.9L247.9,651L247.8,651.8Z"/><path fill="#fdbf6f" d="M264.8,689.9L264.2,689.5L265.5,687.5L266.1,687.9ZM257.7,684L257.2,683.5L259,681.8L259.4,682.3ZM248.1,638.4L248.4,637.7L250.6,638.5L250.3,639.3Z"/><path fill="#f7c6d0" d="M263.8,689.2L263.2,688.8L264.6,686.8L265.2,687.3ZM253.3,678.6L252.9,678L254.9,676.7L255.3,677.3ZM245.4,655.3L245.4,654.5L247.8,654.4L247.8,655.2ZM245.4,654.1L245.4,653.3L247.8,653.3L247.8,654.1ZM245.8,647.9L245.9,647.1L248.2,647.5L248.1,648.2ZM246.4,644.3L246.5,643.5L248.9,644.1L248.7,644.8ZM246.9,641.9L247.2,641.2L249.5,641.8L249.3,642.6ZM247.3,640.8L247.5,640.1L249.8,640.8L249.6,641.5ZM249.5,635L249.8,634.3L252,635.3L251.7,636Z"/><path fill="#f4a582" d="M262.9,688.5L262.3,688.1L263.7,686.2L264.3,686.6ZM260.2,686.4L259.6,685.9L261.2,684.1L261.8,684.6ZM259.3,685.6L258.8,685.1L260.4,683.3L261,683.8ZM256.9,683.1L256.4,682.6L258.2,681L258.7,681.5ZM248.9,670.6L248.6,669.9L250.8,669L251.1,669.7ZM247.6,639.6L247.9,638.9L250.2,639.7L249.9,640.4Z"/><path fill="#c2a5cf" d="M261.9,687.8L261.3,687.4L262.9,685.5L263.4,686ZM252.1,676.8L251.7,676.1L253.7,674.9L254.1,675.5ZM246.6,643.1L246.8,642.3L249.2,642.9L249,643.7ZM252.4,629.7L252.9,629L254.9,630.4L254.4,631Z"/><path fill="#a6dba0" d="M261.1,687.1L260.5,686.6L262.1,684.8L262.6,685.3ZM252.7,677.7L252.2,677L254.3,675.8L254.7,676.4ZM246.1,661.3L246,660.5L248.3,660.2L248.5,660.9ZM245.5,650.4L245.6,649.6L248,649.8L247.9,650.5ZM248.9,636.2L249.3,635.5L251.4,636.5L251.2,637.2ZM255.3,625.7L255.8,625.1L257.7,626.7L257.2,627.2Z"/><path fill="#9bb8e0" d="M254,679.6L253.5,679L255.5,677.6L255.9,678.2ZM250.3,673.7L250,673L252.1,672L252.5,672.6ZM248.4,669.5L248.2,668.8L250.4,668L250.7,668.7ZM248,668.5L247.8,667.7L250,667L250.3,667.7ZM245.5,656.6L245.5,655.8L247.9,655.7L247.9,656.4ZM245.9,646.7L246.1,645.9L248.4,646.4L248.3,647.1ZM254.5,626.7L255,626L256.9,627.5L256.4,628.2Z"/><path fill="#fcd9a0" d="M251.5,675.8L251.1,675.1L253.2,673.9L253.5,674.6ZM250.9,674.8L250.5,674.1L252.7,673L253,673.6ZM247.6,667.3L247.4,666.6L249.7,665.8L249.9,666.6ZM245.7,659L245.7,658.2L248,657.9L248.1,658.7ZM246.1,645.6L246.3,644.8L248.6,645.3L248.5,646Z"/><path fill="#a6cee3" d="M246.9,665L246.7,664.3L249.1,663.7L249.3,664.4ZM246.6,663.8L246.4,663L248.8,662.5L249,663.2ZM245.4,652.8L245.4,652L247.8,652.1L247.8,652.9ZM250,633.9L250.4,633.2L252.5,634.3L252.1,635ZM251.1,631.8L251.5,631.1L253.6,632.4L253.2,633ZM251.8,630.7L252.2,630.1L254.2,631.3L253.8,632ZM261.7,619.4L262.5,618.7L263.9,620.6L263.2,621.2ZM333.1,651.2A43.9,43.9 0 0 1 332.8,659.2L330.4,658.9A41.5,41.5 0 0 0 330.7,651.3Z"/><path fill="#b15928" d="M255.7,625.2L256.4,624.4L258.2,626L257.5,626.8ZM277.2,611.3A43.9,43.9 0 0 1 280.9,610.4L281.4,612.8A41.5,41.5 0 0 0 277.9,613.6Z"/><path fill="#1f78b4" d="M256.8,624L257.5,623.2L259.2,624.9L258.6,625.6ZM271.4,613.4A43.9,43.9 0 0 1 273.6,612.5L274.4,614.8A41.5,41.5 0 0 0 272.4,615.6ZM326.9,676.1A43.9,43.9 0 0 1 313.2,690.3L311.9,688.3A41.5,41.5 0 0 0 324.9,674.9Z"/><path fill="#ff7f00" d="M259.1,621.6L259.9,620.9L261.5,622.7L260.8,623.3Z"/><path fill="#ffff99" d="M260.5,620.4L261.3,619.7L262.8,621.5L262,622.2ZM264.5,617.3L265.4,616.7L266.7,618.7L265.8,619.3ZM265.8,616.4L266.8,615.8L268,617.9L267.1,618.4ZM281.7,610.3A43.9,43.9 0 0 1 289.7,609.6L289.7,612A41.5,41.5 0 0 0 282.1,612.6Z"/><path fill="#6a3d9a" d="M263.1,618.3L264,617.7L265.3,619.6L264.5,620.2Z"/><path fill="#33a02c" d="M300.7,611.1A43.9,43.9 0 0 1 330.8,639.2L328.5,640A41.5,41.5 0 0 0 300,613.4ZM332.4,661.9A43.9,43.9 0 0 1 327.7,674.8L325.6,673.6A41.5,41.5 0 0 0 330,661.4Z"/><path fill="#e31a1c" d="M274.3,612.2A43.9,43.9 0 0 1 276.5,611.5L277.2,613.8A41.5,41.5 0 0 0 275.1,614.5Z"/>
<line x1="290.51" y1="699.88" x2="290.62" y2="703.88" stroke="#777" stroke-width="0.7"/>
<line x1="322.68" y1="685.73" x2="325.55" y2="688.51" stroke="#777" stroke-width="0.7"/>
<line x1="332.90" y1="669.37" x2="336.66" y2="670.74" stroke="#777" stroke-width="0.7"/>
<line x1="335.66" y1="655.32" x2="339.66" y2="655.48" stroke="#777" stroke-width="0.7"/>
<line x1="320.94" y1="619.57" x2="323.67" y2="616.64" stroke="#777" stroke-width="0.7"/>
<line x1="295.56" y1="607.52" x2="296.10" y2="603.56" stroke="#777" stroke-width="0.7"/>
<line x1="285.46" y1="607.26" x2="285.13" y2="603.27" stroke="#777" stroke-width="0.7"/>
<line x1="278.47" y1="608.38" x2="277.53" y2="604.49" stroke="#777" stroke-width="0.7"/>
<text x="17.00" y="500.60" font-size="8.2" textLength="18.00" lengthAdjust="spacingAndGlyphs">WT1</text>
<text x="125.80" y="500.60" font-size="8.2" textLength="18.00" lengthAdjust="spacingAndGlyphs">WT2</text>
<text x="238.50" y="500.60" font-size="8.2" textLength="18.00" lengthAdjust="spacingAndGlyphs">WT3</text>
<text x="17.00" y="606.20" font-size="8.2" textLength="18.30" lengthAdjust="spacingAndGlyphs">MH1</text>
<text x="125.80" y="606.90" font-size="8.2" textLength="18.30" lengthAdjust="spacingAndGlyphs">MH2</text>
<text x="237.80" y="606.90" font-size="8.2" textLength="18.30" lengthAdjust="spacingAndGlyphs">MH3</text>
<rect x="0.6" y="0.5" width="518.2" height="708.0" fill="none" stroke="#000" stroke-width="1.3"/>
</svg>
</body></html>
